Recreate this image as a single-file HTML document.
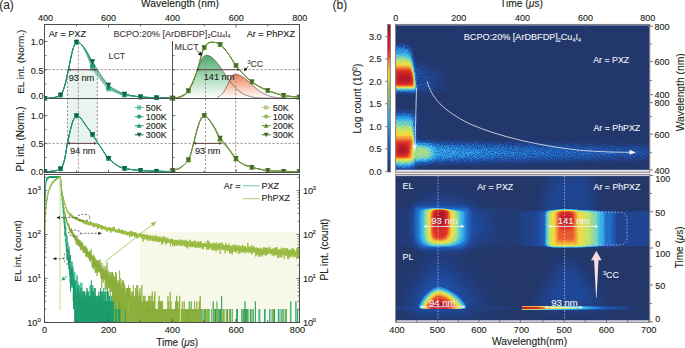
<!DOCTYPE html><html><head><meta charset="utf-8"><style>html,body{margin:0;padding:0;background:#fff;overflow:hidden;width:685px;height:348px;}svg{display:block;font-family:"Liberation Sans", sans-serif;}</style></head><body>
<svg width="685" height="348" viewBox="0 0 685 348">
<text x="-0.80" y="9.00" font-size="12.00" fill="#231f20" stroke="#231f20" stroke-width="0.05" text-anchor="start" >(a)</text>
<text x="332.60" y="9.00" font-size="12.00" fill="#231f20" stroke="#231f20" stroke-width="0.05" text-anchor="start" >(b)</text>
<text x="180.00" y="7.30" font-size="10.30" fill="#231f20" stroke="#231f20" stroke-width="0.12" text-anchor="middle" >Wavelength (nm)</text>
<text x="45.50" y="20.80" font-size="9.00" fill="#231f20" stroke="#231f20" stroke-width="0.12" text-anchor="middle" >400</text>
<text x="108.50" y="20.80" font-size="9.00" fill="#231f20" stroke="#231f20" stroke-width="0.12" text-anchor="middle" >600</text>
<text x="172.50" y="20.80" font-size="9.00" fill="#231f20" stroke="#231f20" stroke-width="0.12" text-anchor="middle" >400</text>
<text x="236.30" y="20.80" font-size="9.00" fill="#231f20" stroke="#231f20" stroke-width="0.12" text-anchor="middle" >600</text>
<text x="299.80" y="20.80" font-size="9.00" fill="#231f20" stroke="#231f20" stroke-width="0.12" text-anchor="middle" >800</text>
<rect x="67.5" y="69.7" width="29.8" height="28.3" fill="#e9f4ee"/>
<rect x="67.5" y="98" width="29.8" height="45.4" fill="#e9f4ee"/>
<defs><linearGradient id="gM" x1="0" y1="0" x2="0" y2="1"><stop offset="0" stop-color="#4aa86c"/><stop offset="0.55" stop-color="#b0dcbc"/><stop offset="1" stop-color="#ffffff"/></linearGradient><linearGradient id="gC" x1="0" y1="0" x2="0" y2="1"><stop offset="0" stop-color="#ec7c58"/><stop offset="0.5" stop-color="#f6c0aa"/><stop offset="1" stop-color="#ffffff"/></linearGradient></defs>
<path d="M178.85,97.59 L179.49,97.44 L180.12,97.27 L180.75,97.07 L181.39,96.83 L182.03,96.56 L182.66,96.24 L183.29,95.88 L183.93,95.47 L184.56,95.00 L185.20,94.47 L185.84,93.87 L186.47,93.20 L187.10,92.46 L187.74,91.65 L188.38,90.75 L189.01,89.77 L189.65,88.70 L190.28,87.55 L190.91,86.31 L191.55,84.99 L192.19,83.59 L192.82,82.12 L193.46,80.57 L194.09,78.97 L194.72,77.31 L195.36,75.61 L196.00,73.89 L196.63,72.15 L197.26,70.41 L197.90,68.68 L198.53,66.99 L199.17,65.35 L199.81,63.77 L200.44,62.28 L201.07,60.90 L201.71,59.63 L202.34,58.50 L202.98,57.51 L203.62,56.69 L204.25,56.03 L204.88,55.56 L205.52,55.28 L206.16,55.18 L206.79,55.21 L207.43,55.29 L208.06,55.44 L208.69,55.63 L209.33,55.89 L209.97,56.19 L210.60,56.55 L211.24,56.97 L211.87,57.43 L212.50,57.94 L213.14,58.50 L213.78,59.10 L214.41,59.74 L215.05,60.42 L215.68,61.14 L216.31,61.89 L216.95,62.68 L217.59,63.49 L218.22,64.34 L218.86,65.20 L219.49,66.09 L220.12,66.99 L220.76,67.91 L221.40,68.84 L222.03,69.78 L222.66,70.72 L223.30,71.67 L223.94,72.62 L224.57,73.57 L225.20,74.52 L225.84,75.46 L226.47,76.39 L227.11,77.31 L227.75,78.22 L228.38,79.12 L229.01,80.00 L229.65,80.86 L230.28,81.70 L230.92,82.53 L231.56,83.33 L232.19,84.11 L232.82,84.87 L233.46,85.60 L234.09,86.31 L234.73,87.00 L235.37,87.66 L236.00,88.29 L236.63,88.90 L237.27,89.48 L237.91,90.04 L238.54,90.58 L239.18,91.08 L239.81,91.57 L240.44,92.03 L241.08,92.46 L241.72,92.88 L242.35,93.27 L242.99,93.64 L243.62,93.98 L244.25,94.31 L244.89,94.62 L245.53,94.90 L246.16,95.17 L246.80,95.43 L247.43,95.66 L248.06,95.88 L248.70,96.08 L249.34,96.27 L249.97,96.45 L250.61,96.61 L251.24,96.76 L251.88,96.90 L252.51,97.03 L253.14,97.15 L253.78,97.25 L254.42,97.35 L255.05,97.44 L255.69,97.53 L256.32,97.60 L256.95,97.67 L257.59,97.74 L258.23,97.79 L258.86,97.85 L259.50,97.89 L260.13,97.94 L260.76,97.98 L261.40,98.01 L262.03,98.04 L262.67,98.07 L263.31,98.10 L263.94,98.12 L264.57,98.14 L265.21,98.16 L265.85,98.17 L266.48,98.19 L267.12,98.20 L267.75,98.21 L268.38,98.22 L269.02,98.23 L269.65,98.24 L270.29,98.25 L270.93,98.26 L271.56,98.26 L272.19,98.27 L272.83,98.27 L273.47,98.27 L274.10,98.28 Z" fill="url(#gM)"/>
<path d="M216.95,97.46 L217.59,97.24 L218.22,96.98 L218.86,96.66 L219.49,96.28 L220.12,95.84 L220.76,95.33 L221.40,94.73 L222.03,94.06 L222.66,93.30 L223.30,92.45 L223.94,91.51 L224.57,90.48 L225.20,89.38 L225.84,88.20 L226.47,86.96 L227.11,85.67 L227.75,84.36 L228.38,83.03 L229.01,81.72 L229.65,80.44 L230.28,79.21 L230.92,78.08 L231.56,77.05 L232.19,76.15 L232.82,75.41 L233.46,74.83 L234.09,74.44 L234.73,74.24 L235.37,74.22 L236.00,74.26 L236.63,74.34 L237.27,74.45 L237.91,74.61 L238.54,74.80 L239.18,75.02 L239.81,75.28 L240.44,75.57 L241.08,75.90 L241.72,76.25 L242.35,76.64 L242.99,77.05 L243.62,77.49 L244.25,77.95 L244.89,78.43 L245.53,78.93 L246.16,79.45 L246.80,79.99 L247.43,80.54 L248.06,81.10 L248.70,81.66 L249.34,82.24 L249.97,82.82 L250.61,83.40 L251.24,83.99 L251.88,84.57 L252.51,85.15 L253.14,85.73 L253.78,86.30 L254.42,86.86 L255.05,87.41 L255.69,87.96 L256.32,88.49 L256.95,89.01 L257.59,89.51 L258.23,90.01 L258.86,90.48 L259.50,90.94 L260.13,91.39 L260.76,91.82 L261.40,92.23 L262.03,92.62 L262.67,93.00 L263.31,93.36 L263.94,93.70 L264.57,94.03 L265.21,94.34 L265.85,94.63 L266.48,94.91 L267.12,95.17 L267.75,95.41 L268.38,95.65 L269.02,95.86 L269.65,96.06 L270.29,96.25 L270.93,96.43 L271.56,96.59 L272.19,96.74 L272.83,96.88 L273.47,97.01 L274.10,97.13 L274.74,97.24 L275.37,97.34 L276.00,97.44 L276.64,97.52 L277.27,97.60 L277.91,97.67 L278.55,97.74 L279.18,97.79 L279.81,97.85 L280.45,97.90 L281.09,97.94 L281.72,97.98 L282.36,98.02 L282.99,98.05 L283.62,98.08 L284.26,98.10 L284.89,98.13 L285.53,98.15 L286.17,98.17 L286.80,98.18 L287.44,98.20 L288.07,98.21 L288.70,98.22 L289.34,98.23 L289.98,98.24 L290.61,98.25 L291.25,98.25 L291.88,98.26 L292.51,98.27 L293.15,98.27 L293.78,98.27 L294.42,98.28 L295.06,98.28 L295.69,98.28 L296.32,98.29 L296.96,98.29 L297.60,98.29 L298.23,98.29 L298.87,98.29 L299.50,98.29 Z" fill="url(#gC)"/>
<path d="M178.85,97.59 L179.49,97.44 L180.12,97.27 L180.75,97.07 L181.39,96.83 L182.03,96.56 L182.66,96.24 L183.29,95.88 L183.93,95.47 L184.56,95.00 L185.20,94.47 L185.84,93.87 L186.47,93.20 L187.10,92.46 L187.74,91.65 L188.38,90.75 L189.01,89.77 L189.65,88.70 L190.28,87.55 L190.91,86.31 L191.55,84.99 L192.19,83.59 L192.82,82.12 L193.46,80.57 L194.09,78.97 L194.72,77.31 L195.36,75.61 L196.00,73.89 L196.63,72.15 L197.26,70.41 L197.90,68.68 L198.53,66.99 L199.17,65.35 L199.81,63.77 L200.44,62.28 L201.07,60.90 L201.71,59.63 L202.34,58.50 L202.98,57.51 L203.62,56.69 L204.25,56.03 L204.88,55.56 L205.52,55.28 L206.16,55.18 L206.79,55.21 L207.43,55.29 L208.06,55.44 L208.69,55.63 L209.33,55.89 L209.97,56.19 L210.60,56.55 L211.24,56.97 L211.87,57.43 L212.50,57.94 L213.14,58.50 L213.78,59.10 L214.41,59.74 L215.05,60.42 L215.68,61.14 L216.31,61.89 L216.95,62.68 L217.59,63.49 L218.22,64.34 L218.86,65.20 L219.49,66.09 L220.12,66.99 L220.76,67.91 L221.40,68.84 L222.03,69.78 L222.66,70.72 L223.30,71.67 L223.94,72.62 L224.57,73.57 L225.20,74.52 L225.84,75.46 L226.47,76.39 L227.11,77.31 L227.75,78.22 L228.38,79.12 L229.01,80.00 L229.65,80.86 L230.28,81.70 L230.92,82.53 L231.56,83.33 L232.19,84.11 L232.82,84.87 L233.46,85.60 L234.09,86.31 L234.73,87.00 L235.37,87.66 L236.00,88.29 L236.63,88.90 L237.27,89.48 L237.91,90.04 L238.54,90.58 L239.18,91.08 L239.81,91.57 L240.44,92.03 L241.08,92.46 L241.72,92.88 L242.35,93.27 L242.99,93.64 L243.62,93.98 L244.25,94.31 L244.89,94.62 L245.53,94.90 L246.16,95.17 L246.80,95.43 L247.43,95.66 L248.06,95.88 L248.70,96.08 L249.34,96.27 L249.97,96.45 L250.61,96.61 L251.24,96.76 L251.88,96.90 L252.51,97.03 L253.14,97.15 L253.78,97.25 L254.42,97.35 L255.05,97.44 L255.69,97.53 L256.32,97.60 L256.95,97.67 L257.59,97.74 L258.23,97.79 L258.86,97.85 L259.50,97.89 L260.13,97.94 L260.76,97.98 L261.40,98.01 L262.03,98.04 L262.67,98.07 L263.31,98.10 L263.94,98.12 L264.57,98.14 L265.21,98.16 L265.85,98.17 L266.48,98.19 L267.12,98.20 L267.75,98.21 L268.38,98.22 L269.02,98.23 L269.65,98.24 L270.29,98.25 L270.93,98.26 L271.56,98.26 L272.19,98.27 L272.83,98.27 L273.47,98.27 L274.10,98.28" fill="none" stroke="#4a3030" stroke-width="0.6"/>
<path d="M216.95,97.46 L217.59,97.24 L218.22,96.98 L218.86,96.66 L219.49,96.28 L220.12,95.84 L220.76,95.33 L221.40,94.73 L222.03,94.06 L222.66,93.30 L223.30,92.45 L223.94,91.51 L224.57,90.48 L225.20,89.38 L225.84,88.20 L226.47,86.96 L227.11,85.67 L227.75,84.36 L228.38,83.03 L229.01,81.72 L229.65,80.44 L230.28,79.21 L230.92,78.08 L231.56,77.05 L232.19,76.15 L232.82,75.41 L233.46,74.83 L234.09,74.44 L234.73,74.24 L235.37,74.22 L236.00,74.26 L236.63,74.34 L237.27,74.45 L237.91,74.61 L238.54,74.80 L239.18,75.02 L239.81,75.28 L240.44,75.57 L241.08,75.90 L241.72,76.25 L242.35,76.64 L242.99,77.05 L243.62,77.49 L244.25,77.95 L244.89,78.43 L245.53,78.93 L246.16,79.45 L246.80,79.99 L247.43,80.54 L248.06,81.10 L248.70,81.66 L249.34,82.24 L249.97,82.82 L250.61,83.40 L251.24,83.99 L251.88,84.57 L252.51,85.15 L253.14,85.73 L253.78,86.30 L254.42,86.86 L255.05,87.41 L255.69,87.96 L256.32,88.49 L256.95,89.01 L257.59,89.51 L258.23,90.01 L258.86,90.48 L259.50,90.94 L260.13,91.39 L260.76,91.82 L261.40,92.23 L262.03,92.62 L262.67,93.00 L263.31,93.36 L263.94,93.70 L264.57,94.03 L265.21,94.34 L265.85,94.63 L266.48,94.91 L267.12,95.17 L267.75,95.41 L268.38,95.65 L269.02,95.86 L269.65,96.06 L270.29,96.25 L270.93,96.43 L271.56,96.59 L272.19,96.74 L272.83,96.88 L273.47,97.01 L274.10,97.13 L274.74,97.24 L275.37,97.34 L276.00,97.44 L276.64,97.52 L277.27,97.60 L277.91,97.67 L278.55,97.74 L279.18,97.79 L279.81,97.85 L280.45,97.90 L281.09,97.94 L281.72,97.98 L282.36,98.02 L282.99,98.05 L283.62,98.08 L284.26,98.10 L284.89,98.13 L285.53,98.15 L286.17,98.17 L286.80,98.18 L287.44,98.20 L288.07,98.21 L288.70,98.22 L289.34,98.23 L289.98,98.24 L290.61,98.25 L291.25,98.25 L291.88,98.26 L292.51,98.27 L293.15,98.27 L293.78,98.27 L294.42,98.28 L295.06,98.28 L295.69,98.28 L296.32,98.29 L296.96,98.29 L297.60,98.29 L298.23,98.29 L298.87,98.29 L299.50,98.29" fill="none" stroke="#4a3030" stroke-width="0.6"/>
<line x1="44.5" y1="69.7" x2="299.5" y2="69.7" stroke="#a09494" stroke-width="1.0" stroke-dasharray="2.3,1.7" fill="none"/>
<line x1="44.5" y1="143.4" x2="299.5" y2="143.4" stroke="#a09494" stroke-width="1.0" stroke-dasharray="2.3,1.7" fill="none"/>
<line x1="67.5" y1="69.7" x2="67.5" y2="143.4" stroke="#a09494" stroke-width="1.0" stroke-dasharray="2.3,1.7" fill="none"/>
<line x1="97.3" y1="69.7" x2="97.3" y2="143.4" stroke="#a09494" stroke-width="1.0" stroke-dasharray="2.3,1.7" fill="none"/>
<line x1="78.3" y1="42.5" x2="78.3" y2="172" stroke="#a09494" stroke-width="1.0" stroke-dasharray="2.3,1.7" fill="none"/>
<line x1="205.5" y1="55" x2="205.5" y2="172" stroke="#a09494" stroke-width="1.0" stroke-dasharray="2.3,1.7" fill="none"/>
<line x1="235.7" y1="73" x2="235.7" y2="172" stroke="#a09494" stroke-width="1.0" stroke-dasharray="2.3,1.7" fill="none"/>
<g clip-path="url(#cpA1)">
<clipPath id="cpA1"><rect x="44.5" y="24.5" width="255" height="148"/></clipPath>
<path d="M44.50,98.30 L44.82,98.29 L45.14,98.28 L45.46,98.28 L45.78,98.28 L46.10,98.28 L46.42,98.28 L46.74,98.27 L47.06,98.27 L47.38,98.27 L47.70,98.26 L48.02,98.26 L48.34,98.25 L48.66,98.24 L48.98,98.23 L49.30,98.21 L49.62,98.19 L49.94,98.17 L50.26,98.15 L50.58,98.12 L50.90,98.09 L51.22,98.06 L51.54,98.02 L51.86,97.97 L52.18,97.91 L52.50,97.85 L52.82,97.79 L53.14,97.72 L53.46,97.66 L53.78,97.60 L54.10,97.54 L54.42,97.47 L54.74,97.41 L55.06,97.34 L55.38,97.27 L55.70,97.20 L56.02,97.12 L56.34,97.04 L56.66,96.95 L56.98,96.85 L57.30,96.75 L57.62,96.64 L57.94,96.52 L58.26,96.39 L58.58,96.24 L58.90,96.08 L59.22,95.90 L59.54,95.71 L59.86,95.48 L60.18,95.23 L60.50,94.94 L60.82,94.61 L61.14,94.24 L61.46,93.83 L61.78,93.37 L62.10,92.84 L62.42,92.24 L62.74,91.55 L63.06,90.79 L63.38,89.94 L63.70,89.01 L64.02,88.03 L64.34,87.01 L64.66,85.98 L64.98,84.89 L65.30,83.71 L65.62,82.44 L65.94,81.09 L66.26,79.68 L66.58,78.21 L66.90,76.70 L67.22,75.18 L67.54,73.65 L67.86,72.13 L68.18,70.64 L68.50,69.18 L68.82,67.72 L69.14,66.22 L69.46,64.69 L69.78,63.14 L70.10,61.58 L70.42,60.03 L70.74,58.49 L71.06,56.97 L71.38,55.48 L71.70,54.04 L72.02,52.66 L72.34,51.35 L72.66,50.14 L72.98,49.05 L73.30,48.06 L73.62,47.17 L73.94,46.37 L74.26,45.64 L74.58,44.99 L74.90,44.40 L75.22,43.86 L75.54,43.35 L75.86,42.86 L76.18,42.42 L76.50,42.12 L76.82,42.02 L77.14,42.09 L77.46,42.21 L77.78,42.30 L78.10,42.35 L78.42,42.39 L78.74,42.43 L79.06,42.51 L79.38,42.62 L79.70,42.78 L80.02,43.00 L80.34,43.27 L80.66,43.60 L80.98,43.98 L81.30,44.40 L81.62,44.85 L81.94,45.32 L82.26,45.81 L82.58,46.31 L82.90,46.84 L83.22,47.38 L83.54,47.94 L83.86,48.51 L84.18,49.10 L84.50,49.70 L84.82,50.32 L85.14,50.95 L85.46,51.60 L85.78,52.26 L86.10,52.94 L86.42,53.65 L86.74,54.40 L87.06,55.18 L87.38,56.00 L87.70,56.83 L88.02,57.68 L88.34,58.54 L88.66,59.40 L88.98,60.26 L89.30,61.12 L89.62,61.97 L89.94,62.81 L90.26,63.62 L90.58,64.42 L90.90,65.20 L91.22,65.94 L91.54,66.66 L91.86,67.35 L92.18,68.00 L92.50,68.62 L92.82,69.20 L93.14,69.76 L93.46,70.30 L93.78,70.83 L94.10,71.34 L94.42,71.83 L94.74,72.31 L95.06,72.77 L95.38,73.23 L95.70,73.67 L96.02,74.11 L96.34,74.54 L96.66,74.96 L96.98,75.38 L97.30,75.79 L97.62,76.20 L97.94,76.60 L98.26,77.00 L98.58,77.40 L98.90,77.80 L99.22,78.20 L99.54,78.60 L99.86,79.00 L100.18,79.41 L100.50,79.81 L100.82,80.22 L101.14,80.64 L101.46,81.05 L101.78,81.46 L102.10,81.88 L102.42,82.29 L102.74,82.70 L103.06,83.11 L103.38,83.52 L103.70,83.92 L104.02,84.32 L104.34,84.71 L104.66,85.10 L104.98,85.48 L105.30,85.85 L105.62,86.22 L105.94,86.58 L106.26,86.93 L106.58,87.27 L106.90,87.60 L107.22,87.91 L107.54,88.22 L107.86,88.51 L108.18,88.79 L108.50,89.06 L108.82,89.31 L109.14,89.54 L109.46,89.77 L109.78,89.98 L110.10,90.17 L110.42,90.36 L110.74,90.53 L111.06,90.69 L111.38,90.85 L111.70,91.00 L112.02,91.14 L112.34,91.27 L112.66,91.39 L112.98,91.52 L113.30,91.63 L113.62,91.75 L113.94,91.86 L114.26,91.97 L114.58,92.08 L114.90,92.18 L115.22,92.29 L115.54,92.41 L115.86,92.52 L116.18,92.64 L116.50,92.76 L116.82,92.88 L117.14,93.01 L117.46,93.13 L117.78,93.26 L118.10,93.39 L118.42,93.52 L118.74,93.65 L119.06,93.77 L119.38,93.89 L119.70,94.01 L120.02,94.12 L120.34,94.23 L120.66,94.33 L120.98,94.43 L121.30,94.52 L121.62,94.61 L121.94,94.69 L122.26,94.77 L122.58,94.84 L122.90,94.91 L123.22,94.98 L123.54,95.04 L123.86,95.10 L124.18,95.16 L124.50,95.22 L124.82,95.27 L125.14,95.33 L125.46,95.37 L125.78,95.42 L126.10,95.47 L126.42,95.52 L126.74,95.56 L127.06,95.60 L127.38,95.64 L127.70,95.68 L128.02,95.72 L128.34,95.76 L128.66,95.80 L128.98,95.84 L129.30,95.88 L129.62,95.91 L129.94,95.95 L130.26,95.98 L130.58,96.02 L130.90,96.05 L131.22,96.08 L131.54,96.12 L131.86,96.15 L132.18,96.18 L132.50,96.21 L132.82,96.24 L133.14,96.27 L133.46,96.30 L133.78,96.33 L134.10,96.36 L134.42,96.39 L134.74,96.42 L135.06,96.45 L135.38,96.48 L135.70,96.50 L136.02,96.53 L136.34,96.56 L136.66,96.59 L136.98,96.61 L137.30,96.64 L137.62,96.67 L137.94,96.69 L138.26,96.72 L138.58,96.75 L138.90,96.77 L139.22,96.80 L139.54,96.82 L139.86,96.85 L140.18,96.87 L140.50,96.90 L140.82,96.92 L141.14,96.95 L141.46,96.97 L141.78,97.00 L142.10,97.02 L142.42,97.04 L142.74,97.07 L143.06,97.09 L143.38,97.11 L143.70,97.13 L144.02,97.15 L144.34,97.17 L144.66,97.19 L144.98,97.21 L145.30,97.23 L145.62,97.25 L145.94,97.27 L146.26,97.29 L146.58,97.30 L146.90,97.32 L147.22,97.34 L147.54,97.35 L147.86,97.37 L148.18,97.39 L148.50,97.40 L148.82,97.42 L149.14,97.44 L149.46,97.45 L149.78,97.47 L150.10,97.48 L150.42,97.50 L150.74,97.51 L151.06,97.52 L151.38,97.54 L151.70,97.55 L152.02,97.56 L152.34,97.58 L152.66,97.59 L152.98,97.60 L153.30,97.62 L153.62,97.63 L153.94,97.64 L154.26,97.66 L154.58,97.67 L154.90,97.68 L155.22,97.69 L155.54,97.70 L155.86,97.72 L156.18,97.73 L156.50,97.74 L156.82,97.75 L157.14,97.76 L157.46,97.77 L157.78,97.78 L158.10,97.79 L158.42,97.80 L158.74,97.81 L159.06,97.82 L159.38,97.83 L159.70,97.84 L160.02,97.85 L160.34,97.85 L160.66,97.86 L160.98,97.87 L161.30,97.88 L161.62,97.88 L161.94,97.89 L162.26,97.90 L162.58,97.90 L162.90,97.91 L163.22,97.92 L163.54,97.92 L163.86,97.93 L164.18,97.94 L164.50,97.94 L164.82,97.95 L165.14,97.95 L165.46,97.96 L165.78,97.97 L166.10,97.97 L166.42,97.98 L166.74,97.98 L167.06,97.99 L167.38,97.99 L167.70,98.00 L168.02,98.00 L168.34,98.01 L168.66,98.01 L168.98,98.02 L169.30,98.02 L169.62,98.03 L169.94,98.03 L170.26,98.04 L170.58,98.04 L170.90,98.05 L171.22,98.05 L171.54,98.06 L171.86,98.06 L172.18,98.07 L172.50,98.08" fill="none" stroke="#62bea2" stroke-width="0.95"/>
<path d="M44.50,98.30 L44.82,98.29 L45.14,98.28 L45.46,98.28 L45.78,98.28 L46.10,98.28 L46.42,98.28 L46.74,98.27 L47.06,98.27 L47.38,98.27 L47.70,98.26 L48.02,98.26 L48.34,98.25 L48.66,98.24 L48.98,98.23 L49.30,98.21 L49.62,98.19 L49.94,98.17 L50.26,98.15 L50.58,98.12 L50.90,98.09 L51.22,98.06 L51.54,98.02 L51.86,97.97 L52.18,97.91 L52.50,97.85 L52.82,97.79 L53.14,97.72 L53.46,97.66 L53.78,97.60 L54.10,97.54 L54.42,97.47 L54.74,97.41 L55.06,97.34 L55.38,97.27 L55.70,97.20 L56.02,97.12 L56.34,97.04 L56.66,96.95 L56.98,96.85 L57.30,96.75 L57.62,96.64 L57.94,96.52 L58.26,96.39 L58.58,96.24 L58.90,96.08 L59.22,95.90 L59.54,95.71 L59.86,95.48 L60.18,95.23 L60.50,94.94 L60.82,94.61 L61.14,94.24 L61.46,93.83 L61.78,93.37 L62.10,92.84 L62.42,92.24 L62.74,91.55 L63.06,90.79 L63.38,89.94 L63.70,89.01 L64.02,88.03 L64.34,87.01 L64.66,85.98 L64.98,84.89 L65.30,83.71 L65.62,82.44 L65.94,81.09 L66.26,79.68 L66.58,78.21 L66.90,76.70 L67.22,75.18 L67.54,73.65 L67.86,72.13 L68.18,70.64 L68.50,69.18 L68.82,67.72 L69.14,66.22 L69.46,64.69 L69.78,63.14 L70.10,61.58 L70.42,60.03 L70.74,58.49 L71.06,56.97 L71.38,55.48 L71.70,54.04 L72.02,52.66 L72.34,51.35 L72.66,50.14 L72.98,49.05 L73.30,48.06 L73.62,47.17 L73.94,46.37 L74.26,45.64 L74.58,44.99 L74.90,44.40 L75.22,43.86 L75.54,43.35 L75.86,42.86 L76.18,42.42 L76.50,42.12 L76.82,42.02 L77.14,42.09 L77.46,42.21 L77.78,42.30 L78.10,42.37 L78.42,42.44 L78.74,42.54 L79.06,42.65 L79.38,42.80 L79.70,42.97 L80.02,43.18 L80.34,43.41 L80.66,43.68 L80.98,43.98 L81.30,44.30 L81.62,44.63 L81.94,44.97 L82.26,45.33 L82.58,45.69 L82.90,46.07 L83.22,46.46 L83.54,46.86 L83.86,47.26 L84.18,47.68 L84.50,48.11 L84.82,48.55 L85.14,49.00 L85.46,49.46 L85.78,49.94 L86.10,50.42 L86.42,50.92 L86.74,51.44 L87.06,51.97 L87.38,52.51 L87.70,53.07 L88.02,53.63 L88.34,54.20 L88.66,54.78 L88.98,55.36 L89.30,55.94 L89.62,56.52 L89.94,57.10 L90.26,57.68 L90.58,58.26 L90.90,58.84 L91.22,59.41 L91.54,59.97 L91.86,60.53 L92.18,61.08 L92.50,61.62 L92.82,62.16 L93.14,62.70 L93.46,63.24 L93.78,63.78 L94.10,64.32 L94.42,64.86 L94.74,65.40 L95.06,65.93 L95.38,66.47 L95.70,67.00 L96.02,67.54 L96.34,68.07 L96.66,68.59 L96.98,69.12 L97.30,69.64 L97.62,70.16 L97.94,70.67 L98.26,71.19 L98.58,71.69 L98.90,72.20 L99.22,72.69 L99.54,73.18 L99.86,73.67 L100.18,74.15 L100.50,74.63 L100.82,75.10 L101.14,75.57 L101.46,76.04 L101.78,76.51 L102.10,76.97 L102.42,77.44 L102.74,77.90 L103.06,78.36 L103.38,78.81 L103.70,79.26 L104.02,79.71 L104.34,80.15 L104.66,80.58 L104.98,81.01 L105.30,81.43 L105.62,81.84 L105.94,82.25 L106.26,82.65 L106.58,83.03 L106.90,83.41 L107.22,83.78 L107.54,84.14 L107.86,84.48 L108.18,84.82 L108.50,85.14 L108.82,85.45 L109.14,85.74 L109.46,86.03 L109.78,86.30 L110.10,86.56 L110.42,86.81 L110.74,87.04 L111.06,87.27 L111.38,87.50 L111.70,87.71 L112.02,87.92 L112.34,88.11 L112.66,88.31 L112.98,88.50 L113.30,88.68 L113.62,88.86 L113.94,89.04 L114.26,89.21 L114.58,89.38 L114.90,89.55 L115.22,89.72 L115.54,89.89 L115.86,90.07 L116.18,90.24 L116.50,90.41 L116.82,90.59 L117.14,90.77 L117.46,90.95 L117.78,91.13 L118.10,91.31 L118.42,91.49 L118.74,91.66 L119.06,91.84 L119.38,92.01 L119.70,92.17 L120.02,92.33 L120.34,92.48 L120.66,92.62 L120.98,92.76 L121.30,92.89 L121.62,93.01 L121.94,93.13 L122.26,93.25 L122.58,93.36 L122.90,93.46 L123.22,93.56 L123.54,93.66 L123.86,93.75 L124.18,93.84 L124.50,93.93 L124.82,94.02 L125.14,94.10 L125.46,94.18 L125.78,94.26 L126.10,94.34 L126.42,94.42 L126.74,94.49 L127.06,94.57 L127.38,94.64 L127.70,94.71 L128.02,94.78 L128.34,94.85 L128.66,94.92 L128.98,94.99 L129.30,95.05 L129.62,95.12 L129.94,95.18 L130.26,95.25 L130.58,95.31 L130.90,95.37 L131.22,95.44 L131.54,95.50 L131.86,95.56 L132.18,95.62 L132.50,95.68 L132.82,95.73 L133.14,95.79 L133.46,95.85 L133.78,95.90 L134.10,95.96 L134.42,96.01 L134.74,96.07 L135.06,96.12 L135.38,96.17 L135.70,96.22 L136.02,96.27 L136.34,96.32 L136.66,96.37 L136.98,96.42 L137.30,96.47 L137.62,96.52 L137.94,96.56 L138.26,96.61 L138.58,96.65 L138.90,96.70 L139.22,96.74 L139.54,96.78 L139.86,96.82 L140.18,96.86 L140.50,96.90 L140.82,96.94 L141.14,96.97 L141.46,97.01 L141.78,97.04 L142.10,97.07 L142.42,97.10 L142.74,97.13 L143.06,97.16 L143.38,97.19 L143.70,97.21 L144.02,97.24 L144.34,97.26 L144.66,97.28 L144.98,97.30 L145.30,97.32 L145.62,97.34 L145.94,97.36 L146.26,97.38 L146.58,97.40 L146.90,97.41 L147.22,97.43 L147.54,97.44 L147.86,97.46 L148.18,97.47 L148.50,97.48 L148.82,97.50 L149.14,97.51 L149.46,97.52 L149.78,97.53 L150.10,97.54 L150.42,97.55 L150.74,97.56 L151.06,97.57 L151.38,97.58 L151.70,97.59 L152.02,97.60 L152.34,97.61 L152.66,97.62 L152.98,97.63 L153.30,97.64 L153.62,97.65 L153.94,97.66 L154.26,97.67 L154.58,97.68 L154.90,97.69 L155.22,97.70 L155.54,97.71 L155.86,97.72 L156.18,97.73 L156.50,97.74 L156.82,97.75 L157.14,97.76 L157.46,97.77 L157.78,97.78 L158.10,97.79 L158.42,97.80 L158.74,97.81 L159.06,97.82 L159.38,97.83 L159.70,97.84 L160.02,97.85 L160.34,97.85 L160.66,97.86 L160.98,97.87 L161.30,97.88 L161.62,97.88 L161.94,97.89 L162.26,97.90 L162.58,97.90 L162.90,97.91 L163.22,97.92 L163.54,97.92 L163.86,97.93 L164.18,97.94 L164.50,97.94 L164.82,97.95 L165.14,97.95 L165.46,97.96 L165.78,97.97 L166.10,97.97 L166.42,97.98 L166.74,97.98 L167.06,97.99 L167.38,97.99 L167.70,98.00 L168.02,98.00 L168.34,98.01 L168.66,98.01 L168.98,98.02 L169.30,98.02 L169.62,98.03 L169.94,98.03 L170.26,98.04 L170.58,98.04 L170.90,98.05 L171.22,98.05 L171.54,98.06 L171.86,98.06 L172.18,98.07 L172.50,98.08" fill="none" stroke="#10604a" stroke-width="0.95"/>
<path d="M44.50,98.30 L44.82,98.29 L45.14,98.28 L45.46,98.28 L45.78,98.28 L46.10,98.28 L46.42,98.28 L46.74,98.27 L47.06,98.27 L47.38,98.27 L47.70,98.26 L48.02,98.26 L48.34,98.25 L48.66,98.24 L48.98,98.23 L49.30,98.21 L49.62,98.19 L49.94,98.17 L50.26,98.15 L50.58,98.12 L50.90,98.09 L51.22,98.06 L51.54,98.02 L51.86,97.97 L52.18,97.91 L52.50,97.85 L52.82,97.79 L53.14,97.72 L53.46,97.66 L53.78,97.60 L54.10,97.54 L54.42,97.47 L54.74,97.41 L55.06,97.34 L55.38,97.27 L55.70,97.20 L56.02,97.12 L56.34,97.04 L56.66,96.95 L56.98,96.85 L57.30,96.75 L57.62,96.64 L57.94,96.52 L58.26,96.39 L58.58,96.24 L58.90,96.08 L59.22,95.90 L59.54,95.71 L59.86,95.48 L60.18,95.23 L60.50,94.94 L60.82,94.61 L61.14,94.24 L61.46,93.83 L61.78,93.37 L62.10,92.84 L62.42,92.24 L62.74,91.55 L63.06,90.79 L63.38,89.94 L63.70,89.01 L64.02,88.03 L64.34,87.01 L64.66,85.98 L64.98,84.89 L65.30,83.71 L65.62,82.44 L65.94,81.09 L66.26,79.68 L66.58,78.21 L66.90,76.70 L67.22,75.18 L67.54,73.65 L67.86,72.13 L68.18,70.64 L68.50,69.18 L68.82,67.72 L69.14,66.22 L69.46,64.69 L69.78,63.14 L70.10,61.58 L70.42,60.03 L70.74,58.49 L71.06,56.97 L71.38,55.48 L71.70,54.04 L72.02,52.66 L72.34,51.35 L72.66,50.14 L72.98,49.05 L73.30,48.06 L73.62,47.17 L73.94,46.37 L74.26,45.64 L74.58,44.99 L74.90,44.40 L75.22,43.86 L75.54,43.35 L75.86,42.86 L76.18,42.42 L76.50,42.12 L76.82,42.02 L77.14,42.09 L77.46,42.21 L77.78,42.30 L78.10,42.36 L78.42,42.41 L78.74,42.47 L79.06,42.56 L79.38,42.68 L79.70,42.85 L80.02,43.06 L80.34,43.32 L80.66,43.63 L80.98,43.98 L81.30,44.37 L81.62,44.78 L81.94,45.20 L82.26,45.64 L82.58,46.10 L82.90,46.58 L83.22,47.07 L83.54,47.57 L83.86,48.09 L84.18,48.62 L84.50,49.17 L84.82,49.72 L85.14,50.30 L85.46,50.88 L85.78,51.49 L86.10,52.10 L86.42,52.74 L86.74,53.42 L87.06,54.12 L87.38,54.85 L87.70,55.59 L88.02,56.35 L88.34,57.12 L88.66,57.89 L88.98,58.67 L89.30,59.44 L89.62,60.21 L89.94,60.96 L90.26,61.71 L90.58,62.44 L90.90,63.15 L91.22,63.84 L91.54,64.51 L91.86,65.16 L92.18,65.78 L92.50,66.38 L92.82,66.95 L93.14,67.51 L93.46,68.05 L93.78,68.58 L94.10,69.10 L94.42,69.61 L94.74,70.11 L95.06,70.60 L95.38,71.09 L95.70,71.56 L96.02,72.03 L96.34,72.50 L96.66,72.95 L96.98,73.41 L97.30,73.86 L97.62,74.30 L97.94,74.75 L98.26,75.19 L98.58,75.62 L98.90,76.06 L99.22,76.49 L99.54,76.92 L99.86,77.36 L100.18,77.79 L100.50,78.22 L100.82,78.65 L101.14,79.08 L101.46,79.52 L101.78,79.95 L102.10,80.39 L102.42,80.82 L102.74,81.25 L103.06,81.68 L103.38,82.11 L103.70,82.53 L104.02,82.94 L104.34,83.36 L104.66,83.76 L104.98,84.16 L105.30,84.56 L105.62,84.94 L105.94,85.32 L106.26,85.68 L106.58,86.04 L106.90,86.39 L107.22,86.72 L107.54,87.05 L107.86,87.36 L108.18,87.65 L108.50,87.94 L108.82,88.21 L109.14,88.46 L109.46,88.70 L109.78,88.93 L110.10,89.14 L110.42,89.34 L110.74,89.54 L111.06,89.72 L111.38,89.89 L111.70,90.05 L112.02,90.21 L112.34,90.36 L112.66,90.50 L112.98,90.64 L113.30,90.78 L113.62,90.91 L113.94,91.03 L114.26,91.16 L114.58,91.28 L114.90,91.41 L115.22,91.53 L115.54,91.66 L115.86,91.79 L116.18,91.92 L116.50,92.05 L116.82,92.19 L117.14,92.33 L117.46,92.47 L117.78,92.61 L118.10,92.75 L118.42,92.89 L118.74,93.03 L119.06,93.16 L119.38,93.29 L119.70,93.42 L120.02,93.54 L120.34,93.66 L120.66,93.77 L120.98,93.88 L121.30,93.98 L121.62,94.07 L121.94,94.17 L122.26,94.25 L122.58,94.34 L122.90,94.42 L123.22,94.49 L123.54,94.57 L123.86,94.64 L124.18,94.71 L124.50,94.77 L124.82,94.83 L125.14,94.90 L125.46,94.96 L125.78,95.02 L126.10,95.07 L126.42,95.13 L126.74,95.18 L127.06,95.23 L127.38,95.29 L127.70,95.34 L128.02,95.39 L128.34,95.44 L128.66,95.49 L128.98,95.53 L129.30,95.58 L129.62,95.63 L129.94,95.67 L130.26,95.72 L130.58,95.76 L130.90,95.81 L131.22,95.85 L131.54,95.89 L131.86,95.94 L132.18,95.98 L132.50,96.02 L132.82,96.06 L133.14,96.10 L133.46,96.14 L133.78,96.18 L134.10,96.22 L134.42,96.25 L134.74,96.29 L135.06,96.33 L135.38,96.37 L135.70,96.40 L136.02,96.44 L136.34,96.48 L136.66,96.51 L136.98,96.55 L137.30,96.58 L137.62,96.61 L137.94,96.65 L138.26,96.68 L138.58,96.71 L138.90,96.75 L139.22,96.78 L139.54,96.81 L139.86,96.84 L140.18,96.87 L140.50,96.90 L140.82,96.93 L141.14,96.96 L141.46,96.99 L141.78,97.01 L142.10,97.04 L142.42,97.06 L142.74,97.09 L143.06,97.11 L143.38,97.14 L143.70,97.16 L144.02,97.18 L144.34,97.20 L144.66,97.22 L144.98,97.24 L145.30,97.26 L145.62,97.28 L145.94,97.30 L146.26,97.32 L146.58,97.34 L146.90,97.35 L147.22,97.37 L147.54,97.39 L147.86,97.40 L148.18,97.42 L148.50,97.43 L148.82,97.45 L149.14,97.46 L149.46,97.47 L149.78,97.49 L150.10,97.50 L150.42,97.52 L150.74,97.53 L151.06,97.54 L151.38,97.55 L151.70,97.57 L152.02,97.58 L152.34,97.59 L152.66,97.60 L152.98,97.61 L153.30,97.62 L153.62,97.64 L153.94,97.65 L154.26,97.66 L154.58,97.67 L154.90,97.68 L155.22,97.69 L155.54,97.71 L155.86,97.72 L156.18,97.73 L156.50,97.74 L156.82,97.75 L157.14,97.76 L157.46,97.77 L157.78,97.78 L158.10,97.79 L158.42,97.80 L158.74,97.81 L159.06,97.82 L159.38,97.83 L159.70,97.84 L160.02,97.85 L160.34,97.85 L160.66,97.86 L160.98,97.87 L161.30,97.88 L161.62,97.88 L161.94,97.89 L162.26,97.90 L162.58,97.90 L162.90,97.91 L163.22,97.92 L163.54,97.92 L163.86,97.93 L164.18,97.94 L164.50,97.94 L164.82,97.95 L165.14,97.95 L165.46,97.96 L165.78,97.97 L166.10,97.97 L166.42,97.98 L166.74,97.98 L167.06,97.99 L167.38,97.99 L167.70,98.00 L168.02,98.00 L168.34,98.01 L168.66,98.01 L168.98,98.02 L169.30,98.02 L169.62,98.03 L169.94,98.03 L170.26,98.04 L170.58,98.04 L170.90,98.05 L171.22,98.05 L171.54,98.06 L171.86,98.06 L172.18,98.07 L172.50,98.08" fill="none" stroke="#2aa276" stroke-width="0.95"/>
<path d="M44.50,98.30 L44.82,98.29 L45.14,98.28 L45.46,98.28 L45.78,98.28 L46.10,98.28 L46.42,98.28 L46.74,98.27 L47.06,98.27 L47.38,98.27 L47.70,98.26 L48.02,98.26 L48.34,98.25 L48.66,98.24 L48.98,98.23 L49.30,98.21 L49.62,98.19 L49.94,98.17 L50.26,98.15 L50.58,98.12 L50.90,98.09 L51.22,98.06 L51.54,98.02 L51.86,97.97 L52.18,97.91 L52.50,97.85 L52.82,97.79 L53.14,97.72 L53.46,97.66 L53.78,97.60 L54.10,97.54 L54.42,97.47 L54.74,97.41 L55.06,97.34 L55.38,97.27 L55.70,97.20 L56.02,97.12 L56.34,97.04 L56.66,96.95 L56.98,96.85 L57.30,96.75 L57.62,96.64 L57.94,96.52 L58.26,96.39 L58.58,96.24 L58.90,96.08 L59.22,95.90 L59.54,95.71 L59.86,95.48 L60.18,95.23 L60.50,94.94 L60.82,94.61 L61.14,94.24 L61.46,93.83 L61.78,93.37 L62.10,92.84 L62.42,92.24 L62.74,91.55 L63.06,90.79 L63.38,89.94 L63.70,89.01 L64.02,88.03 L64.34,87.01 L64.66,85.98 L64.98,84.89 L65.30,83.71 L65.62,82.44 L65.94,81.09 L66.26,79.68 L66.58,78.21 L66.90,76.70 L67.22,75.18 L67.54,73.65 L67.86,72.13 L68.18,70.64 L68.50,69.18 L68.82,67.72 L69.14,66.22 L69.46,64.69 L69.78,63.14 L70.10,61.58 L70.42,60.03 L70.74,58.49 L71.06,56.97 L71.38,55.48 L71.70,54.04 L72.02,52.66 L72.34,51.35 L72.66,50.14 L72.98,49.05 L73.30,48.06 L73.62,47.17 L73.94,46.37 L74.26,45.64 L74.58,44.99 L74.90,44.40 L75.22,43.86 L75.54,43.35 L75.86,42.86 L76.18,42.42 L76.50,42.12 L76.82,42.02 L77.14,42.09 L77.46,42.21 L77.78,42.30 L78.10,42.36 L78.42,42.43 L78.74,42.50 L79.06,42.60 L79.38,42.74 L79.70,42.91 L80.02,43.12 L80.34,43.37 L80.66,43.66 L80.98,43.98 L81.30,44.33 L81.62,44.70 L81.94,45.09 L82.26,45.48 L82.58,45.89 L82.90,46.32 L83.22,46.75 L83.54,47.20 L83.86,47.66 L84.18,48.14 L84.50,48.63 L84.82,49.13 L85.14,49.64 L85.46,50.17 L85.78,50.71 L86.10,51.26 L86.42,51.84 L86.74,52.44 L87.06,53.06 L87.38,53.71 L87.70,54.36 L88.02,55.03 L88.34,55.71 L88.66,56.40 L88.98,57.08 L89.30,57.77 L89.62,58.45 L89.94,59.13 L90.26,59.80 L90.58,60.46 L90.90,61.11 L91.22,61.75 L91.54,62.37 L91.86,62.98 L92.18,63.57 L92.50,64.14 L92.82,64.70 L93.14,65.24 L93.46,65.78 L93.78,66.32 L94.10,66.85 L94.42,67.37 L94.74,67.89 L95.06,68.40 L95.38,68.91 L95.70,69.41 L96.02,69.91 L96.34,70.40 L96.66,70.89 L96.98,71.37 L97.30,71.85 L97.62,72.33 L97.94,72.81 L98.26,73.28 L98.58,73.75 L98.90,74.21 L99.22,74.67 L99.54,75.13 L99.86,75.59 L100.18,76.04 L100.50,76.49 L100.82,76.94 L101.14,77.39 L101.46,77.83 L101.78,78.28 L102.10,78.73 L102.42,79.18 L102.74,79.62 L103.06,80.06 L103.38,80.50 L103.70,80.93 L104.02,81.36 L104.34,81.78 L104.66,82.20 L104.98,82.61 L105.30,83.01 L105.62,83.41 L105.94,83.80 L106.26,84.18 L106.58,84.55 L106.90,84.91 L107.22,85.26 L107.54,85.59 L107.86,85.92 L108.18,86.24 L108.50,86.54 L108.82,86.83 L109.14,87.10 L109.46,87.36 L109.78,87.61 L110.10,87.85 L110.42,88.07 L110.74,88.29 L111.06,88.49 L111.38,88.69 L111.70,88.88 L112.02,89.06 L112.34,89.24 L112.66,89.41 L112.98,89.57 L113.30,89.73 L113.62,89.89 L113.94,90.04 L114.26,90.19 L114.58,90.34 L114.90,90.49 L115.22,90.64 L115.54,90.79 L115.86,90.94 L116.18,91.09 L116.50,91.24 L116.82,91.40 L117.14,91.56 L117.46,91.72 L117.78,91.88 L118.10,92.05 L118.42,92.21 L118.74,92.36 L119.06,92.52 L119.38,92.67 L119.70,92.82 L120.02,92.96 L120.34,93.09 L120.66,93.22 L120.98,93.34 L121.30,93.46 L121.62,93.57 L121.94,93.68 L122.26,93.78 L122.58,93.87 L122.90,93.97 L123.22,94.06 L123.54,94.14 L123.86,94.22 L124.18,94.30 L124.50,94.38 L124.82,94.45 L125.14,94.53 L125.46,94.60 L125.78,94.67 L126.10,94.73 L126.42,94.80 L126.74,94.86 L127.06,94.92 L127.38,94.99 L127.70,95.05 L128.02,95.11 L128.34,95.17 L128.66,95.22 L128.98,95.28 L129.30,95.34 L129.62,95.39 L129.94,95.45 L130.26,95.50 L130.58,95.56 L130.90,95.61 L131.22,95.66 L131.54,95.71 L131.86,95.76 L132.18,95.81 L132.50,95.86 L132.82,95.91 L133.14,95.96 L133.46,96.00 L133.78,96.05 L134.10,96.10 L134.42,96.14 L134.74,96.19 L135.06,96.23 L135.38,96.28 L135.70,96.32 L136.02,96.36 L136.34,96.41 L136.66,96.45 L136.98,96.49 L137.30,96.53 L137.62,96.57 L137.94,96.61 L138.26,96.65 L138.58,96.69 L138.90,96.72 L139.22,96.76 L139.54,96.80 L139.86,96.83 L140.18,96.87 L140.50,96.90 L140.82,96.93 L141.14,96.96 L141.46,97.00 L141.78,97.02 L142.10,97.05 L142.42,97.08 L142.74,97.11 L143.06,97.13 L143.38,97.16 L143.70,97.18 L144.02,97.21 L144.34,97.23 L144.66,97.25 L144.98,97.27 L145.30,97.29 L145.62,97.31 L145.94,97.33 L146.26,97.35 L146.58,97.36 L146.90,97.38 L147.22,97.40 L147.54,97.41 L147.86,97.43 L148.18,97.44 L148.50,97.46 L148.82,97.47 L149.14,97.48 L149.46,97.50 L149.78,97.51 L150.10,97.52 L150.42,97.53 L150.74,97.54 L151.06,97.56 L151.38,97.57 L151.70,97.58 L152.02,97.59 L152.34,97.60 L152.66,97.61 L152.98,97.62 L153.30,97.63 L153.62,97.64 L153.94,97.65 L154.26,97.66 L154.58,97.67 L154.90,97.68 L155.22,97.69 L155.54,97.71 L155.86,97.72 L156.18,97.73 L156.50,97.74 L156.82,97.75 L157.14,97.76 L157.46,97.77 L157.78,97.78 L158.10,97.79 L158.42,97.80 L158.74,97.81 L159.06,97.82 L159.38,97.83 L159.70,97.84 L160.02,97.85 L160.34,97.85 L160.66,97.86 L160.98,97.87 L161.30,97.88 L161.62,97.88 L161.94,97.89 L162.26,97.90 L162.58,97.90 L162.90,97.91 L163.22,97.92 L163.54,97.92 L163.86,97.93 L164.18,97.94 L164.50,97.94 L164.82,97.95 L165.14,97.95 L165.46,97.96 L165.78,97.97 L166.10,97.97 L166.42,97.98 L166.74,97.98 L167.06,97.99 L167.38,97.99 L167.70,98.00 L168.02,98.00 L168.34,98.01 L168.66,98.01 L168.98,98.02 L169.30,98.02 L169.62,98.03 L169.94,98.03 L170.26,98.04 L170.58,98.04 L170.90,98.05 L171.22,98.05 L171.54,98.06 L171.86,98.06 L172.18,98.07 L172.50,98.08" fill="none" stroke="#209276" stroke-width="0.95"/>
<rect x="42.52" y="95.99" width="4.60" height="4.60" fill="#62bea2"/>
<rect x="58.20" y="92.64" width="4.60" height="4.60" fill="#62bea2"/>
<rect x="74.20" y="39.82" width="4.60" height="4.60" fill="#62bea2"/>
<rect x="90.20" y="66.32" width="4.60" height="4.60" fill="#62bea2"/>
<rect x="106.20" y="86.76" width="4.60" height="4.60" fill="#62bea2"/>
<rect x="122.20" y="92.92" width="4.60" height="4.60" fill="#62bea2"/>
<rect x="138.20" y="94.60" width="4.60" height="4.60" fill="#62bea2"/>
<rect x="154.20" y="95.44" width="4.60" height="4.60" fill="#62bea2"/>
<rect x="169.88" y="95.77" width="4.60" height="4.60" fill="#62bea2"/>
<circle cx="44.82" cy="98.29" r="2.42" fill="#2aa276"/>
<circle cx="60.50" cy="94.94" r="2.42" fill="#2aa276"/>
<circle cx="76.50" cy="42.12" r="2.42" fill="#2aa276"/>
<circle cx="92.50" cy="66.38" r="2.42" fill="#2aa276"/>
<circle cx="108.50" cy="87.94" r="2.42" fill="#2aa276"/>
<circle cx="124.50" cy="94.77" r="2.42" fill="#2aa276"/>
<circle cx="140.50" cy="96.90" r="2.42" fill="#2aa276"/>
<circle cx="156.50" cy="97.74" r="2.42" fill="#2aa276"/>
<circle cx="172.18" cy="98.07" r="2.42" fill="#2aa276"/>
<path d="M44.82,95.53 L47.58,100.59 L42.06,100.59 Z" fill="#209276"/>
<path d="M60.50,92.18 L63.26,97.24 L57.74,97.24 Z" fill="#209276"/>
<path d="M76.50,39.36 L79.26,44.42 L73.74,44.42 Z" fill="#209276"/>
<path d="M92.50,61.38 L95.26,66.44 L89.74,66.44 Z" fill="#209276"/>
<path d="M108.50,83.78 L111.26,88.84 L105.74,88.84 Z" fill="#209276"/>
<path d="M124.50,91.62 L127.26,96.68 L121.74,96.68 Z" fill="#209276"/>
<path d="M140.50,94.14 L143.26,99.20 L137.74,99.20 Z" fill="#209276"/>
<path d="M156.50,94.98 L159.26,100.04 L153.74,100.04 Z" fill="#209276"/>
<path d="M172.18,95.31 L174.94,100.37 L169.42,100.37 Z" fill="#209276"/>
<path d="M44.82,101.05 L47.58,95.99 L42.06,95.99 Z" fill="#10604a"/>
<path d="M60.50,97.70 L63.26,92.64 L57.74,92.64 Z" fill="#10604a"/>
<path d="M76.50,44.88 L79.26,39.82 L73.74,39.82 Z" fill="#10604a"/>
<path d="M92.50,64.38 L95.26,59.32 L89.74,59.32 Z" fill="#10604a"/>
<path d="M108.50,87.90 L111.26,82.84 L105.74,82.84 Z" fill="#10604a"/>
<path d="M124.50,96.69 L127.26,91.63 L121.74,91.63 Z" fill="#10604a"/>
<path d="M140.50,99.66 L143.26,94.60 L137.74,94.60 Z" fill="#10604a"/>
<path d="M156.50,100.50 L159.26,95.44 L153.74,95.44 Z" fill="#10604a"/>
<path d="M172.18,100.83 L174.94,95.77 L169.42,95.77 Z" fill="#10604a"/>
<path d="M172.50,98.30 L172.82,98.24 L173.13,98.20 L173.45,98.15 L173.77,98.12 L174.09,98.08 L174.41,98.04 L174.72,98.00 L175.04,97.96 L175.36,97.92 L175.68,97.87 L175.99,97.82 L176.31,97.77 L176.63,97.72 L176.94,97.66 L177.26,97.60 L177.58,97.53 L177.90,97.46 L178.22,97.39 L178.53,97.30 L178.85,97.21 L179.17,97.12 L179.49,97.01 L179.80,96.89 L180.12,96.76 L180.44,96.62 L180.75,96.47 L181.07,96.33 L181.39,96.18 L181.71,96.04 L182.03,95.90 L182.34,95.76 L182.66,95.61 L182.98,95.46 L183.29,95.30 L183.61,95.13 L183.93,94.96 L184.25,94.77 L184.56,94.57 L184.88,94.36 L185.20,94.14 L185.52,93.90 L185.84,93.63 L186.15,93.35 L186.47,93.06 L186.79,92.74 L187.10,92.39 L187.42,92.01 L187.74,91.62 L188.06,91.19 L188.38,90.74 L188.69,90.25 L189.01,89.74 L189.33,89.21 L189.65,88.66 L189.96,88.09 L190.28,87.49 L190.60,86.87 L190.91,86.23 L191.23,85.58 L191.55,84.91 L191.87,84.22 L192.19,83.51 L192.50,82.79 L192.82,82.06 L193.14,81.31 L193.46,80.54 L193.77,79.76 L194.09,78.97 L194.41,78.17 L194.72,77.35 L195.04,76.52 L195.36,75.68 L195.68,74.83 L196.00,73.97 L196.31,73.10 L196.63,72.20 L196.95,71.25 L197.26,70.26 L197.58,69.23 L197.90,68.17 L198.22,67.09 L198.53,65.97 L198.85,64.84 L199.17,63.69 L199.49,62.53 L199.81,61.36 L200.12,60.18 L200.44,59.01 L200.76,57.84 L201.07,56.69 L201.39,55.56 L201.71,54.45 L202.03,53.37 L202.34,52.33 L202.66,51.35 L202.98,50.43 L203.30,49.58 L203.62,48.81 L203.93,48.09 L204.25,47.43 L204.57,46.83 L204.88,46.29 L205.20,45.82 L205.52,45.41 L205.84,45.06 L206.16,44.76 L206.47,44.50 L206.79,44.27 L207.11,44.06 L207.43,43.86 L207.74,43.64 L208.06,43.42 L208.38,43.20 L208.69,43.00 L209.01,42.83 L209.33,42.69 L209.65,42.57 L209.97,42.47 L210.28,42.39 L210.60,42.33 L210.92,42.29 L211.24,42.26 L211.55,42.25 L211.87,42.25 L212.19,42.25 L212.50,42.26 L212.82,42.28 L213.14,42.30 L213.46,42.32 L213.78,42.34 L214.09,42.36 L214.41,42.38 L214.73,42.41 L215.05,42.44 L215.36,42.48 L215.68,42.52 L216.00,42.58 L216.31,42.64 L216.63,42.72 L216.95,42.80 L217.27,42.90 L217.59,43.02 L217.90,43.15 L218.22,43.29 L218.54,43.45 L218.86,43.63 L219.17,43.82 L219.49,44.03 L219.81,44.26 L220.12,44.51 L220.44,44.77 L220.76,45.05 L221.08,45.34 L221.40,45.64 L221.71,45.95 L222.03,46.27 L222.35,46.60 L222.66,46.94 L222.98,47.28 L223.30,47.64 L223.62,48.00 L223.94,48.36 L224.25,48.73 L224.57,49.11 L224.89,49.49 L225.20,49.87 L225.52,50.26 L225.84,50.66 L226.16,51.06 L226.47,51.46 L226.79,51.86 L227.11,52.27 L227.43,52.68 L227.75,53.09 L228.06,53.50 L228.38,53.92 L228.70,54.36 L229.01,54.81 L229.33,55.27 L229.65,55.74 L229.97,56.22 L230.28,56.71 L230.60,57.21 L230.92,57.72 L231.24,58.23 L231.56,58.74 L231.87,59.26 L232.19,59.77 L232.51,60.29 L232.82,60.80 L233.14,61.30 L233.46,61.80 L233.78,62.29 L234.09,62.77 L234.41,63.24 L234.73,63.70 L235.05,64.14 L235.37,64.57 L235.68,65.00 L236.00,65.43 L236.32,65.85 L236.63,66.27 L236.95,66.68 L237.27,67.09 L237.59,67.49 L237.91,67.89 L238.22,68.29 L238.54,68.68 L238.86,69.07 L239.18,69.46 L239.49,69.84 L239.81,70.22 L240.13,70.59 L240.44,70.96 L240.76,71.33 L241.08,71.69 L241.40,72.05 L241.72,72.40 L242.03,72.75 L242.35,73.10 L242.67,73.44 L242.99,73.78 L243.30,74.12 L243.62,74.46 L243.94,74.79 L244.25,75.12 L244.57,75.44 L244.89,75.76 L245.21,76.08 L245.53,76.39 L245.84,76.70 L246.16,77.01 L246.48,77.31 L246.80,77.61 L247.11,77.90 L247.43,78.19 L247.75,78.48 L248.06,78.76 L248.38,79.04 L248.70,79.32 L249.02,79.59 L249.34,79.86 L249.65,80.12 L249.97,80.38 L250.29,80.63 L250.61,80.89 L250.92,81.13 L251.24,81.38 L251.56,81.62 L251.88,81.85 L252.19,82.09 L252.51,82.32 L252.83,82.54 L253.14,82.76 L253.46,82.98 L253.78,83.20 L254.10,83.42 L254.42,83.63 L254.73,83.84 L255.05,84.04 L255.37,84.25 L255.69,84.45 L256.00,84.65 L256.32,84.84 L256.64,85.04 L256.95,85.23 L257.27,85.42 L257.59,85.61 L257.91,85.79 L258.23,85.98 L258.54,86.16 L258.86,86.35 L259.18,86.53 L259.50,86.71 L259.81,86.89 L260.13,87.07 L260.45,87.25 L260.76,87.42 L261.08,87.59 L261.40,87.76 L261.72,87.92 L262.03,88.08 L262.35,88.24 L262.67,88.39 L262.99,88.54 L263.31,88.69 L263.62,88.83 L263.94,88.97 L264.26,89.11 L264.57,89.24 L264.89,89.37 L265.21,89.50 L265.53,89.63 L265.85,89.76 L266.16,89.88 L266.48,90.00 L266.80,90.12 L267.12,90.24 L267.43,90.36 L267.75,90.48 L268.07,90.60 L268.38,90.72 L268.70,90.84 L269.02,90.96 L269.34,91.08 L269.65,91.19 L269.97,91.31 L270.29,91.43 L270.61,91.54 L270.93,91.66 L271.24,91.77 L271.56,91.88 L271.88,92.00 L272.19,92.11 L272.51,92.22 L272.83,92.33 L273.15,92.44 L273.47,92.55 L273.78,92.66 L274.10,92.77 L274.42,92.87 L274.74,92.98 L275.05,93.09 L275.37,93.19 L275.69,93.29 L276.00,93.39 L276.32,93.49 L276.64,93.59 L276.96,93.69 L277.27,93.79 L277.59,93.89 L277.91,93.98 L278.23,94.07 L278.55,94.17 L278.86,94.26 L279.18,94.35 L279.50,94.43 L279.81,94.52 L280.13,94.61 L280.45,94.69 L280.77,94.77 L281.09,94.85 L281.40,94.93 L281.72,95.00 L282.04,95.08 L282.36,95.15 L282.67,95.22 L282.99,95.28 L283.31,95.35 L283.62,95.41 L283.94,95.47 L284.26,95.53 L284.58,95.58 L284.89,95.63 L285.21,95.69 L285.53,95.74 L285.85,95.78 L286.17,95.83 L286.48,95.88 L286.80,95.92 L287.12,95.96 L287.44,96.01 L287.75,96.05 L288.07,96.09 L288.39,96.12 L288.70,96.16 L289.02,96.20 L289.34,96.24 L289.66,96.27 L289.98,96.31 L290.29,96.34 L290.61,96.37 L290.93,96.40 L291.25,96.44 L291.56,96.47 L291.88,96.50 L292.20,96.53 L292.51,96.56 L292.83,96.59 L293.15,96.62 L293.47,96.65 L293.78,96.67 L294.10,96.70 L294.42,96.73 L294.74,96.76 L295.06,96.78 L295.37,96.81 L295.69,96.84 L296.01,96.86 L296.32,96.89 L296.64,96.92 L296.96,96.94 L297.28,96.97 L297.60,97.00 L297.91,97.03 L298.23,97.05 L298.55,97.08 L298.87,97.11 L299.18,97.15 L299.50,97.18" fill="none" stroke="#b4cc88" stroke-width="0.95"/>
<path d="M172.50,98.30 L172.82,98.24 L173.13,98.20 L173.45,98.15 L173.77,98.12 L174.09,98.08 L174.41,98.04 L174.72,98.00 L175.04,97.96 L175.36,97.92 L175.68,97.87 L175.99,97.82 L176.31,97.77 L176.63,97.72 L176.94,97.66 L177.26,97.60 L177.58,97.53 L177.90,97.46 L178.22,97.39 L178.53,97.30 L178.85,97.21 L179.17,97.12 L179.49,97.01 L179.80,96.89 L180.12,96.76 L180.44,96.62 L180.75,96.47 L181.07,96.33 L181.39,96.18 L181.71,96.04 L182.03,95.90 L182.34,95.76 L182.66,95.61 L182.98,95.46 L183.29,95.30 L183.61,95.13 L183.93,94.96 L184.25,94.77 L184.56,94.57 L184.88,94.36 L185.20,94.14 L185.52,93.90 L185.84,93.63 L186.15,93.35 L186.47,93.06 L186.79,92.74 L187.10,92.39 L187.42,92.01 L187.74,91.62 L188.06,91.19 L188.38,90.74 L188.69,90.25 L189.01,89.74 L189.33,89.21 L189.65,88.66 L189.96,88.09 L190.28,87.49 L190.60,86.87 L190.91,86.23 L191.23,85.58 L191.55,84.91 L191.87,84.22 L192.19,83.51 L192.50,82.79 L192.82,82.06 L193.14,81.31 L193.46,80.54 L193.77,79.76 L194.09,78.97 L194.41,78.17 L194.72,77.35 L195.04,76.52 L195.36,75.68 L195.68,74.83 L196.00,73.97 L196.31,73.10 L196.63,72.20 L196.95,71.25 L197.26,70.26 L197.58,69.23 L197.90,68.17 L198.22,67.09 L198.53,65.97 L198.85,64.84 L199.17,63.69 L199.49,62.53 L199.81,61.36 L200.12,60.18 L200.44,59.01 L200.76,57.84 L201.07,56.69 L201.39,55.56 L201.71,54.45 L202.03,53.37 L202.34,52.33 L202.66,51.35 L202.98,50.43 L203.30,49.58 L203.62,48.81 L203.93,48.09 L204.25,47.43 L204.57,46.83 L204.88,46.29 L205.20,45.82 L205.52,45.41 L205.84,45.06 L206.16,44.76 L206.47,44.50 L206.79,44.27 L207.11,44.06 L207.43,43.86 L207.74,43.64 L208.06,43.42 L208.38,43.20 L208.69,43.00 L209.01,42.83 L209.33,42.69 L209.65,42.57 L209.97,42.47 L210.28,42.39 L210.60,42.33 L210.92,42.29 L211.24,42.26 L211.55,42.25 L211.87,42.25 L212.19,42.25 L212.50,42.26 L212.82,42.28 L213.14,42.30 L213.46,42.32 L213.78,42.34 L214.09,42.36 L214.41,42.38 L214.73,42.41 L215.05,42.44 L215.36,42.48 L215.68,42.52 L216.00,42.58 L216.31,42.64 L216.63,42.72 L216.95,42.80 L217.27,42.90 L217.59,43.02 L217.90,43.15 L218.22,43.29 L218.54,43.45 L218.86,43.63 L219.17,43.82 L219.49,44.03 L219.81,44.26 L220.12,44.51 L220.44,44.77 L220.76,45.05 L221.08,45.34 L221.40,45.64 L221.71,45.95 L222.03,46.27 L222.35,46.60 L222.66,46.94 L222.98,47.28 L223.30,47.64 L223.62,48.00 L223.94,48.36 L224.25,48.73 L224.57,49.11 L224.89,49.49 L225.20,49.87 L225.52,50.26 L225.84,50.66 L226.16,51.06 L226.47,51.46 L226.79,51.86 L227.11,52.27 L227.43,52.68 L227.75,53.09 L228.06,53.50 L228.38,53.92 L228.70,54.36 L229.01,54.81 L229.33,55.27 L229.65,55.74 L229.97,56.22 L230.28,56.71 L230.60,57.21 L230.92,57.72 L231.24,58.23 L231.56,58.74 L231.87,59.26 L232.19,59.77 L232.51,60.29 L232.82,60.80 L233.14,61.30 L233.46,61.80 L233.78,62.29 L234.09,62.77 L234.41,63.24 L234.73,63.70 L235.05,64.14 L235.37,64.57 L235.68,65.00 L236.00,65.43 L236.32,65.85 L236.63,66.27 L236.95,66.68 L237.27,67.09 L237.59,67.49 L237.91,67.89 L238.22,68.29 L238.54,68.68 L238.86,69.07 L239.18,69.46 L239.49,69.84 L239.81,70.22 L240.13,70.59 L240.44,70.96 L240.76,71.33 L241.08,71.69 L241.40,72.05 L241.72,72.40 L242.03,72.75 L242.35,73.10 L242.67,73.44 L242.99,73.78 L243.30,74.12 L243.62,74.46 L243.94,74.79 L244.25,75.12 L244.57,75.44 L244.89,75.76 L245.21,76.08 L245.53,76.39 L245.84,76.70 L246.16,77.01 L246.48,77.31 L246.80,77.61 L247.11,77.90 L247.43,78.19 L247.75,78.48 L248.06,78.76 L248.38,79.04 L248.70,79.32 L249.02,79.59 L249.34,79.86 L249.65,80.12 L249.97,80.38 L250.29,80.63 L250.61,80.89 L250.92,81.13 L251.24,81.38 L251.56,81.62 L251.88,81.85 L252.19,82.09 L252.51,82.32 L252.83,82.54 L253.14,82.76 L253.46,82.98 L253.78,83.20 L254.10,83.42 L254.42,83.63 L254.73,83.84 L255.05,84.04 L255.37,84.25 L255.69,84.45 L256.00,84.65 L256.32,84.84 L256.64,85.04 L256.95,85.23 L257.27,85.42 L257.59,85.61 L257.91,85.79 L258.23,85.98 L258.54,86.16 L258.86,86.35 L259.18,86.53 L259.50,86.71 L259.81,86.89 L260.13,87.07 L260.45,87.25 L260.76,87.42 L261.08,87.59 L261.40,87.76 L261.72,87.92 L262.03,88.08 L262.35,88.24 L262.67,88.39 L262.99,88.54 L263.31,88.69 L263.62,88.83 L263.94,88.97 L264.26,89.11 L264.57,89.24 L264.89,89.37 L265.21,89.50 L265.53,89.63 L265.85,89.76 L266.16,89.88 L266.48,90.00 L266.80,90.12 L267.12,90.24 L267.43,90.36 L267.75,90.48 L268.07,90.60 L268.38,90.72 L268.70,90.84 L269.02,90.96 L269.34,91.08 L269.65,91.19 L269.97,91.31 L270.29,91.43 L270.61,91.54 L270.93,91.66 L271.24,91.77 L271.56,91.88 L271.88,92.00 L272.19,92.11 L272.51,92.22 L272.83,92.33 L273.15,92.44 L273.47,92.55 L273.78,92.66 L274.10,92.77 L274.42,92.87 L274.74,92.98 L275.05,93.09 L275.37,93.19 L275.69,93.29 L276.00,93.39 L276.32,93.49 L276.64,93.59 L276.96,93.69 L277.27,93.79 L277.59,93.89 L277.91,93.98 L278.23,94.07 L278.55,94.17 L278.86,94.26 L279.18,94.35 L279.50,94.43 L279.81,94.52 L280.13,94.61 L280.45,94.69 L280.77,94.77 L281.09,94.85 L281.40,94.93 L281.72,95.00 L282.04,95.08 L282.36,95.15 L282.67,95.22 L282.99,95.28 L283.31,95.35 L283.62,95.41 L283.94,95.47 L284.26,95.53 L284.58,95.58 L284.89,95.63 L285.21,95.69 L285.53,95.74 L285.85,95.78 L286.17,95.83 L286.48,95.88 L286.80,95.92 L287.12,95.96 L287.44,96.01 L287.75,96.05 L288.07,96.09 L288.39,96.12 L288.70,96.16 L289.02,96.20 L289.34,96.24 L289.66,96.27 L289.98,96.31 L290.29,96.34 L290.61,96.37 L290.93,96.40 L291.25,96.44 L291.56,96.47 L291.88,96.50 L292.20,96.53 L292.51,96.56 L292.83,96.59 L293.15,96.62 L293.47,96.65 L293.78,96.67 L294.10,96.70 L294.42,96.73 L294.74,96.76 L295.06,96.78 L295.37,96.81 L295.69,96.84 L296.01,96.86 L296.32,96.89 L296.64,96.92 L296.96,96.94 L297.28,96.97 L297.60,97.00 L297.91,97.03 L298.23,97.05 L298.55,97.08 L298.87,97.11 L299.18,97.15 L299.50,97.18" fill="none" stroke="#46682a" stroke-width="0.95"/>
<path d="M172.50,98.30 L172.82,98.24 L173.13,98.20 L173.45,98.15 L173.77,98.12 L174.09,98.08 L174.41,98.04 L174.72,98.00 L175.04,97.96 L175.36,97.92 L175.68,97.87 L175.99,97.82 L176.31,97.77 L176.63,97.72 L176.94,97.66 L177.26,97.60 L177.58,97.53 L177.90,97.46 L178.22,97.39 L178.53,97.30 L178.85,97.21 L179.17,97.12 L179.49,97.01 L179.80,96.89 L180.12,96.76 L180.44,96.62 L180.75,96.47 L181.07,96.33 L181.39,96.18 L181.71,96.04 L182.03,95.90 L182.34,95.76 L182.66,95.61 L182.98,95.46 L183.29,95.30 L183.61,95.13 L183.93,94.96 L184.25,94.77 L184.56,94.57 L184.88,94.36 L185.20,94.14 L185.52,93.90 L185.84,93.63 L186.15,93.35 L186.47,93.06 L186.79,92.74 L187.10,92.39 L187.42,92.01 L187.74,91.62 L188.06,91.19 L188.38,90.74 L188.69,90.25 L189.01,89.74 L189.33,89.21 L189.65,88.66 L189.96,88.09 L190.28,87.49 L190.60,86.87 L190.91,86.23 L191.23,85.58 L191.55,84.91 L191.87,84.22 L192.19,83.51 L192.50,82.79 L192.82,82.06 L193.14,81.31 L193.46,80.54 L193.77,79.76 L194.09,78.97 L194.41,78.17 L194.72,77.35 L195.04,76.52 L195.36,75.68 L195.68,74.83 L196.00,73.97 L196.31,73.10 L196.63,72.20 L196.95,71.25 L197.26,70.26 L197.58,69.23 L197.90,68.17 L198.22,67.09 L198.53,65.97 L198.85,64.84 L199.17,63.69 L199.49,62.53 L199.81,61.36 L200.12,60.18 L200.44,59.01 L200.76,57.84 L201.07,56.69 L201.39,55.56 L201.71,54.45 L202.03,53.37 L202.34,52.33 L202.66,51.35 L202.98,50.43 L203.30,49.58 L203.62,48.81 L203.93,48.09 L204.25,47.43 L204.57,46.83 L204.88,46.29 L205.20,45.82 L205.52,45.41 L205.84,45.06 L206.16,44.76 L206.47,44.50 L206.79,44.27 L207.11,44.06 L207.43,43.86 L207.74,43.64 L208.06,43.42 L208.38,43.20 L208.69,43.00 L209.01,42.83 L209.33,42.69 L209.65,42.57 L209.97,42.47 L210.28,42.39 L210.60,42.33 L210.92,42.29 L211.24,42.26 L211.55,42.25 L211.87,42.25 L212.19,42.25 L212.50,42.26 L212.82,42.28 L213.14,42.30 L213.46,42.32 L213.78,42.34 L214.09,42.36 L214.41,42.38 L214.73,42.41 L215.05,42.44 L215.36,42.48 L215.68,42.52 L216.00,42.58 L216.31,42.64 L216.63,42.72 L216.95,42.80 L217.27,42.90 L217.59,43.02 L217.90,43.15 L218.22,43.29 L218.54,43.45 L218.86,43.63 L219.17,43.82 L219.49,44.03 L219.81,44.26 L220.12,44.51 L220.44,44.77 L220.76,45.05 L221.08,45.34 L221.40,45.64 L221.71,45.95 L222.03,46.27 L222.35,46.60 L222.66,46.94 L222.98,47.28 L223.30,47.64 L223.62,48.00 L223.94,48.36 L224.25,48.73 L224.57,49.11 L224.89,49.49 L225.20,49.87 L225.52,50.26 L225.84,50.66 L226.16,51.06 L226.47,51.46 L226.79,51.86 L227.11,52.27 L227.43,52.68 L227.75,53.09 L228.06,53.50 L228.38,53.92 L228.70,54.36 L229.01,54.81 L229.33,55.27 L229.65,55.74 L229.97,56.22 L230.28,56.71 L230.60,57.21 L230.92,57.72 L231.24,58.23 L231.56,58.74 L231.87,59.26 L232.19,59.77 L232.51,60.29 L232.82,60.80 L233.14,61.30 L233.46,61.80 L233.78,62.29 L234.09,62.77 L234.41,63.24 L234.73,63.70 L235.05,64.14 L235.37,64.57 L235.68,65.00 L236.00,65.43 L236.32,65.85 L236.63,66.27 L236.95,66.68 L237.27,67.09 L237.59,67.49 L237.91,67.89 L238.22,68.29 L238.54,68.68 L238.86,69.07 L239.18,69.46 L239.49,69.84 L239.81,70.22 L240.13,70.59 L240.44,70.96 L240.76,71.33 L241.08,71.69 L241.40,72.05 L241.72,72.40 L242.03,72.75 L242.35,73.10 L242.67,73.44 L242.99,73.78 L243.30,74.12 L243.62,74.46 L243.94,74.79 L244.25,75.12 L244.57,75.44 L244.89,75.76 L245.21,76.08 L245.53,76.39 L245.84,76.70 L246.16,77.01 L246.48,77.31 L246.80,77.61 L247.11,77.90 L247.43,78.19 L247.75,78.48 L248.06,78.76 L248.38,79.04 L248.70,79.32 L249.02,79.59 L249.34,79.86 L249.65,80.12 L249.97,80.38 L250.29,80.63 L250.61,80.89 L250.92,81.13 L251.24,81.38 L251.56,81.62 L251.88,81.85 L252.19,82.09 L252.51,82.32 L252.83,82.54 L253.14,82.76 L253.46,82.98 L253.78,83.20 L254.10,83.42 L254.42,83.63 L254.73,83.84 L255.05,84.04 L255.37,84.25 L255.69,84.45 L256.00,84.65 L256.32,84.84 L256.64,85.04 L256.95,85.23 L257.27,85.42 L257.59,85.61 L257.91,85.79 L258.23,85.98 L258.54,86.16 L258.86,86.35 L259.18,86.53 L259.50,86.71 L259.81,86.89 L260.13,87.07 L260.45,87.25 L260.76,87.42 L261.08,87.59 L261.40,87.76 L261.72,87.92 L262.03,88.08 L262.35,88.24 L262.67,88.39 L262.99,88.54 L263.31,88.69 L263.62,88.83 L263.94,88.97 L264.26,89.11 L264.57,89.24 L264.89,89.37 L265.21,89.50 L265.53,89.63 L265.85,89.76 L266.16,89.88 L266.48,90.00 L266.80,90.12 L267.12,90.24 L267.43,90.36 L267.75,90.48 L268.07,90.60 L268.38,90.72 L268.70,90.84 L269.02,90.96 L269.34,91.08 L269.65,91.19 L269.97,91.31 L270.29,91.43 L270.61,91.54 L270.93,91.66 L271.24,91.77 L271.56,91.88 L271.88,92.00 L272.19,92.11 L272.51,92.22 L272.83,92.33 L273.15,92.44 L273.47,92.55 L273.78,92.66 L274.10,92.77 L274.42,92.87 L274.74,92.98 L275.05,93.09 L275.37,93.19 L275.69,93.29 L276.00,93.39 L276.32,93.49 L276.64,93.59 L276.96,93.69 L277.27,93.79 L277.59,93.89 L277.91,93.98 L278.23,94.07 L278.55,94.17 L278.86,94.26 L279.18,94.35 L279.50,94.43 L279.81,94.52 L280.13,94.61 L280.45,94.69 L280.77,94.77 L281.09,94.85 L281.40,94.93 L281.72,95.00 L282.04,95.08 L282.36,95.15 L282.67,95.22 L282.99,95.28 L283.31,95.35 L283.62,95.41 L283.94,95.47 L284.26,95.53 L284.58,95.58 L284.89,95.63 L285.21,95.69 L285.53,95.74 L285.85,95.78 L286.17,95.83 L286.48,95.88 L286.80,95.92 L287.12,95.96 L287.44,96.01 L287.75,96.05 L288.07,96.09 L288.39,96.12 L288.70,96.16 L289.02,96.20 L289.34,96.24 L289.66,96.27 L289.98,96.31 L290.29,96.34 L290.61,96.37 L290.93,96.40 L291.25,96.44 L291.56,96.47 L291.88,96.50 L292.20,96.53 L292.51,96.56 L292.83,96.59 L293.15,96.62 L293.47,96.65 L293.78,96.67 L294.10,96.70 L294.42,96.73 L294.74,96.76 L295.06,96.78 L295.37,96.81 L295.69,96.84 L296.01,96.86 L296.32,96.89 L296.64,96.92 L296.96,96.94 L297.28,96.97 L297.60,97.00 L297.91,97.03 L298.23,97.05 L298.55,97.08 L298.87,97.11 L299.18,97.15 L299.50,97.18" fill="none" stroke="#92b856" stroke-width="0.95"/>
<path d="M172.50,98.30 L172.82,98.24 L173.13,98.20 L173.45,98.15 L173.77,98.12 L174.09,98.08 L174.41,98.04 L174.72,98.00 L175.04,97.96 L175.36,97.92 L175.68,97.87 L175.99,97.82 L176.31,97.77 L176.63,97.72 L176.94,97.66 L177.26,97.60 L177.58,97.53 L177.90,97.46 L178.22,97.39 L178.53,97.30 L178.85,97.21 L179.17,97.12 L179.49,97.01 L179.80,96.89 L180.12,96.76 L180.44,96.62 L180.75,96.47 L181.07,96.33 L181.39,96.18 L181.71,96.04 L182.03,95.90 L182.34,95.76 L182.66,95.61 L182.98,95.46 L183.29,95.30 L183.61,95.13 L183.93,94.96 L184.25,94.77 L184.56,94.57 L184.88,94.36 L185.20,94.14 L185.52,93.90 L185.84,93.63 L186.15,93.35 L186.47,93.06 L186.79,92.74 L187.10,92.39 L187.42,92.01 L187.74,91.62 L188.06,91.19 L188.38,90.74 L188.69,90.25 L189.01,89.74 L189.33,89.21 L189.65,88.66 L189.96,88.09 L190.28,87.49 L190.60,86.87 L190.91,86.23 L191.23,85.58 L191.55,84.91 L191.87,84.22 L192.19,83.51 L192.50,82.79 L192.82,82.06 L193.14,81.31 L193.46,80.54 L193.77,79.76 L194.09,78.97 L194.41,78.17 L194.72,77.35 L195.04,76.52 L195.36,75.68 L195.68,74.83 L196.00,73.97 L196.31,73.10 L196.63,72.20 L196.95,71.25 L197.26,70.26 L197.58,69.23 L197.90,68.17 L198.22,67.09 L198.53,65.97 L198.85,64.84 L199.17,63.69 L199.49,62.53 L199.81,61.36 L200.12,60.18 L200.44,59.01 L200.76,57.84 L201.07,56.69 L201.39,55.56 L201.71,54.45 L202.03,53.37 L202.34,52.33 L202.66,51.35 L202.98,50.43 L203.30,49.58 L203.62,48.81 L203.93,48.09 L204.25,47.43 L204.57,46.83 L204.88,46.29 L205.20,45.82 L205.52,45.41 L205.84,45.06 L206.16,44.76 L206.47,44.50 L206.79,44.27 L207.11,44.06 L207.43,43.86 L207.74,43.64 L208.06,43.42 L208.38,43.20 L208.69,43.00 L209.01,42.83 L209.33,42.69 L209.65,42.57 L209.97,42.47 L210.28,42.39 L210.60,42.33 L210.92,42.29 L211.24,42.26 L211.55,42.25 L211.87,42.25 L212.19,42.25 L212.50,42.26 L212.82,42.28 L213.14,42.30 L213.46,42.32 L213.78,42.34 L214.09,42.36 L214.41,42.38 L214.73,42.41 L215.05,42.44 L215.36,42.48 L215.68,42.52 L216.00,42.58 L216.31,42.64 L216.63,42.72 L216.95,42.80 L217.27,42.90 L217.59,43.02 L217.90,43.15 L218.22,43.29 L218.54,43.45 L218.86,43.63 L219.17,43.82 L219.49,44.03 L219.81,44.26 L220.12,44.51 L220.44,44.77 L220.76,45.05 L221.08,45.34 L221.40,45.64 L221.71,45.95 L222.03,46.27 L222.35,46.60 L222.66,46.94 L222.98,47.28 L223.30,47.64 L223.62,48.00 L223.94,48.36 L224.25,48.73 L224.57,49.11 L224.89,49.49 L225.20,49.87 L225.52,50.26 L225.84,50.66 L226.16,51.06 L226.47,51.46 L226.79,51.86 L227.11,52.27 L227.43,52.68 L227.75,53.09 L228.06,53.50 L228.38,53.92 L228.70,54.36 L229.01,54.81 L229.33,55.27 L229.65,55.74 L229.97,56.22 L230.28,56.71 L230.60,57.21 L230.92,57.72 L231.24,58.23 L231.56,58.74 L231.87,59.26 L232.19,59.77 L232.51,60.29 L232.82,60.80 L233.14,61.30 L233.46,61.80 L233.78,62.29 L234.09,62.77 L234.41,63.24 L234.73,63.70 L235.05,64.14 L235.37,64.57 L235.68,65.00 L236.00,65.43 L236.32,65.85 L236.63,66.27 L236.95,66.68 L237.27,67.09 L237.59,67.49 L237.91,67.89 L238.22,68.29 L238.54,68.68 L238.86,69.07 L239.18,69.46 L239.49,69.84 L239.81,70.22 L240.13,70.59 L240.44,70.96 L240.76,71.33 L241.08,71.69 L241.40,72.05 L241.72,72.40 L242.03,72.75 L242.35,73.10 L242.67,73.44 L242.99,73.78 L243.30,74.12 L243.62,74.46 L243.94,74.79 L244.25,75.12 L244.57,75.44 L244.89,75.76 L245.21,76.08 L245.53,76.39 L245.84,76.70 L246.16,77.01 L246.48,77.31 L246.80,77.61 L247.11,77.90 L247.43,78.19 L247.75,78.48 L248.06,78.76 L248.38,79.04 L248.70,79.32 L249.02,79.59 L249.34,79.86 L249.65,80.12 L249.97,80.38 L250.29,80.63 L250.61,80.89 L250.92,81.13 L251.24,81.38 L251.56,81.62 L251.88,81.85 L252.19,82.09 L252.51,82.32 L252.83,82.54 L253.14,82.76 L253.46,82.98 L253.78,83.20 L254.10,83.42 L254.42,83.63 L254.73,83.84 L255.05,84.04 L255.37,84.25 L255.69,84.45 L256.00,84.65 L256.32,84.84 L256.64,85.04 L256.95,85.23 L257.27,85.42 L257.59,85.61 L257.91,85.79 L258.23,85.98 L258.54,86.16 L258.86,86.35 L259.18,86.53 L259.50,86.71 L259.81,86.89 L260.13,87.07 L260.45,87.25 L260.76,87.42 L261.08,87.59 L261.40,87.76 L261.72,87.92 L262.03,88.08 L262.35,88.24 L262.67,88.39 L262.99,88.54 L263.31,88.69 L263.62,88.83 L263.94,88.97 L264.26,89.11 L264.57,89.24 L264.89,89.37 L265.21,89.50 L265.53,89.63 L265.85,89.76 L266.16,89.88 L266.48,90.00 L266.80,90.12 L267.12,90.24 L267.43,90.36 L267.75,90.48 L268.07,90.60 L268.38,90.72 L268.70,90.84 L269.02,90.96 L269.34,91.08 L269.65,91.19 L269.97,91.31 L270.29,91.43 L270.61,91.54 L270.93,91.66 L271.24,91.77 L271.56,91.88 L271.88,92.00 L272.19,92.11 L272.51,92.22 L272.83,92.33 L273.15,92.44 L273.47,92.55 L273.78,92.66 L274.10,92.77 L274.42,92.87 L274.74,92.98 L275.05,93.09 L275.37,93.19 L275.69,93.29 L276.00,93.39 L276.32,93.49 L276.64,93.59 L276.96,93.69 L277.27,93.79 L277.59,93.89 L277.91,93.98 L278.23,94.07 L278.55,94.17 L278.86,94.26 L279.18,94.35 L279.50,94.43 L279.81,94.52 L280.13,94.61 L280.45,94.69 L280.77,94.77 L281.09,94.85 L281.40,94.93 L281.72,95.00 L282.04,95.08 L282.36,95.15 L282.67,95.22 L282.99,95.28 L283.31,95.35 L283.62,95.41 L283.94,95.47 L284.26,95.53 L284.58,95.58 L284.89,95.63 L285.21,95.69 L285.53,95.74 L285.85,95.78 L286.17,95.83 L286.48,95.88 L286.80,95.92 L287.12,95.96 L287.44,96.01 L287.75,96.05 L288.07,96.09 L288.39,96.12 L288.70,96.16 L289.02,96.20 L289.34,96.24 L289.66,96.27 L289.98,96.31 L290.29,96.34 L290.61,96.37 L290.93,96.40 L291.25,96.44 L291.56,96.47 L291.88,96.50 L292.20,96.53 L292.51,96.56 L292.83,96.59 L293.15,96.62 L293.47,96.65 L293.78,96.67 L294.10,96.70 L294.42,96.73 L294.74,96.76 L295.06,96.78 L295.37,96.81 L295.69,96.84 L296.01,96.86 L296.32,96.89 L296.64,96.92 L296.96,96.94 L297.28,96.97 L297.60,97.00 L297.91,97.03 L298.23,97.05 L298.55,97.08 L298.87,97.11 L299.18,97.15 L299.50,97.18" fill="none" stroke="#5c8a32" stroke-width="0.95"/>
<rect x="170.52" y="95.94" width="4.60" height="4.60" fill="#b4cc88"/>
<rect x="186.07" y="88.44" width="4.60" height="4.60" fill="#b4cc88"/>
<rect x="201.95" y="45.13" width="4.60" height="4.60" fill="#b4cc88"/>
<rect x="217.82" y="42.21" width="4.60" height="4.60" fill="#b4cc88"/>
<rect x="233.70" y="63.13" width="4.60" height="4.60" fill="#b4cc88"/>
<rect x="249.57" y="79.55" width="4.60" height="4.60" fill="#b4cc88"/>
<rect x="265.45" y="88.18" width="4.60" height="4.60" fill="#b4cc88"/>
<rect x="281.32" y="93.11" width="4.60" height="4.60" fill="#b4cc88"/>
<rect x="296.88" y="94.85" width="4.60" height="4.60" fill="#b4cc88"/>
<circle cx="172.82" cy="98.24" r="2.42" fill="#92b856"/>
<circle cx="188.38" cy="90.74" r="2.42" fill="#92b856"/>
<circle cx="204.25" cy="47.43" r="2.42" fill="#92b856"/>
<circle cx="220.12" cy="44.51" r="2.42" fill="#92b856"/>
<circle cx="236.00" cy="65.43" r="2.42" fill="#92b856"/>
<circle cx="251.88" cy="81.85" r="2.42" fill="#92b856"/>
<circle cx="267.75" cy="90.48" r="2.42" fill="#92b856"/>
<circle cx="283.62" cy="95.41" r="2.42" fill="#92b856"/>
<circle cx="299.18" cy="97.15" r="2.42" fill="#92b856"/>
<path d="M172.82,95.48 L175.58,100.54 L170.06,100.54 Z" fill="#5c8a32"/>
<path d="M188.38,87.98 L191.13,93.04 L185.62,93.04 Z" fill="#5c8a32"/>
<path d="M204.25,44.67 L207.01,49.73 L201.49,49.73 Z" fill="#5c8a32"/>
<path d="M220.12,41.75 L222.88,46.81 L217.37,46.81 Z" fill="#5c8a32"/>
<path d="M236.00,62.67 L238.76,67.73 L233.24,67.73 Z" fill="#5c8a32"/>
<path d="M251.88,79.09 L254.63,84.15 L249.12,84.15 Z" fill="#5c8a32"/>
<path d="M267.75,87.72 L270.51,92.78 L264.99,92.78 Z" fill="#5c8a32"/>
<path d="M283.62,92.65 L286.38,97.71 L280.87,97.71 Z" fill="#5c8a32"/>
<path d="M299.18,94.39 L301.94,99.45 L296.42,99.45 Z" fill="#5c8a32"/>
<path d="M172.82,101.00 L175.58,95.94 L170.06,95.94 Z" fill="#46682a"/>
<path d="M188.38,93.50 L191.13,88.44 L185.62,88.44 Z" fill="#46682a"/>
<path d="M204.25,50.19 L207.01,45.13 L201.49,45.13 Z" fill="#46682a"/>
<path d="M220.12,47.27 L222.88,42.21 L217.37,42.21 Z" fill="#46682a"/>
<path d="M236.00,68.19 L238.76,63.13 L233.24,63.13 Z" fill="#46682a"/>
<path d="M251.88,84.61 L254.63,79.55 L249.12,79.55 Z" fill="#46682a"/>
<path d="M267.75,93.24 L270.51,88.18 L264.99,88.18 Z" fill="#46682a"/>
<path d="M283.62,98.17 L286.38,93.11 L280.87,93.11 Z" fill="#46682a"/>
<path d="M299.18,99.91 L301.94,94.85 L296.42,94.85 Z" fill="#46682a"/>
<path d="M44.50,171.60 L44.82,171.59 L45.14,171.58 L45.46,171.57 L45.78,171.57 L46.10,171.56 L46.42,171.56 L46.74,171.55 L47.06,171.55 L47.38,171.54 L47.70,171.53 L48.02,171.52 L48.34,171.51 L48.66,171.50 L48.98,171.49 L49.30,171.47 L49.62,171.45 L49.94,171.43 L50.26,171.41 L50.58,171.39 L50.90,171.36 L51.22,171.33 L51.54,171.29 L51.86,171.25 L52.18,171.20 L52.50,171.15 L52.82,171.10 L53.14,171.05 L53.46,171.00 L53.78,170.95 L54.10,170.91 L54.42,170.86 L54.74,170.82 L55.06,170.77 L55.38,170.72 L55.70,170.67 L56.02,170.62 L56.34,170.56 L56.66,170.49 L56.98,170.42 L57.30,170.35 L57.62,170.26 L57.94,170.17 L58.26,170.06 L58.58,169.94 L58.90,169.81 L59.22,169.66 L59.54,169.49 L59.86,169.29 L60.18,169.07 L60.50,168.80 L60.82,168.49 L61.14,168.13 L61.46,167.72 L61.78,167.26 L62.10,166.72 L62.42,166.09 L62.74,165.37 L63.06,164.55 L63.38,163.62 L63.70,162.60 L64.02,161.52 L64.34,160.40 L64.66,159.17 L64.98,157.69 L65.30,155.99 L65.62,154.07 L65.94,152.04 L66.26,150.02 L66.58,148.12 L66.90,146.40 L67.22,144.79 L67.54,143.18 L67.86,141.59 L68.18,140.02 L68.50,138.47 L68.82,136.96 L69.14,135.47 L69.46,134.03 L69.78,132.63 L70.10,131.28 L70.42,129.97 L70.74,128.66 L71.06,127.38 L71.38,126.14 L71.70,124.94 L72.02,123.81 L72.34,122.75 L72.66,121.77 L72.98,120.88 L73.30,120.08 L73.62,119.37 L73.94,118.73 L74.26,118.15 L74.58,117.64 L74.90,117.18 L75.22,116.78 L75.54,116.44 L75.86,116.15 L76.18,115.91 L76.50,115.73 L76.82,115.60 L77.14,115.53 L77.46,115.53 L77.78,115.59 L78.10,115.73 L78.42,115.94 L78.74,116.19 L79.06,116.49 L79.38,116.81 L79.70,117.15 L80.02,117.49 L80.34,117.84 L80.66,118.20 L80.98,118.59 L81.30,118.99 L81.62,119.40 L81.94,119.83 L82.26,120.26 L82.58,120.70 L82.90,121.15 L83.22,121.60 L83.54,122.06 L83.86,122.51 L84.18,122.97 L84.50,123.43 L84.82,123.88 L85.14,124.34 L85.46,124.79 L85.78,125.24 L86.10,125.68 L86.42,126.12 L86.74,126.55 L87.06,126.99 L87.38,127.42 L87.70,127.85 L88.02,128.29 L88.34,128.72 L88.66,129.15 L88.98,129.58 L89.30,130.02 L89.62,130.46 L89.94,130.90 L90.26,131.34 L90.58,131.79 L90.90,132.24 L91.22,132.69 L91.54,133.15 L91.86,133.61 L92.18,134.08 L92.50,134.56 L92.82,135.04 L93.14,135.53 L93.46,136.02 L93.78,136.52 L94.10,137.02 L94.42,137.52 L94.74,138.03 L95.06,138.54 L95.38,139.05 L95.70,139.56 L96.02,140.07 L96.34,140.58 L96.66,141.09 L96.98,141.60 L97.30,142.11 L97.62,142.61 L97.94,143.11 L98.26,143.60 L98.58,144.09 L98.90,144.57 L99.22,145.04 L99.54,145.51 L99.86,145.98 L100.18,146.44 L100.50,146.90 L100.82,147.36 L101.14,147.81 L101.46,148.27 L101.78,148.73 L102.10,149.20 L102.42,149.68 L102.74,150.17 L103.06,150.68 L103.38,151.20 L103.70,151.72 L104.02,152.24 L104.34,152.75 L104.66,153.26 L104.98,153.76 L105.30,154.25 L105.62,154.73 L105.94,155.19 L106.26,155.63 L106.58,156.06 L106.90,156.47 L107.22,156.87 L107.54,157.24 L107.86,157.60 L108.18,157.94 L108.50,158.27 L108.82,158.60 L109.14,158.91 L109.46,159.22 L109.78,159.53 L110.10,159.82 L110.42,160.12 L110.74,160.40 L111.06,160.68 L111.38,160.96 L111.70,161.24 L112.02,161.50 L112.34,161.77 L112.66,162.03 L112.98,162.29 L113.30,162.54 L113.62,162.79 L113.94,163.04 L114.26,163.28 L114.58,163.52 L114.90,163.76 L115.22,163.99 L115.54,164.22 L115.86,164.44 L116.18,164.66 L116.50,164.88 L116.82,165.09 L117.14,165.31 L117.46,165.52 L117.78,165.73 L118.10,165.94 L118.42,166.14 L118.74,166.34 L119.06,166.52 L119.38,166.70 L119.70,166.86 L120.02,167.02 L120.34,167.16 L120.66,167.29 L120.98,167.41 L121.30,167.52 L121.62,167.63 L121.94,167.73 L122.26,167.82 L122.58,167.91 L122.90,168.00 L123.22,168.08 L123.54,168.16 L123.86,168.24 L124.18,168.31 L124.50,168.39 L124.82,168.45 L125.14,168.52 L125.46,168.59 L125.78,168.65 L126.10,168.71 L126.42,168.77 L126.74,168.83 L127.06,168.88 L127.38,168.94 L127.70,168.99 L128.02,169.04 L128.34,169.09 L128.66,169.15 L128.98,169.19 L129.30,169.24 L129.62,169.29 L129.94,169.34 L130.26,169.38 L130.58,169.43 L130.90,169.47 L131.22,169.52 L131.54,169.56 L131.86,169.60 L132.18,169.64 L132.50,169.68 L132.82,169.72 L133.14,169.76 L133.46,169.80 L133.78,169.84 L134.10,169.88 L134.42,169.92 L134.74,169.95 L135.06,169.99 L135.38,170.03 L135.70,170.06 L136.02,170.10 L136.34,170.13 L136.66,170.17 L136.98,170.20 L137.30,170.23 L137.62,170.26 L137.94,170.30 L138.26,170.33 L138.58,170.36 L138.90,170.39 L139.22,170.42 L139.54,170.45 L139.86,170.48 L140.18,170.51 L140.50,170.54 L140.82,170.56 L141.14,170.59 L141.46,170.61 L141.78,170.64 L142.10,170.66 L142.42,170.68 L142.74,170.70 L143.06,170.72 L143.38,170.74 L143.70,170.76 L144.02,170.78 L144.34,170.79 L144.66,170.81 L144.98,170.83 L145.30,170.84 L145.62,170.86 L145.94,170.87 L146.26,170.89 L146.58,170.90 L146.90,170.91 L147.22,170.92 L147.54,170.94 L147.86,170.95 L148.18,170.96 L148.50,170.97 L148.82,170.98 L149.14,170.99 L149.46,171.00 L149.78,171.01 L150.10,171.02 L150.42,171.03 L150.74,171.04 L151.06,171.05 L151.38,171.06 L151.70,171.07 L152.02,171.08 L152.34,171.08 L152.66,171.09 L152.98,171.10 L153.30,171.11 L153.62,171.12 L153.94,171.13 L154.26,171.14 L154.58,171.15 L154.90,171.16 L155.22,171.17 L155.54,171.18 L155.86,171.19 L156.18,171.20 L156.50,171.21 L156.82,171.22 L157.14,171.23 L157.46,171.24 L157.78,171.25 L158.10,171.26 L158.42,171.27 L158.74,171.28 L159.06,171.29 L159.38,171.30 L159.70,171.31 L160.02,171.31 L160.34,171.32 L160.66,171.33 L160.98,171.34 L161.30,171.35 L161.62,171.36 L161.94,171.36 L162.26,171.37 L162.58,171.38 L162.90,171.39 L163.22,171.40 L163.54,171.40 L163.86,171.41 L164.18,171.42 L164.50,171.43 L164.82,171.43 L165.14,171.44 L165.46,171.45 L165.78,171.45 L166.10,171.46 L166.42,171.47 L166.74,171.48 L167.06,171.48 L167.38,171.49 L167.70,171.50 L168.02,171.50 L168.34,171.51 L168.66,171.52 L168.98,171.52 L169.30,171.53 L169.62,171.54 L169.94,171.54 L170.26,171.55 L170.58,171.56 L170.90,171.56 L171.22,171.57 L171.54,171.58 L171.86,171.59 L172.18,171.59 L172.50,171.60" fill="none" stroke="#62bea2" stroke-width="0.95"/>
<path d="M44.50,171.60 L44.82,171.59 L45.14,171.58 L45.46,171.57 L45.78,171.57 L46.10,171.56 L46.42,171.56 L46.74,171.55 L47.06,171.55 L47.38,171.54 L47.70,171.53 L48.02,171.52 L48.34,171.51 L48.66,171.50 L48.98,171.49 L49.30,171.47 L49.62,171.45 L49.94,171.43 L50.26,171.41 L50.58,171.39 L50.90,171.36 L51.22,171.33 L51.54,171.29 L51.86,171.25 L52.18,171.20 L52.50,171.15 L52.82,171.10 L53.14,171.05 L53.46,171.00 L53.78,170.95 L54.10,170.91 L54.42,170.86 L54.74,170.82 L55.06,170.77 L55.38,170.72 L55.70,170.67 L56.02,170.62 L56.34,170.56 L56.66,170.49 L56.98,170.42 L57.30,170.35 L57.62,170.26 L57.94,170.17 L58.26,170.06 L58.58,169.94 L58.90,169.81 L59.22,169.66 L59.54,169.49 L59.86,169.29 L60.18,169.07 L60.50,168.80 L60.82,168.49 L61.14,168.13 L61.46,167.72 L61.78,167.26 L62.10,166.72 L62.42,166.09 L62.74,165.37 L63.06,164.55 L63.38,163.62 L63.70,162.60 L64.02,161.52 L64.34,160.40 L64.66,159.17 L64.98,157.69 L65.30,155.99 L65.62,154.07 L65.94,152.04 L66.26,150.02 L66.58,148.12 L66.90,146.40 L67.22,144.79 L67.54,143.18 L67.86,141.59 L68.18,140.02 L68.50,138.47 L68.82,136.96 L69.14,135.47 L69.46,134.03 L69.78,132.63 L70.10,131.28 L70.42,129.97 L70.74,128.66 L71.06,127.38 L71.38,126.14 L71.70,124.94 L72.02,123.81 L72.34,122.75 L72.66,121.77 L72.98,120.88 L73.30,120.08 L73.62,119.37 L73.94,118.73 L74.26,118.15 L74.58,117.64 L74.90,117.18 L75.22,116.78 L75.54,116.44 L75.86,116.15 L76.18,115.91 L76.50,115.73 L76.82,115.60 L77.14,115.53 L77.46,115.53 L77.78,115.59 L78.10,115.73 L78.42,115.94 L78.74,116.19 L79.06,116.49 L79.38,116.81 L79.70,117.15 L80.02,117.49 L80.34,117.84 L80.66,118.20 L80.98,118.59 L81.30,118.99 L81.62,119.40 L81.94,119.83 L82.26,120.26 L82.58,120.70 L82.90,121.15 L83.22,121.60 L83.54,122.06 L83.86,122.51 L84.18,122.97 L84.50,123.43 L84.82,123.88 L85.14,124.34 L85.46,124.79 L85.78,125.24 L86.10,125.68 L86.42,126.12 L86.74,126.55 L87.06,126.99 L87.38,127.42 L87.70,127.85 L88.02,128.29 L88.34,128.72 L88.66,129.15 L88.98,129.58 L89.30,130.02 L89.62,130.46 L89.94,130.90 L90.26,131.34 L90.58,131.79 L90.90,132.24 L91.22,132.69 L91.54,133.15 L91.86,133.61 L92.18,134.08 L92.50,134.56 L92.82,135.04 L93.14,135.53 L93.46,136.02 L93.78,136.52 L94.10,137.02 L94.42,137.52 L94.74,138.03 L95.06,138.54 L95.38,139.05 L95.70,139.56 L96.02,140.07 L96.34,140.58 L96.66,141.09 L96.98,141.60 L97.30,142.11 L97.62,142.61 L97.94,143.11 L98.26,143.60 L98.58,144.09 L98.90,144.57 L99.22,145.04 L99.54,145.51 L99.86,145.98 L100.18,146.44 L100.50,146.90 L100.82,147.36 L101.14,147.81 L101.46,148.27 L101.78,148.73 L102.10,149.20 L102.42,149.68 L102.74,150.17 L103.06,150.68 L103.38,151.20 L103.70,151.72 L104.02,152.24 L104.34,152.75 L104.66,153.26 L104.98,153.76 L105.30,154.25 L105.62,154.73 L105.94,155.19 L106.26,155.63 L106.58,156.06 L106.90,156.47 L107.22,156.87 L107.54,157.24 L107.86,157.60 L108.18,157.94 L108.50,158.27 L108.82,158.60 L109.14,158.91 L109.46,159.22 L109.78,159.53 L110.10,159.82 L110.42,160.12 L110.74,160.40 L111.06,160.68 L111.38,160.96 L111.70,161.24 L112.02,161.50 L112.34,161.77 L112.66,162.03 L112.98,162.29 L113.30,162.54 L113.62,162.79 L113.94,163.04 L114.26,163.28 L114.58,163.52 L114.90,163.76 L115.22,163.99 L115.54,164.22 L115.86,164.44 L116.18,164.66 L116.50,164.88 L116.82,165.09 L117.14,165.31 L117.46,165.52 L117.78,165.73 L118.10,165.94 L118.42,166.14 L118.74,166.34 L119.06,166.52 L119.38,166.70 L119.70,166.86 L120.02,167.02 L120.34,167.16 L120.66,167.29 L120.98,167.41 L121.30,167.52 L121.62,167.63 L121.94,167.73 L122.26,167.82 L122.58,167.91 L122.90,168.00 L123.22,168.08 L123.54,168.16 L123.86,168.24 L124.18,168.31 L124.50,168.39 L124.82,168.45 L125.14,168.52 L125.46,168.59 L125.78,168.65 L126.10,168.71 L126.42,168.77 L126.74,168.83 L127.06,168.88 L127.38,168.94 L127.70,168.99 L128.02,169.04 L128.34,169.09 L128.66,169.15 L128.98,169.19 L129.30,169.24 L129.62,169.29 L129.94,169.34 L130.26,169.38 L130.58,169.43 L130.90,169.47 L131.22,169.52 L131.54,169.56 L131.86,169.60 L132.18,169.64 L132.50,169.68 L132.82,169.72 L133.14,169.76 L133.46,169.80 L133.78,169.84 L134.10,169.88 L134.42,169.92 L134.74,169.95 L135.06,169.99 L135.38,170.03 L135.70,170.06 L136.02,170.10 L136.34,170.13 L136.66,170.17 L136.98,170.20 L137.30,170.23 L137.62,170.26 L137.94,170.30 L138.26,170.33 L138.58,170.36 L138.90,170.39 L139.22,170.42 L139.54,170.45 L139.86,170.48 L140.18,170.51 L140.50,170.54 L140.82,170.56 L141.14,170.59 L141.46,170.61 L141.78,170.64 L142.10,170.66 L142.42,170.68 L142.74,170.70 L143.06,170.72 L143.38,170.74 L143.70,170.76 L144.02,170.78 L144.34,170.79 L144.66,170.81 L144.98,170.83 L145.30,170.84 L145.62,170.86 L145.94,170.87 L146.26,170.89 L146.58,170.90 L146.90,170.91 L147.22,170.92 L147.54,170.94 L147.86,170.95 L148.18,170.96 L148.50,170.97 L148.82,170.98 L149.14,170.99 L149.46,171.00 L149.78,171.01 L150.10,171.02 L150.42,171.03 L150.74,171.04 L151.06,171.05 L151.38,171.06 L151.70,171.07 L152.02,171.08 L152.34,171.08 L152.66,171.09 L152.98,171.10 L153.30,171.11 L153.62,171.12 L153.94,171.13 L154.26,171.14 L154.58,171.15 L154.90,171.16 L155.22,171.17 L155.54,171.18 L155.86,171.19 L156.18,171.20 L156.50,171.21 L156.82,171.22 L157.14,171.23 L157.46,171.24 L157.78,171.25 L158.10,171.26 L158.42,171.27 L158.74,171.28 L159.06,171.29 L159.38,171.30 L159.70,171.31 L160.02,171.31 L160.34,171.32 L160.66,171.33 L160.98,171.34 L161.30,171.35 L161.62,171.36 L161.94,171.36 L162.26,171.37 L162.58,171.38 L162.90,171.39 L163.22,171.40 L163.54,171.40 L163.86,171.41 L164.18,171.42 L164.50,171.43 L164.82,171.43 L165.14,171.44 L165.46,171.45 L165.78,171.45 L166.10,171.46 L166.42,171.47 L166.74,171.48 L167.06,171.48 L167.38,171.49 L167.70,171.50 L168.02,171.50 L168.34,171.51 L168.66,171.52 L168.98,171.52 L169.30,171.53 L169.62,171.54 L169.94,171.54 L170.26,171.55 L170.58,171.56 L170.90,171.56 L171.22,171.57 L171.54,171.58 L171.86,171.59 L172.18,171.59 L172.50,171.60" fill="none" stroke="#10604a" stroke-width="0.95"/>
<path d="M44.50,171.60 L44.82,171.59 L45.14,171.58 L45.46,171.57 L45.78,171.57 L46.10,171.56 L46.42,171.56 L46.74,171.55 L47.06,171.55 L47.38,171.54 L47.70,171.53 L48.02,171.52 L48.34,171.51 L48.66,171.50 L48.98,171.49 L49.30,171.47 L49.62,171.45 L49.94,171.43 L50.26,171.41 L50.58,171.39 L50.90,171.36 L51.22,171.33 L51.54,171.29 L51.86,171.25 L52.18,171.20 L52.50,171.15 L52.82,171.10 L53.14,171.05 L53.46,171.00 L53.78,170.95 L54.10,170.91 L54.42,170.86 L54.74,170.82 L55.06,170.77 L55.38,170.72 L55.70,170.67 L56.02,170.62 L56.34,170.56 L56.66,170.49 L56.98,170.42 L57.30,170.35 L57.62,170.26 L57.94,170.17 L58.26,170.06 L58.58,169.94 L58.90,169.81 L59.22,169.66 L59.54,169.49 L59.86,169.29 L60.18,169.07 L60.50,168.80 L60.82,168.49 L61.14,168.13 L61.46,167.72 L61.78,167.26 L62.10,166.72 L62.42,166.09 L62.74,165.37 L63.06,164.55 L63.38,163.62 L63.70,162.60 L64.02,161.52 L64.34,160.40 L64.66,159.17 L64.98,157.69 L65.30,155.99 L65.62,154.07 L65.94,152.04 L66.26,150.02 L66.58,148.12 L66.90,146.40 L67.22,144.79 L67.54,143.18 L67.86,141.59 L68.18,140.02 L68.50,138.47 L68.82,136.96 L69.14,135.47 L69.46,134.03 L69.78,132.63 L70.10,131.28 L70.42,129.97 L70.74,128.66 L71.06,127.38 L71.38,126.14 L71.70,124.94 L72.02,123.81 L72.34,122.75 L72.66,121.77 L72.98,120.88 L73.30,120.08 L73.62,119.37 L73.94,118.73 L74.26,118.15 L74.58,117.64 L74.90,117.18 L75.22,116.78 L75.54,116.44 L75.86,116.15 L76.18,115.91 L76.50,115.73 L76.82,115.60 L77.14,115.53 L77.46,115.53 L77.78,115.59 L78.10,115.73 L78.42,115.94 L78.74,116.19 L79.06,116.49 L79.38,116.81 L79.70,117.15 L80.02,117.49 L80.34,117.84 L80.66,118.20 L80.98,118.59 L81.30,118.99 L81.62,119.40 L81.94,119.83 L82.26,120.26 L82.58,120.70 L82.90,121.15 L83.22,121.60 L83.54,122.06 L83.86,122.51 L84.18,122.97 L84.50,123.43 L84.82,123.88 L85.14,124.34 L85.46,124.79 L85.78,125.24 L86.10,125.68 L86.42,126.12 L86.74,126.55 L87.06,126.99 L87.38,127.42 L87.70,127.85 L88.02,128.29 L88.34,128.72 L88.66,129.15 L88.98,129.58 L89.30,130.02 L89.62,130.46 L89.94,130.90 L90.26,131.34 L90.58,131.79 L90.90,132.24 L91.22,132.69 L91.54,133.15 L91.86,133.61 L92.18,134.08 L92.50,134.56 L92.82,135.04 L93.14,135.53 L93.46,136.02 L93.78,136.52 L94.10,137.02 L94.42,137.52 L94.74,138.03 L95.06,138.54 L95.38,139.05 L95.70,139.56 L96.02,140.07 L96.34,140.58 L96.66,141.09 L96.98,141.60 L97.30,142.11 L97.62,142.61 L97.94,143.11 L98.26,143.60 L98.58,144.09 L98.90,144.57 L99.22,145.04 L99.54,145.51 L99.86,145.98 L100.18,146.44 L100.50,146.90 L100.82,147.36 L101.14,147.81 L101.46,148.27 L101.78,148.73 L102.10,149.20 L102.42,149.68 L102.74,150.17 L103.06,150.68 L103.38,151.20 L103.70,151.72 L104.02,152.24 L104.34,152.75 L104.66,153.26 L104.98,153.76 L105.30,154.25 L105.62,154.73 L105.94,155.19 L106.26,155.63 L106.58,156.06 L106.90,156.47 L107.22,156.87 L107.54,157.24 L107.86,157.60 L108.18,157.94 L108.50,158.27 L108.82,158.60 L109.14,158.91 L109.46,159.22 L109.78,159.53 L110.10,159.82 L110.42,160.12 L110.74,160.40 L111.06,160.68 L111.38,160.96 L111.70,161.24 L112.02,161.50 L112.34,161.77 L112.66,162.03 L112.98,162.29 L113.30,162.54 L113.62,162.79 L113.94,163.04 L114.26,163.28 L114.58,163.52 L114.90,163.76 L115.22,163.99 L115.54,164.22 L115.86,164.44 L116.18,164.66 L116.50,164.88 L116.82,165.09 L117.14,165.31 L117.46,165.52 L117.78,165.73 L118.10,165.94 L118.42,166.14 L118.74,166.34 L119.06,166.52 L119.38,166.70 L119.70,166.86 L120.02,167.02 L120.34,167.16 L120.66,167.29 L120.98,167.41 L121.30,167.52 L121.62,167.63 L121.94,167.73 L122.26,167.82 L122.58,167.91 L122.90,168.00 L123.22,168.08 L123.54,168.16 L123.86,168.24 L124.18,168.31 L124.50,168.39 L124.82,168.45 L125.14,168.52 L125.46,168.59 L125.78,168.65 L126.10,168.71 L126.42,168.77 L126.74,168.83 L127.06,168.88 L127.38,168.94 L127.70,168.99 L128.02,169.04 L128.34,169.09 L128.66,169.15 L128.98,169.19 L129.30,169.24 L129.62,169.29 L129.94,169.34 L130.26,169.38 L130.58,169.43 L130.90,169.47 L131.22,169.52 L131.54,169.56 L131.86,169.60 L132.18,169.64 L132.50,169.68 L132.82,169.72 L133.14,169.76 L133.46,169.80 L133.78,169.84 L134.10,169.88 L134.42,169.92 L134.74,169.95 L135.06,169.99 L135.38,170.03 L135.70,170.06 L136.02,170.10 L136.34,170.13 L136.66,170.17 L136.98,170.20 L137.30,170.23 L137.62,170.26 L137.94,170.30 L138.26,170.33 L138.58,170.36 L138.90,170.39 L139.22,170.42 L139.54,170.45 L139.86,170.48 L140.18,170.51 L140.50,170.54 L140.82,170.56 L141.14,170.59 L141.46,170.61 L141.78,170.64 L142.10,170.66 L142.42,170.68 L142.74,170.70 L143.06,170.72 L143.38,170.74 L143.70,170.76 L144.02,170.78 L144.34,170.79 L144.66,170.81 L144.98,170.83 L145.30,170.84 L145.62,170.86 L145.94,170.87 L146.26,170.89 L146.58,170.90 L146.90,170.91 L147.22,170.92 L147.54,170.94 L147.86,170.95 L148.18,170.96 L148.50,170.97 L148.82,170.98 L149.14,170.99 L149.46,171.00 L149.78,171.01 L150.10,171.02 L150.42,171.03 L150.74,171.04 L151.06,171.05 L151.38,171.06 L151.70,171.07 L152.02,171.08 L152.34,171.08 L152.66,171.09 L152.98,171.10 L153.30,171.11 L153.62,171.12 L153.94,171.13 L154.26,171.14 L154.58,171.15 L154.90,171.16 L155.22,171.17 L155.54,171.18 L155.86,171.19 L156.18,171.20 L156.50,171.21 L156.82,171.22 L157.14,171.23 L157.46,171.24 L157.78,171.25 L158.10,171.26 L158.42,171.27 L158.74,171.28 L159.06,171.29 L159.38,171.30 L159.70,171.31 L160.02,171.31 L160.34,171.32 L160.66,171.33 L160.98,171.34 L161.30,171.35 L161.62,171.36 L161.94,171.36 L162.26,171.37 L162.58,171.38 L162.90,171.39 L163.22,171.40 L163.54,171.40 L163.86,171.41 L164.18,171.42 L164.50,171.43 L164.82,171.43 L165.14,171.44 L165.46,171.45 L165.78,171.45 L166.10,171.46 L166.42,171.47 L166.74,171.48 L167.06,171.48 L167.38,171.49 L167.70,171.50 L168.02,171.50 L168.34,171.51 L168.66,171.52 L168.98,171.52 L169.30,171.53 L169.62,171.54 L169.94,171.54 L170.26,171.55 L170.58,171.56 L170.90,171.56 L171.22,171.57 L171.54,171.58 L171.86,171.59 L172.18,171.59 L172.50,171.60" fill="none" stroke="#2aa276" stroke-width="0.95"/>
<path d="M44.50,171.60 L44.82,171.59 L45.14,171.58 L45.46,171.57 L45.78,171.57 L46.10,171.56 L46.42,171.56 L46.74,171.55 L47.06,171.55 L47.38,171.54 L47.70,171.53 L48.02,171.52 L48.34,171.51 L48.66,171.50 L48.98,171.49 L49.30,171.47 L49.62,171.45 L49.94,171.43 L50.26,171.41 L50.58,171.39 L50.90,171.36 L51.22,171.33 L51.54,171.29 L51.86,171.25 L52.18,171.20 L52.50,171.15 L52.82,171.10 L53.14,171.05 L53.46,171.00 L53.78,170.95 L54.10,170.91 L54.42,170.86 L54.74,170.82 L55.06,170.77 L55.38,170.72 L55.70,170.67 L56.02,170.62 L56.34,170.56 L56.66,170.49 L56.98,170.42 L57.30,170.35 L57.62,170.26 L57.94,170.17 L58.26,170.06 L58.58,169.94 L58.90,169.81 L59.22,169.66 L59.54,169.49 L59.86,169.29 L60.18,169.07 L60.50,168.80 L60.82,168.49 L61.14,168.13 L61.46,167.72 L61.78,167.26 L62.10,166.72 L62.42,166.09 L62.74,165.37 L63.06,164.55 L63.38,163.62 L63.70,162.60 L64.02,161.52 L64.34,160.40 L64.66,159.17 L64.98,157.69 L65.30,155.99 L65.62,154.07 L65.94,152.04 L66.26,150.02 L66.58,148.12 L66.90,146.40 L67.22,144.79 L67.54,143.18 L67.86,141.59 L68.18,140.02 L68.50,138.47 L68.82,136.96 L69.14,135.47 L69.46,134.03 L69.78,132.63 L70.10,131.28 L70.42,129.97 L70.74,128.66 L71.06,127.38 L71.38,126.14 L71.70,124.94 L72.02,123.81 L72.34,122.75 L72.66,121.77 L72.98,120.88 L73.30,120.08 L73.62,119.37 L73.94,118.73 L74.26,118.15 L74.58,117.64 L74.90,117.18 L75.22,116.78 L75.54,116.44 L75.86,116.15 L76.18,115.91 L76.50,115.73 L76.82,115.60 L77.14,115.53 L77.46,115.53 L77.78,115.59 L78.10,115.73 L78.42,115.94 L78.74,116.19 L79.06,116.49 L79.38,116.81 L79.70,117.15 L80.02,117.49 L80.34,117.84 L80.66,118.20 L80.98,118.59 L81.30,118.99 L81.62,119.40 L81.94,119.83 L82.26,120.26 L82.58,120.70 L82.90,121.15 L83.22,121.60 L83.54,122.06 L83.86,122.51 L84.18,122.97 L84.50,123.43 L84.82,123.88 L85.14,124.34 L85.46,124.79 L85.78,125.24 L86.10,125.68 L86.42,126.12 L86.74,126.55 L87.06,126.99 L87.38,127.42 L87.70,127.85 L88.02,128.29 L88.34,128.72 L88.66,129.15 L88.98,129.58 L89.30,130.02 L89.62,130.46 L89.94,130.90 L90.26,131.34 L90.58,131.79 L90.90,132.24 L91.22,132.69 L91.54,133.15 L91.86,133.61 L92.18,134.08 L92.50,134.56 L92.82,135.04 L93.14,135.53 L93.46,136.02 L93.78,136.52 L94.10,137.02 L94.42,137.52 L94.74,138.03 L95.06,138.54 L95.38,139.05 L95.70,139.56 L96.02,140.07 L96.34,140.58 L96.66,141.09 L96.98,141.60 L97.30,142.11 L97.62,142.61 L97.94,143.11 L98.26,143.60 L98.58,144.09 L98.90,144.57 L99.22,145.04 L99.54,145.51 L99.86,145.98 L100.18,146.44 L100.50,146.90 L100.82,147.36 L101.14,147.81 L101.46,148.27 L101.78,148.73 L102.10,149.20 L102.42,149.68 L102.74,150.17 L103.06,150.68 L103.38,151.20 L103.70,151.72 L104.02,152.24 L104.34,152.75 L104.66,153.26 L104.98,153.76 L105.30,154.25 L105.62,154.73 L105.94,155.19 L106.26,155.63 L106.58,156.06 L106.90,156.47 L107.22,156.87 L107.54,157.24 L107.86,157.60 L108.18,157.94 L108.50,158.27 L108.82,158.60 L109.14,158.91 L109.46,159.22 L109.78,159.53 L110.10,159.82 L110.42,160.12 L110.74,160.40 L111.06,160.68 L111.38,160.96 L111.70,161.24 L112.02,161.50 L112.34,161.77 L112.66,162.03 L112.98,162.29 L113.30,162.54 L113.62,162.79 L113.94,163.04 L114.26,163.28 L114.58,163.52 L114.90,163.76 L115.22,163.99 L115.54,164.22 L115.86,164.44 L116.18,164.66 L116.50,164.88 L116.82,165.09 L117.14,165.31 L117.46,165.52 L117.78,165.73 L118.10,165.94 L118.42,166.14 L118.74,166.34 L119.06,166.52 L119.38,166.70 L119.70,166.86 L120.02,167.02 L120.34,167.16 L120.66,167.29 L120.98,167.41 L121.30,167.52 L121.62,167.63 L121.94,167.73 L122.26,167.82 L122.58,167.91 L122.90,168.00 L123.22,168.08 L123.54,168.16 L123.86,168.24 L124.18,168.31 L124.50,168.39 L124.82,168.45 L125.14,168.52 L125.46,168.59 L125.78,168.65 L126.10,168.71 L126.42,168.77 L126.74,168.83 L127.06,168.88 L127.38,168.94 L127.70,168.99 L128.02,169.04 L128.34,169.09 L128.66,169.15 L128.98,169.19 L129.30,169.24 L129.62,169.29 L129.94,169.34 L130.26,169.38 L130.58,169.43 L130.90,169.47 L131.22,169.52 L131.54,169.56 L131.86,169.60 L132.18,169.64 L132.50,169.68 L132.82,169.72 L133.14,169.76 L133.46,169.80 L133.78,169.84 L134.10,169.88 L134.42,169.92 L134.74,169.95 L135.06,169.99 L135.38,170.03 L135.70,170.06 L136.02,170.10 L136.34,170.13 L136.66,170.17 L136.98,170.20 L137.30,170.23 L137.62,170.26 L137.94,170.30 L138.26,170.33 L138.58,170.36 L138.90,170.39 L139.22,170.42 L139.54,170.45 L139.86,170.48 L140.18,170.51 L140.50,170.54 L140.82,170.56 L141.14,170.59 L141.46,170.61 L141.78,170.64 L142.10,170.66 L142.42,170.68 L142.74,170.70 L143.06,170.72 L143.38,170.74 L143.70,170.76 L144.02,170.78 L144.34,170.79 L144.66,170.81 L144.98,170.83 L145.30,170.84 L145.62,170.86 L145.94,170.87 L146.26,170.89 L146.58,170.90 L146.90,170.91 L147.22,170.92 L147.54,170.94 L147.86,170.95 L148.18,170.96 L148.50,170.97 L148.82,170.98 L149.14,170.99 L149.46,171.00 L149.78,171.01 L150.10,171.02 L150.42,171.03 L150.74,171.04 L151.06,171.05 L151.38,171.06 L151.70,171.07 L152.02,171.08 L152.34,171.08 L152.66,171.09 L152.98,171.10 L153.30,171.11 L153.62,171.12 L153.94,171.13 L154.26,171.14 L154.58,171.15 L154.90,171.16 L155.22,171.17 L155.54,171.18 L155.86,171.19 L156.18,171.20 L156.50,171.21 L156.82,171.22 L157.14,171.23 L157.46,171.24 L157.78,171.25 L158.10,171.26 L158.42,171.27 L158.74,171.28 L159.06,171.29 L159.38,171.30 L159.70,171.31 L160.02,171.31 L160.34,171.32 L160.66,171.33 L160.98,171.34 L161.30,171.35 L161.62,171.36 L161.94,171.36 L162.26,171.37 L162.58,171.38 L162.90,171.39 L163.22,171.40 L163.54,171.40 L163.86,171.41 L164.18,171.42 L164.50,171.43 L164.82,171.43 L165.14,171.44 L165.46,171.45 L165.78,171.45 L166.10,171.46 L166.42,171.47 L166.74,171.48 L167.06,171.48 L167.38,171.49 L167.70,171.50 L168.02,171.50 L168.34,171.51 L168.66,171.52 L168.98,171.52 L169.30,171.53 L169.62,171.54 L169.94,171.54 L170.26,171.55 L170.58,171.56 L170.90,171.56 L171.22,171.57 L171.54,171.58 L171.86,171.59 L172.18,171.59 L172.50,171.60" fill="none" stroke="#209276" stroke-width="0.95"/>
<rect x="42.52" y="169.29" width="4.60" height="4.60" fill="#62bea2"/>
<rect x="58.20" y="166.50" width="4.60" height="4.60" fill="#62bea2"/>
<rect x="74.20" y="113.43" width="4.60" height="4.60" fill="#62bea2"/>
<rect x="90.20" y="132.26" width="4.60" height="4.60" fill="#62bea2"/>
<rect x="106.20" y="155.97" width="4.60" height="4.60" fill="#62bea2"/>
<rect x="122.20" y="166.09" width="4.60" height="4.60" fill="#62bea2"/>
<rect x="138.20" y="168.24" width="4.60" height="4.60" fill="#62bea2"/>
<rect x="154.20" y="168.91" width="4.60" height="4.60" fill="#62bea2"/>
<rect x="169.88" y="169.29" width="4.60" height="4.60" fill="#62bea2"/>
<circle cx="44.82" cy="171.59" r="2.42" fill="#2aa276"/>
<circle cx="60.50" cy="168.80" r="2.42" fill="#2aa276"/>
<circle cx="76.50" cy="115.73" r="2.42" fill="#2aa276"/>
<circle cx="92.50" cy="134.56" r="2.42" fill="#2aa276"/>
<circle cx="108.50" cy="158.27" r="2.42" fill="#2aa276"/>
<circle cx="124.50" cy="168.39" r="2.42" fill="#2aa276"/>
<circle cx="140.50" cy="170.54" r="2.42" fill="#2aa276"/>
<circle cx="156.50" cy="171.21" r="2.42" fill="#2aa276"/>
<circle cx="172.18" cy="171.59" r="2.42" fill="#2aa276"/>
<path d="M44.82,168.83 L47.58,173.89 L42.06,173.89 Z" fill="#209276"/>
<path d="M60.50,166.04 L63.26,171.10 L57.74,171.10 Z" fill="#209276"/>
<path d="M76.50,112.97 L79.26,118.03 L73.74,118.03 Z" fill="#209276"/>
<path d="M92.50,131.80 L95.26,136.86 L89.74,136.86 Z" fill="#209276"/>
<path d="M108.50,155.51 L111.26,160.57 L105.74,160.57 Z" fill="#209276"/>
<path d="M124.50,165.63 L127.26,170.69 L121.74,170.69 Z" fill="#209276"/>
<path d="M140.50,167.78 L143.26,172.84 L137.74,172.84 Z" fill="#209276"/>
<path d="M156.50,168.45 L159.26,173.51 L153.74,173.51 Z" fill="#209276"/>
<path d="M172.18,168.83 L174.94,173.89 L169.42,173.89 Z" fill="#209276"/>
<path d="M44.82,174.35 L47.58,169.29 L42.06,169.29 Z" fill="#10604a"/>
<path d="M60.50,171.56 L63.26,166.50 L57.74,166.50 Z" fill="#10604a"/>
<path d="M76.50,118.49 L79.26,113.43 L73.74,113.43 Z" fill="#10604a"/>
<path d="M92.50,137.32 L95.26,132.26 L89.74,132.26 Z" fill="#10604a"/>
<path d="M108.50,161.03 L111.26,155.97 L105.74,155.97 Z" fill="#10604a"/>
<path d="M124.50,171.15 L127.26,166.09 L121.74,166.09 Z" fill="#10604a"/>
<path d="M140.50,173.30 L143.26,168.24 L137.74,168.24 Z" fill="#10604a"/>
<path d="M156.50,173.97 L159.26,168.91 L153.74,168.91 Z" fill="#10604a"/>
<path d="M172.18,174.35 L174.94,169.29 L169.42,169.29 Z" fill="#10604a"/>
<path d="M172.50,170.48 L172.82,170.38 L173.13,170.29 L173.45,170.21 L173.77,170.13 L174.09,170.06 L174.41,169.98 L174.72,169.90 L175.04,169.82 L175.36,169.74 L175.68,169.65 L175.99,169.56 L176.31,169.47 L176.63,169.38 L176.94,169.28 L177.26,169.17 L177.58,169.06 L177.90,168.94 L178.22,168.82 L178.53,168.69 L178.85,168.55 L179.17,168.40 L179.49,168.24 L179.80,168.07 L180.12,167.88 L180.44,167.68 L180.75,167.46 L181.07,167.25 L181.39,167.02 L181.71,166.80 L182.03,166.57 L182.34,166.33 L182.66,166.08 L182.98,165.84 L183.29,165.58 L183.61,165.32 L183.93,165.05 L184.25,164.77 L184.56,164.48 L184.88,164.18 L185.20,163.87 L185.52,163.55 L185.84,163.22 L186.15,162.87 L186.47,162.51 L186.79,162.12 L187.10,161.72 L187.42,161.30 L187.74,160.85 L188.06,160.36 L188.38,159.84 L188.69,159.27 L189.01,158.63 L189.33,157.93 L189.65,157.17 L189.96,156.33 L190.28,155.42 L190.60,154.43 L190.91,153.37 L191.23,152.25 L191.55,151.08 L191.87,149.89 L192.19,148.70 L192.50,147.53 L192.82,146.40 L193.14,145.26 L193.46,144.07 L193.77,142.82 L194.09,141.53 L194.41,140.21 L194.72,138.87 L195.04,137.52 L195.36,136.19 L195.68,134.88 L196.00,133.62 L196.31,132.42 L196.63,131.28 L196.95,130.19 L197.26,129.12 L197.58,128.07 L197.90,127.05 L198.22,126.05 L198.53,125.08 L198.85,124.14 L199.17,123.24 L199.49,122.38 L199.81,121.56 L200.12,120.79 L200.44,120.08 L200.76,119.42 L201.07,118.81 L201.39,118.24 L201.71,117.72 L202.03,117.26 L202.34,116.85 L202.66,116.49 L202.98,116.19 L203.30,115.94 L203.62,115.74 L203.93,115.60 L204.25,115.50 L204.57,115.45 L204.88,115.46 L205.20,115.54 L205.52,115.69 L205.84,115.91 L206.16,116.17 L206.47,116.48 L206.79,116.82 L207.11,117.18 L207.43,117.56 L207.74,117.96 L208.06,118.37 L208.38,118.80 L208.69,119.25 L209.01,119.71 L209.33,120.17 L209.65,120.65 L209.97,121.14 L210.28,121.63 L210.60,122.13 L210.92,122.64 L211.24,123.15 L211.55,123.67 L211.87,124.20 L212.19,124.73 L212.50,125.26 L212.82,125.81 L213.14,126.36 L213.46,126.91 L213.78,127.47 L214.09,128.05 L214.41,128.64 L214.73,129.26 L215.05,129.89 L215.36,130.53 L215.68,131.18 L216.00,131.84 L216.31,132.51 L216.63,133.17 L216.95,133.85 L217.27,134.52 L217.59,135.19 L217.90,135.85 L218.22,136.51 L218.54,137.16 L218.86,137.79 L219.17,138.41 L219.49,139.01 L219.81,139.59 L220.12,140.13 L220.44,140.63 L220.76,141.09 L221.08,141.52 L221.40,141.91 L221.71,142.25 L222.03,142.56 L222.35,142.84 L222.66,143.11 L222.98,143.37 L223.30,143.65 L223.62,143.94 L223.94,144.26 L224.25,144.61 L224.57,144.97 L224.89,145.33 L225.20,145.69 L225.52,146.06 L225.84,146.42 L226.16,146.78 L226.47,147.15 L226.79,147.52 L227.11,147.89 L227.43,148.27 L227.75,148.64 L228.06,149.02 L228.38,149.41 L228.70,149.80 L229.01,150.19 L229.33,150.59 L229.65,150.99 L229.97,151.41 L230.28,151.85 L230.60,152.30 L230.92,152.76 L231.24,153.23 L231.56,153.71 L231.87,154.19 L232.19,154.67 L232.51,155.15 L232.82,155.62 L233.14,156.08 L233.46,156.53 L233.78,156.96 L234.09,157.37 L234.41,157.77 L234.73,158.15 L235.05,158.50 L235.37,158.83 L235.68,159.15 L236.00,159.45 L236.32,159.74 L236.63,160.02 L236.95,160.28 L237.27,160.54 L237.59,160.79 L237.91,161.03 L238.22,161.27 L238.54,161.49 L238.86,161.71 L239.18,161.92 L239.49,162.13 L239.81,162.33 L240.13,162.52 L240.44,162.71 L240.76,162.89 L241.08,163.07 L241.40,163.25 L241.72,163.42 L242.03,163.59 L242.35,163.76 L242.67,163.92 L242.99,164.09 L243.30,164.24 L243.62,164.40 L243.94,164.55 L244.25,164.70 L244.57,164.85 L244.89,164.99 L245.21,165.12 L245.53,165.25 L245.84,165.38 L246.16,165.51 L246.48,165.63 L246.80,165.74 L247.11,165.86 L247.43,165.97 L247.75,166.08 L248.06,166.18 L248.38,166.28 L248.70,166.38 L249.02,166.48 L249.34,166.58 L249.65,166.67 L249.97,166.76 L250.29,166.86 L250.61,166.95 L250.92,167.03 L251.24,167.12 L251.56,167.21 L251.88,167.29 L252.19,167.37 L252.51,167.46 L252.83,167.54 L253.14,167.62 L253.46,167.71 L253.78,167.79 L254.10,167.87 L254.42,167.95 L254.73,168.03 L255.05,168.10 L255.37,168.18 L255.69,168.26 L256.00,168.34 L256.32,168.41 L256.64,168.49 L256.95,168.56 L257.27,168.63 L257.59,168.71 L257.91,168.78 L258.23,168.85 L258.54,168.92 L258.86,168.99 L259.18,169.06 L259.50,169.13 L259.81,169.20 L260.13,169.26 L260.45,169.33 L260.76,169.39 L261.08,169.46 L261.40,169.52 L261.72,169.59 L262.03,169.65 L262.35,169.71 L262.67,169.77 L262.99,169.83 L263.31,169.88 L263.62,169.94 L263.94,170.00 L264.26,170.05 L264.57,170.10 L264.89,170.15 L265.21,170.20 L265.53,170.25 L265.85,170.30 L266.16,170.35 L266.48,170.39 L266.80,170.44 L267.12,170.48 L267.43,170.52 L267.75,170.56 L268.07,170.59 L268.38,170.63 L268.70,170.66 L269.02,170.70 L269.34,170.73 L269.65,170.76 L269.97,170.78 L270.29,170.81 L270.61,170.83 L270.93,170.86 L271.24,170.88 L271.56,170.90 L271.88,170.92 L272.19,170.94 L272.51,170.96 L272.83,170.98 L273.15,171.00 L273.47,171.01 L273.78,171.03 L274.10,171.04 L274.42,171.06 L274.74,171.07 L275.05,171.08 L275.37,171.09 L275.69,171.10 L276.00,171.11 L276.32,171.12 L276.64,171.13 L276.96,171.14 L277.27,171.15 L277.59,171.16 L277.91,171.17 L278.23,171.18 L278.55,171.18 L278.86,171.19 L279.18,171.20 L279.50,171.21 L279.81,171.22 L280.13,171.22 L280.45,171.23 L280.77,171.24 L281.09,171.25 L281.40,171.25 L281.72,171.26 L282.04,171.27 L282.36,171.28 L282.67,171.29 L282.99,171.30 L283.31,171.31 L283.62,171.32 L283.94,171.33 L284.26,171.34 L284.58,171.35 L284.89,171.36 L285.21,171.37 L285.53,171.38 L285.85,171.39 L286.17,171.39 L286.48,171.40 L286.80,171.41 L287.12,171.42 L287.44,171.42 L287.75,171.43 L288.07,171.44 L288.39,171.44 L288.70,171.45 L289.02,171.46 L289.34,171.46 L289.66,171.47 L289.98,171.47 L290.29,171.48 L290.61,171.48 L290.93,171.49 L291.25,171.49 L291.56,171.50 L291.88,171.50 L292.20,171.51 L292.51,171.51 L292.83,171.52 L293.15,171.52 L293.47,171.52 L293.78,171.53 L294.10,171.53 L294.42,171.54 L294.74,171.54 L295.06,171.54 L295.37,171.55 L295.69,171.55 L296.01,171.56 L296.32,171.56 L296.64,171.56 L296.96,171.57 L297.28,171.57 L297.60,171.57 L297.91,171.58 L298.23,171.58 L298.55,171.59 L298.87,171.59 L299.18,171.59 L299.50,171.60" fill="none" stroke="#b4cc88" stroke-width="0.95"/>
<path d="M172.50,170.48 L172.82,170.38 L173.13,170.29 L173.45,170.21 L173.77,170.13 L174.09,170.06 L174.41,169.98 L174.72,169.90 L175.04,169.82 L175.36,169.74 L175.68,169.65 L175.99,169.56 L176.31,169.47 L176.63,169.38 L176.94,169.28 L177.26,169.17 L177.58,169.06 L177.90,168.94 L178.22,168.82 L178.53,168.69 L178.85,168.55 L179.17,168.40 L179.49,168.24 L179.80,168.07 L180.12,167.88 L180.44,167.68 L180.75,167.46 L181.07,167.25 L181.39,167.02 L181.71,166.80 L182.03,166.57 L182.34,166.33 L182.66,166.08 L182.98,165.84 L183.29,165.58 L183.61,165.32 L183.93,165.05 L184.25,164.77 L184.56,164.48 L184.88,164.18 L185.20,163.87 L185.52,163.55 L185.84,163.22 L186.15,162.87 L186.47,162.51 L186.79,162.12 L187.10,161.72 L187.42,161.30 L187.74,160.85 L188.06,160.36 L188.38,159.84 L188.69,159.27 L189.01,158.63 L189.33,157.93 L189.65,157.17 L189.96,156.33 L190.28,155.42 L190.60,154.43 L190.91,153.37 L191.23,152.25 L191.55,151.08 L191.87,149.89 L192.19,148.70 L192.50,147.53 L192.82,146.40 L193.14,145.26 L193.46,144.07 L193.77,142.82 L194.09,141.53 L194.41,140.21 L194.72,138.87 L195.04,137.52 L195.36,136.19 L195.68,134.88 L196.00,133.62 L196.31,132.42 L196.63,131.28 L196.95,130.19 L197.26,129.12 L197.58,128.07 L197.90,127.05 L198.22,126.05 L198.53,125.08 L198.85,124.14 L199.17,123.24 L199.49,122.38 L199.81,121.56 L200.12,120.79 L200.44,120.08 L200.76,119.42 L201.07,118.81 L201.39,118.24 L201.71,117.72 L202.03,117.26 L202.34,116.85 L202.66,116.49 L202.98,116.19 L203.30,115.94 L203.62,115.74 L203.93,115.60 L204.25,115.51 L204.57,115.47 L204.88,115.51 L205.20,115.61 L205.52,115.78 L205.84,116.00 L206.16,116.27 L206.47,116.57 L206.79,116.89 L207.11,117.22 L207.43,117.56 L207.74,117.91 L208.06,118.27 L208.38,118.64 L208.69,119.02 L209.01,119.40 L209.33,119.80 L209.65,120.20 L209.97,120.62 L210.28,121.03 L210.60,121.46 L210.92,121.89 L211.24,122.33 L211.55,122.78 L211.87,123.23 L212.19,123.69 L212.50,124.16 L212.82,124.64 L213.14,125.12 L213.46,125.62 L213.78,126.13 L214.09,126.65 L214.41,127.20 L214.73,127.77 L215.05,128.36 L215.36,128.96 L215.68,129.57 L216.00,130.19 L216.31,130.82 L216.63,131.46 L216.95,132.10 L217.27,132.74 L217.59,133.37 L217.90,134.01 L218.22,134.64 L218.54,135.26 L218.86,135.87 L219.17,136.47 L219.49,137.04 L219.81,137.59 L220.12,138.11 L220.44,138.59 L220.76,139.04 L221.08,139.45 L221.40,139.82 L221.71,140.16 L222.03,140.46 L222.35,140.75 L222.66,141.02 L222.98,141.29 L223.30,141.58 L223.62,141.89 L223.94,142.22 L224.25,142.59 L224.57,142.98 L224.89,143.37 L225.20,143.77 L225.52,144.18 L225.84,144.59 L226.16,145.00 L226.47,145.41 L226.79,145.83 L227.11,146.25 L227.43,146.67 L227.75,147.10 L228.06,147.52 L228.38,147.94 L228.70,148.37 L229.01,148.80 L229.33,149.22 L229.65,149.65 L229.97,150.08 L230.28,150.52 L230.60,150.98 L230.92,151.43 L231.24,151.90 L231.56,152.37 L231.87,152.83 L232.19,153.30 L232.51,153.76 L232.82,154.22 L233.14,154.67 L233.46,155.11 L233.78,155.54 L234.09,155.95 L234.41,156.36 L234.73,156.75 L235.05,157.13 L235.37,157.49 L235.68,157.84 L236.00,158.19 L236.32,158.53 L236.63,158.87 L236.95,159.21 L237.27,159.54 L237.59,159.86 L237.91,160.18 L238.22,160.49 L238.54,160.79 L238.86,161.09 L239.18,161.37 L239.49,161.65 L239.81,161.92 L240.13,162.18 L240.44,162.44 L240.76,162.68 L241.08,162.91 L241.40,163.14 L241.72,163.35 L242.03,163.56 L242.35,163.76 L242.67,163.95 L242.99,164.13 L243.30,164.31 L243.62,164.48 L243.94,164.64 L244.25,164.80 L244.57,164.94 L244.89,165.08 L245.21,165.22 L245.53,165.35 L245.84,165.47 L246.16,165.59 L246.48,165.71 L246.80,165.82 L247.11,165.92 L247.43,166.03 L247.75,166.13 L248.06,166.22 L248.38,166.32 L248.70,166.41 L249.02,166.50 L249.34,166.59 L249.65,166.68 L249.97,166.77 L250.29,166.86 L250.61,166.95 L250.92,167.03 L251.24,167.12 L251.56,167.21 L251.88,167.29 L252.19,167.37 L252.51,167.46 L252.83,167.54 L253.14,167.62 L253.46,167.71 L253.78,167.79 L254.10,167.87 L254.42,167.95 L254.73,168.03 L255.05,168.10 L255.37,168.18 L255.69,168.26 L256.00,168.34 L256.32,168.41 L256.64,168.49 L256.95,168.56 L257.27,168.63 L257.59,168.71 L257.91,168.78 L258.23,168.85 L258.54,168.92 L258.86,168.99 L259.18,169.06 L259.50,169.13 L259.81,169.20 L260.13,169.26 L260.45,169.33 L260.76,169.39 L261.08,169.46 L261.40,169.52 L261.72,169.59 L262.03,169.65 L262.35,169.71 L262.67,169.77 L262.99,169.83 L263.31,169.88 L263.62,169.94 L263.94,170.00 L264.26,170.05 L264.57,170.10 L264.89,170.15 L265.21,170.20 L265.53,170.25 L265.85,170.30 L266.16,170.35 L266.48,170.39 L266.80,170.44 L267.12,170.48 L267.43,170.52 L267.75,170.56 L268.07,170.59 L268.38,170.63 L268.70,170.66 L269.02,170.70 L269.34,170.73 L269.65,170.76 L269.97,170.78 L270.29,170.81 L270.61,170.83 L270.93,170.86 L271.24,170.88 L271.56,170.90 L271.88,170.92 L272.19,170.94 L272.51,170.96 L272.83,170.98 L273.15,171.00 L273.47,171.01 L273.78,171.03 L274.10,171.04 L274.42,171.06 L274.74,171.07 L275.05,171.08 L275.37,171.09 L275.69,171.10 L276.00,171.11 L276.32,171.12 L276.64,171.13 L276.96,171.14 L277.27,171.15 L277.59,171.16 L277.91,171.17 L278.23,171.18 L278.55,171.18 L278.86,171.19 L279.18,171.20 L279.50,171.21 L279.81,171.22 L280.13,171.22 L280.45,171.23 L280.77,171.24 L281.09,171.25 L281.40,171.25 L281.72,171.26 L282.04,171.27 L282.36,171.28 L282.67,171.29 L282.99,171.30 L283.31,171.31 L283.62,171.32 L283.94,171.33 L284.26,171.34 L284.58,171.35 L284.89,171.36 L285.21,171.37 L285.53,171.38 L285.85,171.39 L286.17,171.39 L286.48,171.40 L286.80,171.41 L287.12,171.42 L287.44,171.42 L287.75,171.43 L288.07,171.44 L288.39,171.44 L288.70,171.45 L289.02,171.46 L289.34,171.46 L289.66,171.47 L289.98,171.47 L290.29,171.48 L290.61,171.48 L290.93,171.49 L291.25,171.49 L291.56,171.50 L291.88,171.50 L292.20,171.51 L292.51,171.51 L292.83,171.52 L293.15,171.52 L293.47,171.52 L293.78,171.53 L294.10,171.53 L294.42,171.54 L294.74,171.54 L295.06,171.54 L295.37,171.55 L295.69,171.55 L296.01,171.56 L296.32,171.56 L296.64,171.56 L296.96,171.57 L297.28,171.57 L297.60,171.57 L297.91,171.58 L298.23,171.58 L298.55,171.59 L298.87,171.59 L299.18,171.59 L299.50,171.60" fill="none" stroke="#46682a" stroke-width="0.95"/>
<path d="M172.50,170.48 L172.82,170.38 L173.13,170.29 L173.45,170.21 L173.77,170.13 L174.09,170.06 L174.41,169.98 L174.72,169.90 L175.04,169.82 L175.36,169.74 L175.68,169.65 L175.99,169.56 L176.31,169.47 L176.63,169.38 L176.94,169.28 L177.26,169.17 L177.58,169.06 L177.90,168.94 L178.22,168.82 L178.53,168.69 L178.85,168.55 L179.17,168.40 L179.49,168.24 L179.80,168.07 L180.12,167.88 L180.44,167.68 L180.75,167.46 L181.07,167.25 L181.39,167.02 L181.71,166.80 L182.03,166.57 L182.34,166.33 L182.66,166.08 L182.98,165.84 L183.29,165.58 L183.61,165.32 L183.93,165.05 L184.25,164.77 L184.56,164.48 L184.88,164.18 L185.20,163.87 L185.52,163.55 L185.84,163.22 L186.15,162.87 L186.47,162.51 L186.79,162.12 L187.10,161.72 L187.42,161.30 L187.74,160.85 L188.06,160.36 L188.38,159.84 L188.69,159.27 L189.01,158.63 L189.33,157.93 L189.65,157.17 L189.96,156.33 L190.28,155.42 L190.60,154.43 L190.91,153.37 L191.23,152.25 L191.55,151.08 L191.87,149.89 L192.19,148.70 L192.50,147.53 L192.82,146.40 L193.14,145.26 L193.46,144.07 L193.77,142.82 L194.09,141.53 L194.41,140.21 L194.72,138.87 L195.04,137.52 L195.36,136.19 L195.68,134.88 L196.00,133.62 L196.31,132.42 L196.63,131.28 L196.95,130.19 L197.26,129.12 L197.58,128.07 L197.90,127.05 L198.22,126.05 L198.53,125.08 L198.85,124.14 L199.17,123.24 L199.49,122.38 L199.81,121.56 L200.12,120.79 L200.44,120.08 L200.76,119.42 L201.07,118.81 L201.39,118.24 L201.71,117.72 L202.03,117.26 L202.34,116.85 L202.66,116.49 L202.98,116.19 L203.30,115.94 L203.62,115.74 L203.93,115.60 L204.25,115.51 L204.57,115.46 L204.88,115.48 L205.20,115.56 L205.52,115.72 L205.84,115.94 L206.16,116.21 L206.47,116.51 L206.79,116.85 L207.11,117.20 L207.43,117.56 L207.74,117.94 L208.06,118.34 L208.38,118.75 L208.69,119.17 L209.01,119.61 L209.33,120.05 L209.65,120.50 L209.97,120.96 L210.28,121.43 L210.60,121.91 L210.92,122.39 L211.24,122.88 L211.55,123.37 L211.87,123.87 L212.19,124.38 L212.50,124.90 L212.82,125.42 L213.14,125.95 L213.46,126.48 L213.78,127.02 L214.09,127.58 L214.41,128.16 L214.73,128.76 L215.05,129.38 L215.36,130.01 L215.68,130.64 L216.00,131.29 L216.31,131.94 L216.63,132.60 L216.95,133.26 L217.27,133.92 L217.59,134.58 L217.90,135.24 L218.22,135.89 L218.54,136.53 L218.86,137.15 L219.17,137.76 L219.49,138.36 L219.81,138.92 L220.12,139.46 L220.44,139.95 L220.76,140.41 L221.08,140.83 L221.40,141.21 L221.71,141.56 L222.03,141.86 L222.35,142.15 L222.66,142.41 L222.98,142.68 L223.30,142.96 L223.62,143.26 L223.94,143.58 L224.25,143.94 L224.57,144.31 L224.89,144.68 L225.20,145.05 L225.52,145.43 L225.84,145.81 L226.16,146.19 L226.47,146.57 L226.79,146.96 L227.11,147.35 L227.43,147.74 L227.75,148.13 L228.06,148.52 L228.38,148.92 L228.70,149.32 L229.01,149.73 L229.33,150.13 L229.65,150.54 L229.97,150.97 L230.28,151.40 L230.60,151.86 L230.92,152.32 L231.24,152.79 L231.56,153.26 L231.87,153.74 L232.19,154.22 L232.51,154.69 L232.82,155.15 L233.14,155.61 L233.46,156.05 L233.78,156.48 L234.09,156.90 L234.41,157.30 L234.73,157.68 L235.05,158.04 L235.37,158.38 L235.68,158.71 L236.00,159.03 L236.32,159.34 L236.63,159.63 L236.95,159.93 L237.27,160.21 L237.59,160.48 L237.91,160.75 L238.22,161.01 L238.54,161.26 L238.86,161.50 L239.18,161.74 L239.49,161.97 L239.81,162.19 L240.13,162.41 L240.44,162.62 L240.76,162.82 L241.08,163.02 L241.40,163.21 L241.72,163.40 L242.03,163.58 L242.35,163.76 L242.67,163.93 L242.99,164.10 L243.30,164.27 L243.62,164.43 L243.94,164.58 L244.25,164.73 L244.57,164.88 L244.89,165.02 L245.21,165.15 L245.53,165.29 L245.84,165.41 L246.16,165.54 L246.48,165.65 L246.80,165.77 L247.11,165.88 L247.43,165.99 L247.75,166.09 L248.06,166.20 L248.38,166.30 L248.70,166.39 L249.02,166.49 L249.34,166.58 L249.65,166.68 L249.97,166.77 L250.29,166.86 L250.61,166.95 L250.92,167.03 L251.24,167.12 L251.56,167.21 L251.88,167.29 L252.19,167.37 L252.51,167.46 L252.83,167.54 L253.14,167.62 L253.46,167.71 L253.78,167.79 L254.10,167.87 L254.42,167.95 L254.73,168.03 L255.05,168.10 L255.37,168.18 L255.69,168.26 L256.00,168.34 L256.32,168.41 L256.64,168.49 L256.95,168.56 L257.27,168.63 L257.59,168.71 L257.91,168.78 L258.23,168.85 L258.54,168.92 L258.86,168.99 L259.18,169.06 L259.50,169.13 L259.81,169.20 L260.13,169.26 L260.45,169.33 L260.76,169.39 L261.08,169.46 L261.40,169.52 L261.72,169.59 L262.03,169.65 L262.35,169.71 L262.67,169.77 L262.99,169.83 L263.31,169.88 L263.62,169.94 L263.94,170.00 L264.26,170.05 L264.57,170.10 L264.89,170.15 L265.21,170.20 L265.53,170.25 L265.85,170.30 L266.16,170.35 L266.48,170.39 L266.80,170.44 L267.12,170.48 L267.43,170.52 L267.75,170.56 L268.07,170.59 L268.38,170.63 L268.70,170.66 L269.02,170.70 L269.34,170.73 L269.65,170.76 L269.97,170.78 L270.29,170.81 L270.61,170.83 L270.93,170.86 L271.24,170.88 L271.56,170.90 L271.88,170.92 L272.19,170.94 L272.51,170.96 L272.83,170.98 L273.15,171.00 L273.47,171.01 L273.78,171.03 L274.10,171.04 L274.42,171.06 L274.74,171.07 L275.05,171.08 L275.37,171.09 L275.69,171.10 L276.00,171.11 L276.32,171.12 L276.64,171.13 L276.96,171.14 L277.27,171.15 L277.59,171.16 L277.91,171.17 L278.23,171.18 L278.55,171.18 L278.86,171.19 L279.18,171.20 L279.50,171.21 L279.81,171.22 L280.13,171.22 L280.45,171.23 L280.77,171.24 L281.09,171.25 L281.40,171.25 L281.72,171.26 L282.04,171.27 L282.36,171.28 L282.67,171.29 L282.99,171.30 L283.31,171.31 L283.62,171.32 L283.94,171.33 L284.26,171.34 L284.58,171.35 L284.89,171.36 L285.21,171.37 L285.53,171.38 L285.85,171.39 L286.17,171.39 L286.48,171.40 L286.80,171.41 L287.12,171.42 L287.44,171.42 L287.75,171.43 L288.07,171.44 L288.39,171.44 L288.70,171.45 L289.02,171.46 L289.34,171.46 L289.66,171.47 L289.98,171.47 L290.29,171.48 L290.61,171.48 L290.93,171.49 L291.25,171.49 L291.56,171.50 L291.88,171.50 L292.20,171.51 L292.51,171.51 L292.83,171.52 L293.15,171.52 L293.47,171.52 L293.78,171.53 L294.10,171.53 L294.42,171.54 L294.74,171.54 L295.06,171.54 L295.37,171.55 L295.69,171.55 L296.01,171.56 L296.32,171.56 L296.64,171.56 L296.96,171.57 L297.28,171.57 L297.60,171.57 L297.91,171.58 L298.23,171.58 L298.55,171.59 L298.87,171.59 L299.18,171.59 L299.50,171.60" fill="none" stroke="#92b856" stroke-width="0.95"/>
<path d="M172.50,170.48 L172.82,170.38 L173.13,170.29 L173.45,170.21 L173.77,170.13 L174.09,170.06 L174.41,169.98 L174.72,169.90 L175.04,169.82 L175.36,169.74 L175.68,169.65 L175.99,169.56 L176.31,169.47 L176.63,169.38 L176.94,169.28 L177.26,169.17 L177.58,169.06 L177.90,168.94 L178.22,168.82 L178.53,168.69 L178.85,168.55 L179.17,168.40 L179.49,168.24 L179.80,168.07 L180.12,167.88 L180.44,167.68 L180.75,167.46 L181.07,167.25 L181.39,167.02 L181.71,166.80 L182.03,166.57 L182.34,166.33 L182.66,166.08 L182.98,165.84 L183.29,165.58 L183.61,165.32 L183.93,165.05 L184.25,164.77 L184.56,164.48 L184.88,164.18 L185.20,163.87 L185.52,163.55 L185.84,163.22 L186.15,162.87 L186.47,162.51 L186.79,162.12 L187.10,161.72 L187.42,161.30 L187.74,160.85 L188.06,160.36 L188.38,159.84 L188.69,159.27 L189.01,158.63 L189.33,157.93 L189.65,157.17 L189.96,156.33 L190.28,155.42 L190.60,154.43 L190.91,153.37 L191.23,152.25 L191.55,151.08 L191.87,149.89 L192.19,148.70 L192.50,147.53 L192.82,146.40 L193.14,145.26 L193.46,144.07 L193.77,142.82 L194.09,141.53 L194.41,140.21 L194.72,138.87 L195.04,137.52 L195.36,136.19 L195.68,134.88 L196.00,133.62 L196.31,132.42 L196.63,131.28 L196.95,130.19 L197.26,129.12 L197.58,128.07 L197.90,127.05 L198.22,126.05 L198.53,125.08 L198.85,124.14 L199.17,123.24 L199.49,122.38 L199.81,121.56 L200.12,120.79 L200.44,120.08 L200.76,119.42 L201.07,118.81 L201.39,118.24 L201.71,117.72 L202.03,117.26 L202.34,116.85 L202.66,116.49 L202.98,116.19 L203.30,115.94 L203.62,115.74 L203.93,115.60 L204.25,115.51 L204.57,115.47 L204.88,115.49 L205.20,115.59 L205.52,115.75 L205.84,115.97 L206.16,116.24 L206.47,116.54 L206.79,116.87 L207.11,117.21 L207.43,117.56 L207.74,117.92 L208.06,118.30 L208.38,118.69 L208.69,119.09 L209.01,119.51 L209.33,119.93 L209.65,120.35 L209.97,120.79 L210.28,121.23 L210.60,121.68 L210.92,122.14 L211.24,122.60 L211.55,123.07 L211.87,123.55 L212.19,124.04 L212.50,124.53 L212.82,125.03 L213.14,125.53 L213.46,126.05 L213.78,126.58 L214.09,127.12 L214.41,127.68 L214.73,128.27 L215.05,128.87 L215.36,129.48 L215.68,130.11 L216.00,130.74 L216.31,131.38 L216.63,132.03 L216.95,132.68 L217.27,133.33 L217.59,133.98 L217.90,134.62 L218.22,135.26 L218.54,135.89 L218.86,136.51 L219.17,137.11 L219.49,137.70 L219.81,138.26 L220.12,138.78 L220.44,139.27 L220.76,139.72 L221.08,140.14 L221.40,140.52 L221.71,140.86 L222.03,141.16 L222.35,141.45 L222.66,141.71 L222.98,141.98 L223.30,142.27 L223.62,142.57 L223.94,142.90 L224.25,143.26 L224.57,143.64 L224.89,144.03 L225.20,144.41 L225.52,144.80 L225.84,145.20 L226.16,145.59 L226.47,145.99 L226.79,146.39 L227.11,146.80 L227.43,147.20 L227.75,147.61 L228.06,148.02 L228.38,148.43 L228.70,148.85 L229.01,149.26 L229.33,149.68 L229.65,150.10 L229.97,150.52 L230.28,150.96 L230.60,151.42 L230.92,151.88 L231.24,152.34 L231.56,152.81 L231.87,153.29 L232.19,153.76 L232.51,154.22 L232.82,154.68 L233.14,155.14 L233.46,155.58 L233.78,156.01 L234.09,156.43 L234.41,156.83 L234.73,157.22 L235.05,157.59 L235.37,157.94 L235.68,158.27 L236.00,158.61 L236.32,158.93 L236.63,159.25 L236.95,159.57 L237.27,159.87 L237.59,160.17 L237.91,160.46 L238.22,160.75 L238.54,161.03 L238.86,161.29 L239.18,161.56 L239.49,161.81 L239.81,162.06 L240.13,162.30 L240.44,162.53 L240.76,162.75 L241.08,162.97 L241.40,163.18 L241.72,163.38 L242.03,163.57 L242.35,163.76 L242.67,163.94 L242.99,164.12 L243.30,164.29 L243.62,164.45 L243.94,164.61 L244.25,164.76 L244.57,164.91 L244.89,165.05 L245.21,165.19 L245.53,165.32 L245.84,165.44 L246.16,165.56 L246.48,165.68 L246.80,165.79 L247.11,165.90 L247.43,166.01 L247.75,166.11 L248.06,166.21 L248.38,166.31 L248.70,166.40 L249.02,166.50 L249.34,166.59 L249.65,166.68 L249.97,166.77 L250.29,166.86 L250.61,166.95 L250.92,167.03 L251.24,167.12 L251.56,167.21 L251.88,167.29 L252.19,167.37 L252.51,167.46 L252.83,167.54 L253.14,167.62 L253.46,167.71 L253.78,167.79 L254.10,167.87 L254.42,167.95 L254.73,168.03 L255.05,168.10 L255.37,168.18 L255.69,168.26 L256.00,168.34 L256.32,168.41 L256.64,168.49 L256.95,168.56 L257.27,168.63 L257.59,168.71 L257.91,168.78 L258.23,168.85 L258.54,168.92 L258.86,168.99 L259.18,169.06 L259.50,169.13 L259.81,169.20 L260.13,169.26 L260.45,169.33 L260.76,169.39 L261.08,169.46 L261.40,169.52 L261.72,169.59 L262.03,169.65 L262.35,169.71 L262.67,169.77 L262.99,169.83 L263.31,169.88 L263.62,169.94 L263.94,170.00 L264.26,170.05 L264.57,170.10 L264.89,170.15 L265.21,170.20 L265.53,170.25 L265.85,170.30 L266.16,170.35 L266.48,170.39 L266.80,170.44 L267.12,170.48 L267.43,170.52 L267.75,170.56 L268.07,170.59 L268.38,170.63 L268.70,170.66 L269.02,170.70 L269.34,170.73 L269.65,170.76 L269.97,170.78 L270.29,170.81 L270.61,170.83 L270.93,170.86 L271.24,170.88 L271.56,170.90 L271.88,170.92 L272.19,170.94 L272.51,170.96 L272.83,170.98 L273.15,171.00 L273.47,171.01 L273.78,171.03 L274.10,171.04 L274.42,171.06 L274.74,171.07 L275.05,171.08 L275.37,171.09 L275.69,171.10 L276.00,171.11 L276.32,171.12 L276.64,171.13 L276.96,171.14 L277.27,171.15 L277.59,171.16 L277.91,171.17 L278.23,171.18 L278.55,171.18 L278.86,171.19 L279.18,171.20 L279.50,171.21 L279.81,171.22 L280.13,171.22 L280.45,171.23 L280.77,171.24 L281.09,171.25 L281.40,171.25 L281.72,171.26 L282.04,171.27 L282.36,171.28 L282.67,171.29 L282.99,171.30 L283.31,171.31 L283.62,171.32 L283.94,171.33 L284.26,171.34 L284.58,171.35 L284.89,171.36 L285.21,171.37 L285.53,171.38 L285.85,171.39 L286.17,171.39 L286.48,171.40 L286.80,171.41 L287.12,171.42 L287.44,171.42 L287.75,171.43 L288.07,171.44 L288.39,171.44 L288.70,171.45 L289.02,171.46 L289.34,171.46 L289.66,171.47 L289.98,171.47 L290.29,171.48 L290.61,171.48 L290.93,171.49 L291.25,171.49 L291.56,171.50 L291.88,171.50 L292.20,171.51 L292.51,171.51 L292.83,171.52 L293.15,171.52 L293.47,171.52 L293.78,171.53 L294.10,171.53 L294.42,171.54 L294.74,171.54 L295.06,171.54 L295.37,171.55 L295.69,171.55 L296.01,171.56 L296.32,171.56 L296.64,171.56 L296.96,171.57 L297.28,171.57 L297.60,171.57 L297.91,171.58 L298.23,171.58 L298.55,171.59 L298.87,171.59 L299.18,171.59 L299.50,171.60" fill="none" stroke="#5c8a32" stroke-width="0.95"/>
<rect x="170.52" y="168.08" width="4.60" height="4.60" fill="#b4cc88"/>
<rect x="186.07" y="157.54" width="4.60" height="4.60" fill="#b4cc88"/>
<rect x="201.95" y="113.20" width="4.60" height="4.60" fill="#b4cc88"/>
<rect x="217.82" y="137.83" width="4.60" height="4.60" fill="#b4cc88"/>
<rect x="233.70" y="157.15" width="4.60" height="4.60" fill="#b4cc88"/>
<rect x="249.57" y="164.99" width="4.60" height="4.60" fill="#b4cc88"/>
<rect x="265.45" y="168.26" width="4.60" height="4.60" fill="#b4cc88"/>
<rect x="281.32" y="169.02" width="4.60" height="4.60" fill="#b4cc88"/>
<rect x="296.88" y="169.29" width="4.60" height="4.60" fill="#b4cc88"/>
<circle cx="172.82" cy="170.38" r="2.42" fill="#92b856"/>
<circle cx="188.38" cy="159.84" r="2.42" fill="#92b856"/>
<circle cx="204.25" cy="115.51" r="2.42" fill="#92b856"/>
<circle cx="220.12" cy="139.46" r="2.42" fill="#92b856"/>
<circle cx="236.00" cy="159.03" r="2.42" fill="#92b856"/>
<circle cx="251.88" cy="167.29" r="2.42" fill="#92b856"/>
<circle cx="267.75" cy="170.56" r="2.42" fill="#92b856"/>
<circle cx="283.62" cy="171.32" r="2.42" fill="#92b856"/>
<circle cx="299.18" cy="171.59" r="2.42" fill="#92b856"/>
<path d="M172.82,167.62 L175.58,172.68 L170.06,172.68 Z" fill="#5c8a32"/>
<path d="M188.38,157.08 L191.13,162.14 L185.62,162.14 Z" fill="#5c8a32"/>
<path d="M204.25,112.75 L207.01,117.81 L201.49,117.81 Z" fill="#5c8a32"/>
<path d="M220.12,136.02 L222.88,141.08 L217.37,141.08 Z" fill="#5c8a32"/>
<path d="M236.00,155.85 L238.76,160.91 L233.24,160.91 Z" fill="#5c8a32"/>
<path d="M251.88,164.53 L254.63,169.59 L249.12,169.59 Z" fill="#5c8a32"/>
<path d="M267.75,167.80 L270.51,172.86 L264.99,172.86 Z" fill="#5c8a32"/>
<path d="M283.62,168.56 L286.38,173.62 L280.87,173.62 Z" fill="#5c8a32"/>
<path d="M299.18,168.83 L301.94,173.89 L296.42,173.89 Z" fill="#5c8a32"/>
<path d="M172.82,173.14 L175.58,168.08 L170.06,168.08 Z" fill="#46682a"/>
<path d="M188.38,162.60 L191.13,157.54 L185.62,157.54 Z" fill="#46682a"/>
<path d="M204.25,118.27 L207.01,113.21 L201.49,113.21 Z" fill="#46682a"/>
<path d="M220.12,140.87 L222.88,135.81 L217.37,135.81 Z" fill="#46682a"/>
<path d="M236.00,160.95 L238.76,155.89 L233.24,155.89 Z" fill="#46682a"/>
<path d="M251.88,170.05 L254.63,164.99 L249.12,164.99 Z" fill="#46682a"/>
<path d="M267.75,173.32 L270.51,168.26 L264.99,168.26 Z" fill="#46682a"/>
<path d="M283.62,174.08 L286.38,169.02 L280.87,169.02 Z" fill="#46682a"/>
<path d="M299.18,174.35 L301.94,169.29 L296.42,169.29 Z" fill="#46682a"/>
</g>
<line x1="70.00" y1="69.70" x2="94.80" y2="69.70" stroke="#5a3838" stroke-width="0.90"/>
<path d="M67.60,69.70 L70.60,68.30 L70.60,71.10 Z" fill="#5a3838"/>
<path d="M97.20,69.70 L94.20,68.30 L94.20,71.10 Z" fill="#5a3838"/>
<line x1="198.40" y1="69.70" x2="237.60" y2="69.70" stroke="#5a3838" stroke-width="0.90"/>
<path d="M196.00,69.70 L199.00,68.30 L199.00,71.10 Z" fill="#5a3838"/>
<path d="M240.00,69.70 L237.00,68.30 L237.00,71.10 Z" fill="#5a3838"/>
<line x1="69.40" y1="143.40" x2="94.60" y2="143.40" stroke="#5a3838" stroke-width="0.90"/>
<path d="M67.00,143.40 L70.00,142.00 L70.00,144.80 Z" fill="#5a3838"/>
<path d="M97.00,143.40 L94.00,142.00 L94.00,144.80 Z" fill="#5a3838"/>
<line x1="195.40" y1="143.40" x2="220.00" y2="143.40" stroke="#5a3838" stroke-width="0.90"/>
<path d="M193.00,143.40 L196.00,142.00 L196.00,144.80 Z" fill="#5a3838"/>
<path d="M222.40,143.40 L219.40,142.00 L219.40,144.80 Z" fill="#5a3838"/>
<text x="81.50" y="80.50" font-size="9.20" fill="#231f20" stroke="#231f20" stroke-width="0.12" text-anchor="middle" >93 nm</text>
<text x="219.00" y="80.30" font-size="9.20" fill="#231f20" stroke="#231f20" stroke-width="0.12" text-anchor="middle" >141 nm</text>
<text x="82.75" y="154.40" font-size="9.20" fill="#231f20" stroke="#231f20" stroke-width="0.12" text-anchor="middle" >94 nm</text>
<text x="207.70" y="154.40" font-size="9.20" fill="#231f20" stroke="#231f20" stroke-width="0.12" text-anchor="middle" >93 nm</text>
<text x="48.80" y="36.50" font-size="9.10" fill="#231f20" stroke="#231f20" stroke-width="0.12" text-anchor="start" >Ar = PXZ</text>
<text x="113.40" y="36.80" font-size="9.10" fill="#4a3c3c" stroke="#4a3c3c" stroke-width="0.12" text-anchor="start" >BCPO:20% [ArDBFDP]<tspan font-size="5.4" dy="1.3">2</tspan><tspan dy="-1.3">Cu</tspan><tspan font-size="5.4" dy="1.3">4</tspan><tspan dy="-1.3">I</tspan><tspan font-size="5.4" dy="1.3">4</tspan></text>
<text x="295.00" y="37.00" font-size="9.10" fill="#231f20" stroke="#231f20" stroke-width="0.12" text-anchor="end" >Ar = PhPXZ</text>
<text x="108.50" y="58.80" font-size="8.80" fill="#4a3a38" stroke="#4a3a38" stroke-width="0.12" text-anchor="start" >LCT</text>
<text x="174.60" y="50.40" font-size="8.80" fill="#4a3a38" stroke="#4a3a38" stroke-width="0.12" text-anchor="start" >MLCT</text>
<text x="247.40" y="67.20" font-size="8.80" fill="#4a3a38" stroke="#4a3a38" stroke-width="0.12" text-anchor="start" ><tspan font-size="5.5" dy="-3">3</tspan><tspan dy="3">CC</tspan></text>
<line x1="196.6" y1="50.2" x2="200" y2="53.4" stroke="#2a2020" stroke-width="0.8"/>
<path d="M202.2,55.8 L197.9,54.7 L200.9,51.6 Z" fill="#1a1414"/>
<line x1="248.2" y1="66.2" x2="246" y2="69" stroke="#2a2020" stroke-width="0.8"/>
<path d="M244.2,71.6 L244.4,67.6 L247.4,69.6 Z" fill="#1a1414"/>
<line x1="134.8" y1="107.50" x2="143.5" y2="107.50" stroke="#62bea2" stroke-width="1.0"/>
<rect x="137.10" y="105.50" width="4.00" height="4.00" fill="#62bea2"/>
<text x="145.80" y="110.70" font-size="9.00" fill="#231f20" stroke="#231f20" stroke-width="0.12" text-anchor="start" >50K</text>
<line x1="134.8" y1="116.60" x2="143.5" y2="116.60" stroke="#2aa276" stroke-width="1.0"/>
<circle cx="139.10" cy="116.60" r="2.10" fill="#2aa276"/>
<text x="145.80" y="119.80" font-size="9.00" fill="#231f20" stroke="#231f20" stroke-width="0.12" text-anchor="start" >100K</text>
<line x1="134.8" y1="125.70" x2="143.5" y2="125.70" stroke="#209276" stroke-width="1.0"/>
<path d="M139.10,123.30 L141.50,127.70 L136.70,127.70 Z" fill="#209276"/>
<text x="145.80" y="128.90" font-size="9.00" fill="#231f20" stroke="#231f20" stroke-width="0.12" text-anchor="start" >200K</text>
<line x1="134.8" y1="134.80" x2="143.5" y2="134.80" stroke="#10604a" stroke-width="1.0"/>
<path d="M139.10,137.20 L141.50,132.80 L136.70,132.80 Z" fill="#10604a"/>
<text x="145.80" y="138.00" font-size="9.00" fill="#231f20" stroke="#231f20" stroke-width="0.12" text-anchor="start" >300K</text>
<line x1="261.8" y1="107.50" x2="270.5" y2="107.50" stroke="#b4cc88" stroke-width="1.0"/>
<rect x="264.10" y="105.50" width="4.00" height="4.00" fill="#b4cc88"/>
<text x="272.70" y="110.70" font-size="9.00" fill="#231f20" stroke="#231f20" stroke-width="0.12" text-anchor="start" >50K</text>
<line x1="261.8" y1="116.60" x2="270.5" y2="116.60" stroke="#92b856" stroke-width="1.0"/>
<circle cx="266.10" cy="116.60" r="2.10" fill="#92b856"/>
<text x="272.70" y="119.80" font-size="9.00" fill="#231f20" stroke="#231f20" stroke-width="0.12" text-anchor="start" >100K</text>
<line x1="261.8" y1="125.70" x2="270.5" y2="125.70" stroke="#5c8a32" stroke-width="1.0"/>
<path d="M266.10,123.30 L268.50,127.70 L263.70,127.70 Z" fill="#5c8a32"/>
<text x="272.70" y="128.90" font-size="9.00" fill="#231f20" stroke="#231f20" stroke-width="0.12" text-anchor="start" >200K</text>
<line x1="261.8" y1="134.80" x2="270.5" y2="134.80" stroke="#46682a" stroke-width="1.0"/>
<path d="M266.10,137.20 L268.50,132.80 L263.70,132.80 Z" fill="#46682a"/>
<text x="272.70" y="138.00" font-size="9.00" fill="#231f20" stroke="#231f20" stroke-width="0.12" text-anchor="start" >300K</text>
<rect x="44.5" y="24.5" width="255" height="148" fill="none" stroke="#4d4d4d" stroke-width="1"/>
<line x1="44.5" y1="98.5" x2="299.5" y2="98.5" stroke="#4d4d4d" stroke-width="1"/>
<line x1="172.5" y1="41" x2="172.5" y2="172.5" stroke="#4d4d4d" stroke-width="1"/>
<path d="M44.50,24.50 L44.50,27.50 M44.50,172.50 L44.50,169.50 M172.50,172.50 L172.50,169.50 M76.50,24.50 L76.50,26.50 M76.50,172.50 L76.50,170.50 M204.25,24.50 L204.25,26.50 M204.25,172.50 L204.25,170.50 M108.50,24.50 L108.50,27.50 M108.50,172.50 L108.50,169.50 M236.00,24.50 L236.00,27.50 M236.00,172.50 L236.00,169.50 M140.50,24.50 L140.50,26.50 M140.50,172.50 L140.50,170.50 M267.75,24.50 L267.75,26.50 M267.75,172.50 L267.75,170.50 M172.50,172.50 L172.50,169.50 M299.50,24.50 L299.50,27.50 M299.50,172.50 L299.50,169.50 M44.50,41.50 L47.50,41.50 M44.50,55.60 L46.50,55.60 M172.50,55.60 L174.50,55.60 M44.50,69.80 L47.50,69.80 M172.50,69.80 L175.50,69.80 M44.50,83.90 L46.50,83.90 M172.50,83.90 L174.50,83.90 M44.50,115.60 L47.50,115.60 M172.50,115.60 L175.50,115.60 M44.50,129.60 L46.50,129.60 M172.50,129.60 L174.50,129.60 M44.50,143.60 L47.50,143.60 M172.50,143.60 L175.50,143.60 M44.50,157.50 L46.50,157.50 M172.50,157.50 L174.50,157.50 M44.50,171.50 L47.50,171.50 M172.50,171.50 L175.50,171.50" stroke="#4d4d4d" stroke-width="0.8" fill="none"/>
<text x="43.50" y="45.10" font-size="9.20" fill="#231f20" stroke="#231f20" stroke-width="0.12" text-anchor="end" >1.0</text>
<text x="43.50" y="73.90" font-size="9.20" fill="#231f20" stroke="#231f20" stroke-width="0.12" text-anchor="end" >0.5</text>
<text x="43.50" y="99.20" font-size="9.20" fill="#231f20" stroke="#231f20" stroke-width="0.12" text-anchor="end" >0.0</text>
<text x="43.50" y="119.00" font-size="9.20" fill="#231f20" stroke="#231f20" stroke-width="0.12" text-anchor="end" >1.0</text>
<text x="43.50" y="147.00" font-size="9.20" fill="#231f20" stroke="#231f20" stroke-width="0.12" text-anchor="end" >0.5</text>
<text x="43.50" y="174.90" font-size="9.20" fill="#231f20" stroke="#231f20" stroke-width="0.12" text-anchor="end" >0.0</text>
<text x="0.00" y="0.00" font-size="9.95" fill="#231f20" stroke="#231f20" stroke-width="0.12" text-anchor="middle" transform="translate(23.8,61.7) rotate(-90)">EL int. (Norm.)</text>
<text x="0.00" y="0.00" font-size="10.05" fill="#231f20" stroke="#231f20" stroke-width="0.12" text-anchor="middle" transform="translate(23.8,139.0) rotate(-90)">PL int. (Norm.)</text>
<clipPath id="cpD"><rect x="44.5" y="174.5" width="255" height="147.5"/></clipPath>
<rect x="140.2" y="231.5" width="159.3" height="90.5" fill="#f8f8e9"/>
<g clip-path="url(#cpD)" fill="none" stroke-linejoin="bevel">
<path d="M44.5,228.2 44.6,225.5 44.7,217.5 44.7,211.7 44.8,206.4 44.9,201.9 45.0,199.3 45.1,196.9 45.1,195.0 45.2,193.4 45.3,190.7 45.4,190.6 45.5,189.2 45.5,189.0 45.6,187.8 45.7,186.2 45.8,185.5 45.9,185.0 45.9,183.8 46.0,183.2 46.1,182.9 46.2,182.7 46.3,182.5 46.3,182.9 46.4,181.5 46.5,180.8 46.6,181.3 46.7,180.8 46.7,180.8 46.8,180.9 46.9,180.0 47.0,180.7 47.0,179.8 47.1,179.6 47.2,179.1 47.3,179.1 47.4,177.9 47.4,178.7 47.5,180.0 47.6,177.9 47.7,179.3 47.8,178.8 47.8,178.6 47.9,178.3 48.0,178.8 48.1,178.2 48.2,178.0 48.2,177.3 48.3,178.9 48.4,177.8 48.5,178.7 48.6,177.8 48.6,177.1 48.7,177.3 48.8,178.4 48.9,177.5 49.0,177.6 49.0,177.1 49.1,177.1 49.2,176.2 49.3,176.9 49.4,177.1 49.4,177.3 49.5,178.0 49.6,176.7 49.7,177.7 49.8,177.3 49.8,176.4 49.9,177.1 50.0,177.0 50.1,177.3 50.2,177.1 50.2,176.6 50.3,177.7 50.4,177.1 50.5,176.9 50.6,177.5 50.6,177.4 50.7,176.2 50.8,177.1 50.9,177.1 51.0,176.8 51.0,177.7 51.1,177.9 51.2,176.0 51.3,176.7 51.4,176.4 51.4,176.8 51.5,177.8 51.6,177.3 51.7,176.5 51.8,177.1 51.8,177.5 51.9,177.5 52.0,176.9 52.1,176.8 52.1,177.3 52.2,177.5 52.3,177.1 52.4,176.9 52.5,177.4 52.5,177.5 52.6,177.7 52.7,177.0 52.8,177.0 52.9,176.8 52.9,177.2 53.0,176.9 53.1,177.3 53.2,177.5 53.3,176.6 53.3,177.3 53.4,177.3 53.5,177.9 53.6,177.2 53.7,176.7 53.7,177.3 53.8,176.7 53.9,176.8 54.0,176.6 54.1,177.2 54.1,178.0 54.2,177.3 54.3,177.4 54.4,177.3 54.5,177.6 54.5,177.1 54.6,177.2 54.7,177.8 54.8,176.7 54.9,177.0 54.9,177.5 55.0,176.6 55.1,177.1 55.2,176.7 55.3,176.3 55.3,177.0 55.4,176.9 55.5,177.1 55.6,176.9 55.7,177.0 55.7,176.6 55.8,176.6 55.9,177.2 56.0,177.9 56.1,176.5 56.1,176.8 56.2,176.8 56.3,176.6 56.4,176.4 56.5,177.7 56.5,177.6 56.6,177.1 56.7,177.9 56.8,176.8 56.9,176.9 56.9,177.2 57.0,176.8 57.1,177.4 57.2,176.7 57.2,177.3 57.3,177.0 57.4,176.4 57.5,176.6 57.6,176.8 57.6,176.7 57.7,176.3 57.8,177.5 57.9,177.4 58.0,176.5 58.0,176.7 58.1,177.3 58.2,176.9 58.3,176.9 58.4,176.5 58.4,176.3 58.5,177.0 58.6,176.7 58.7,176.8 58.8,176.9 58.8,177.9 58.9,176.7 59.0,178.0 59.1,176.4 59.2,176.8 59.2,177.3 59.3,177.4 59.4,177.5 59.5,176.8 59.6,177.4 59.6,177.1 59.7,176.9 59.8,177.5 59.9,176.5 60.0,176.7 60.0,178.0 60.1,177.1 60.2,177.0 60.3,177.4 60.4,177.1 60.4,176.7 60.5,177.5 60.6,179.3 60.7,179.7 60.8,180.6 60.8,181.7 60.9,182.4 61.0,183.4 61.1,186.0 61.2,184.8 61.2,187.1 61.3,187.6 61.4,188.5 61.5,188.3 61.6,188.7 61.6,189.4 61.7,191.2 61.8,191.3 61.9,193.5 62.0,193.5 62.0,194.9 62.1,194.2 62.2,194.1 62.3,197.2 62.3,197.5 62.4,198.4 62.5,197.8 62.6,199.6 62.7,198.6 62.7,200.5 62.8,200.8 62.9,200.8 63.0,202.5 63.1,202.6 63.1,203.2 63.2,203.9 63.3,204.8 63.4,205.2 63.5,208.3 63.5,209.9 63.6,207.8 63.7,207.3 63.8,210.6 63.9,212.9 63.9,211.0 64.0,212.7 64.1,211.7 64.2,214.9 64.3,216.4 64.3,217.1 64.4,215.4 64.5,216.2 64.6,217.8 64.7,218.2 64.7,219.0 64.8,220.0 64.9,217.8 65.0,223.3 65.1,221.7 65.1,223.9 65.2,223.4 65.3,224.4 65.4,224.0 65.5,223.0 65.5,225.4 65.6,230.1 65.7,229.8 65.8,228.2 65.9,227.2 65.9,230.1 66.0,230.6 66.1,232.0 66.2,235.5 66.3,234.3 66.3,235.3 66.4,233.9 66.5,236.5 66.6,239.0 66.7,241.9 66.7,234.9 66.8,236.7 66.9,238.8 67.0,236.5 67.1,239.5 67.1,236.3 67.2,241.3 67.3,243.0 67.4,241.3 67.5,242.7 67.5,244.6 67.6,243.3 67.7,246.6 67.8,242.7 67.8,243.3 67.9,242.4 68.0,245.6 68.1,248.5 68.2,251.0 68.2,258.1 68.3,252.9 68.4,253.5 68.5,251.5 68.6,246.2 68.6,251.5 68.7,252.0 68.8,252.9 68.9,255.6 69.0,248.1 69.0,262.5 69.1,246.6 69.2,251.0 69.3,252.0 69.4,254.0 69.4,253.5 69.5,252.9 69.6,258.1 69.7,260.2 69.8,255.1 69.8,257.5 69.9,259.5 70.0,268.3 70.1,258.1 70.2,261.7 70.2,255.1 70.3,260.9 70.4,256.2 70.5,256.8 70.6,259.5 70.6,263.4 70.7,263.4 70.8,267.2 70.9,260.9 71.0,264.3 71.0,266.2 71.1,268.3 71.2,270.7 71.3,263.4 71.4,273.4 71.4,261.7 71.5,266.2 71.6,273.4 71.7,265.2 71.8,267.2 71.8,263.4 71.9,270.7 72.0,270.7 72.1,267.2 72.2,272.0 72.2,262.5 72.3,261.7 72.4,274.9 72.5,276.6 72.5,280.4 72.6,278.4 72.7,276.6 72.8,274.9 72.9,269.4 72.9,285.2 73.0,266.2 73.1,273.4 73.2,273.4 73.3,285.2 73.3,288.1 73.4,278.4 73.5,276.6 73.6,270.7 73.7,274.9 73.7,276.6 73.8,282.7 73.9,280.4 74.0,278.4 74.1,295.9 74.1,280.4 74.2,278.4 74.3,288.1 74.4,280.4 74.5,273.4 74.5,273.4 74.6,288.1 74.7,280.4 74.8,272.0 74.9,285.2 74.9,288.1 75.0,291.6 75.1,291.6 75.2,285.2 75.3,282.7 75.3,295.9 75.4,291.6 75.5,282.7 75.6,291.6 75.7,285.2 75.7,291.6 75.8,282.7 75.9,282.7 76.0,285.2 76.1,282.7 76.1,288.1 76.2,280.4 76.3,295.9 76.4,280.4 76.5,288.1 76.5,291.6 76.6,301.4 76.7,285.2 76.8,288.1 76.9,288.1 76.9,309.1 77.0,274.9 77.1,288.1 77.2,282.7 77.3,276.6 77.3,309.1 77.4,288.1 77.5,301.4 77.6,301.4 77.7,282.7 77.7,309.1 77.8,291.6 77.9,291.6 78.0,288.1 78.0,282.7 78.1,309.1 78.2,322.3 78.3,309.1 78.4,291.6 78.4,301.4 78.5,288.1 78.6,295.9 78.7,301.4 78.8,291.6 78.8,301.4 78.9,301.4 79.0,288.1 79.1,291.6 79.2,301.4 79.2,295.9 79.3,301.4 79.4,301.4 79.5,285.2 79.6,301.4 79.6,309.1 79.7,295.9 79.8,309.1 79.9,295.9 80.0,291.6 80.0,301.4 80.1,285.2 80.2,295.9 80.3,322.3 80.4,295.9 80.4,295.9 80.5,309.1 80.6,295.9 80.7,301.4 80.8,282.7 80.8,322.3 80.9,309.1 81.0,291.6 81.1,309.1 81.2,291.6 81.2,288.1 81.3,295.9 81.4,288.1 81.5,309.1 81.6,309.1 81.6,309.1 81.7,295.9 81.8,301.4 81.9,309.1 82.0,301.4 82.0,282.7 82.1,309.1 82.2,309.1 82.3,309.1 82.4,291.6 82.4,295.9 82.5,301.4 82.6,295.9 82.7,301.4 82.8,295.9 82.8,322.3 82.9,322.3 83.0,309.1 83.1,309.1 83.1,309.1 83.2,309.1 83.3,301.4 83.4,301.4 83.5,322.3 83.5,301.4 83.6,295.9 83.7,301.4 83.8,322.3 83.9,301.4 83.9,295.9 84.0,322.3 84.1,309.1 84.2,330.0 84.3,295.9 84.3,309.1 84.4,309.1 84.5,301.4 84.6,322.3 84.7,301.4 84.7,309.1 84.8,309.1 84.9,309.1 85.0,301.4 85.1,295.9 85.1,322.3 85.2,330.0 85.3,322.3 85.4,330.0 85.5,301.4 85.5,301.4 85.6,322.3 85.7,295.9 85.8,322.3 85.9,322.3 85.9,295.9 86.0,322.3 86.1,330.0 86.2,322.3 86.3,309.1 86.3,301.4 86.4,309.1 86.5,330.0 86.6,288.1 86.7,309.1 86.7,295.9 86.8,309.1 86.9,295.9 87.0,309.1 87.1,322.3 87.1,330.0 87.2,322.3 87.3,288.1 87.4,330.0 87.5,322.3 87.5,322.3 87.6,301.4 87.7,309.1 87.8,295.9 87.8,301.4 87.9,322.3 88.0,322.3 88.1,322.3 88.2,301.4 88.2,322.3 88.3,322.3 88.4,301.4 88.5,301.4 88.6,301.4 88.6,322.3 88.7,322.3 88.8,322.3 88.9,322.3 89.0,322.3 89.0,330.0 89.1,301.4 89.2,330.0 89.3,309.1 89.4,295.9 89.4,322.3 89.5,322.3 89.6,301.4 89.7,309.1 89.8,322.3 89.8,301.4 89.9,322.3 90.0,322.3 90.1,309.1 90.2,330.0 90.2,309.1 90.3,309.1 90.4,295.9 90.5,309.1 90.6,309.1 90.6,309.1 90.7,322.3 90.8,309.1 90.9,322.3 91.0,322.3 91.0,309.1 91.1,291.6 91.2,322.3 91.3,322.3 91.4,322.3 91.4,322.3 91.5,322.3 91.6,330.0 91.7,295.9 91.8,309.1 91.8,288.1 91.9,322.3 92.0,291.6 92.1,322.3 92.2,301.4 92.2,330.0 92.3,330.0 92.4,309.1 92.5,322.3 92.6,309.1 92.6,330.0 92.7,309.1 92.8,322.3 92.9,322.3 92.9,322.3 93.0,309.1 93.1,309.1 93.2,322.3 93.3,309.1 93.3,322.3 93.4,309.1 93.5,322.3 93.6,330.0 93.7,322.3 93.7,309.1 93.8,295.9 93.9,330.0 94.0,322.3 94.1,322.3 94.1,301.4 94.2,301.4 94.3,322.3 94.4,295.9 94.5,309.1 94.5,330.0 94.6,301.4 94.7,301.4 94.8,322.3 94.9,330.0 94.9,301.4 95.0,309.1 95.1,322.3 95.2,330.0 95.3,309.1 95.3,309.1 95.4,322.3 95.5,330.0 95.6,309.1 95.7,330.0 95.7,330.0 95.8,301.4 95.9,309.1 96.0,322.3 96.1,309.1 96.1,322.3 96.2,295.9 96.3,309.1 96.4,309.1 96.5,301.4 96.5,322.3 96.6,322.3 96.7,309.1 96.8,322.3 96.9,301.4 96.9,330.0 97.0,301.4 97.1,322.3 97.2,330.0 97.3,309.1 97.3,330.0 97.4,330.0 97.5,330.0 97.6,330.0 97.7,309.1 97.7,330.0 97.8,322.3 97.9,322.3 98.0,309.1 98.0,330.0 98.1,309.1 98.2,322.3 98.3,309.1 98.4,309.1 98.4,322.3 98.5,309.1 98.6,330.0 98.7,322.3 98.8,330.0 98.8,330.0 98.9,322.3 99.0,330.0 99.1,301.4 99.2,322.3 99.2,322.3 99.3,309.1 99.4,330.0 99.5,322.3 99.6,322.3 99.6,330.0 99.7,322.3 99.8,330.0 99.9,330.0 100.0,330.0 100.0,301.4 100.1,309.1 100.2,309.1 100.3,330.0 100.4,322.3 100.4,330.0 100.5,309.1 100.6,330.0 100.7,330.0 100.8,309.1 100.8,322.3 100.9,309.1 101.0,322.3 101.1,301.4 101.2,322.3 101.2,322.3 101.3,330.0 101.4,322.3 101.5,330.0 101.6,330.0 101.6,322.3 101.7,322.3 101.8,330.0 101.9,330.0 102.0,301.4 102.0,330.0 102.1,301.4 102.2,309.1 102.3,309.1 102.4,330.0 102.4,322.3 102.5,309.1 102.6,330.0 102.7,330.0 102.8,322.3 102.8,330.0 102.9,309.1 103.0,322.3 103.1,330.0 103.2,322.3 103.2,330.0 103.3,301.4 103.4,309.1 103.5,330.0 103.5,322.3 103.6,322.3 103.7,330.0 103.8,322.3 103.9,322.3 103.9,330.0 104.0,322.3 104.1,309.1 104.2,330.0 104.3,301.4 104.3,330.0 104.4,330.0 104.5,330.0 104.6,330.0 104.7,330.0 104.7,322.3 104.8,330.0 104.9,295.9 105.0,322.3 105.1,322.3 105.1,330.0 105.2,322.3 105.3,322.3 105.4,330.0 105.5,330.0 105.5,330.0 105.6,322.3 105.7,330.0 105.8,330.0 105.9,330.0 105.9,322.3 106.0,322.3 106.1,322.3 106.2,330.0 106.3,309.1 106.3,322.3 106.4,330.0 106.5,330.0 106.6,330.0 106.7,322.3 106.7,322.3 106.8,322.3 106.9,322.3 107.0,330.0 107.1,330.0 107.1,322.3 107.2,330.0 107.3,330.0 107.4,330.0 107.5,330.0 107.5,330.0 107.6,330.0 107.7,330.0 107.8,330.0 107.9,330.0 107.9,322.3 108.0,330.0 108.1,330.0 108.2,330.0 108.2,330.0 108.3,330.0 108.4,322.3 108.5,330.0 108.6,309.1 108.6,330.0 108.7,309.1 108.8,330.0 108.9,330.0 109.0,330.0 109.0,322.3 109.1,330.0 109.2,330.0 109.3,330.0 109.4,330.0 109.4,309.1 109.5,322.3 109.6,330.0 109.7,330.0 109.8,330.0 109.8,330.0 109.9,330.0 110.0,309.1 110.1,330.0 110.2,322.3 110.2,309.1 110.3,330.0 110.4,330.0 110.5,330.0 110.6,330.0 110.6,322.3 110.7,330.0 110.8,330.0 110.9,330.0 111.0,330.0 111.0,330.0 111.1,309.1 111.2,330.0 111.3,322.3 111.4,330.0 111.4,330.0 111.5,322.3 111.6,330.0 111.7,309.1 111.8,330.0 111.8,330.0 111.9,330.0 112.0,330.0 112.1,330.0 112.2,330.0 112.2,330.0 112.3,322.3 112.4,322.3 112.5,330.0 112.6,322.3 112.6,309.1 112.7,322.3 112.8,330.0 112.9,330.0 113.0,309.1 113.0,322.3 113.1,330.0 113.2,330.0 113.3,330.0 113.3,330.0 113.4,330.0 113.5,330.0 113.6,330.0 113.7,330.0 113.7,330.0 113.8,322.3 113.9,330.0 114.0,330.0 114.1,330.0 114.1,330.0 114.2,330.0 114.3,330.0 114.4,322.3 114.5,322.3 114.5,330.0 114.6,330.0 114.7,330.0 114.8,330.0 114.9,330.0 114.9,330.0 115.0,330.0 115.1,330.0 115.2,330.0 115.3,330.0 115.3,330.0 115.4,330.0 115.5,322.3 115.6,322.3 115.7,330.0 115.7,330.0 115.8,330.0 115.9,330.0 116.0,330.0 116.1,330.0 116.1,322.3 116.2,330.0 116.3,309.1 116.4,322.3 116.5,330.0 116.5,330.0 116.6,330.0 116.7,309.1 116.8,322.3 116.9,330.0 116.9,330.0 117.0,330.0 117.1,330.0 117.2,330.0 117.3,330.0 117.3,330.0 117.4,330.0 117.5,322.3 117.6,330.0 117.7,322.3 117.7,322.3 117.8,330.0 117.9,330.0 118.0,330.0 118.1,330.0 118.1,330.0 118.2,330.0 118.3,330.0 118.4,322.3 118.4,330.0 118.5,322.3 118.6,330.0 118.7,322.3 118.8,330.0 118.8,330.0 118.9,330.0 119.0,330.0 119.1,330.0 119.2,330.0 119.2,330.0 119.3,330.0 119.4,330.0 119.5,330.0 119.6,330.0 119.6,330.0 119.7,330.0 119.8,330.0 119.9,322.3 120.0,330.0 120.0,330.0 120.1,330.0 120.2,330.0 120.3,330.0 120.4,322.3 120.4,322.3 120.5,330.0 120.6,330.0 120.7,322.3 120.8,330.0 120.8,330.0 120.9,330.0 121.0,330.0 121.1,330.0 121.2,330.0 121.2,330.0 121.3,330.0 121.4,330.0 121.5,330.0 121.6,330.0 121.6,322.3 121.7,330.0 121.8,330.0 121.9,330.0 122.0,322.3 122.0,330.0 122.1,330.0 122.2,330.0 122.3,330.0 122.4,322.3 122.4,330.0 122.5,330.0 122.6,330.0 122.7,330.0 122.8,330.0 122.8,330.0 122.9,330.0 123.0,322.3 123.1,330.0 123.2,330.0 123.2,309.1 123.3,330.0 123.4,330.0 123.5,330.0 123.5,322.3 123.6,330.0 123.7,330.0 123.8,330.0 123.9,322.3 123.9,330.0 124.0,330.0 124.1,330.0 124.2,322.3 124.3,330.0 124.3,330.0 124.4,330.0 124.5,322.3 124.6,330.0 124.7,330.0 124.7,330.0 124.8,330.0 124.9,330.0 125.0,330.0 125.1,330.0 125.1,330.0 125.2,322.3 125.3,330.0 125.4,330.0 125.5,309.1 125.5,330.0 125.6,330.0 125.7,330.0 125.8,330.0 125.9,330.0 125.9,330.0 126.0,330.0 126.1,330.0 126.2,330.0 126.3,330.0 126.3,309.1 126.4,309.1 126.5,330.0 126.6,330.0 126.7,330.0 126.7,330.0 126.8,330.0 126.9,330.0 127.0,322.3 127.1,330.0 127.1,330.0 127.2,330.0 127.3,330.0 127.4,322.3 127.5,330.0 127.5,330.0 127.6,330.0 127.7,330.0 127.8,322.3 127.9,330.0 127.9,322.3 128.0,330.0 128.1,330.0 128.2,330.0 128.3,322.3 128.3,330.0 128.4,330.0 128.5,330.0 128.6,330.0 128.6,330.0 128.7,330.0 128.8,330.0 128.9,330.0 129.0,330.0 129.0,330.0 129.1,330.0 129.2,330.0 129.3,330.0 129.4,330.0 129.4,330.0 129.5,322.3 129.6,330.0 129.7,330.0 129.8,330.0 129.8,330.0 129.9,330.0 130.0,330.0 130.1,330.0 130.2,330.0 130.2,330.0 130.3,330.0 130.4,330.0 130.5,330.0 130.6,322.3 130.6,330.0 130.7,322.3 130.8,330.0 130.9,330.0 131.0,330.0 131.0,330.0 131.1,330.0 131.2,330.0 131.3,330.0 131.4,322.3 131.4,330.0 131.5,322.3 131.6,330.0 131.7,330.0 131.8,330.0 131.8,330.0 131.9,330.0 132.0,322.3 132.1,330.0 132.2,330.0 132.2,330.0 132.3,322.3 132.4,330.0 132.5,330.0 132.6,330.0 132.6,330.0 132.7,330.0 132.8,330.0 132.9,330.0 133.0,330.0 133.0,330.0 133.1,330.0 133.2,330.0 133.3,330.0 133.4,330.0 133.4,330.0 133.5,330.0 133.6,330.0 133.7,322.3 133.8,330.0 133.8,330.0 133.9,322.3 134.0,322.3 134.1,322.3 134.1,330.0 134.2,330.0 134.3,309.1 134.4,322.3 134.5,330.0 134.5,330.0 134.6,330.0 134.7,330.0 134.8,322.3 134.9,322.3 134.9,330.0 135.0,322.3 135.1,330.0 135.2,322.3 135.3,330.0 135.3,322.3 135.4,330.0 135.5,330.0 135.6,330.0 135.7,330.0 135.7,330.0 135.8,330.0 135.9,330.0 136.0,330.0 136.1,330.0 136.1,330.0 136.2,330.0 136.3,330.0 136.4,330.0 136.5,330.0 136.5,330.0 136.6,330.0 136.7,330.0 136.8,330.0 136.9,330.0 136.9,330.0 137.0,330.0 137.1,330.0 137.2,330.0 137.3,330.0 137.3,309.1 137.4,330.0 137.5,309.1 137.6,330.0 137.7,330.0 137.7,330.0 137.8,330.0 137.9,330.0 138.0,330.0 138.1,330.0 138.1,330.0 138.2,330.0 138.3,330.0 138.4,330.0 138.5,330.0 138.5,330.0 138.6,330.0 138.7,330.0 138.8,330.0 138.8,330.0 138.9,330.0 139.0,330.0 139.1,330.0 139.2,330.0 139.2,330.0 139.3,330.0 139.4,322.3 139.5,322.3 139.6,330.0 139.6,322.3 139.7,330.0 139.8,330.0 139.9,330.0 140.0,322.3 140.0,330.0 140.1,330.0 140.2,330.0 140.3,330.0 140.4,330.0 140.4,330.0 140.5,330.0 140.6,330.0 140.7,330.0 140.8,322.3 140.8,322.3 140.9,330.0 141.0,330.0 141.1,330.0 141.2,330.0 141.2,322.3 141.3,330.0 141.4,330.0 141.5,330.0 141.6,330.0 141.6,322.3 141.7,330.0 141.8,330.0 141.9,322.3 142.0,322.3 142.0,330.0 142.1,330.0 142.2,322.3 142.3,309.1 142.4,330.0 142.4,330.0 142.5,330.0 142.6,330.0 142.7,330.0 142.8,330.0 142.8,322.3 142.9,330.0 143.0,330.0 143.1,322.3 143.2,330.0 143.2,330.0 143.3,330.0 143.4,330.0 143.5,330.0 143.6,330.0 143.6,322.3 143.7,330.0 143.8,330.0 143.9,330.0 143.9,330.0 144.0,322.3 144.1,330.0 144.2,330.0 144.3,330.0 144.3,322.3 144.4,330.0 144.5,330.0 144.6,330.0 144.7,330.0 144.7,322.3 144.8,330.0 144.9,330.0 145.0,330.0 145.1,330.0 145.1,330.0 145.2,330.0 145.3,330.0 145.4,330.0 145.5,322.3 145.5,330.0 145.6,330.0 145.7,322.3 145.8,330.0 145.9,330.0 145.9,330.0 146.0,330.0 146.1,330.0 146.2,330.0 146.3,330.0 146.3,330.0 146.4,330.0 146.5,322.3 146.6,330.0 146.7,330.0 146.7,330.0 146.8,330.0 146.9,330.0 147.0,330.0 147.1,330.0 147.1,330.0 147.2,330.0 147.3,322.3 147.4,330.0 147.5,330.0 147.5,330.0 147.6,322.3 147.7,330.0 147.8,330.0 147.9,330.0 147.9,322.3 148.0,330.0 148.1,322.3 148.2,330.0 148.3,330.0 148.3,330.0 148.4,330.0 148.5,330.0 148.6,330.0 148.7,330.0 148.7,330.0 148.8,330.0 148.9,330.0 149.0,322.3 149.1,330.0 149.1,330.0 149.2,330.0 149.3,322.3 149.4,330.0 149.4,330.0 149.5,322.3 149.6,322.3 149.7,330.0 149.8,322.3 149.8,330.0 149.9,330.0 150.0,330.0 150.1,330.0 150.2,330.0 150.2,330.0 150.3,330.0 150.4,330.0 150.5,330.0 150.6,330.0 150.6,322.3 150.7,330.0 150.8,309.1 150.9,330.0 151.0,330.0 151.0,330.0 151.1,330.0 151.2,330.0 151.3,330.0 151.4,330.0 151.4,330.0 151.5,330.0 151.6,330.0 151.7,330.0 151.8,330.0 151.8,330.0 151.9,330.0 152.0,330.0 152.1,330.0 152.2,322.3 152.2,330.0 152.3,330.0 152.4,330.0 152.5,330.0 152.6,330.0 152.6,330.0 152.7,330.0 152.8,309.1 152.9,322.3 153.0,330.0 153.0,330.0 153.1,309.1 153.2,330.0 153.3,330.0 153.4,330.0 153.4,330.0 153.5,322.3 153.6,330.0 153.7,330.0 153.8,322.3 153.8,322.3 153.9,330.0 154.0,322.3 154.1,330.0 154.1,322.3 154.2,330.0 154.3,322.3 154.4,330.0 154.5,330.0 154.5,330.0 154.6,330.0 154.7,330.0 154.8,330.0 154.9,330.0 154.9,330.0 155.0,322.3 155.1,330.0 155.2,330.0 155.3,330.0 155.3,322.3 155.4,322.3 155.5,322.3 155.6,330.0 155.7,330.0 155.7,330.0 155.8,330.0 155.9,330.0 156.0,322.3 156.1,330.0 156.1,330.0 156.2,330.0 156.3,322.3 156.4,330.0 156.5,330.0 156.5,330.0 156.6,330.0 156.7,330.0 156.8,330.0 156.9,330.0 156.9,322.3 157.0,330.0 157.1,330.0 157.2,330.0 157.3,330.0 157.3,330.0 157.4,322.3 157.5,330.0 157.6,330.0 157.7,330.0 157.7,330.0 157.8,322.3 157.9,330.0 158.0,330.0 158.1,330.0 158.1,330.0 158.2,330.0 158.3,322.3 158.4,330.0 158.5,330.0 158.5,322.3 158.6,330.0 158.7,322.3 158.8,330.0 158.9,330.0 158.9,330.0 159.0,322.3 159.1,330.0 159.2,330.0 159.2,330.0 159.3,330.0 159.4,330.0 159.5,330.0 159.6,330.0 159.6,330.0 159.7,330.0 159.8,330.0 159.9,330.0 160.0,330.0 160.0,309.1 160.1,330.0 160.2,330.0 160.3,330.0 160.4,322.3 160.4,330.0 160.5,322.3 160.6,330.0 160.7,322.3 160.8,330.0 160.8,309.1 160.9,322.3 161.0,330.0 161.1,330.0 161.2,330.0 161.2,330.0 161.3,322.3 161.4,330.0 161.5,330.0 161.6,330.0 161.6,330.0 161.7,330.0 161.8,330.0 161.9,330.0 162.0,322.3 162.0,330.0 162.1,322.3 162.2,330.0 162.3,330.0 162.4,330.0 162.4,322.3 162.5,309.1 162.6,322.3 162.7,330.0 162.8,330.0 162.8,330.0 162.9,322.3 163.0,322.3 163.1,330.0 163.2,322.3 163.2,330.0 163.3,322.3 163.4,330.0 163.5,330.0 163.6,330.0 163.6,322.3 163.7,330.0 163.8,309.1 163.9,330.0 164.0,322.3 164.0,330.0 164.1,330.0 164.2,330.0 164.3,330.0 164.3,330.0 164.4,322.3 164.5,330.0 164.6,322.3 164.7,330.0 164.7,322.3 164.8,330.0 164.9,309.1 165.0,330.0 165.1,330.0 165.1,330.0 165.2,330.0 165.3,322.3 165.4,322.3 165.5,322.3 165.5,330.0 165.6,330.0 165.7,330.0 165.8,330.0 165.9,322.3 165.9,330.0 166.0,322.3 166.1,330.0 166.2,322.3 166.3,330.0 166.3,330.0 166.4,330.0 166.5,322.3 166.6,330.0 166.7,322.3 166.7,330.0 166.8,322.3 166.9,330.0 167.0,330.0 167.1,330.0 167.1,330.0 167.2,330.0 167.3,330.0 167.4,330.0 167.5,330.0 167.5,330.0 167.6,330.0 167.7,330.0 167.8,330.0 167.9,330.0 167.9,330.0 168.0,330.0 168.1,330.0 168.2,330.0 168.3,330.0 168.3,330.0 168.4,330.0 168.5,330.0 168.6,330.0 168.7,330.0 168.7,330.0 168.8,330.0 168.9,330.0 169.0,322.3 169.1,330.0 169.1,330.0 169.2,330.0 169.3,330.0 169.4,322.3 169.4,330.0 169.5,330.0 169.6,330.0 169.7,330.0 169.8,330.0 169.8,330.0 169.9,330.0 170.0,330.0 170.1,330.0 170.2,330.0 170.2,322.3 170.3,330.0 170.4,322.3 170.5,330.0 170.6,330.0 170.6,330.0 170.7,330.0 170.8,330.0 170.9,330.0 171.0,322.3 171.0,330.0 171.1,330.0 171.2,330.0 171.3,322.3 171.4,330.0 171.4,330.0 171.5,330.0 171.6,330.0 171.7,322.3 171.8,330.0 171.8,309.1 171.9,330.0 172.0,330.0 172.1,322.3 172.2,330.0 172.2,330.0 172.3,330.0 172.4,322.3 172.5,330.0 172.6,322.3 172.6,330.0 172.7,309.1 172.8,330.0 172.9,330.0 173.0,330.0 173.0,330.0 173.1,330.0 173.2,322.3 173.3,330.0 173.4,322.3 173.4,330.0 173.5,322.3 173.6,330.0 173.7,330.0 173.8,330.0 173.8,330.0 173.9,322.3 174.0,330.0 174.1,330.0 174.2,330.0 174.2,330.0 174.3,330.0 174.4,330.0 174.5,330.0 174.5,330.0 174.6,330.0 174.7,330.0 174.8,330.0 174.9,330.0 174.9,330.0 175.0,330.0 175.1,330.0 175.2,322.3 175.3,330.0 175.3,322.3 175.4,330.0 175.5,330.0 175.6,330.0 175.7,330.0 175.7,330.0 175.8,330.0 175.9,330.0 176.0,330.0 176.1,322.3 176.1,330.0 176.2,330.0 176.3,322.3 176.4,330.0 176.5,330.0 176.5,330.0 176.6,330.0 176.7,330.0 176.8,330.0 176.9,330.0 176.9,322.3 177.0,330.0 177.1,322.3 177.2,330.0 177.3,330.0 177.3,322.3 177.4,330.0 177.5,330.0 177.6,322.3 177.7,330.0 177.7,330.0 177.8,330.0 177.9,330.0 178.0,330.0 178.1,330.0 178.1,309.1 178.2,330.0 178.3,322.3 178.4,330.0 178.5,330.0 178.5,330.0 178.6,330.0 178.7,330.0 178.8,322.3 178.9,330.0 178.9,330.0 179.0,330.0 179.1,330.0 179.2,330.0 179.3,330.0 179.3,330.0 179.4,330.0 179.5,330.0 179.6,330.0 179.6,330.0 179.7,330.0 179.8,330.0 179.9,330.0 180.0,330.0 180.0,330.0 180.1,330.0 180.2,330.0 180.3,330.0 180.4,330.0 180.4,330.0 180.5,330.0 180.6,330.0 180.7,330.0 180.8,330.0 180.8,330.0 180.9,330.0 181.0,322.3 181.1,330.0 181.2,330.0 181.2,330.0 181.3,330.0 181.4,330.0 181.5,322.3 181.6,330.0 181.6,330.0 181.7,330.0 181.8,330.0 181.9,330.0 182.0,330.0 182.0,322.3 182.1,322.3 182.2,330.0 182.3,330.0 182.4,330.0 182.4,330.0 182.5,330.0 182.6,330.0 182.7,330.0 182.8,330.0 182.8,330.0 182.9,330.0 183.0,330.0 183.1,330.0 183.2,330.0 183.2,330.0 183.3,330.0 183.4,330.0 183.5,330.0 183.6,330.0 183.6,330.0 183.7,330.0 183.8,330.0 183.9,330.0 184.0,330.0 184.0,330.0 184.1,330.0 184.2,330.0 184.3,330.0 184.4,330.0 184.4,330.0 184.5,330.0 184.6,330.0 184.7,322.3 184.8,330.0 184.8,322.3 184.9,330.0 185.0,330.0 185.1,330.0 185.1,330.0 185.2,309.1 185.3,330.0 185.4,330.0 185.5,322.3 185.5,330.0 185.6,330.0 185.7,330.0 185.8,330.0 185.9,330.0 185.9,330.0 186.0,330.0 186.1,330.0 186.2,330.0 186.3,322.3 186.3,322.3 186.4,322.3 186.5,330.0 186.6,322.3 186.7,330.0 186.7,330.0 186.8,330.0 186.9,330.0 187.0,330.0 187.1,330.0 187.1,330.0 187.2,322.3 187.3,330.0 187.4,330.0 187.5,330.0 187.5,330.0 187.6,330.0 187.7,330.0 187.8,330.0 187.9,330.0 187.9,330.0 188.0,330.0 188.1,330.0 188.2,322.3 188.3,330.0 188.3,322.3 188.4,330.0 188.5,309.1 188.6,322.3 188.7,330.0 188.7,330.0 188.8,330.0 188.9,330.0 189.0,330.0 189.1,330.0 189.1,330.0 189.2,330.0 189.3,330.0 189.4,330.0 189.5,330.0 189.5,330.0 189.6,330.0 189.7,330.0 189.8,330.0 189.8,330.0 189.9,330.0 190.0,330.0 190.1,322.3 190.2,330.0 190.2,322.3 190.3,330.0 190.4,330.0 190.5,330.0 190.6,330.0 190.6,330.0 190.7,330.0 190.8,330.0 190.9,330.0 191.0,330.0 191.0,330.0 191.1,330.0 191.2,330.0 191.3,330.0 191.4,330.0 191.4,301.4 191.5,330.0 191.6,330.0 191.7,330.0 191.8,322.3 191.8,330.0 191.9,330.0 192.0,330.0 192.1,330.0 192.2,330.0 192.2,330.0 192.3,330.0 192.4,330.0 192.5,330.0 192.6,330.0 192.6,330.0 192.7,322.3 192.8,330.0 192.9,330.0 193.0,330.0 193.0,330.0 193.1,330.0 193.2,322.3 193.3,322.3 193.4,322.3 193.4,330.0 193.5,322.3 193.6,330.0 193.7,322.3 193.8,330.0 193.8,330.0 193.9,330.0 194.0,330.0 194.1,330.0 194.2,330.0 194.2,330.0 194.3,330.0 194.4,330.0 194.5,330.0 194.6,330.0 194.6,330.0 194.7,330.0 194.8,330.0 194.9,330.0 194.9,330.0 195.0,330.0 195.1,330.0 195.2,330.0 195.3,330.0 195.3,330.0 195.4,330.0 195.5,330.0 195.6,330.0 195.7,330.0 195.7,330.0 195.8,330.0 195.9,330.0 196.0,330.0 196.1,322.3 196.1,330.0 196.2,330.0 196.3,330.0 196.4,322.3 196.5,330.0 196.5,322.3 196.6,330.0 196.7,330.0 196.8,330.0 196.9,330.0 196.9,330.0 197.0,322.3 197.1,330.0 197.2,322.3 197.3,330.0 197.3,330.0 197.4,330.0 197.5,330.0 197.6,330.0 197.7,330.0 197.7,330.0 197.8,330.0 197.9,330.0 198.0,330.0 198.1,309.1 198.1,330.0 198.2,330.0 198.3,330.0 198.4,330.0 198.5,330.0 198.5,330.0 198.6,330.0 198.7,322.3 198.8,330.0 198.9,330.0 198.9,330.0 199.0,330.0 199.1,330.0 199.2,330.0 199.3,330.0 199.3,330.0 199.4,330.0 199.5,330.0 199.6,330.0 199.7,322.3 199.7,330.0 199.8,322.3 199.9,330.0 200.0,330.0 200.0,330.0 200.1,330.0 200.2,330.0 200.3,322.3 200.4,330.0 200.4,330.0 200.5,330.0 200.6,330.0 200.7,330.0 200.8,330.0 200.8,330.0 200.9,330.0 201.0,330.0 201.1,330.0 201.2,330.0 201.2,330.0 201.3,330.0 201.4,330.0 201.5,330.0 201.6,330.0 201.6,330.0 201.7,330.0 201.8,330.0 201.9,330.0 202.0,330.0 202.0,330.0 202.1,330.0 202.2,330.0 202.3,330.0 202.4,330.0 202.4,330.0 202.5,322.3 202.6,330.0 202.7,322.3 202.8,330.0 202.8,330.0 202.9,330.0 203.0,330.0 203.1,330.0 203.2,309.1 203.2,309.1 203.3,330.0 203.4,330.0 203.5,330.0 203.6,330.0 203.6,330.0 203.7,322.3 203.8,330.0 203.9,330.0 204.0,330.0 204.0,330.0 204.1,330.0 204.2,330.0 204.3,322.3 204.4,322.3 204.4,330.0 204.5,330.0 204.6,330.0 204.7,322.3 204.8,330.0 204.8,330.0 204.9,322.3 205.0,322.3 205.1,330.0 205.1,330.0 205.2,330.0 205.3,330.0 205.4,330.0 205.5,322.3 205.5,330.0 205.6,330.0 205.7,330.0 205.8,330.0 205.9,330.0 205.9,330.0 206.0,330.0 206.1,330.0 206.2,330.0 206.3,330.0 206.3,330.0 206.4,322.3 206.5,330.0 206.6,330.0 206.7,330.0 206.7,330.0 206.8,330.0 206.9,330.0 207.0,330.0 207.1,330.0 207.1,330.0 207.2,330.0 207.3,330.0 207.4,330.0 207.5,330.0 207.5,330.0 207.6,330.0 207.7,330.0 207.8,330.0 207.9,330.0 207.9,330.0 208.0,330.0 208.1,330.0 208.2,330.0 208.3,322.3 208.3,330.0 208.4,330.0 208.5,330.0 208.6,330.0 208.7,330.0 208.7,330.0 208.8,330.0 208.9,330.0 209.0,330.0 209.1,322.3 209.1,322.3 209.2,330.0 209.3,330.0 209.4,322.3 209.5,330.0 209.5,322.3 209.6,330.0 209.7,322.3 209.8,330.0 209.9,322.3 209.9,330.0 210.0,330.0 210.1,330.0 210.2,330.0 210.2,330.0 210.3,322.3 210.4,330.0 210.5,330.0 210.6,322.3 210.6,330.0 210.7,330.0 210.8,330.0 210.9,322.3 211.0,330.0 211.0,330.0 211.1,330.0 211.2,330.0 211.3,322.3 211.4,330.0 211.4,330.0 211.5,330.0 211.6,330.0 211.7,330.0 211.8,330.0 211.8,322.3 211.9,330.0 212.0,330.0 212.1,322.3 212.2,330.0 212.2,330.0 212.3,330.0 212.4,330.0 212.5,330.0 212.6,330.0 212.6,330.0 212.7,330.0 212.8,330.0 212.9,330.0 213.0,330.0 213.0,322.3 213.1,330.0 213.2,322.3 213.3,330.0 213.4,330.0 213.4,330.0 213.5,330.0 213.6,330.0 213.7,330.0 213.8,330.0 213.8,330.0 213.9,330.0 214.0,330.0 214.1,330.0 214.2,330.0 214.2,330.0 214.3,322.3 214.4,330.0 214.5,330.0 214.6,330.0 214.6,330.0 214.7,322.3 214.8,309.1 214.9,330.0 215.0,330.0 215.0,330.0 215.1,330.0 215.2,330.0 215.3,330.0 215.3,330.0 215.4,330.0 215.5,330.0 215.6,322.3 215.7,330.0 215.7,330.0 215.8,330.0 215.9,330.0 216.0,330.0 216.1,330.0 216.1,330.0 216.2,322.3 216.3,330.0 216.4,330.0 216.5,330.0 216.5,330.0 216.6,330.0 216.7,330.0 216.8,330.0 216.9,330.0 216.9,330.0 217.0,322.3 217.1,330.0 217.2,330.0 217.3,330.0 217.3,330.0 217.4,322.3 217.5,330.0 217.6,330.0 217.7,330.0 217.7,330.0 217.8,322.3 217.9,322.3 218.0,330.0 218.1,330.0 218.1,330.0 218.2,330.0 218.3,330.0 218.4,330.0 218.5,330.0 218.5,322.3 218.6,330.0 218.7,330.0 218.8,330.0 218.9,322.3 218.9,330.0 219.0,330.0 219.1,309.1 219.2,330.0 219.3,330.0 219.3,330.0 219.4,330.0 219.5,330.0 219.6,330.0 219.7,330.0 219.7,322.3 219.8,330.0 219.9,330.0 220.0,322.3 220.1,330.0 220.1,330.0 220.2,330.0 220.3,330.0 220.4,330.0 220.4,330.0 220.5,330.0 220.6,330.0 220.7,330.0 220.8,330.0 220.8,330.0 220.9,322.3 221.0,322.3 221.1,330.0 221.2,330.0 221.2,330.0 221.3,330.0 221.4,330.0 221.5,330.0 221.6,322.3 221.6,330.0 221.7,330.0 221.8,330.0 221.9,330.0 222.0,330.0 222.0,330.0 222.1,330.0 222.2,330.0 222.3,330.0 222.4,330.0 222.4,330.0 222.5,322.3 222.6,330.0 222.7,330.0 222.8,330.0 222.8,330.0 222.9,322.3 223.0,322.3 223.1,330.0 223.2,330.0 223.2,330.0 223.3,330.0 223.4,330.0 223.5,322.3 223.6,330.0 223.6,330.0 223.7,322.3 223.8,330.0 223.9,330.0 224.0,330.0 224.0,330.0 224.1,330.0 224.2,322.3 224.3,330.0 224.4,330.0 224.4,330.0 224.5,330.0 224.6,330.0 224.7,322.3 224.8,322.3 224.8,330.0 224.9,330.0 225.0,330.0 225.1,330.0 225.2,330.0 225.2,330.0 225.3,330.0 225.4,330.0 225.5,330.0 225.5,330.0 225.6,330.0 225.7,330.0 225.8,330.0 225.9,330.0 225.9,330.0 226.0,330.0 226.1,330.0 226.2,330.0 226.3,330.0 226.3,330.0 226.4,330.0 226.5,330.0 226.6,330.0 226.7,322.3 226.7,330.0 226.8,322.3 226.9,330.0 227.0,330.0 227.1,330.0 227.1,330.0 227.2,330.0 227.3,330.0 227.4,330.0 227.5,330.0 227.5,330.0 227.6,330.0 227.7,322.3 227.8,330.0 227.9,330.0 227.9,322.3 228.0,330.0 228.1,330.0 228.2,330.0 228.3,330.0 228.3,330.0 228.4,330.0 228.5,330.0 228.6,330.0 228.7,330.0 228.7,330.0 228.8,330.0 228.9,330.0 229.0,330.0 229.1,330.0 229.1,330.0 229.2,322.3 229.3,330.0 229.4,330.0 229.5,330.0 229.5,330.0 229.6,330.0 229.7,322.3 229.8,330.0 229.9,330.0 229.9,330.0 230.0,330.0 230.1,330.0 230.2,330.0 230.3,330.0 230.3,330.0 230.4,330.0 230.5,330.0 230.6,330.0 230.6,330.0 230.7,330.0 230.8,330.0 230.9,330.0 231.0,330.0 231.0,330.0 231.1,322.3 231.2,330.0 231.3,330.0 231.4,330.0 231.4,330.0 231.5,330.0 231.6,330.0 231.7,322.3 231.8,330.0 231.8,330.0 231.9,330.0 232.0,330.0 232.1,330.0 232.2,330.0 232.2,330.0 232.3,330.0 232.4,330.0 232.5,330.0 232.6,330.0 232.6,330.0 232.7,330.0 232.8,330.0 232.9,322.3 233.0,322.3 233.0,330.0 233.1,330.0 233.2,330.0 233.3,330.0 233.4,330.0 233.4,330.0 233.5,330.0 233.6,330.0 233.7,322.3 233.8,330.0 233.8,330.0 233.9,330.0 234.0,322.3 234.1,322.3 234.2,330.0 234.2,322.3 234.3,330.0 234.4,322.3 234.5,322.3 234.6,330.0 234.6,330.0 234.7,330.0 234.8,330.0 234.9,330.0 235.0,322.3 235.0,322.3 235.1,330.0 235.2,330.0 235.3,330.0 235.4,330.0 235.4,330.0 235.5,330.0 235.6,330.0 235.7,330.0 235.8,322.3 235.8,322.3 235.9,330.0 236.0,330.0 236.1,330.0 236.1,330.0 236.2,330.0 236.3,330.0 236.4,322.3 236.5,322.3 236.5,330.0 236.6,309.1 236.7,330.0 236.8,330.0 236.9,309.1 236.9,322.3 237.0,330.0 237.1,330.0 237.2,330.0 237.3,330.0 237.3,330.0 237.4,330.0 237.5,330.0 237.6,330.0 237.7,330.0 237.7,330.0 237.8,330.0 237.9,330.0 238.0,330.0 238.1,322.3 238.1,330.0 238.2,330.0 238.3,330.0 238.4,322.3 238.5,330.0 238.5,330.0 238.6,330.0 238.7,330.0 238.8,330.0 238.9,330.0 238.9,330.0 239.0,330.0 239.1,330.0 239.2,330.0 239.3,330.0 239.3,330.0 239.4,330.0 239.5,330.0 239.6,330.0 239.7,330.0 239.7,322.3 239.8,322.3 239.9,330.0 240.0,330.0 240.1,330.0 240.1,330.0 240.2,330.0 240.3,322.3 240.4,330.0 240.5,330.0 240.5,330.0 240.6,330.0 240.7,330.0 240.8,330.0 240.8,322.3 240.9,330.0 241.0,330.0 241.1,330.0 241.2,330.0 241.2,330.0 241.3,330.0 241.4,322.3 241.5,330.0 241.6,330.0 241.6,330.0 241.7,330.0 241.8,330.0 241.9,322.3 242.0,330.0 242.0,322.3 242.1,330.0 242.2,322.3 242.3,330.0 242.4,330.0 242.4,330.0 242.5,330.0 242.6,330.0 242.7,330.0 242.8,330.0 242.8,322.3 242.9,330.0 243.0,330.0 243.1,330.0 243.2,330.0 243.2,322.3 243.3,330.0 243.4,330.0 243.5,330.0 243.6,330.0 243.6,330.0 243.7,330.0 243.8,330.0 243.9,330.0 244.0,330.0 244.0,330.0 244.1,322.3 244.2,322.3 244.3,330.0 244.4,330.0 244.4,330.0 244.5,330.0 244.6,330.0 244.7,330.0 244.8,330.0 244.8,330.0 244.9,330.0 245.0,330.0 245.1,330.0 245.2,330.0 245.2,330.0 245.3,330.0 245.4,330.0 245.5,322.3 245.6,330.0 245.6,330.0 245.7,322.3 245.8,330.0 245.9,330.0 245.9,330.0 246.0,330.0 246.1,330.0 246.2,330.0 246.3,330.0 246.3,330.0 246.4,330.0 246.5,330.0 246.6,330.0 246.7,330.0 246.7,330.0 246.8,330.0 246.9,330.0 247.0,330.0 247.1,330.0 247.1,330.0 247.2,309.1 247.3,330.0 247.4,330.0 247.5,322.3 247.5,330.0 247.6,330.0 247.7,330.0 247.8,330.0 247.9,330.0 247.9,322.3 248.0,330.0 248.1,322.3 248.2,330.0 248.3,330.0 248.3,330.0 248.4,330.0 248.5,330.0 248.6,330.0 248.7,330.0 248.7,322.3 248.8,330.0 248.9,330.0 249.0,330.0 249.1,330.0 249.1,330.0 249.2,330.0 249.3,330.0 249.4,330.0 249.5,330.0 249.5,322.3 249.6,330.0 249.7,330.0 249.8,330.0 249.9,330.0 249.9,330.0 250.0,330.0 250.1,330.0 250.2,330.0 250.3,330.0 250.3,330.0 250.4,330.0 250.5,322.3 250.6,330.0 250.7,330.0 250.7,330.0 250.8,330.0 250.9,322.3 251.0,330.0 251.0,330.0 251.1,330.0 251.2,330.0 251.3,330.0 251.4,330.0 251.4,330.0 251.5,322.3 251.6,322.3 251.7,330.0 251.8,330.0 251.8,330.0 251.9,330.0 252.0,330.0 252.1,330.0 252.2,330.0 252.2,330.0 252.3,330.0 252.4,330.0 252.5,330.0 252.6,330.0 252.6,330.0 252.7,330.0 252.8,330.0 252.9,330.0 253.0,330.0 253.0,330.0 253.1,330.0 253.2,330.0 253.3,330.0 253.4,322.3 253.4,322.3 253.5,330.0 253.6,330.0 253.7,330.0 253.8,322.3 253.8,322.3 253.9,322.3 254.0,322.3 254.1,322.3 254.2,330.0 254.2,330.0 254.3,322.3 254.4,330.0 254.5,322.3 254.6,330.0 254.6,322.3 254.7,330.0 254.8,330.0 254.9,330.0 255.0,330.0 255.0,330.0 255.1,330.0 255.2,330.0 255.3,330.0 255.4,330.0 255.4,330.0 255.5,330.0 255.6,322.3 255.7,330.0 255.8,330.0 255.8,322.3 255.9,322.3 256.0,330.0 256.1,330.0 256.1,322.3 256.2,322.3 256.3,330.0 256.4,322.3 256.5,330.0 256.5,322.3 256.6,330.0 256.7,330.0 256.8,330.0 256.9,322.3 256.9,330.0 257.0,330.0 257.1,330.0 257.2,330.0 257.3,330.0 257.3,330.0 257.4,330.0 257.5,330.0 257.6,330.0 257.7,330.0 257.7,330.0 257.8,330.0 257.9,330.0 258.0,330.0 258.1,330.0 258.1,330.0 258.2,330.0 258.3,322.3 258.4,330.0 258.5,330.0 258.5,330.0 258.6,322.3 258.7,330.0 258.8,330.0 258.9,330.0 258.9,309.1 259.0,330.0 259.1,330.0 259.2,330.0 259.3,330.0 259.3,330.0 259.4,330.0 259.5,330.0 259.6,330.0 259.7,330.0 259.7,330.0 259.8,309.1 259.9,330.0 260.0,330.0 260.1,330.0 260.1,330.0 260.2,330.0 260.3,330.0 260.4,330.0 260.5,330.0 260.5,322.3 260.6,330.0 260.7,322.3 260.8,330.0 260.9,330.0 260.9,330.0 261.0,330.0 261.1,330.0 261.2,330.0 261.2,322.3 261.3,330.0 261.4,322.3 261.5,330.0 261.6,322.3 261.6,330.0 261.7,330.0 261.8,330.0 261.9,322.3 262.0,322.3 262.0,330.0 262.1,330.0 262.2,330.0 262.3,330.0 262.4,330.0 262.4,330.0 262.5,330.0 262.6,330.0 262.7,330.0 262.8,330.0 262.8,330.0 262.9,330.0 263.0,330.0 263.1,330.0 263.2,322.3 263.2,330.0 263.3,330.0 263.4,330.0 263.5,330.0 263.6,330.0 263.6,330.0 263.7,330.0 263.8,330.0 263.9,330.0 264.0,330.0 264.0,330.0 264.1,330.0 264.2,330.0 264.3,330.0 264.4,330.0 264.4,322.3 264.5,330.0 264.6,309.1 264.7,330.0 264.8,330.0 264.8,330.0 264.9,330.0 265.0,330.0 265.1,330.0 265.2,330.0 265.2,322.3 265.3,330.0 265.4,330.0 265.5,330.0 265.6,330.0 265.6,330.0 265.7,330.0 265.8,330.0 265.9,322.3 266.0,330.0 266.0,330.0 266.1,330.0 266.2,330.0 266.3,330.0 266.4,322.3 266.4,330.0 266.5,330.0 266.6,330.0 266.7,330.0 266.7,330.0 266.8,330.0 266.9,330.0 267.0,330.0 267.1,330.0 267.1,330.0 267.2,330.0 267.3,330.0 267.4,330.0 267.5,330.0 267.5,330.0 267.6,330.0 267.7,330.0 267.8,330.0 267.9,330.0 267.9,330.0 268.0,330.0 268.1,330.0 268.2,330.0 268.3,330.0 268.3,330.0 268.4,330.0 268.5,330.0 268.6,330.0 268.7,330.0 268.7,330.0 268.8,322.3 268.9,330.0 269.0,330.0 269.1,330.0 269.1,330.0 269.2,330.0 269.3,330.0 269.4,330.0 269.5,330.0 269.5,330.0 269.6,330.0 269.7,322.3 269.8,330.0 269.9,322.3 269.9,322.3 270.0,330.0 270.1,330.0 270.2,330.0 270.3,330.0 270.3,330.0 270.4,330.0 270.5,330.0 270.6,322.3 270.7,330.0 270.7,330.0 270.8,330.0 270.9,330.0 271.0,330.0 271.1,322.3 271.1,330.0 271.2,330.0 271.3,330.0 271.4,322.3 271.4,330.0 271.5,330.0 271.6,322.3 271.7,322.3 271.8,330.0 271.8,330.0 271.9,330.0 272.0,330.0 272.1,309.1 272.2,322.3 272.2,330.0 272.3,330.0 272.4,330.0 272.5,330.0 272.6,330.0 272.6,330.0 272.7,330.0 272.8,330.0 272.9,330.0 273.0,330.0 273.0,330.0 273.1,330.0 273.2,330.0 273.3,330.0 273.4,330.0 273.4,330.0 273.5,330.0 273.6,330.0 273.7,330.0 273.8,330.0 273.8,330.0 273.9,330.0 274.0,322.3 274.1,330.0 274.2,330.0 274.2,330.0 274.3,330.0 274.4,330.0 274.5,330.0 274.6,330.0 274.6,322.3 274.7,322.3 274.8,330.0 274.9,330.0 275.0,330.0 275.0,330.0 275.1,330.0 275.2,330.0 275.3,330.0 275.4,322.3 275.4,330.0 275.5,330.0 275.6,322.3 275.7,330.0 275.8,330.0 275.8,322.3 275.9,330.0 276.0,330.0 276.1,330.0 276.2,330.0 276.2,330.0 276.3,330.0 276.4,330.0 276.5,330.0 276.5,322.3 276.6,330.0 276.7,330.0 276.8,330.0 276.9,330.0 276.9,322.3 277.0,322.3 277.1,322.3 277.2,330.0 277.3,330.0 277.3,322.3 277.4,330.0 277.5,330.0 277.6,330.0 277.7,330.0 277.7,330.0 277.8,330.0 277.9,330.0 278.0,330.0 278.1,330.0 278.1,330.0 278.2,330.0 278.3,330.0 278.4,330.0 278.5,330.0 278.5,330.0 278.6,330.0 278.7,330.0 278.8,330.0 278.9,330.0 278.9,330.0 279.0,322.3 279.1,330.0 279.2,330.0 279.3,330.0 279.3,330.0 279.4,330.0 279.5,330.0 279.6,322.3 279.7,330.0 279.7,330.0 279.8,330.0 279.9,330.0 280.0,309.1 280.1,330.0 280.1,330.0 280.2,330.0 280.3,330.0 280.4,330.0 280.5,322.3 280.5,330.0 280.6,330.0 280.7,330.0 280.8,330.0 280.9,330.0 280.9,330.0 281.0,330.0 281.1,330.0 281.2,322.3 281.3,322.3 281.3,330.0 281.4,330.0 281.5,330.0 281.6,330.0 281.6,330.0 281.7,322.3 281.8,322.3 281.9,330.0 282.0,330.0 282.0,322.3 282.1,330.0 282.2,330.0 282.3,330.0 282.4,330.0 282.4,330.0 282.5,330.0 282.6,330.0 282.7,322.3 282.8,330.0 282.8,330.0 282.9,330.0 283.0,322.3 283.1,330.0 283.2,330.0 283.2,322.3 283.3,330.0 283.4,322.3 283.5,330.0 283.6,330.0 283.6,330.0 283.7,330.0 283.8,322.3 283.9,330.0 284.0,330.0 284.0,330.0 284.1,330.0 284.2,330.0 284.3,330.0 284.4,330.0 284.4,330.0 284.5,322.3 284.6,322.3 284.7,330.0 284.8,330.0 284.8,322.3 284.9,322.3 285.0,330.0 285.1,330.0 285.2,309.1 285.2,330.0 285.3,322.3 285.4,322.3 285.5,330.0 285.6,330.0 285.6,330.0 285.7,330.0 285.8,330.0 285.9,330.0 286.0,330.0 286.0,330.0 286.1,330.0 286.2,330.0 286.3,330.0 286.4,330.0 286.4,330.0 286.5,330.0 286.6,330.0 286.7,330.0 286.8,330.0 286.8,322.3 286.9,330.0 287.0,330.0 287.1,330.0 287.1,330.0 287.2,330.0 287.3,330.0 287.4,330.0 287.5,330.0 287.5,330.0 287.6,330.0 287.7,330.0 287.8,330.0 287.9,330.0 287.9,330.0 288.0,322.3 288.1,330.0 288.2,330.0 288.3,330.0 288.3,322.3 288.4,330.0 288.5,330.0 288.6,330.0 288.7,330.0 288.7,330.0 288.8,330.0 288.9,330.0 289.0,330.0 289.1,330.0 289.1,330.0 289.2,330.0 289.3,330.0 289.4,330.0 289.5,330.0 289.5,330.0 289.6,330.0 289.7,322.3 289.8,330.0 289.9,330.0 289.9,330.0 290.0,322.3 290.1,330.0 290.2,330.0 290.3,330.0 290.3,330.0 290.4,330.0 290.5,330.0 290.6,330.0 290.7,330.0 290.7,330.0 290.8,330.0 290.9,330.0 291.0,330.0 291.1,330.0 291.1,330.0 291.2,322.3 291.3,330.0 291.4,322.3 291.5,330.0 291.5,330.0 291.6,330.0 291.7,330.0 291.8,330.0 291.9,330.0 291.9,330.0 292.0,330.0 292.1,322.3 292.2,330.0 292.2,322.3 292.3,330.0 292.4,330.0 292.5,330.0 292.6,330.0 292.6,330.0 292.7,330.0 292.8,330.0 292.9,330.0 293.0,330.0 293.0,330.0 293.1,330.0 293.2,322.3 293.3,330.0 293.4,330.0 293.4,330.0 293.5,330.0 293.6,330.0 293.7,330.0 293.8,330.0 293.8,330.0 293.9,330.0 294.0,330.0 294.1,330.0 294.2,330.0 294.2,330.0 294.3,330.0 294.4,330.0 294.5,330.0 294.6,330.0 294.6,330.0 294.7,330.0 294.8,322.3 294.9,330.0 295.0,330.0 295.0,330.0 295.1,330.0 295.2,330.0 295.3,330.0 295.4,330.0 295.4,322.3 295.5,330.0 295.6,322.3 295.7,330.0 295.8,330.0 295.8,330.0 295.9,330.0 296.0,330.0 296.1,322.3 296.2,330.0 296.2,330.0 296.3,330.0 296.4,330.0 296.5,330.0 296.6,330.0 296.6,322.3 296.7,330.0 296.8,330.0 296.9,330.0 296.9,330.0 297.0,330.0 297.1,322.3 297.2,330.0 297.3,330.0 297.3,330.0 297.4,330.0 297.5,330.0 297.6,330.0 297.7,330.0 297.7,330.0 297.8,330.0 297.9,330.0 298.0,322.3 298.1,330.0 298.1,330.0 298.2,330.0 298.3,330.0 298.4,330.0 298.5,330.0 298.5,330.0 298.6,330.0 298.7,330.0 298.8,330.0 298.9,330.0 298.9,330.0 299.0,330.0 299.1,330.0 299.2,330.0 299.3,322.3 299.3,330.0 299.4,330.0 299.5,330.0" stroke="#3cbc98" stroke-width="0.75" opacity="1.00"/>
<path d="M44.5,221.8 44.6,222.7 44.7,211.6 44.7,205.6 44.8,200.4 44.9,197.9 45.0,195.2 45.1,193.4 45.1,191.3 45.2,188.7 45.3,187.9 45.4,186.7 45.5,185.7 45.5,184.7 45.6,183.9 45.7,183.5 45.8,182.6 45.9,182.2 45.9,181.3 46.0,181.4 46.1,181.6 46.2,180.4 46.3,180.8 46.3,180.5 46.4,179.2 46.5,178.9 46.6,179.6 46.7,178.9 46.7,178.5 46.8,179.2 46.9,179.2 47.0,177.9 47.0,178.3 47.1,178.0 47.2,177.7 47.3,177.8 47.4,177.6 47.4,177.4 47.5,177.4 47.6,177.9 47.7,177.4 47.8,177.8 47.8,177.9 47.9,178.2 48.0,177.6 48.1,177.3 48.2,176.9 48.2,177.0 48.3,177.3 48.4,177.6 48.5,177.6 48.6,177.0 48.6,177.4 48.7,177.0 48.8,177.1 48.9,176.9 49.0,177.2 49.0,177.8 49.1,177.4 49.2,177.4 49.3,176.7 49.4,177.0 49.4,176.9 49.5,177.8 49.6,177.5 49.7,177.1 49.8,177.3 49.8,177.0 49.9,177.3 50.0,177.6 50.1,177.5 50.2,177.4 50.2,177.2 50.3,176.9 50.4,177.0 50.5,177.2 50.6,176.7 50.6,176.8 50.7,177.2 50.8,176.7 50.9,177.4 51.0,176.5 51.0,176.6 51.1,177.2 51.2,177.2 51.3,177.6 51.4,176.9 51.4,176.6 51.5,176.5 51.6,176.9 51.7,176.6 51.8,177.8 51.8,177.0 51.9,177.0 52.0,178.3 52.1,176.8 52.1,177.5 52.2,177.5 52.3,177.3 52.4,178.0 52.5,177.4 52.5,177.1 52.6,176.8 52.7,176.2 52.8,177.6 52.9,177.7 52.9,177.3 53.0,177.3 53.1,176.7 53.2,176.9 53.3,177.1 53.3,177.5 53.4,177.4 53.5,177.0 53.6,177.2 53.7,176.5 53.7,177.7 53.8,176.7 53.9,177.5 54.0,177.2 54.1,177.1 54.1,176.2 54.2,177.6 54.3,177.0 54.4,176.8 54.5,176.6 54.5,176.8 54.6,177.5 54.7,176.8 54.8,177.2 54.9,177.8 54.9,177.3 55.0,176.9 55.1,177.1 55.2,176.5 55.3,177.1 55.3,176.8 55.4,177.1 55.5,176.8 55.6,177.8 55.7,177.4 55.7,177.2 55.8,176.8 55.9,177.8 56.0,177.3 56.1,176.6 56.1,177.3 56.2,176.7 56.3,176.6 56.4,177.4 56.5,177.4 56.5,177.0 56.6,177.0 56.7,177.4 56.8,177.3 56.9,177.0 56.9,177.4 57.0,177.1 57.1,177.0 57.2,176.5 57.2,176.5 57.3,176.3 57.4,177.5 57.5,177.1 57.6,177.1 57.6,177.4 57.7,176.9 57.8,176.8 57.9,177.2 58.0,177.4 58.0,177.1 58.1,177.3 58.2,177.0 58.3,177.1 58.4,177.1 58.4,176.6 58.5,177.3 58.6,176.8 58.7,176.7 58.8,177.2 58.8,177.1 58.9,176.9 59.0,177.7 59.1,176.5 59.2,176.8 59.2,177.1 59.3,177.2 59.4,177.3 59.5,177.0 59.6,177.3 59.6,177.0 59.7,176.8 59.8,176.5 59.9,177.6 60.0,177.5 60.0,176.9 60.1,176.7 60.2,177.1 60.3,176.5 60.4,177.5 60.4,177.5 60.5,178.4 60.6,179.2 60.7,180.1 60.8,181.9 60.8,182.4 60.9,183.3 61.0,184.7 61.1,185.3 61.2,186.4 61.2,188.5 61.3,188.6 61.4,191.0 61.5,192.0 61.6,193.0 61.6,193.9 61.7,195.3 61.8,194.8 61.9,196.1 62.0,197.9 62.0,199.6 62.1,201.2 62.2,201.5 62.3,202.2 62.3,203.2 62.4,204.2 62.5,203.4 62.6,205.6 62.7,207.6 62.7,207.4 62.8,208.3 62.9,208.5 63.0,210.5 63.1,209.7 63.1,210.8 63.2,212.3 63.3,212.0 63.4,212.8 63.5,215.6 63.5,218.6 63.6,218.6 63.7,219.4 63.8,219.0 63.9,217.4 63.9,217.9 64.0,220.6 64.1,222.7 64.2,220.2 64.3,223.6 64.3,225.0 64.4,223.8 64.5,228.1 64.6,228.1 64.7,224.6 64.7,229.5 64.8,229.6 64.9,226.6 65.0,236.3 65.1,230.1 65.1,234.3 65.2,234.5 65.3,231.7 65.4,234.1 65.5,234.7 65.5,237.2 65.6,239.0 65.7,242.4 65.8,239.0 65.9,238.8 65.9,239.7 66.0,239.2 66.1,245.9 66.2,245.2 66.3,243.0 66.3,250.2 66.4,247.0 66.5,245.9 66.6,244.2 66.7,249.3 66.7,243.3 66.8,250.2 66.9,247.3 67.0,248.5 67.1,255.1 67.1,260.2 67.2,249.3 67.3,251.0 67.4,260.2 67.5,257.5 67.5,254.0 67.6,249.3 67.7,254.5 67.8,253.5 67.8,257.5 67.9,259.5 68.0,255.1 68.1,255.6 68.2,257.5 68.2,261.7 68.3,265.2 68.4,257.5 68.5,257.5 68.6,264.3 68.6,260.2 68.7,262.5 68.8,262.5 68.9,269.4 69.0,262.5 69.0,255.6 69.1,262.5 69.2,262.5 69.3,258.8 69.4,264.3 69.4,268.3 69.5,274.9 69.6,264.3 69.7,264.3 69.8,269.4 69.8,268.3 69.9,265.2 70.0,278.4 70.1,282.7 70.2,276.6 70.2,266.2 70.3,268.3 70.4,273.4 70.5,278.4 70.6,291.6 70.6,276.6 70.7,276.6 70.8,272.0 70.9,273.4 71.0,288.1 71.0,276.6 71.1,276.6 71.2,269.4 71.3,285.2 71.4,269.4 71.4,276.6 71.5,285.2 71.6,270.7 71.7,274.9 71.8,282.7 71.8,278.4 71.9,269.4 72.0,285.2 72.1,282.7 72.2,267.2 72.2,278.4 72.3,282.7 72.4,285.2 72.5,282.7 72.5,270.7 72.6,285.2 72.7,282.7 72.8,282.7 72.9,276.6 72.9,273.4 73.0,288.1 73.1,278.4 73.2,280.4 73.3,288.1 73.3,301.4 73.4,291.6 73.5,309.1 73.6,280.4 73.7,288.1 73.7,285.2 73.8,301.4 73.9,288.1 74.0,301.4 74.1,295.9 74.1,285.2 74.2,282.7 74.3,309.1 74.4,301.4 74.5,288.1 74.5,295.9 74.6,322.3 74.7,322.3 74.8,295.9 74.9,301.4 74.9,301.4 75.0,285.2 75.1,280.4 75.2,309.1 75.3,282.7 75.3,291.6 75.4,295.9 75.5,330.0 75.6,288.1 75.7,291.6 75.7,322.3 75.8,301.4 75.9,301.4 76.0,330.0 76.1,301.4 76.1,322.3 76.2,301.4 76.3,301.4 76.4,322.3 76.5,309.1 76.5,309.1 76.6,291.6 76.7,295.9 76.8,309.1 76.9,322.3 76.9,301.4 77.0,301.4 77.1,309.1 77.2,322.3 77.3,330.0 77.3,330.0 77.4,301.4 77.5,301.4 77.6,322.3 77.7,295.9 77.7,330.0 77.8,288.1 77.9,309.1 78.0,295.9 78.0,309.1 78.1,295.9 78.2,285.2 78.3,309.1 78.4,295.9 78.4,330.0 78.5,322.3 78.6,309.1 78.7,322.3 78.8,309.1 78.8,291.6 78.9,309.1 79.0,322.3 79.1,301.4 79.2,309.1 79.2,309.1 79.3,309.1 79.4,309.1 79.5,309.1 79.6,295.9 79.6,322.3 79.7,322.3 79.8,291.6 79.9,291.6 80.0,322.3 80.0,309.1 80.1,330.0 80.2,330.0 80.3,301.4 80.4,309.1 80.4,322.3 80.5,309.1 80.6,322.3 80.7,330.0 80.8,330.0 80.8,301.4 80.9,288.1 81.0,322.3 81.1,301.4 81.2,301.4 81.2,309.1 81.3,330.0 81.4,295.9 81.5,322.3 81.6,330.0 81.6,301.4 81.7,295.9 81.8,322.3 81.9,301.4 82.0,309.1 82.0,330.0 82.1,309.1 82.2,309.1 82.3,322.3 82.4,309.1 82.4,309.1 82.5,309.1 82.6,301.4 82.7,330.0 82.8,309.1 82.8,309.1 82.9,295.9 83.0,291.6 83.1,295.9 83.1,322.3 83.2,322.3 83.3,291.6 83.4,301.4 83.5,322.3 83.5,309.1 83.6,322.3 83.7,301.4 83.8,322.3 83.9,309.1 83.9,309.1 84.0,291.6 84.1,295.9 84.2,301.4 84.3,309.1 84.3,291.6 84.4,295.9 84.5,322.3 84.6,309.1 84.7,295.9 84.7,330.0 84.8,291.6 84.9,301.4 85.0,301.4 85.1,309.1 85.1,322.3 85.2,330.0 85.3,301.4 85.4,309.1 85.5,322.3 85.5,295.9 85.6,295.9 85.7,330.0 85.8,301.4 85.9,295.9 85.9,330.0 86.0,309.1 86.1,301.4 86.2,301.4 86.3,322.3 86.3,301.4 86.4,322.3 86.5,301.4 86.6,309.1 86.7,309.1 86.7,322.3 86.8,322.3 86.9,330.0 87.0,330.0 87.1,330.0 87.1,291.6 87.2,295.9 87.3,322.3 87.4,309.1 87.5,330.0 87.5,295.9 87.6,309.1 87.7,295.9 87.8,301.4 87.8,322.3 87.9,309.1 88.0,291.6 88.1,291.6 88.2,301.4 88.2,309.1 88.3,291.6 88.4,301.4 88.5,322.3 88.6,309.1 88.6,330.0 88.7,309.1 88.8,309.1 88.9,309.1 89.0,301.4 89.0,322.3 89.1,301.4 89.2,309.1 89.3,330.0 89.4,301.4 89.4,309.1 89.5,295.9 89.6,322.3 89.7,322.3 89.8,322.3 89.8,309.1 89.9,322.3 90.0,309.1 90.1,309.1 90.2,285.2 90.2,295.9 90.3,322.3 90.4,309.1 90.5,309.1 90.6,322.3 90.6,309.1 90.7,301.4 90.8,322.3 90.9,330.0 91.0,322.3 91.0,301.4 91.1,295.9 91.2,309.1 91.3,322.3 91.4,330.0 91.4,280.4 91.5,295.9 91.6,330.0 91.7,301.4 91.8,322.3 91.8,301.4 91.9,322.3 92.0,309.1 92.1,330.0 92.2,295.9 92.2,309.1 92.3,330.0 92.4,330.0 92.5,301.4 92.6,309.1 92.6,291.6 92.7,309.1 92.8,322.3 92.9,285.2 92.9,330.0 93.0,322.3 93.1,291.6 93.2,309.1 93.3,301.4 93.3,330.0 93.4,330.0 93.5,291.6 93.6,330.0 93.7,309.1 93.7,322.3 93.8,309.1 93.9,295.9 94.0,295.9 94.1,330.0 94.1,309.1 94.2,309.1 94.3,288.1 94.4,330.0 94.5,309.1 94.5,322.3 94.6,322.3 94.7,322.3 94.8,301.4 94.9,309.1 94.9,309.1 95.0,309.1 95.1,322.3 95.2,322.3 95.3,309.1 95.3,288.1 95.4,309.1 95.5,295.9 95.6,301.4 95.7,301.4 95.7,309.1 95.8,322.3 95.9,322.3 96.0,301.4 96.1,309.1 96.1,301.4 96.2,295.9 96.3,301.4 96.4,309.1 96.5,322.3 96.5,330.0 96.6,309.1 96.7,309.1 96.8,301.4 96.9,330.0 96.9,322.3 97.0,309.1 97.1,295.9 97.2,309.1 97.3,301.4 97.3,301.4 97.4,322.3 97.5,309.1 97.6,309.1 97.7,322.3 97.7,295.9 97.8,301.4 97.9,330.0 98.0,322.3 98.0,322.3 98.1,309.1 98.2,301.4 98.3,309.1 98.4,301.4 98.4,322.3 98.5,322.3 98.6,322.3 98.7,309.1 98.8,330.0 98.8,291.6 98.9,295.9 99.0,330.0 99.1,295.9 99.2,322.3 99.2,322.3 99.3,295.9 99.4,309.1 99.5,295.9 99.6,309.1 99.6,322.3 99.7,330.0 99.8,309.1 99.9,301.4 100.0,322.3 100.0,309.1 100.1,309.1 100.2,322.3 100.3,322.3 100.4,330.0 100.4,291.6 100.5,322.3 100.6,295.9 100.7,288.1 100.8,309.1 100.8,301.4 100.9,295.9 101.0,291.6 101.1,295.9 101.2,309.1 101.2,330.0 101.3,309.1 101.4,301.4 101.5,322.3 101.6,309.1 101.6,295.9 101.7,322.3 101.8,322.3 101.9,309.1 102.0,291.6 102.0,322.3 102.1,301.4 102.2,322.3 102.3,309.1 102.4,309.1 102.4,322.3 102.5,330.0 102.6,291.6 102.7,309.1 102.8,309.1 102.8,301.4 102.9,309.1 103.0,309.1 103.1,309.1 103.2,295.9 103.2,295.9 103.3,322.3 103.4,309.1 103.5,309.1 103.5,330.0 103.6,322.3 103.7,288.1 103.8,330.0 103.9,301.4 103.9,330.0 104.0,301.4 104.1,309.1 104.2,309.1 104.3,309.1 104.3,322.3 104.4,309.1 104.5,301.4 104.6,330.0 104.7,330.0 104.7,301.4 104.8,309.1 104.9,291.6 105.0,322.3 105.1,322.3 105.1,330.0 105.2,322.3 105.3,301.4 105.4,301.4 105.5,291.6 105.5,330.0 105.6,322.3 105.7,322.3 105.8,291.6 105.9,322.3 105.9,309.1 106.0,330.0 106.1,330.0 106.2,309.1 106.3,330.0 106.3,330.0 106.4,309.1 106.5,301.4 106.6,301.4 106.7,309.1 106.7,330.0 106.8,322.3 106.9,301.4 107.0,309.1 107.1,330.0 107.1,301.4 107.2,322.3 107.3,285.2 107.4,322.3 107.5,301.4 107.5,322.3 107.6,291.6 107.7,309.1 107.8,295.9 107.9,291.6 107.9,301.4 108.0,301.4 108.1,291.6 108.2,301.4 108.2,322.3 108.3,301.4 108.4,309.1 108.5,322.3 108.6,330.0 108.6,309.1 108.7,309.1 108.8,330.0 108.9,322.3 109.0,309.1 109.0,309.1 109.1,295.9 109.2,309.1 109.3,322.3 109.4,301.4 109.4,322.3 109.5,309.1 109.6,309.1 109.7,322.3 109.8,295.9 109.8,322.3 109.9,322.3 110.0,330.0 110.1,322.3 110.2,322.3 110.2,330.0 110.3,322.3 110.4,322.3 110.5,301.4 110.6,309.1 110.6,322.3 110.7,301.4 110.8,330.0 110.9,322.3 111.0,301.4 111.0,330.0 111.1,322.3 111.2,295.9 111.3,301.4 111.4,322.3 111.4,309.1 111.5,330.0 111.6,322.3 111.7,322.3 111.8,309.1 111.8,330.0 111.9,330.0 112.0,309.1 112.1,330.0 112.2,322.3 112.2,301.4 112.3,330.0 112.4,322.3 112.5,301.4 112.6,301.4 112.6,309.1 112.7,301.4 112.8,301.4 112.9,295.9 113.0,322.3 113.0,291.6 113.1,309.1 113.2,330.0 113.3,330.0 113.3,330.0 113.4,309.1 113.5,309.1 113.6,330.0 113.7,309.1 113.7,322.3 113.8,301.4 113.9,291.6 114.0,301.4 114.1,309.1 114.1,322.3 114.2,322.3 114.3,322.3 114.4,301.4 114.5,309.1 114.5,309.1 114.6,301.4 114.7,301.4 114.8,295.9 114.9,330.0 114.9,309.1 115.0,295.9 115.1,322.3 115.2,322.3 115.3,322.3 115.3,309.1 115.4,322.3 115.5,301.4 115.6,301.4 115.7,322.3 115.7,322.3 115.8,301.4 115.9,309.1 116.0,309.1 116.1,322.3 116.1,322.3 116.2,322.3 116.3,322.3 116.4,322.3 116.5,291.6 116.5,309.1 116.6,295.9 116.7,309.1 116.8,291.6 116.9,330.0 116.9,295.9 117.0,322.3 117.1,285.2 117.2,301.4 117.3,309.1 117.3,322.3 117.4,301.4 117.5,301.4 117.6,330.0 117.7,322.3 117.7,322.3 117.8,330.0 117.9,330.0 118.0,301.4 118.1,309.1 118.1,322.3 118.2,309.1 118.3,295.9 118.4,322.3 118.4,301.4 118.5,309.1 118.6,295.9 118.7,309.1 118.8,295.9 118.8,330.0 118.9,322.3 119.0,295.9 119.1,309.1 119.2,322.3 119.2,322.3 119.3,309.1 119.4,309.1 119.5,301.4 119.6,322.3 119.6,301.4 119.7,309.1 119.8,309.1 119.9,301.4 120.0,322.3 120.0,309.1 120.1,301.4 120.2,322.3 120.3,295.9 120.4,330.0 120.4,322.3 120.5,322.3 120.6,309.1 120.7,322.3 120.8,301.4 120.8,309.1 120.9,309.1 121.0,322.3 121.1,309.1 121.2,309.1 121.2,291.6 121.3,295.9 121.4,322.3 121.5,309.1 121.6,322.3 121.6,330.0 121.7,301.4 121.8,322.3 121.9,301.4 122.0,322.3 122.0,330.0 122.1,309.1 122.2,330.0 122.3,330.0 122.4,330.0 122.4,322.3 122.5,309.1 122.6,330.0 122.7,330.0 122.8,309.1 122.8,309.1 122.9,322.3 123.0,330.0 123.1,322.3 123.2,330.0 123.2,322.3 123.3,330.0 123.4,330.0 123.5,309.1 123.5,309.1 123.6,322.3 123.7,322.3 123.8,330.0 123.9,330.0 123.9,330.0 124.0,330.0 124.1,330.0 124.2,322.3 124.3,330.0 124.3,330.0 124.4,322.3 124.5,309.1 124.6,330.0 124.7,322.3 124.7,330.0 124.8,330.0 124.9,330.0 125.0,309.1 125.1,322.3 125.1,309.1 125.2,330.0 125.3,322.3 125.4,330.0 125.5,330.0 125.5,330.0 125.6,330.0 125.7,330.0 125.8,309.1 125.9,330.0 125.9,322.3 126.0,322.3 126.1,322.3 126.2,330.0 126.3,330.0 126.3,330.0 126.4,330.0 126.5,309.1 126.6,330.0 126.7,330.0 126.7,330.0 126.8,330.0 126.9,330.0 127.0,330.0 127.1,322.3 127.1,322.3 127.2,330.0 127.3,330.0 127.4,322.3 127.5,330.0 127.5,330.0 127.6,330.0 127.7,330.0 127.8,330.0 127.9,330.0 127.9,330.0 128.0,309.1 128.1,330.0 128.2,322.3 128.3,330.0 128.3,330.0 128.4,322.3 128.5,322.3 128.6,330.0 128.6,330.0 128.7,322.3 128.8,330.0 128.9,330.0 129.0,330.0 129.0,330.0 129.1,330.0 129.2,322.3 129.3,330.0 129.4,330.0 129.4,322.3 129.5,330.0 129.6,330.0 129.7,330.0 129.8,330.0 129.8,330.0 129.9,330.0 130.0,330.0 130.1,330.0 130.2,322.3 130.2,322.3 130.3,330.0 130.4,330.0 130.5,322.3 130.6,322.3 130.6,330.0 130.7,330.0 130.8,330.0 130.9,330.0 131.0,330.0 131.0,330.0 131.1,322.3 131.2,330.0 131.3,330.0 131.4,330.0 131.4,330.0 131.5,330.0 131.6,330.0 131.7,330.0 131.8,330.0 131.8,330.0 131.9,330.0 132.0,330.0 132.1,330.0 132.2,309.1 132.2,330.0 132.3,330.0 132.4,330.0 132.5,309.1 132.6,330.0 132.6,330.0 132.7,330.0 132.8,330.0 132.9,322.3 133.0,330.0 133.0,322.3 133.1,330.0 133.2,330.0 133.3,330.0 133.4,322.3 133.4,330.0 133.5,322.3 133.6,330.0 133.7,330.0 133.8,330.0 133.8,322.3 133.9,330.0 134.0,330.0 134.1,330.0 134.1,330.0 134.2,330.0 134.3,330.0 134.4,330.0 134.5,330.0 134.5,322.3 134.6,301.4 134.7,330.0 134.8,330.0 134.9,330.0 134.9,309.1 135.0,330.0 135.1,322.3 135.2,330.0 135.3,330.0 135.3,330.0 135.4,330.0 135.5,330.0 135.6,330.0 135.7,330.0 135.7,330.0 135.8,330.0 135.9,330.0 136.0,330.0 136.1,330.0 136.1,322.3 136.2,322.3 136.3,330.0 136.4,330.0 136.5,309.1 136.5,330.0 136.6,330.0 136.7,322.3 136.8,309.1 136.9,330.0 136.9,322.3 137.0,330.0 137.1,330.0 137.2,322.3 137.3,330.0 137.3,330.0 137.4,330.0 137.5,330.0 137.6,330.0 137.7,330.0 137.7,322.3 137.8,322.3 137.9,322.3 138.0,330.0 138.1,322.3 138.1,330.0 138.2,330.0 138.3,330.0 138.4,330.0 138.5,330.0 138.5,322.3 138.6,322.3 138.7,330.0 138.8,330.0 138.8,330.0 138.9,330.0 139.0,330.0 139.1,322.3 139.2,330.0 139.2,330.0 139.3,330.0 139.4,330.0 139.5,330.0 139.6,330.0 139.6,330.0 139.7,330.0 139.8,330.0 139.9,330.0 140.0,322.3 140.0,330.0 140.1,330.0 140.2,330.0 140.3,330.0 140.4,330.0 140.4,330.0 140.5,322.3 140.6,330.0 140.7,322.3 140.8,330.0 140.8,330.0 140.9,322.3 141.0,330.0 141.1,322.3 141.2,330.0 141.2,330.0 141.3,330.0 141.4,330.0 141.5,330.0 141.6,322.3 141.6,309.1 141.7,330.0 141.8,330.0 141.9,330.0 142.0,330.0 142.0,322.3 142.1,330.0 142.2,330.0 142.3,330.0 142.4,330.0 142.4,330.0 142.5,330.0 142.6,330.0 142.7,330.0 142.8,322.3 142.8,330.0 142.9,309.1 143.0,330.0 143.1,330.0 143.2,330.0 143.2,330.0 143.3,330.0 143.4,330.0 143.5,330.0 143.6,322.3 143.6,330.0 143.7,330.0 143.8,322.3 143.9,330.0 143.9,330.0 144.0,330.0 144.1,330.0 144.2,330.0 144.3,322.3 144.3,330.0 144.4,322.3 144.5,330.0 144.6,330.0 144.7,322.3 144.7,330.0 144.8,322.3 144.9,330.0 145.0,330.0 145.1,330.0 145.1,330.0 145.2,322.3 145.3,330.0 145.4,330.0 145.5,330.0 145.5,330.0 145.6,322.3 145.7,322.3 145.8,322.3 145.9,330.0 145.9,330.0 146.0,330.0 146.1,330.0 146.2,330.0 146.3,330.0 146.3,322.3 146.4,322.3 146.5,330.0 146.6,330.0 146.7,322.3 146.7,330.0 146.8,330.0 146.9,330.0 147.0,330.0 147.1,330.0 147.1,330.0 147.2,330.0 147.3,330.0 147.4,330.0 147.5,322.3 147.5,330.0 147.6,322.3 147.7,330.0 147.8,330.0 147.9,309.1 147.9,330.0 148.0,322.3 148.1,322.3 148.2,322.3 148.3,330.0 148.3,330.0 148.4,301.4 148.5,330.0 148.6,330.0 148.7,330.0 148.7,330.0 148.8,330.0 148.9,330.0 149.0,330.0 149.1,330.0 149.1,330.0 149.2,330.0 149.3,322.3 149.4,322.3 149.4,322.3 149.5,322.3 149.6,322.3 149.7,330.0 149.8,330.0 149.8,322.3 149.9,330.0 150.0,322.3 150.1,330.0 150.2,322.3 150.2,330.0 150.3,330.0 150.4,322.3 150.5,330.0 150.6,330.0 150.6,330.0 150.7,330.0 150.8,309.1 150.9,322.3 151.0,330.0 151.0,330.0 151.1,330.0 151.2,330.0 151.3,330.0 151.4,330.0 151.4,322.3 151.5,330.0 151.6,330.0 151.7,330.0 151.8,330.0 151.8,322.3 151.9,330.0 152.0,330.0 152.1,322.3 152.2,330.0 152.2,330.0 152.3,330.0 152.4,330.0 152.5,330.0 152.6,330.0 152.6,330.0 152.7,330.0 152.8,330.0 152.9,322.3 153.0,322.3 153.0,309.1 153.1,330.0 153.2,322.3 153.3,322.3 153.4,322.3 153.4,330.0 153.5,330.0 153.6,330.0 153.7,330.0 153.8,330.0 153.8,330.0 153.9,330.0 154.0,330.0 154.1,330.0 154.1,330.0 154.2,322.3 154.3,330.0 154.4,330.0 154.5,322.3 154.5,330.0 154.6,330.0 154.7,330.0 154.8,322.3 154.9,330.0 154.9,330.0 155.0,330.0 155.1,330.0 155.2,322.3 155.3,330.0 155.3,330.0 155.4,330.0 155.5,330.0 155.6,322.3 155.7,330.0 155.7,330.0 155.8,330.0 155.9,330.0 156.0,330.0 156.1,330.0 156.1,330.0 156.2,330.0 156.3,330.0 156.4,322.3 156.5,322.3 156.5,330.0 156.6,322.3 156.7,322.3 156.8,330.0 156.9,330.0 156.9,330.0 157.0,330.0 157.1,330.0 157.2,330.0 157.3,330.0 157.3,330.0 157.4,322.3 157.5,322.3 157.6,330.0 157.7,330.0 157.7,330.0 157.8,322.3 157.9,330.0 158.0,330.0 158.1,330.0 158.1,330.0 158.2,330.0 158.3,322.3 158.4,330.0 158.5,330.0 158.5,322.3 158.6,330.0 158.7,330.0 158.8,330.0 158.9,330.0 158.9,330.0 159.0,322.3 159.1,322.3 159.2,330.0 159.2,330.0 159.3,330.0 159.4,330.0 159.5,330.0 159.6,330.0 159.6,330.0 159.7,322.3 159.8,322.3 159.9,330.0 160.0,322.3 160.0,330.0 160.1,330.0 160.2,322.3 160.3,330.0 160.4,330.0 160.4,330.0 160.5,330.0 160.6,322.3 160.7,330.0 160.8,330.0 160.8,330.0 160.9,322.3 161.0,330.0 161.1,322.3 161.2,322.3 161.2,330.0 161.3,330.0 161.4,330.0 161.5,330.0 161.6,322.3 161.6,330.0 161.7,330.0 161.8,330.0 161.9,322.3 162.0,322.3 162.0,322.3 162.1,330.0 162.2,330.0 162.3,322.3 162.4,330.0 162.4,322.3 162.5,322.3 162.6,330.0 162.7,330.0 162.8,330.0 162.8,322.3 162.9,330.0 163.0,330.0 163.1,330.0 163.2,330.0 163.2,330.0 163.3,330.0 163.4,330.0 163.5,330.0 163.6,322.3 163.6,330.0 163.7,330.0 163.8,330.0 163.9,330.0 164.0,330.0 164.0,330.0 164.1,330.0 164.2,330.0 164.3,330.0 164.3,330.0 164.4,330.0 164.5,330.0 164.6,322.3 164.7,330.0 164.7,330.0 164.8,322.3 164.9,330.0 165.0,330.0 165.1,330.0 165.1,330.0 165.2,330.0 165.3,330.0 165.4,322.3 165.5,330.0 165.5,330.0 165.6,330.0 165.7,322.3 165.8,330.0 165.9,322.3 165.9,322.3 166.0,330.0 166.1,330.0 166.2,330.0 166.3,330.0 166.3,330.0 166.4,330.0 166.5,322.3 166.6,330.0 166.7,330.0 166.7,322.3 166.8,330.0 166.9,322.3 167.0,330.0 167.1,322.3 167.1,330.0 167.2,322.3 167.3,330.0 167.4,330.0 167.5,330.0 167.5,330.0 167.6,322.3 167.7,330.0 167.8,322.3 167.9,330.0 167.9,330.0 168.0,330.0 168.1,330.0 168.2,330.0 168.3,322.3 168.3,330.0 168.4,322.3 168.5,309.1 168.6,330.0 168.7,330.0 168.7,322.3 168.8,330.0 168.9,322.3 169.0,322.3 169.1,322.3 169.1,330.0 169.2,330.0 169.3,330.0 169.4,330.0 169.4,330.0 169.5,322.3 169.6,322.3 169.7,330.0 169.8,330.0 169.8,330.0 169.9,330.0 170.0,330.0 170.1,330.0 170.2,322.3 170.2,330.0 170.3,330.0 170.4,330.0 170.5,330.0 170.6,330.0 170.6,322.3 170.7,322.3 170.8,330.0 170.9,330.0 171.0,322.3 171.0,322.3 171.1,330.0 171.2,322.3 171.3,330.0 171.4,330.0 171.4,330.0 171.5,330.0 171.6,322.3 171.7,330.0 171.8,330.0 171.8,330.0 171.9,330.0 172.0,330.0 172.1,322.3 172.2,330.0 172.2,322.3 172.3,322.3 172.4,330.0 172.5,322.3 172.6,322.3 172.6,330.0 172.7,330.0 172.8,330.0 172.9,330.0 173.0,322.3 173.0,330.0 173.1,330.0 173.2,330.0 173.3,330.0 173.4,330.0 173.4,330.0 173.5,322.3 173.6,330.0 173.7,330.0 173.8,322.3 173.8,330.0 173.9,330.0 174.0,330.0 174.1,330.0 174.2,322.3 174.2,330.0 174.3,330.0 174.4,330.0 174.5,330.0 174.5,330.0 174.6,330.0 174.7,330.0 174.8,330.0 174.9,330.0 174.9,322.3 175.0,309.1 175.1,322.3 175.2,330.0 175.3,330.0 175.3,330.0 175.4,330.0 175.5,330.0 175.6,330.0 175.7,322.3 175.7,322.3 175.8,330.0 175.9,330.0 176.0,330.0 176.1,322.3 176.1,330.0 176.2,330.0 176.3,330.0 176.4,330.0 176.5,330.0 176.5,330.0 176.6,330.0 176.7,330.0 176.8,330.0 176.9,330.0 176.9,330.0 177.0,330.0 177.1,322.3 177.2,330.0 177.3,330.0 177.3,330.0 177.4,322.3 177.5,330.0 177.6,330.0 177.7,330.0 177.7,330.0 177.8,322.3 177.9,322.3 178.0,322.3 178.1,330.0 178.1,330.0 178.2,330.0 178.3,330.0 178.4,330.0 178.5,322.3 178.5,330.0 178.6,322.3 178.7,330.0 178.8,330.0 178.9,330.0 178.9,330.0 179.0,330.0 179.1,330.0 179.2,322.3 179.3,330.0 179.3,330.0 179.4,330.0 179.5,330.0 179.6,330.0 179.6,322.3 179.7,322.3 179.8,330.0 179.9,322.3 180.0,330.0 180.0,322.3 180.1,330.0 180.2,330.0 180.3,330.0 180.4,330.0 180.4,330.0 180.5,330.0 180.6,330.0 180.7,330.0 180.8,330.0 180.8,330.0 180.9,322.3 181.0,330.0 181.1,330.0 181.2,330.0 181.2,322.3 181.3,322.3 181.4,330.0 181.5,330.0 181.6,322.3 181.6,309.1 181.7,330.0 181.8,330.0 181.9,330.0 182.0,322.3 182.0,330.0 182.1,322.3 182.2,322.3 182.3,330.0 182.4,330.0 182.4,330.0 182.5,309.1 182.6,322.3 182.7,330.0 182.8,330.0 182.8,330.0 182.9,330.0 183.0,330.0 183.1,330.0 183.2,330.0 183.2,330.0 183.3,330.0 183.4,330.0 183.5,330.0 183.6,330.0 183.6,330.0 183.7,330.0 183.8,330.0 183.9,322.3 184.0,309.1 184.0,322.3 184.1,330.0 184.2,330.0 184.3,330.0 184.4,330.0 184.4,330.0 184.5,330.0 184.6,322.3 184.7,322.3 184.8,330.0 184.8,330.0 184.9,330.0 185.0,330.0 185.1,322.3 185.1,330.0 185.2,330.0 185.3,322.3 185.4,330.0 185.5,330.0 185.5,309.1 185.6,330.0 185.7,330.0 185.8,322.3 185.9,322.3 185.9,330.0 186.0,322.3 186.1,322.3 186.2,330.0 186.3,330.0 186.3,322.3 186.4,322.3 186.5,330.0 186.6,322.3 186.7,330.0 186.7,330.0 186.8,330.0 186.9,330.0 187.0,330.0 187.1,330.0 187.1,322.3 187.2,330.0 187.3,330.0 187.4,330.0 187.5,322.3 187.5,322.3 187.6,330.0 187.7,322.3 187.8,330.0 187.9,322.3 187.9,322.3 188.0,330.0 188.1,330.0 188.2,330.0 188.3,330.0 188.3,322.3 188.4,330.0 188.5,330.0 188.6,330.0 188.7,330.0 188.7,330.0 188.8,309.1 188.9,330.0 189.0,330.0 189.1,330.0 189.1,322.3 189.2,330.0 189.3,322.3 189.4,330.0 189.5,330.0 189.5,330.0 189.6,330.0 189.7,330.0 189.8,330.0 189.8,330.0 189.9,330.0 190.0,330.0 190.1,330.0 190.2,330.0 190.2,330.0 190.3,330.0 190.4,330.0 190.5,330.0 190.6,330.0 190.6,330.0 190.7,330.0 190.8,330.0 190.9,330.0 191.0,330.0 191.0,330.0 191.1,322.3 191.2,322.3 191.3,330.0 191.4,330.0 191.4,330.0 191.5,330.0 191.6,330.0 191.7,330.0 191.8,330.0 191.8,322.3 191.9,330.0 192.0,322.3 192.1,330.0 192.2,330.0 192.2,330.0 192.3,322.3 192.4,330.0 192.5,330.0 192.6,330.0 192.6,309.1 192.7,322.3 192.8,330.0 192.9,322.3 193.0,330.0 193.0,330.0 193.1,330.0 193.2,309.1 193.3,330.0 193.4,330.0 193.4,322.3 193.5,322.3 193.6,330.0 193.7,330.0 193.8,330.0 193.8,330.0 193.9,330.0 194.0,330.0 194.1,330.0 194.2,322.3 194.2,322.3 194.3,322.3 194.4,330.0 194.5,330.0 194.6,309.1 194.6,330.0 194.7,330.0 194.8,330.0 194.9,322.3 194.9,330.0 195.0,330.0 195.1,322.3 195.2,309.1 195.3,309.1 195.3,322.3 195.4,330.0 195.5,309.1 195.6,330.0 195.7,322.3 195.7,330.0 195.8,330.0 195.9,322.3 196.0,330.0 196.1,330.0 196.1,330.0 196.2,322.3 196.3,330.0 196.4,330.0 196.5,330.0 196.5,322.3 196.6,330.0 196.7,330.0 196.8,322.3 196.9,322.3 196.9,322.3 197.0,330.0 197.1,309.1 197.2,322.3 197.3,330.0 197.3,330.0 197.4,330.0 197.5,330.0 197.6,330.0 197.7,330.0 197.7,330.0 197.8,330.0 197.9,322.3 198.0,330.0 198.1,330.0 198.1,330.0 198.2,330.0 198.3,330.0 198.4,330.0 198.5,330.0 198.5,330.0 198.6,322.3 198.7,330.0 198.8,322.3 198.9,322.3 198.9,330.0 199.0,330.0 199.1,330.0 199.2,330.0 199.3,330.0 199.3,330.0 199.4,330.0 199.5,330.0 199.6,322.3 199.7,330.0 199.7,322.3 199.8,330.0 199.9,330.0 200.0,309.1 200.0,322.3 200.1,330.0 200.2,330.0 200.3,330.0 200.4,322.3 200.4,330.0 200.5,322.3 200.6,330.0 200.7,330.0 200.8,330.0 200.8,330.0 200.9,322.3 201.0,330.0 201.1,330.0 201.2,309.1 201.2,330.0 201.3,330.0 201.4,322.3 201.5,330.0 201.6,330.0 201.6,322.3 201.7,330.0 201.8,322.3 201.9,322.3 202.0,330.0 202.0,330.0 202.1,330.0 202.2,330.0 202.3,330.0 202.4,330.0 202.4,322.3 202.5,322.3 202.6,330.0 202.7,330.0 202.8,330.0 202.8,330.0 202.9,330.0 203.0,330.0 203.1,330.0 203.2,322.3 203.2,330.0 203.3,322.3 203.4,330.0 203.5,322.3 203.6,330.0 203.6,330.0 203.7,330.0 203.8,322.3 203.9,330.0 204.0,322.3 204.0,330.0 204.1,322.3 204.2,330.0 204.3,330.0 204.4,330.0 204.4,330.0 204.5,330.0 204.6,322.3 204.7,309.1 204.8,330.0 204.8,322.3 204.9,330.0 205.0,330.0 205.1,330.0 205.1,330.0 205.2,330.0 205.3,330.0 205.4,330.0 205.5,322.3 205.5,309.1 205.6,330.0 205.7,322.3 205.8,330.0 205.9,322.3 205.9,322.3 206.0,330.0 206.1,322.3 206.2,330.0 206.3,330.0 206.3,330.0 206.4,330.0 206.5,330.0 206.6,330.0 206.7,330.0 206.7,330.0 206.8,330.0 206.9,330.0 207.0,330.0 207.1,330.0 207.1,330.0 207.2,330.0 207.3,330.0 207.4,322.3 207.5,330.0 207.5,330.0 207.6,330.0 207.7,330.0 207.8,330.0 207.9,330.0 207.9,330.0 208.0,330.0 208.1,330.0 208.2,330.0 208.3,330.0 208.3,322.3 208.4,330.0 208.5,330.0 208.6,330.0 208.7,330.0 208.7,322.3 208.8,322.3 208.9,309.1 209.0,309.1 209.1,330.0 209.1,322.3 209.2,330.0 209.3,330.0 209.4,330.0 209.5,330.0 209.5,330.0 209.6,322.3 209.7,330.0 209.8,330.0 209.9,330.0 209.9,330.0 210.0,330.0 210.1,330.0 210.2,330.0 210.2,330.0 210.3,330.0 210.4,322.3 210.5,330.0 210.6,322.3 210.6,330.0 210.7,330.0 210.8,330.0 210.9,330.0 211.0,330.0 211.0,330.0 211.1,330.0 211.2,330.0 211.3,330.0 211.4,330.0 211.4,330.0 211.5,330.0 211.6,330.0 211.7,322.3 211.8,330.0 211.8,330.0 211.9,330.0 212.0,322.3 212.1,330.0 212.2,330.0 212.2,330.0 212.3,330.0 212.4,322.3 212.5,330.0 212.6,330.0 212.6,330.0 212.7,322.3 212.8,330.0 212.9,322.3 213.0,330.0 213.0,330.0 213.1,330.0 213.2,301.4 213.3,330.0 213.4,330.0 213.4,330.0 213.5,330.0 213.6,330.0 213.7,330.0 213.8,322.3 213.8,330.0 213.9,330.0 214.0,322.3 214.1,330.0 214.2,330.0 214.2,330.0 214.3,330.0 214.4,322.3 214.5,322.3 214.6,330.0 214.6,322.3 214.7,330.0 214.8,330.0 214.9,330.0 215.0,330.0 215.0,330.0 215.1,330.0 215.2,322.3 215.3,330.0 215.3,330.0 215.4,322.3 215.5,330.0 215.6,309.1 215.7,330.0 215.7,330.0 215.8,330.0 215.9,330.0 216.0,330.0 216.1,309.1 216.1,330.0 216.2,322.3 216.3,330.0 216.4,330.0 216.5,330.0 216.5,330.0 216.6,330.0 216.7,330.0 216.8,322.3 216.9,330.0 216.9,322.3 217.0,330.0 217.1,322.3 217.2,322.3 217.3,330.0 217.3,322.3 217.4,330.0 217.5,330.0 217.6,322.3 217.7,330.0 217.7,330.0 217.8,322.3 217.9,322.3 218.0,309.1 218.1,330.0 218.1,322.3 218.2,330.0 218.3,330.0 218.4,330.0 218.5,330.0 218.5,330.0 218.6,330.0 218.7,322.3 218.8,330.0 218.9,330.0 218.9,330.0 219.0,330.0 219.1,330.0 219.2,322.3 219.3,330.0 219.3,322.3 219.4,330.0 219.5,330.0 219.6,322.3 219.7,330.0 219.7,330.0 219.8,330.0 219.9,322.3 220.0,330.0 220.1,309.1 220.1,322.3 220.2,330.0 220.3,330.0 220.4,309.1 220.4,330.0 220.5,330.0 220.6,330.0 220.7,330.0 220.8,330.0 220.8,330.0 220.9,330.0 221.0,330.0 221.1,330.0 221.2,330.0 221.2,322.3 221.3,330.0 221.4,330.0 221.5,330.0 221.6,330.0 221.6,295.9 221.7,330.0 221.8,330.0 221.9,330.0 222.0,322.3 222.0,330.0 222.1,330.0 222.2,330.0 222.3,330.0 222.4,330.0 222.4,330.0 222.5,330.0 222.6,330.0 222.7,330.0 222.8,330.0 222.8,330.0 222.9,330.0 223.0,330.0 223.1,330.0 223.2,322.3 223.2,330.0 223.3,330.0 223.4,322.3 223.5,330.0 223.6,330.0 223.6,330.0 223.7,330.0 223.8,330.0 223.9,322.3 224.0,330.0 224.0,330.0 224.1,330.0 224.2,330.0 224.3,330.0 224.4,330.0 224.4,330.0 224.5,330.0 224.6,330.0 224.7,330.0 224.8,322.3 224.8,322.3 224.9,330.0 225.0,322.3 225.1,330.0 225.2,330.0 225.2,322.3 225.3,330.0 225.4,322.3 225.5,330.0 225.5,330.0 225.6,330.0 225.7,322.3 225.8,322.3 225.9,330.0 225.9,330.0 226.0,322.3 226.1,330.0 226.2,330.0 226.3,330.0 226.3,330.0 226.4,330.0 226.5,330.0 226.6,322.3 226.7,330.0 226.7,330.0 226.8,322.3 226.9,322.3 227.0,330.0 227.1,330.0 227.1,330.0 227.2,330.0 227.3,330.0 227.4,330.0 227.5,330.0 227.5,330.0 227.6,309.1 227.7,330.0 227.8,330.0 227.9,330.0 227.9,330.0 228.0,330.0 228.1,330.0 228.2,330.0 228.3,330.0 228.3,330.0 228.4,330.0 228.5,330.0 228.6,330.0 228.7,330.0 228.7,330.0 228.8,322.3 228.9,322.3 229.0,330.0 229.1,330.0 229.1,330.0 229.2,330.0 229.3,330.0 229.4,330.0 229.5,330.0 229.5,330.0 229.6,322.3 229.7,330.0 229.8,330.0 229.9,322.3 229.9,330.0 230.0,330.0 230.1,322.3 230.2,330.0 230.3,322.3 230.3,322.3 230.4,322.3 230.5,322.3 230.6,330.0 230.6,322.3 230.7,309.1 230.8,309.1 230.9,330.0 231.0,330.0 231.0,330.0 231.1,330.0 231.2,330.0 231.3,330.0 231.4,330.0 231.4,330.0 231.5,330.0 231.6,330.0 231.7,330.0 231.8,330.0 231.8,330.0 231.9,330.0 232.0,322.3 232.1,330.0 232.2,322.3 232.2,330.0 232.3,330.0 232.4,330.0 232.5,330.0 232.6,322.3 232.6,330.0 232.7,330.0 232.8,330.0 232.9,322.3 233.0,330.0 233.0,330.0 233.1,330.0 233.2,330.0 233.3,330.0 233.4,330.0 233.4,330.0 233.5,330.0 233.6,330.0 233.7,330.0 233.8,330.0 233.8,330.0 233.9,330.0 234.0,330.0 234.1,330.0 234.2,330.0 234.2,322.3 234.3,330.0 234.4,322.3 234.5,330.0 234.6,330.0 234.6,330.0 234.7,330.0 234.8,330.0 234.9,322.3 235.0,322.3 235.0,322.3 235.1,322.3 235.2,322.3 235.3,330.0 235.4,322.3 235.4,330.0 235.5,330.0 235.6,322.3 235.7,330.0 235.8,330.0 235.8,330.0 235.9,330.0 236.0,330.0 236.1,330.0 236.1,330.0 236.2,330.0 236.3,330.0 236.4,330.0 236.5,330.0 236.5,330.0 236.6,330.0 236.7,330.0 236.8,330.0 236.9,330.0 236.9,330.0 237.0,330.0 237.1,330.0 237.2,330.0 237.3,309.1 237.3,322.3 237.4,330.0 237.5,330.0 237.6,330.0 237.7,330.0 237.7,330.0 237.8,322.3 237.9,330.0 238.0,330.0 238.1,330.0 238.1,330.0 238.2,330.0 238.3,330.0 238.4,330.0 238.5,330.0 238.5,330.0 238.6,330.0 238.7,330.0 238.8,322.3 238.9,330.0 238.9,330.0 239.0,330.0 239.1,330.0 239.2,330.0 239.3,330.0 239.3,322.3 239.4,322.3 239.5,330.0 239.6,330.0 239.7,330.0 239.7,322.3 239.8,330.0 239.9,330.0 240.0,330.0 240.1,330.0 240.1,330.0 240.2,330.0 240.3,330.0 240.4,330.0 240.5,330.0 240.5,322.3 240.6,330.0 240.7,322.3 240.8,322.3 240.8,330.0 240.9,330.0 241.0,330.0 241.1,330.0 241.2,330.0 241.2,330.0 241.3,330.0 241.4,330.0 241.5,330.0 241.6,330.0 241.6,330.0 241.7,330.0 241.8,322.3 241.9,309.1 242.0,330.0 242.0,330.0 242.1,322.3 242.2,330.0 242.3,330.0 242.4,330.0 242.4,330.0 242.5,330.0 242.6,330.0 242.7,330.0 242.8,330.0 242.8,330.0 242.9,322.3 243.0,330.0 243.1,330.0 243.2,322.3 243.2,322.3 243.3,330.0 243.4,330.0 243.5,330.0 243.6,330.0 243.6,322.3 243.7,309.1 243.8,330.0 243.9,322.3 244.0,330.0 244.0,322.3 244.1,330.0 244.2,330.0 244.3,330.0 244.4,330.0 244.4,330.0 244.5,330.0 244.6,330.0 244.7,330.0 244.8,330.0 244.8,330.0 244.9,322.3 245.0,301.4 245.1,330.0 245.2,309.1 245.2,322.3 245.3,330.0 245.4,330.0 245.5,330.0 245.6,330.0 245.6,330.0 245.7,330.0 245.8,330.0 245.9,309.1 245.9,330.0 246.0,330.0 246.1,330.0 246.2,330.0 246.3,330.0 246.3,330.0 246.4,330.0 246.5,330.0 246.6,330.0 246.7,330.0 246.7,330.0 246.8,330.0 246.9,330.0 247.0,330.0 247.1,330.0 247.1,309.1 247.2,330.0 247.3,309.1 247.4,330.0 247.5,330.0 247.5,330.0 247.6,330.0 247.7,330.0 247.8,330.0 247.9,330.0 247.9,322.3 248.0,322.3 248.1,322.3 248.2,330.0 248.3,330.0 248.3,322.3 248.4,330.0 248.5,330.0 248.6,330.0 248.7,330.0 248.7,330.0 248.8,330.0 248.9,330.0 249.0,322.3 249.1,330.0 249.1,330.0 249.2,330.0 249.3,322.3 249.4,322.3 249.5,330.0 249.5,322.3 249.6,330.0 249.7,330.0 249.8,330.0 249.9,330.0 249.9,322.3 250.0,330.0 250.1,330.0 250.2,330.0 250.3,309.1 250.3,309.1 250.4,322.3 250.5,322.3 250.6,330.0 250.7,330.0 250.7,322.3 250.8,322.3 250.9,330.0 251.0,322.3 251.0,330.0 251.1,330.0 251.2,330.0 251.3,330.0 251.4,330.0 251.4,330.0 251.5,330.0 251.6,322.3 251.7,330.0 251.8,330.0 251.8,330.0 251.9,330.0 252.0,330.0 252.1,330.0 252.2,330.0 252.2,330.0 252.3,330.0 252.4,330.0 252.5,330.0 252.6,330.0 252.6,330.0 252.7,330.0 252.8,330.0 252.9,330.0 253.0,322.3 253.0,330.0 253.1,322.3 253.2,309.1 253.3,330.0 253.4,330.0 253.4,330.0 253.5,322.3 253.6,330.0 253.7,330.0 253.8,322.3 253.8,330.0 253.9,330.0 254.0,330.0 254.1,330.0 254.2,322.3 254.2,330.0 254.3,330.0 254.4,330.0 254.5,330.0 254.6,330.0 254.6,330.0 254.7,330.0 254.8,330.0 254.9,330.0 255.0,330.0 255.0,330.0 255.1,330.0 255.2,330.0 255.3,330.0 255.4,322.3 255.4,301.4 255.5,330.0 255.6,330.0 255.7,330.0 255.8,330.0 255.8,322.3 255.9,330.0 256.0,330.0 256.1,330.0 256.1,322.3 256.2,330.0 256.3,322.3 256.4,322.3 256.5,330.0 256.5,330.0 256.6,330.0 256.7,330.0 256.8,330.0 256.9,322.3 256.9,330.0 257.0,330.0 257.1,330.0 257.2,322.3 257.3,330.0 257.3,330.0 257.4,330.0 257.5,322.3 257.6,330.0 257.7,330.0 257.7,330.0 257.8,322.3 257.9,322.3 258.0,330.0 258.1,330.0 258.1,330.0 258.2,330.0 258.3,322.3 258.4,330.0 258.5,330.0 258.5,330.0 258.6,330.0 258.7,330.0 258.8,330.0 258.9,330.0 258.9,330.0 259.0,322.3 259.1,330.0 259.2,330.0 259.3,330.0 259.3,322.3 259.4,322.3 259.5,330.0 259.6,330.0 259.7,330.0 259.7,330.0 259.8,330.0 259.9,322.3 260.0,330.0 260.1,330.0 260.1,322.3 260.2,330.0 260.3,330.0 260.4,322.3 260.5,322.3 260.5,330.0 260.6,322.3 260.7,330.0 260.8,330.0 260.9,330.0 260.9,330.0 261.0,322.3 261.1,330.0 261.2,330.0 261.2,330.0 261.3,330.0 261.4,322.3 261.5,330.0 261.6,322.3 261.6,322.3 261.7,330.0 261.8,330.0 261.9,322.3 262.0,330.0 262.0,322.3 262.1,322.3 262.2,322.3 262.3,330.0 262.4,330.0 262.4,330.0 262.5,330.0 262.6,322.3 262.7,330.0 262.8,330.0 262.8,330.0 262.9,330.0 263.0,330.0 263.1,330.0 263.2,322.3 263.2,330.0 263.3,330.0 263.4,330.0 263.5,330.0 263.6,330.0 263.6,330.0 263.7,330.0 263.8,330.0 263.9,330.0 264.0,330.0 264.0,322.3 264.1,330.0 264.2,330.0 264.3,330.0 264.4,330.0 264.4,330.0 264.5,322.3 264.6,330.0 264.7,330.0 264.8,330.0 264.8,330.0 264.9,309.1 265.0,330.0 265.1,322.3 265.2,330.0 265.2,330.0 265.3,330.0 265.4,330.0 265.5,330.0 265.6,322.3 265.6,330.0 265.7,322.3 265.8,322.3 265.9,322.3 266.0,322.3 266.0,330.0 266.1,330.0 266.2,330.0 266.3,330.0 266.4,330.0 266.4,330.0 266.5,330.0 266.6,330.0 266.7,330.0 266.7,330.0 266.8,330.0 266.9,330.0 267.0,330.0 267.1,330.0 267.1,330.0 267.2,322.3 267.3,330.0 267.4,330.0 267.5,322.3 267.5,330.0 267.6,330.0 267.7,322.3 267.8,330.0 267.9,330.0 267.9,330.0 268.0,330.0 268.1,330.0 268.2,330.0 268.3,330.0 268.3,330.0 268.4,330.0 268.5,330.0 268.6,330.0 268.7,330.0 268.7,330.0 268.8,330.0 268.9,330.0 269.0,322.3 269.1,330.0 269.1,322.3 269.2,330.0 269.3,330.0 269.4,330.0 269.5,322.3 269.5,330.0 269.6,330.0 269.7,322.3 269.8,309.1 269.9,322.3 269.9,330.0 270.0,322.3 270.1,330.0 270.2,330.0 270.3,330.0 270.3,330.0 270.4,330.0 270.5,322.3 270.6,330.0 270.7,322.3 270.7,322.3 270.8,330.0 270.9,322.3 271.0,330.0 271.1,330.0 271.1,330.0 271.2,322.3 271.3,322.3 271.4,330.0 271.4,330.0 271.5,330.0 271.6,330.0 271.7,330.0 271.8,330.0 271.8,330.0 271.9,330.0 272.0,322.3 272.1,330.0 272.2,330.0 272.2,330.0 272.3,330.0 272.4,330.0 272.5,330.0 272.6,330.0 272.6,322.3 272.7,322.3 272.8,322.3 272.9,322.3 273.0,322.3 273.0,330.0 273.1,330.0 273.2,322.3 273.3,322.3 273.4,322.3 273.4,330.0 273.5,330.0 273.6,330.0 273.7,322.3 273.8,330.0 273.8,309.1 273.9,322.3 274.0,330.0 274.1,322.3 274.2,330.0 274.2,330.0 274.3,330.0 274.4,330.0 274.5,309.1 274.6,330.0 274.6,330.0 274.7,330.0 274.8,322.3 274.9,330.0 275.0,330.0 275.0,330.0 275.1,322.3 275.2,330.0 275.3,330.0 275.4,322.3 275.4,330.0 275.5,330.0 275.6,322.3 275.7,330.0 275.8,322.3 275.8,330.0 275.9,322.3 276.0,330.0 276.1,330.0 276.2,330.0 276.2,330.0 276.3,322.3 276.4,330.0 276.5,330.0 276.5,330.0 276.6,322.3 276.7,330.0 276.8,330.0 276.9,330.0 276.9,330.0 277.0,330.0 277.1,330.0 277.2,330.0 277.3,330.0 277.3,330.0 277.4,330.0 277.5,330.0 277.6,330.0 277.7,330.0 277.7,330.0 277.8,330.0 277.9,330.0 278.0,322.3 278.1,330.0 278.1,330.0 278.2,330.0 278.3,322.3 278.4,309.1 278.5,322.3 278.5,322.3 278.6,330.0 278.7,330.0 278.8,330.0 278.9,322.3 278.9,322.3 279.0,330.0 279.1,330.0 279.2,330.0 279.3,330.0 279.3,330.0 279.4,330.0 279.5,322.3 279.6,330.0 279.7,330.0 279.7,322.3 279.8,330.0 279.9,330.0 280.0,330.0 280.1,330.0 280.1,330.0 280.2,330.0 280.3,330.0 280.4,330.0 280.5,330.0 280.5,322.3 280.6,330.0 280.7,330.0 280.8,322.3 280.9,330.0 280.9,330.0 281.0,330.0 281.1,322.3 281.2,330.0 281.3,322.3 281.3,330.0 281.4,330.0 281.5,330.0 281.6,330.0 281.6,330.0 281.7,330.0 281.8,322.3 281.9,330.0 282.0,309.1 282.0,330.0 282.1,330.0 282.2,322.3 282.3,330.0 282.4,330.0 282.4,330.0 282.5,330.0 282.6,330.0 282.7,330.0 282.8,330.0 282.8,330.0 282.9,330.0 283.0,330.0 283.1,330.0 283.2,330.0 283.2,330.0 283.3,330.0 283.4,330.0 283.5,330.0 283.6,330.0 283.6,330.0 283.7,330.0 283.8,330.0 283.9,330.0 284.0,330.0 284.0,330.0 284.1,330.0 284.2,330.0 284.3,330.0 284.4,330.0 284.4,330.0 284.5,330.0 284.6,322.3 284.7,322.3 284.8,330.0 284.8,322.3 284.9,330.0 285.0,330.0 285.1,330.0 285.2,330.0 285.2,322.3 285.3,322.3 285.4,330.0 285.5,330.0 285.6,322.3 285.6,330.0 285.7,322.3 285.8,330.0 285.9,330.0 286.0,330.0 286.0,330.0 286.1,309.1 286.2,322.3 286.3,330.0 286.4,330.0 286.4,330.0 286.5,322.3 286.6,322.3 286.7,330.0 286.8,330.0 286.8,322.3 286.9,322.3 287.0,330.0 287.1,330.0 287.1,330.0 287.2,330.0 287.3,330.0 287.4,322.3 287.5,330.0 287.5,322.3 287.6,322.3 287.7,322.3 287.8,330.0 287.9,330.0 287.9,322.3 288.0,330.0 288.1,330.0 288.2,330.0 288.3,330.0 288.3,322.3 288.4,330.0 288.5,330.0 288.6,330.0 288.7,330.0 288.7,330.0 288.8,330.0 288.9,330.0 289.0,330.0 289.1,330.0 289.1,322.3 289.2,330.0 289.3,330.0 289.4,330.0 289.5,330.0 289.5,330.0 289.6,330.0 289.7,322.3 289.8,330.0 289.9,330.0 289.9,322.3 290.0,330.0 290.1,330.0 290.2,330.0 290.3,330.0 290.3,330.0 290.4,330.0 290.5,330.0 290.6,330.0 290.7,330.0 290.7,330.0 290.8,301.4 290.9,330.0 291.0,330.0 291.1,330.0 291.1,330.0 291.2,330.0 291.3,330.0 291.4,330.0 291.5,330.0 291.5,330.0 291.6,330.0 291.7,322.3 291.8,330.0 291.9,330.0 291.9,322.3 292.0,322.3 292.1,330.0 292.2,322.3 292.2,330.0 292.3,330.0 292.4,330.0 292.5,330.0 292.6,330.0 292.6,330.0 292.7,330.0 292.8,330.0 292.9,330.0 293.0,322.3 293.0,330.0 293.1,330.0 293.2,330.0 293.3,330.0 293.4,330.0 293.4,330.0 293.5,330.0 293.6,330.0 293.7,330.0 293.8,322.3 293.8,330.0 293.9,322.3 294.0,330.0 294.1,330.0 294.2,330.0 294.2,330.0 294.3,330.0 294.4,330.0 294.5,330.0 294.6,322.3 294.6,330.0 294.7,330.0 294.8,322.3 294.9,322.3 295.0,330.0 295.0,330.0 295.1,322.3 295.2,330.0 295.3,330.0 295.4,330.0 295.4,330.0 295.5,322.3 295.6,322.3 295.7,322.3 295.8,330.0 295.8,330.0 295.9,301.4 296.0,330.0 296.1,330.0 296.2,330.0 296.2,330.0 296.3,330.0 296.4,330.0 296.5,330.0 296.6,322.3 296.6,330.0 296.7,322.3 296.8,330.0 296.9,330.0 296.9,330.0 297.0,322.3 297.1,322.3 297.2,322.3 297.3,330.0 297.3,330.0 297.4,322.3 297.5,330.0 297.6,309.1 297.7,330.0 297.7,330.0 297.8,330.0 297.9,330.0 298.0,330.0 298.1,330.0 298.1,330.0 298.2,330.0 298.3,322.3 298.4,330.0 298.5,330.0 298.5,330.0 298.6,322.3 298.7,322.3 298.8,330.0 298.9,330.0 298.9,322.3 299.0,330.0 299.1,330.0 299.2,330.0 299.3,322.3 299.3,330.0 299.4,330.0 299.5,330.0" stroke="#1e9e6c" stroke-width="0.75" opacity="1.00"/>
<path d="M44.5,264.5 44.6,256.0 44.7,252.8 44.7,241.5 44.8,235.0 44.9,232.3 45.0,228.6 45.1,226.3 45.1,222.6 45.2,221.6 45.3,217.8 45.4,217.4 45.5,216.1 45.5,214.0 45.6,213.7 45.7,212.3 45.8,210.2 45.9,208.8 45.9,208.2 46.0,207.8 46.1,205.9 46.2,205.2 46.3,205.2 46.3,204.0 46.4,202.9 46.5,202.9 46.6,202.1 46.7,202.3 46.7,200.7 46.8,199.6 46.9,199.3 47.0,199.3 47.0,198.4 47.1,199.6 47.2,198.8 47.3,197.9 47.4,197.7 47.4,196.6 47.5,196.6 47.6,195.5 47.7,195.1 47.8,194.9 47.8,194.4 47.9,194.2 48.0,193.9 48.1,193.6 48.2,192.9 48.2,193.3 48.3,192.7 48.4,191.6 48.5,192.2 48.6,191.7 48.6,191.4 48.7,191.1 48.8,190.6 48.9,190.2 49.0,190.4 49.0,190.4 49.1,190.1 49.2,189.5 49.3,189.5 49.4,188.9 49.4,189.4 49.5,188.8 49.6,188.7 49.7,187.5 49.8,188.6 49.8,188.1 49.9,187.6 50.0,188.0 50.1,187.1 50.2,187.1 50.2,187.8 50.3,187.2 50.4,185.8 50.5,186.5 50.6,186.6 50.6,186.2 50.7,185.7 50.8,185.9 50.9,185.6 51.0,185.4 51.0,185.4 51.1,185.1 51.2,184.7 51.3,184.8 51.4,184.2 51.4,184.5 51.5,184.3 51.6,184.1 51.7,183.8 51.8,183.6 51.8,183.8 51.9,183.9 52.0,184.3 52.1,184.0 52.1,182.9 52.2,183.5 52.3,183.0 52.4,183.1 52.5,182.7 52.5,182.5 52.6,182.8 52.7,182.9 52.8,182.9 52.9,182.8 52.9,181.8 53.0,182.7 53.1,181.6 53.2,182.1 53.3,181.7 53.3,181.7 53.4,181.9 53.5,181.6 53.6,181.6 53.7,181.5 53.7,181.7 53.8,181.5 53.9,181.1 54.0,180.8 54.1,180.6 54.1,180.6 54.2,180.4 54.3,180.7 54.4,181.1 54.5,180.1 54.5,180.7 54.6,180.9 54.7,179.6 54.8,180.5 54.9,179.9 54.9,180.9 55.0,179.7 55.1,179.9 55.2,179.9 55.3,179.9 55.3,179.4 55.4,180.6 55.5,179.9 55.6,179.7 55.7,180.1 55.7,179.7 55.8,179.3 55.9,179.1 56.0,179.5 56.1,179.4 56.1,179.5 56.2,180.0 56.3,179.3 56.4,178.9 56.5,178.5 56.5,179.2 56.6,179.4 56.7,178.8 56.8,179.0 56.9,179.3 56.9,178.5 57.0,178.7 57.1,178.4 57.2,178.6 57.2,178.7 57.3,178.8 57.4,177.9 57.5,178.0 57.6,177.9 57.6,178.6 57.7,178.4 57.8,178.7 57.9,177.5 58.0,178.2 58.0,177.7 58.1,177.9 58.2,178.0 58.3,177.9 58.4,178.5 58.4,177.6 58.5,177.6 58.6,177.9 58.7,177.9 58.8,177.4 58.8,177.9 58.9,177.7 59.0,177.9 59.1,177.6 59.2,177.7 59.2,177.3 59.3,177.7 59.4,178.0 59.5,178.0 59.6,177.1 59.6,177.3 59.7,177.6 59.8,177.6 59.9,177.4 60.0,177.4 60.0,177.0 60.1,177.1 60.2,177.0 60.3,177.0 60.4,176.4 60.4,177.1 60.5,178.1 60.6,178.7 60.7,180.4 60.8,180.7 60.8,181.4 60.9,183.0 61.0,184.5 61.1,184.6 61.2,185.5 61.2,186.8 61.3,187.6 61.4,187.7 61.5,189.0 61.6,189.4 61.6,190.1 61.7,190.9 61.8,191.0 61.9,191.8 62.0,193.0 62.0,194.0 62.1,193.8 62.2,194.6 62.3,195.1 62.3,195.0 62.4,196.8 62.5,198.0 62.6,198.3 62.7,198.6 62.7,199.3 62.8,200.3 62.9,200.8 63.0,200.3 63.1,201.3 63.1,202.8 63.2,202.1 63.3,202.1 63.4,205.1 63.5,204.9 63.5,204.5 63.6,205.6 63.7,206.1 63.8,206.6 63.9,207.2 63.9,209.2 64.0,207.8 64.1,209.4 64.2,209.6 64.3,210.1 64.3,211.4 64.4,211.5 64.5,211.6 64.6,211.2 64.7,213.7 64.7,211.7 64.8,212.4 64.9,213.6 65.0,215.6 65.1,213.9 65.1,214.6 65.2,216.0 65.3,216.8 65.4,215.8 65.5,216.4 65.5,216.6 65.6,217.5 65.7,217.1 65.8,217.0 65.9,218.8 65.9,217.3 66.0,219.1 66.1,217.7 66.2,220.5 66.3,220.9 66.3,220.1 66.4,218.5 66.5,220.7 66.6,221.0 66.7,220.4 66.7,222.5 66.8,220.0 66.9,222.8 67.0,222.6 67.1,223.0 67.1,222.1 67.2,222.5 67.3,222.9 67.4,223.7 67.5,222.9 67.5,223.7 67.6,223.0 67.7,225.5 67.8,222.8 67.8,224.0 67.9,223.6 68.0,225.4 68.1,226.0 68.2,225.7 68.2,225.1 68.3,225.6 68.4,227.1 68.5,226.8 68.6,225.2 68.6,223.9 68.7,225.8 68.8,224.2 68.9,225.2 69.0,228.2 69.0,229.1 69.1,227.8 69.2,227.5 69.3,227.0 69.4,226.4 69.4,228.9 69.5,226.6 69.6,230.0 69.7,229.8 69.8,228.9 69.8,230.7 69.9,228.9 70.0,229.1 70.1,230.9 70.2,229.9 70.2,232.9 70.3,228.8 70.4,228.6 70.5,230.4 70.6,231.6 70.6,230.6 70.7,230.4 70.8,230.9 70.9,231.9 71.0,231.9 71.0,232.4 71.1,230.8 71.2,230.6 71.3,228.2 71.4,230.6 71.4,230.5 71.5,232.7 71.6,234.4 71.7,233.2 71.8,233.4 71.8,233.2 71.9,232.8 72.0,232.8 72.1,234.4 72.2,232.1 72.2,234.0 72.3,230.6 72.4,231.5 72.5,231.2 72.5,232.4 72.6,235.4 72.7,234.4 72.8,232.2 72.9,234.7 72.9,236.2 73.0,232.6 73.1,233.5 73.2,233.7 73.3,234.5 73.3,233.5 73.4,234.2 73.5,235.2 73.6,236.2 73.7,234.6 73.7,234.1 73.8,235.1 73.9,237.3 74.0,236.1 74.1,237.5 74.1,238.0 74.2,237.2 74.3,237.1 74.4,236.0 74.5,236.7 74.5,237.4 74.6,234.4 74.7,236.5 74.8,237.3 74.9,239.4 74.9,237.9 75.0,235.5 75.1,237.9 75.2,237.5 75.3,240.3 75.3,237.7 75.4,235.7 75.5,238.6 75.6,239.4 75.7,239.1 75.7,238.8 75.8,237.9 75.9,238.7 76.0,243.5 76.1,241.3 76.1,237.2 76.2,240.6 76.3,240.6 76.4,238.4 76.5,241.1 76.5,239.5 76.6,236.8 76.7,237.2 76.8,244.9 76.9,238.4 76.9,239.9 77.0,241.8 77.1,240.6 77.2,240.4 77.3,238.5 77.3,240.1 77.4,241.0 77.5,239.4 77.6,240.4 77.7,239.1 77.7,240.6 77.8,242.6 77.9,246.0 78.0,242.1 78.0,243.2 78.1,243.3 78.2,238.8 78.3,241.5 78.4,243.8 78.4,240.0 78.5,243.3 78.6,239.7 78.7,240.9 78.8,245.9 78.8,242.9 78.9,241.9 79.0,239.7 79.1,243.1 79.2,243.8 79.2,240.0 79.3,241.8 79.4,243.3 79.5,246.5 79.6,243.2 79.6,246.8 79.7,245.6 79.8,247.1 79.9,240.9 80.0,243.2 80.0,245.9 80.1,244.8 80.2,245.0 80.3,243.7 80.4,250.3 80.4,242.6 80.5,244.7 80.6,240.7 80.7,241.5 80.8,246.9 80.8,244.9 80.9,246.5 81.0,242.3 81.1,244.4 81.2,245.5 81.2,248.2 81.3,246.2 81.4,247.3 81.5,245.6 81.6,249.7 81.6,246.9 81.7,243.7 81.8,245.7 81.9,246.2 82.0,242.9 82.0,248.1 82.1,242.4 82.2,244.6 82.3,245.9 82.4,244.4 82.4,246.2 82.5,246.9 82.6,249.4 82.7,243.5 82.8,244.0 82.8,248.8 82.9,248.0 83.0,247.9 83.1,252.8 83.1,248.0 83.2,249.6 83.3,246.3 83.4,249.0 83.5,246.7 83.5,250.3 83.6,252.1 83.7,249.3 83.8,248.0 83.9,249.9 83.9,249.9 84.0,250.4 84.1,249.1 84.2,250.2 84.3,252.7 84.3,249.5 84.4,250.4 84.5,249.4 84.6,246.8 84.7,250.5 84.7,245.5 84.8,250.9 84.9,251.8 85.0,251.4 85.1,253.3 85.1,249.2 85.2,249.2 85.3,249.5 85.4,250.8 85.5,248.0 85.5,252.8 85.6,246.1 85.7,249.6 85.8,248.8 85.9,256.8 85.9,253.2 86.0,249.0 86.1,249.5 86.2,252.5 86.3,249.3 86.3,251.8 86.4,254.9 86.5,252.0 86.6,248.5 86.7,252.4 86.7,250.5 86.8,247.5 86.9,256.1 87.0,251.6 87.1,252.3 87.1,254.3 87.2,257.3 87.3,251.3 87.4,249.7 87.5,250.6 87.5,254.6 87.6,257.1 87.7,252.4 87.8,251.3 87.8,253.0 87.9,253.6 88.0,254.6 88.1,254.6 88.2,256.0 88.2,253.7 88.3,251.7 88.4,257.2 88.5,256.0 88.6,255.1 88.6,256.8 88.7,256.7 88.8,254.8 88.9,252.7 89.0,258.5 89.0,253.6 89.1,254.7 89.2,251.8 89.3,255.0 89.4,256.5 89.4,260.1 89.5,252.4 89.6,253.1 89.7,251.2 89.8,259.5 89.8,260.4 89.9,260.2 90.0,255.9 90.1,251.8 90.2,258.4 90.2,260.8 90.3,254.4 90.4,258.6 90.5,262.2 90.6,256.5 90.6,258.0 90.7,254.1 90.8,254.2 90.9,255.7 91.0,254.4 91.0,254.4 91.1,249.0 91.2,256.4 91.3,259.1 91.4,255.5 91.4,258.0 91.5,255.0 91.6,257.4 91.7,255.4 91.8,259.6 91.8,258.9 91.9,256.6 92.0,257.4 92.1,267.4 92.2,262.2 92.2,256.4 92.3,258.1 92.4,257.7 92.5,259.9 92.6,265.8 92.6,258.2 92.7,257.6 92.8,263.8 92.9,260.4 92.9,259.6 93.0,267.5 93.1,264.4 93.2,264.3 93.3,254.7 93.3,254.4 93.4,257.4 93.5,256.2 93.6,269.0 93.7,263.6 93.7,269.7 93.8,261.3 93.9,260.2 94.0,261.1 94.1,267.1 94.1,267.0 94.2,265.0 94.3,256.0 94.4,266.1 94.5,261.3 94.5,262.5 94.6,264.0 94.7,259.8 94.8,259.0 94.9,257.9 94.9,265.4 95.0,264.4 95.1,258.4 95.2,260.2 95.3,272.9 95.3,263.2 95.4,260.4 95.5,263.2 95.6,271.9 95.7,260.6 95.7,265.5 95.8,264.3 95.9,261.2 96.0,262.3 96.1,263.3 96.1,268.9 96.2,263.1 96.3,259.8 96.4,272.6 96.5,262.3 96.5,264.4 96.6,264.8 96.7,269.7 96.8,261.4 96.9,260.7 96.9,265.2 97.0,264.0 97.1,276.0 97.2,271.3 97.3,263.4 97.3,263.1 97.4,263.1 97.5,260.6 97.6,262.1 97.7,264.5 97.7,265.9 97.8,267.3 97.9,270.0 98.0,271.8 98.0,265.5 98.1,266.5 98.2,262.7 98.3,269.0 98.4,271.6 98.4,260.5 98.5,265.4 98.6,263.7 98.7,270.7 98.8,266.1 98.8,269.5 98.9,267.9 99.0,260.8 99.1,272.7 99.2,270.4 99.2,270.2 99.3,267.5 99.4,269.6 99.5,268.4 99.6,268.4 99.6,265.2 99.7,271.3 99.8,263.6 99.9,270.1 100.0,265.9 100.0,259.3 100.1,271.2 100.2,271.9 100.3,271.9 100.4,271.0 100.4,271.1 100.5,268.8 100.6,272.0 100.7,266.1 100.8,273.1 100.8,274.5 100.9,267.0 101.0,278.2 101.1,266.9 101.2,266.0 101.2,270.1 101.3,268.1 101.4,275.1 101.5,267.2 101.6,283.6 101.6,269.6 101.7,288.2 101.8,279.9 101.9,262.7 102.0,277.8 102.0,269.6 102.1,273.4 102.2,272.5 102.3,270.0 102.4,272.0 102.4,272.7 102.5,276.3 102.6,279.2 102.7,269.1 102.8,273.2 102.8,276.1 102.9,275.7 103.0,274.3 103.1,268.8 103.2,269.9 103.2,279.2 103.3,279.0 103.4,273.0 103.5,271.6 103.5,282.6 103.6,280.9 103.7,275.7 103.8,268.3 103.9,276.7 103.9,275.4 104.0,265.4 104.1,272.6 104.2,271.7 104.3,278.8 104.3,271.2 104.4,278.4 104.5,275.4 104.6,271.9 104.7,272.3 104.7,278.3 104.8,274.0 104.9,279.9 105.0,272.2 105.1,272.1 105.1,284.4 105.2,289.6 105.3,281.7 105.4,275.9 105.5,270.8 105.5,279.5 105.6,275.6 105.7,274.6 105.8,274.6 105.9,270.8 105.9,268.4 106.0,289.4 106.1,283.5 106.2,266.0 106.3,280.8 106.3,274.0 106.4,286.1 106.5,274.0 106.6,273.3 106.7,283.4 106.7,283.0 106.8,281.4 106.9,279.1 107.0,283.3 107.1,262.1 107.1,278.4 107.2,277.2 107.3,278.7 107.4,288.6 107.5,279.0 107.5,273.7 107.6,280.4 107.7,272.3 107.8,282.7 107.9,280.5 107.9,276.6 108.0,282.8 108.1,276.6 108.2,270.7 108.2,274.9 108.3,282.7 108.4,280.4 108.5,282.7 108.6,288.3 108.6,278.7 108.7,274.9 108.8,274.9 108.9,278.4 109.0,278.4 109.0,288.1 109.1,272.0 109.2,288.1 109.3,282.7 109.4,282.7 109.4,280.4 109.5,282.7 109.6,285.2 109.7,288.1 109.8,276.6 109.8,280.4 109.9,282.7 110.0,276.6 110.1,291.6 110.2,282.7 110.2,288.1 110.3,291.6 110.4,295.9 110.5,280.4 110.6,288.1 110.6,288.1 110.7,272.0 110.8,278.4 110.9,278.4 111.0,288.1 111.0,276.6 111.1,291.6 111.2,278.4 111.3,291.6 111.4,276.6 111.4,280.4 111.5,280.4 111.6,288.1 111.7,274.9 111.8,282.7 111.8,285.2 111.9,285.2 112.0,272.0 112.1,282.7 112.2,291.6 112.2,276.6 112.3,272.0 112.4,273.4 112.5,274.9 112.6,280.4 112.6,301.4 112.7,288.1 112.8,282.7 112.9,288.1 113.0,273.4 113.0,282.7 113.1,288.1 113.2,282.7 113.3,274.9 113.3,285.2 113.4,301.4 113.5,278.4 113.6,288.1 113.7,278.4 113.7,295.9 113.8,282.7 113.9,288.1 114.0,291.6 114.1,291.6 114.1,291.6 114.2,276.6 114.3,288.1 114.4,280.4 114.5,322.3 114.5,295.9 114.6,291.6 114.7,285.2 114.8,280.4 114.9,276.6 114.9,282.7 115.0,285.2 115.1,295.9 115.2,280.4 115.3,309.1 115.3,282.7 115.4,291.6 115.5,276.6 115.6,295.9 115.7,301.4 115.7,272.0 115.8,291.6 115.9,288.1 116.0,282.7 116.1,285.2 116.1,285.2 116.2,285.2 116.3,273.4 116.4,288.1 116.5,280.4 116.5,291.6 116.6,291.6 116.7,309.1 116.8,295.9 116.9,291.6 116.9,280.4 117.0,295.9 117.1,309.1 117.2,288.1 117.3,295.9 117.3,322.3 117.4,285.2 117.5,291.6 117.6,288.1 117.7,285.2 117.7,288.1 117.8,301.4 117.9,282.7 118.0,282.7 118.1,295.9 118.1,282.7 118.2,280.4 118.3,288.1 118.4,291.6 118.4,309.1 118.5,285.2 118.6,295.9 118.7,295.9 118.8,301.4 118.8,285.2 118.9,295.9 119.0,282.7 119.1,288.1 119.2,295.9 119.2,285.2 119.3,282.7 119.4,291.6 119.5,288.1 119.6,270.7 119.6,295.9 119.7,288.1 119.8,301.4 119.9,285.2 120.0,301.4 120.0,309.1 120.1,309.1 120.2,301.4 120.3,291.6 120.4,288.1 120.4,295.9 120.5,285.2 120.6,288.1 120.7,301.4 120.8,285.2 120.8,278.4 120.9,285.2 121.0,301.4 121.1,330.0 121.2,301.4 121.2,309.1 121.3,291.6 121.4,291.6 121.5,301.4 121.6,295.9 121.6,291.6 121.7,322.3 121.8,301.4 121.9,288.1 122.0,301.4 122.0,282.7 122.1,295.9 122.2,309.1 122.3,295.9 122.4,280.4 122.4,285.2 122.5,291.6 122.6,330.0 122.7,288.1 122.8,301.4 122.8,301.4 122.9,309.1 123.0,295.9 123.1,288.1 123.2,288.1 123.2,322.3 123.3,322.3 123.4,288.1 123.5,291.6 123.5,280.4 123.6,309.1 123.7,295.9 123.8,322.3 123.9,301.4 123.9,282.7 124.0,291.6 124.1,309.1 124.2,295.9 124.3,295.9 124.3,295.9 124.4,330.0 124.5,295.9 124.6,288.1 124.7,291.6 124.7,285.2 124.8,301.4 124.9,295.9 125.0,309.1 125.1,291.6 125.1,291.6 125.2,309.1 125.3,301.4 125.4,301.4 125.5,309.1 125.5,295.9 125.6,301.4 125.7,309.1 125.8,309.1 125.9,309.1 125.9,301.4 126.0,291.6 126.1,295.9 126.2,301.4 126.3,322.3 126.3,288.1 126.4,295.9 126.5,309.1 126.6,309.1 126.7,309.1 126.7,322.3 126.8,330.0 126.9,309.1 127.0,288.1 127.1,288.1 127.1,322.3 127.2,291.6 127.3,288.1 127.4,291.6 127.5,291.6 127.5,322.3 127.6,288.1 127.7,295.9 127.8,322.3 127.9,288.1 127.9,291.6 128.0,301.4 128.1,295.9 128.2,288.1 128.3,291.6 128.3,301.4 128.4,288.1 128.5,301.4 128.6,301.4 128.6,285.2 128.7,291.6 128.8,291.6 128.9,291.6 129.0,322.3 129.0,322.3 129.1,295.9 129.2,330.0 129.3,309.1 129.4,288.1 129.4,301.4 129.5,309.1 129.6,330.0 129.7,322.3 129.8,301.4 129.8,322.3 129.9,301.4 130.0,309.1 130.1,288.1 130.2,309.1 130.2,309.1 130.3,301.4 130.4,301.4 130.5,309.1 130.6,295.9 130.6,309.1 130.7,322.3 130.8,330.0 130.9,322.3 131.0,301.4 131.0,291.6 131.1,295.9 131.2,330.0 131.3,301.4 131.4,309.1 131.4,295.9 131.5,301.4 131.6,309.1 131.7,309.1 131.8,295.9 131.8,295.9 131.9,322.3 132.0,322.3 132.1,295.9 132.2,295.9 132.2,309.1 132.3,322.3 132.4,309.1 132.5,322.3 132.6,330.0 132.6,291.6 132.7,309.1 132.8,309.1 132.9,309.1 133.0,295.9 133.0,295.9 133.1,309.1 133.2,309.1 133.3,291.6 133.4,291.6 133.4,285.2 133.5,309.1 133.6,301.4 133.7,301.4 133.8,322.3 133.8,322.3 133.9,322.3 134.0,309.1 134.1,301.4 134.1,309.1 134.2,322.3 134.3,295.9 134.4,295.9 134.5,309.1 134.5,322.3 134.6,309.1 134.7,301.4 134.8,330.0 134.9,309.1 134.9,322.3 135.0,309.1 135.1,309.1 135.2,322.3 135.3,301.4 135.3,322.3 135.4,295.9 135.5,309.1 135.6,288.1 135.7,322.3 135.7,322.3 135.8,309.1 135.9,322.3 136.0,322.3 136.1,330.0 136.1,301.4 136.2,291.6 136.3,295.9 136.4,295.9 136.5,309.1 136.5,295.9 136.6,322.3 136.7,285.2 136.8,301.4 136.9,309.1 136.9,301.4 137.0,322.3 137.1,291.6 137.2,309.1 137.3,301.4 137.3,301.4 137.4,295.9 137.5,291.6 137.6,309.1 137.7,301.4 137.7,285.2 137.8,330.0 137.9,301.4 138.0,309.1 138.1,309.1 138.1,309.1 138.2,309.1 138.3,322.3 138.4,330.0 138.5,309.1 138.5,301.4 138.6,330.0 138.7,295.9 138.8,309.1 138.8,309.1 138.9,301.4 139.0,301.4 139.1,330.0 139.2,291.6 139.2,322.3 139.3,301.4 139.4,330.0 139.5,309.1 139.6,295.9 139.6,309.1 139.7,301.4 139.8,309.1 139.9,330.0 140.0,330.0 140.0,288.1 140.1,330.0 140.2,322.3 140.3,295.9 140.4,309.1 140.4,322.3 140.5,309.1 140.6,309.1 140.7,322.3 140.8,309.1 140.8,301.4 140.9,322.3 141.0,309.1 141.1,330.0 141.2,322.3 141.2,309.1 141.3,322.3 141.4,309.1 141.5,322.3 141.6,330.0 141.6,322.3 141.7,309.1 141.8,285.2 141.9,322.3 142.0,330.0 142.0,322.3 142.1,301.4 142.2,309.1 142.3,309.1 142.4,309.1 142.4,309.1 142.5,322.3 142.6,309.1 142.7,330.0 142.8,322.3 142.8,330.0 142.9,301.4 143.0,309.1 143.1,322.3 143.2,301.4 143.2,301.4 143.3,309.1 143.4,330.0 143.5,295.9 143.6,330.0 143.6,301.4 143.7,330.0 143.8,322.3 143.9,295.9 143.9,330.0 144.0,301.4 144.1,322.3 144.2,330.0 144.3,322.3 144.3,322.3 144.4,330.0 144.5,309.1 144.6,309.1 144.7,322.3 144.7,301.4 144.8,322.3 144.9,322.3 145.0,295.9 145.1,330.0 145.1,330.0 145.2,322.3 145.3,330.0 145.4,322.3 145.5,330.0 145.5,309.1 145.6,322.3 145.7,322.3 145.8,301.4 145.9,322.3 145.9,322.3 146.0,322.3 146.1,301.4 146.2,330.0 146.3,322.3 146.3,309.1 146.4,322.3 146.5,322.3 146.6,330.0 146.7,309.1 146.7,322.3 146.8,301.4 146.9,322.3 147.0,322.3 147.1,309.1 147.1,330.0 147.2,322.3 147.3,322.3 147.4,309.1 147.5,301.4 147.5,309.1 147.6,309.1 147.7,322.3 147.8,322.3 147.9,322.3 147.9,322.3 148.0,301.4 148.1,309.1 148.2,330.0 148.3,301.4 148.3,322.3 148.4,309.1 148.5,322.3 148.6,301.4 148.7,301.4 148.7,295.9 148.8,322.3 148.9,330.0 149.0,322.3 149.1,330.0 149.1,330.0 149.2,330.0 149.3,309.1 149.4,322.3 149.4,301.4 149.5,330.0 149.6,330.0 149.7,322.3 149.8,295.9 149.8,322.3 149.9,309.1 150.0,330.0 150.1,301.4 150.2,322.3 150.2,309.1 150.3,301.4 150.4,322.3 150.5,309.1 150.6,309.1 150.6,330.0 150.7,322.3 150.8,322.3 150.9,330.0 151.0,322.3 151.0,322.3 151.1,295.9 151.2,330.0 151.3,322.3 151.4,330.0 151.4,322.3 151.5,322.3 151.6,330.0 151.7,309.1 151.8,322.3 151.8,301.4 151.9,322.3 152.0,330.0 152.1,309.1 152.2,309.1 152.2,330.0 152.3,291.6 152.4,322.3 152.5,309.1 152.6,301.4 152.6,301.4 152.7,309.1 152.8,309.1 152.9,309.1 153.0,330.0 153.0,301.4 153.1,330.0 153.2,322.3 153.3,330.0 153.4,322.3 153.4,322.3 153.5,330.0 153.6,330.0 153.7,330.0 153.8,322.3 153.8,301.4 153.9,309.1 154.0,301.4 154.1,322.3 154.1,330.0 154.2,322.3 154.3,330.0 154.4,295.9 154.5,309.1 154.5,322.3 154.6,330.0 154.7,322.3 154.8,309.1 154.9,291.6 154.9,322.3 155.0,330.0 155.1,322.3 155.2,322.3 155.3,309.1 155.3,322.3 155.4,309.1 155.5,309.1 155.6,330.0 155.7,330.0 155.7,330.0 155.8,330.0 155.9,309.1 156.0,330.0 156.1,322.3 156.1,330.0 156.2,309.1 156.3,330.0 156.4,322.3 156.5,330.0 156.5,322.3 156.6,309.1 156.7,330.0 156.8,309.1 156.9,322.3 156.9,322.3 157.0,330.0 157.1,330.0 157.2,330.0 157.3,309.1 157.3,309.1 157.4,330.0 157.5,330.0 157.6,322.3 157.7,330.0 157.7,330.0 157.8,309.1 157.9,330.0 158.0,330.0 158.1,322.3 158.1,330.0 158.2,309.1 158.3,322.3 158.4,301.4 158.5,322.3 158.5,330.0 158.6,309.1 158.7,322.3 158.8,322.3 158.9,322.3 158.9,330.0 159.0,330.0 159.1,322.3 159.2,295.9 159.2,322.3 159.3,322.3 159.4,309.1 159.5,322.3 159.6,330.0 159.6,301.4 159.7,330.0 159.8,330.0 159.9,322.3 160.0,330.0 160.0,322.3 160.1,309.1 160.2,309.1 160.3,330.0 160.4,330.0 160.4,322.3 160.5,322.3 160.6,301.4 160.7,322.3 160.8,322.3 160.8,330.0 160.9,301.4 161.0,330.0 161.1,330.0 161.2,309.1 161.2,330.0 161.3,330.0 161.4,330.0 161.5,309.1 161.6,322.3 161.6,330.0 161.7,301.4 161.8,330.0 161.9,322.3 162.0,309.1 162.0,322.3 162.1,330.0 162.2,322.3 162.3,301.4 162.4,330.0 162.4,301.4 162.5,309.1 162.6,330.0 162.7,322.3 162.8,322.3 162.8,330.0 162.9,322.3 163.0,330.0 163.1,322.3 163.2,330.0 163.2,330.0 163.3,330.0 163.4,309.1 163.5,309.1 163.6,322.3 163.6,330.0 163.7,330.0 163.8,309.1 163.9,330.0 164.0,330.0 164.0,330.0 164.1,330.0 164.2,322.3 164.3,322.3 164.3,330.0 164.4,322.3 164.5,322.3 164.6,330.0 164.7,330.0 164.7,322.3 164.8,322.3 164.9,330.0 165.0,322.3 165.1,309.1 165.1,330.0 165.2,322.3 165.3,322.3 165.4,309.1 165.5,309.1 165.5,330.0 165.6,330.0 165.7,309.1 165.8,322.3 165.9,309.1 165.9,330.0 166.0,330.0 166.1,330.0 166.2,322.3 166.3,322.3 166.3,330.0 166.4,322.3 166.5,330.0 166.6,309.1 166.7,322.3 166.7,322.3 166.8,322.3 166.9,330.0 167.0,322.3 167.1,330.0 167.1,309.1 167.2,309.1 167.3,309.1 167.4,330.0 167.5,322.3 167.5,309.1 167.6,330.0 167.7,322.3 167.8,322.3 167.9,295.9 167.9,330.0 168.0,309.1 168.1,322.3 168.2,330.0 168.3,322.3 168.3,330.0 168.4,309.1 168.5,322.3 168.6,301.4 168.7,309.1 168.7,330.0 168.8,330.0 168.9,322.3 169.0,322.3 169.1,322.3 169.1,309.1 169.2,330.0 169.3,330.0 169.4,330.0 169.4,322.3 169.5,322.3 169.6,322.3 169.7,330.0 169.8,322.3 169.8,309.1 169.9,322.3 170.0,322.3 170.1,330.0 170.2,330.0 170.2,291.6 170.3,330.0 170.4,330.0 170.5,322.3 170.6,309.1 170.6,322.3 170.7,309.1 170.8,322.3 170.9,309.1 171.0,330.0 171.0,301.4 171.1,330.0 171.2,330.0 171.3,322.3 171.4,322.3 171.4,330.0 171.5,330.0 171.6,330.0 171.7,330.0 171.8,330.0 171.8,322.3 171.9,322.3 172.0,330.0 172.1,309.1 172.2,309.1 172.2,322.3 172.3,330.0 172.4,330.0 172.5,322.3 172.6,322.3 172.6,322.3 172.7,309.1 172.8,322.3 172.9,330.0 173.0,330.0 173.0,330.0 173.1,322.3 173.2,322.3 173.3,330.0 173.4,309.1 173.4,330.0 173.5,309.1 173.6,309.1 173.7,309.1 173.8,330.0 173.8,322.3 173.9,330.0 174.0,330.0 174.1,330.0 174.2,309.1 174.2,309.1 174.3,322.3 174.4,322.3 174.5,330.0 174.5,322.3 174.6,322.3 174.7,322.3 174.8,330.0 174.9,309.1 174.9,330.0 175.0,330.0 175.1,322.3 175.2,330.0 175.3,322.3 175.3,309.1 175.4,330.0 175.5,330.0 175.6,330.0 175.7,301.4 175.7,322.3 175.8,322.3 175.9,330.0 176.0,330.0 176.1,301.4 176.1,330.0 176.2,301.4 176.3,330.0 176.4,330.0 176.5,330.0 176.5,295.9 176.6,309.1 176.7,295.9 176.8,330.0 176.9,330.0 176.9,322.3 177.0,301.4 177.1,309.1 177.2,322.3 177.3,309.1 177.3,322.3 177.4,322.3 177.5,322.3 177.6,301.4 177.7,322.3 177.7,330.0 177.8,322.3 177.9,322.3 178.0,330.0 178.1,322.3 178.1,330.0 178.2,330.0 178.3,330.0 178.4,322.3 178.5,322.3 178.5,322.3 178.6,330.0 178.7,330.0 178.8,309.1 178.9,322.3 178.9,322.3 179.0,301.4 179.1,322.3 179.2,330.0 179.3,330.0 179.3,322.3 179.4,322.3 179.5,330.0 179.6,322.3 179.6,322.3 179.7,295.9 179.8,309.1 179.9,322.3 180.0,330.0 180.0,330.0 180.1,322.3 180.2,322.3 180.3,330.0 180.4,330.0 180.4,322.3 180.5,330.0 180.6,330.0 180.7,330.0 180.8,330.0 180.8,330.0 180.9,330.0 181.0,330.0 181.1,330.0 181.2,330.0 181.2,322.3 181.3,322.3 181.4,322.3 181.5,330.0 181.6,309.1 181.6,330.0 181.7,330.0 181.8,330.0 181.9,322.3 182.0,309.1 182.0,322.3 182.1,322.3 182.2,330.0 182.3,330.0 182.4,301.4 182.4,322.3 182.5,322.3 182.6,309.1 182.7,330.0 182.8,309.1 182.8,330.0 182.9,322.3 183.0,322.3 183.1,309.1 183.2,330.0 183.2,309.1 183.3,322.3 183.4,322.3 183.5,330.0 183.6,330.0 183.6,330.0 183.7,322.3 183.8,309.1 183.9,322.3 184.0,322.3 184.0,330.0 184.1,330.0 184.2,301.4 184.3,330.0 184.4,322.3 184.4,330.0 184.5,309.1 184.6,330.0 184.7,309.1 184.8,322.3 184.8,330.0 184.9,309.1 185.0,309.1 185.1,309.1 185.1,330.0 185.2,322.3 185.3,322.3 185.4,330.0 185.5,330.0 185.5,330.0 185.6,330.0 185.7,330.0 185.8,322.3 185.9,322.3 185.9,322.3 186.0,309.1 186.1,322.3 186.2,322.3 186.3,330.0 186.3,330.0 186.4,330.0 186.5,309.1 186.6,330.0 186.7,322.3 186.7,322.3 186.8,322.3 186.9,330.0 187.0,309.1 187.1,330.0 187.1,309.1 187.2,309.1 187.3,330.0 187.4,309.1 187.5,322.3 187.5,322.3 187.6,330.0 187.7,322.3 187.8,330.0 187.9,322.3 187.9,330.0 188.0,309.1 188.1,330.0 188.2,330.0 188.3,322.3 188.3,322.3 188.4,322.3 188.5,322.3 188.6,330.0 188.7,322.3 188.7,330.0 188.8,322.3 188.9,322.3 189.0,322.3 189.1,322.3 189.1,322.3 189.2,322.3 189.3,301.4 189.4,330.0 189.5,301.4 189.5,322.3 189.6,330.0 189.7,301.4 189.8,309.1 189.8,330.0 189.9,330.0 190.0,309.1 190.1,330.0 190.2,322.3 190.2,322.3 190.3,330.0 190.4,330.0 190.5,309.1 190.6,330.0 190.6,322.3 190.7,330.0 190.8,309.1 190.9,330.0 191.0,309.1 191.0,330.0 191.1,322.3 191.2,309.1 191.3,330.0 191.4,322.3 191.4,330.0 191.5,322.3 191.6,330.0 191.7,322.3 191.8,322.3 191.8,322.3 191.9,330.0 192.0,322.3 192.1,330.0 192.2,330.0 192.2,330.0 192.3,309.1 192.4,309.1 192.5,322.3 192.6,330.0 192.6,322.3 192.7,309.1 192.8,330.0 192.9,330.0 193.0,322.3 193.0,330.0 193.1,322.3 193.2,322.3 193.3,330.0 193.4,309.1 193.4,322.3 193.5,330.0 193.6,330.0 193.7,330.0 193.8,322.3 193.8,330.0 193.9,330.0 194.0,330.0 194.1,322.3 194.2,322.3 194.2,330.0 194.3,330.0 194.4,330.0 194.5,322.3 194.6,301.4 194.6,330.0 194.7,330.0 194.8,309.1 194.9,330.0 194.9,309.1 195.0,322.3 195.1,330.0 195.2,330.0 195.3,330.0 195.3,330.0 195.4,309.1 195.5,330.0 195.6,330.0 195.7,330.0 195.7,309.1 195.8,330.0 195.9,330.0 196.0,322.3 196.1,322.3 196.1,330.0 196.2,330.0 196.3,330.0 196.4,330.0 196.5,322.3 196.5,322.3 196.6,322.3 196.7,309.1 196.8,301.4 196.9,330.0 196.9,330.0 197.0,322.3 197.1,309.1 197.2,330.0 197.3,330.0 197.3,330.0 197.4,330.0 197.5,322.3 197.6,322.3 197.7,309.1 197.7,330.0 197.8,330.0 197.9,330.0 198.0,330.0 198.1,322.3 198.1,330.0 198.2,322.3 198.3,322.3 198.4,330.0 198.5,330.0 198.5,322.3 198.6,330.0 198.7,322.3 198.8,322.3 198.9,330.0 198.9,309.1 199.0,330.0 199.1,322.3 199.2,330.0 199.3,301.4 199.3,330.0 199.4,330.0 199.5,322.3 199.6,330.0 199.7,330.0 199.7,301.4 199.8,330.0 199.9,322.3 200.0,330.0 200.0,330.0 200.1,330.0 200.2,295.9 200.3,330.0 200.4,330.0 200.4,330.0 200.5,322.3 200.6,309.1 200.7,330.0 200.8,330.0 200.8,322.3 200.9,330.0 201.0,330.0 201.1,330.0 201.2,322.3 201.2,330.0 201.3,330.0 201.4,330.0 201.5,322.3 201.6,322.3 201.6,330.0 201.7,330.0 201.8,330.0 201.9,322.3 202.0,322.3 202.0,309.1 202.1,322.3 202.2,322.3 202.3,322.3 202.4,330.0 202.4,322.3 202.5,330.0 202.6,330.0 202.7,330.0 202.8,330.0 202.8,322.3 202.9,322.3 203.0,322.3 203.1,330.0 203.2,330.0 203.2,322.3 203.3,322.3 203.4,330.0 203.5,330.0 203.6,330.0 203.6,322.3 203.7,330.0 203.8,330.0 203.9,330.0 204.0,330.0 204.0,330.0 204.1,322.3 204.2,330.0 204.3,330.0 204.4,322.3 204.4,322.3 204.5,330.0 204.6,322.3 204.7,322.3 204.8,322.3 204.8,330.0 204.9,309.1 205.0,330.0 205.1,330.0 205.1,330.0 205.2,330.0 205.3,330.0 205.4,322.3 205.5,330.0 205.5,330.0 205.6,330.0 205.7,330.0 205.8,330.0 205.9,330.0 205.9,330.0 206.0,322.3 206.1,330.0 206.2,330.0 206.3,330.0 206.3,330.0 206.4,330.0 206.5,330.0 206.6,330.0 206.7,330.0 206.7,330.0 206.8,322.3 206.9,330.0 207.0,309.1 207.1,330.0 207.1,322.3 207.2,309.1 207.3,330.0 207.4,330.0 207.5,330.0 207.5,322.3 207.6,322.3 207.7,322.3 207.8,322.3 207.9,322.3 207.9,330.0 208.0,330.0 208.1,330.0 208.2,330.0 208.3,309.1 208.3,330.0 208.4,330.0 208.5,330.0 208.6,330.0 208.7,330.0 208.7,322.3 208.8,330.0 208.9,322.3 209.0,330.0 209.1,330.0 209.1,322.3 209.2,330.0 209.3,330.0 209.4,330.0 209.5,322.3 209.5,322.3 209.6,322.3 209.7,330.0 209.8,330.0 209.9,330.0 209.9,330.0 210.0,330.0 210.1,322.3 210.2,330.0 210.2,330.0 210.3,322.3 210.4,322.3 210.5,330.0 210.6,330.0 210.6,330.0 210.7,330.0 210.8,330.0 210.9,330.0 211.0,322.3 211.0,322.3 211.1,322.3 211.2,330.0 211.3,330.0 211.4,322.3 211.4,309.1 211.5,330.0 211.6,330.0 211.7,322.3 211.8,330.0 211.8,330.0 211.9,330.0 212.0,322.3 212.1,330.0 212.2,330.0 212.2,330.0 212.3,322.3 212.4,330.0 212.5,322.3 212.6,330.0 212.6,330.0 212.7,330.0 212.8,330.0 212.9,322.3 213.0,330.0 213.0,330.0 213.1,330.0 213.2,330.0 213.3,330.0 213.4,322.3 213.4,330.0 213.5,330.0 213.6,330.0 213.7,330.0 213.8,322.3 213.8,330.0 213.9,322.3 214.0,322.3 214.1,330.0 214.2,330.0 214.2,330.0 214.3,330.0 214.4,309.1 214.5,330.0 214.6,322.3 214.6,330.0 214.7,330.0 214.8,330.0 214.9,330.0 215.0,330.0 215.0,330.0 215.1,322.3 215.2,330.0 215.3,330.0 215.3,330.0 215.4,330.0 215.5,322.3 215.6,330.0 215.7,322.3 215.7,330.0 215.8,322.3 215.9,330.0 216.0,330.0 216.1,322.3 216.1,322.3 216.2,330.0 216.3,330.0 216.4,330.0 216.5,330.0 216.5,309.1 216.6,330.0 216.7,330.0 216.8,330.0 216.9,301.4 216.9,330.0 217.0,309.1 217.1,330.0 217.2,330.0 217.3,322.3 217.3,330.0 217.4,330.0 217.5,330.0 217.6,330.0 217.7,330.0 217.7,330.0 217.8,330.0 217.9,322.3 218.0,322.3 218.1,330.0 218.1,330.0 218.2,330.0 218.3,330.0 218.4,330.0 218.5,330.0 218.5,330.0 218.6,330.0 218.7,330.0 218.8,330.0 218.9,330.0 218.9,330.0 219.0,330.0 219.1,330.0 219.2,330.0 219.3,330.0 219.3,330.0 219.4,330.0 219.5,330.0 219.6,330.0 219.7,330.0 219.7,330.0 219.8,330.0 219.9,330.0 220.0,330.0 220.1,330.0 220.1,330.0 220.2,330.0 220.3,330.0 220.4,330.0 220.4,330.0 220.5,330.0 220.6,330.0 220.7,330.0 220.8,330.0 220.8,322.3 220.9,330.0 221.0,330.0 221.1,330.0 221.2,322.3 221.2,330.0 221.3,330.0 221.4,330.0 221.5,330.0 221.6,322.3 221.6,330.0 221.7,322.3 221.8,322.3 221.9,330.0 222.0,330.0 222.0,309.1 222.1,330.0 222.2,330.0 222.3,330.0 222.4,330.0 222.4,330.0 222.5,330.0 222.6,330.0 222.7,330.0 222.8,330.0 222.8,330.0 222.9,330.0 223.0,322.3 223.1,330.0 223.2,330.0 223.2,330.0 223.3,330.0 223.4,309.1 223.5,330.0 223.6,322.3 223.6,330.0 223.7,330.0 223.8,330.0 223.9,322.3 224.0,330.0 224.0,330.0 224.1,309.1 224.2,330.0 224.3,330.0 224.4,330.0 224.4,330.0 224.5,330.0 224.6,330.0 224.7,330.0 224.8,330.0 224.8,330.0 224.9,330.0 225.0,330.0 225.1,330.0 225.2,330.0 225.2,322.3 225.3,322.3 225.4,322.3 225.5,330.0 225.5,330.0 225.6,322.3 225.7,330.0 225.8,330.0 225.9,330.0 225.9,330.0 226.0,330.0 226.1,330.0 226.2,330.0 226.3,330.0 226.3,309.1 226.4,330.0 226.5,330.0 226.6,330.0 226.7,330.0 226.7,330.0 226.8,330.0 226.9,322.3 227.0,330.0 227.1,330.0 227.1,330.0 227.2,330.0 227.3,330.0 227.4,330.0 227.5,330.0 227.5,330.0 227.6,322.3 227.7,330.0 227.8,322.3 227.9,330.0 227.9,330.0 228.0,322.3 228.1,330.0 228.2,330.0 228.3,330.0 228.3,322.3 228.4,330.0 228.5,330.0 228.6,322.3 228.7,330.0 228.7,322.3 228.8,330.0 228.9,330.0 229.0,322.3 229.1,330.0 229.1,330.0 229.2,330.0 229.3,330.0 229.4,330.0 229.5,309.1 229.5,330.0 229.6,330.0 229.7,309.1 229.8,322.3 229.9,330.0 229.9,330.0 230.0,330.0 230.1,322.3 230.2,330.0 230.3,330.0 230.3,330.0 230.4,330.0 230.5,330.0 230.6,330.0 230.6,330.0 230.7,330.0 230.8,322.3 230.9,322.3 231.0,330.0 231.0,330.0 231.1,330.0 231.2,330.0 231.3,330.0 231.4,330.0 231.4,330.0 231.5,330.0 231.6,330.0 231.7,322.3 231.8,330.0 231.8,330.0 231.9,330.0 232.0,330.0 232.1,330.0 232.2,330.0 232.2,330.0 232.3,330.0 232.4,330.0 232.5,309.1 232.6,322.3 232.6,330.0 232.7,322.3 232.8,330.0 232.9,330.0 233.0,330.0 233.0,330.0 233.1,330.0 233.2,330.0 233.3,330.0 233.4,330.0 233.4,330.0 233.5,330.0 233.6,330.0 233.7,330.0 233.8,330.0 233.8,330.0 233.9,330.0 234.0,330.0 234.1,330.0 234.2,330.0 234.2,330.0 234.3,330.0 234.4,330.0 234.5,330.0 234.6,330.0 234.6,330.0 234.7,322.3 234.8,330.0 234.9,330.0 235.0,330.0 235.0,322.3 235.1,330.0 235.2,330.0 235.3,330.0 235.4,330.0 235.4,330.0 235.5,330.0 235.6,330.0 235.7,330.0 235.8,330.0 235.8,330.0 235.9,330.0 236.0,330.0 236.1,322.3 236.1,330.0 236.2,330.0 236.3,330.0 236.4,330.0 236.5,322.3 236.5,330.0 236.6,330.0 236.7,330.0 236.8,322.3 236.9,330.0 236.9,330.0 237.0,330.0 237.1,322.3 237.2,330.0 237.3,330.0 237.3,330.0 237.4,322.3 237.5,330.0 237.6,330.0 237.7,330.0 237.7,322.3 237.8,330.0 237.9,330.0 238.0,330.0 238.1,330.0 238.1,330.0 238.2,330.0 238.3,330.0 238.4,322.3 238.5,322.3 238.5,330.0 238.6,330.0 238.7,330.0 238.8,330.0 238.9,322.3 238.9,330.0 239.0,322.3 239.1,322.3 239.2,330.0 239.3,330.0 239.3,322.3 239.4,330.0 239.5,322.3 239.6,330.0 239.7,330.0 239.7,330.0 239.8,330.0 239.9,322.3 240.0,330.0 240.1,330.0 240.1,322.3 240.2,330.0 240.3,330.0 240.4,330.0 240.5,330.0 240.5,330.0 240.6,330.0 240.7,330.0 240.8,330.0 240.8,330.0 240.9,330.0 241.0,330.0 241.1,330.0 241.2,330.0 241.2,322.3 241.3,330.0 241.4,330.0 241.5,330.0 241.6,322.3 241.6,322.3 241.7,330.0 241.8,330.0 241.9,330.0 242.0,330.0 242.0,330.0 242.1,330.0 242.2,330.0 242.3,330.0 242.4,330.0 242.4,330.0 242.5,330.0 242.6,330.0 242.7,309.1 242.8,330.0 242.8,330.0 242.9,330.0 243.0,330.0 243.1,330.0 243.2,330.0 243.2,330.0 243.3,330.0 243.4,322.3 243.5,322.3 243.6,330.0 243.6,330.0 243.7,330.0 243.8,322.3 243.9,330.0 244.0,322.3 244.0,330.0 244.1,330.0 244.2,330.0 244.3,330.0 244.4,330.0 244.4,330.0 244.5,330.0 244.6,330.0 244.7,330.0 244.8,330.0 244.8,330.0 244.9,322.3 245.0,322.3 245.1,330.0 245.2,322.3 245.2,330.0 245.3,330.0 245.4,330.0 245.5,330.0 245.6,322.3 245.6,330.0 245.7,330.0 245.8,322.3 245.9,330.0 245.9,330.0 246.0,330.0 246.1,330.0 246.2,330.0 246.3,330.0 246.3,330.0 246.4,322.3 246.5,330.0 246.6,330.0 246.7,330.0 246.7,330.0 246.8,330.0 246.9,322.3 247.0,330.0 247.1,330.0 247.1,330.0 247.2,330.0 247.3,330.0 247.4,322.3 247.5,330.0 247.5,322.3 247.6,330.0 247.7,330.0 247.8,330.0 247.9,330.0 247.9,322.3 248.0,330.0 248.1,309.1 248.2,322.3 248.3,330.0 248.3,330.0 248.4,330.0 248.5,322.3 248.6,330.0 248.7,330.0 248.7,330.0 248.8,330.0 248.9,322.3 249.0,330.0 249.1,330.0 249.1,330.0 249.2,330.0 249.3,330.0 249.4,322.3 249.5,330.0 249.5,330.0 249.6,330.0 249.7,330.0 249.8,330.0 249.9,330.0 249.9,330.0 250.0,330.0 250.1,330.0 250.2,330.0 250.3,330.0 250.3,322.3 250.4,330.0 250.5,330.0 250.6,330.0 250.7,330.0 250.7,330.0 250.8,330.0 250.9,330.0 251.0,330.0 251.0,330.0 251.1,330.0 251.2,330.0 251.3,330.0 251.4,330.0 251.4,330.0 251.5,322.3 251.6,330.0 251.7,330.0 251.8,330.0 251.8,330.0 251.9,309.1 252.0,330.0 252.1,330.0 252.2,330.0 252.2,330.0 252.3,330.0 252.4,330.0 252.5,330.0 252.6,330.0 252.6,330.0 252.7,330.0 252.8,330.0 252.9,330.0 253.0,330.0 253.0,330.0 253.1,330.0 253.2,330.0 253.3,330.0 253.4,330.0 253.4,330.0 253.5,322.3 253.6,330.0 253.7,330.0 253.8,330.0 253.8,330.0 253.9,322.3 254.0,330.0 254.1,330.0 254.2,330.0 254.2,330.0 254.3,330.0 254.4,330.0 254.5,322.3 254.6,330.0 254.6,330.0 254.7,322.3 254.8,330.0 254.9,330.0 255.0,330.0 255.0,322.3 255.1,330.0 255.2,330.0 255.3,330.0 255.4,330.0 255.4,330.0 255.5,330.0 255.6,330.0 255.7,330.0 255.8,330.0 255.8,322.3 255.9,330.0 256.0,330.0 256.1,322.3 256.1,330.0 256.2,330.0 256.3,330.0 256.4,330.0 256.5,330.0 256.5,330.0 256.6,330.0 256.7,330.0 256.8,330.0 256.9,330.0 256.9,330.0 257.0,330.0 257.1,330.0 257.2,330.0 257.3,330.0 257.3,330.0 257.4,330.0 257.5,330.0 257.6,322.3 257.7,330.0 257.7,330.0 257.8,330.0 257.9,322.3 258.0,330.0 258.1,330.0 258.1,330.0 258.2,330.0 258.3,330.0 258.4,322.3 258.5,330.0 258.5,322.3 258.6,330.0 258.7,330.0 258.8,330.0 258.9,330.0 258.9,330.0 259.0,330.0 259.1,330.0 259.2,322.3 259.3,330.0 259.3,330.0 259.4,330.0 259.5,330.0 259.6,330.0 259.7,330.0 259.7,330.0 259.8,330.0 259.9,330.0 260.0,330.0 260.1,330.0 260.1,330.0 260.2,330.0 260.3,330.0 260.4,330.0 260.5,322.3 260.5,330.0 260.6,330.0 260.7,322.3 260.8,330.0 260.9,330.0 260.9,330.0 261.0,330.0 261.1,330.0 261.2,322.3 261.2,330.0 261.3,330.0 261.4,322.3 261.5,330.0 261.6,330.0 261.6,330.0 261.7,330.0 261.8,322.3 261.9,330.0 262.0,330.0 262.0,330.0 262.1,330.0 262.2,330.0 262.3,330.0 262.4,330.0 262.4,330.0 262.5,330.0 262.6,330.0 262.7,330.0 262.8,330.0 262.8,330.0 262.9,322.3 263.0,330.0 263.1,330.0 263.2,330.0 263.2,330.0 263.3,330.0 263.4,330.0 263.5,330.0 263.6,330.0 263.6,330.0 263.7,330.0 263.8,330.0 263.9,322.3 264.0,330.0 264.0,330.0 264.1,322.3 264.2,330.0 264.3,330.0 264.4,322.3 264.4,330.0 264.5,330.0 264.6,330.0 264.7,330.0 264.8,322.3 264.8,330.0 264.9,330.0 265.0,322.3 265.1,322.3 265.2,330.0 265.2,330.0 265.3,330.0 265.4,330.0 265.5,330.0 265.6,330.0 265.6,330.0 265.7,322.3 265.8,330.0 265.9,330.0 266.0,322.3 266.0,330.0 266.1,330.0 266.2,322.3 266.3,330.0 266.4,322.3 266.4,330.0 266.5,330.0 266.6,330.0 266.7,330.0 266.7,330.0 266.8,330.0 266.9,330.0 267.0,330.0 267.1,330.0 267.1,330.0 267.2,330.0 267.3,330.0 267.4,330.0 267.5,330.0 267.5,330.0 267.6,330.0 267.7,330.0 267.8,330.0 267.9,322.3 267.9,330.0 268.0,322.3 268.1,330.0 268.2,330.0 268.3,322.3 268.3,330.0 268.4,330.0 268.5,330.0 268.6,330.0 268.7,330.0 268.7,322.3 268.8,330.0 268.9,330.0 269.0,330.0 269.1,330.0 269.1,330.0 269.2,322.3 269.3,330.0 269.4,330.0 269.5,330.0 269.5,330.0 269.6,330.0 269.7,330.0 269.8,322.3 269.9,330.0 269.9,330.0 270.0,330.0 270.1,330.0 270.2,330.0 270.3,330.0 270.3,330.0 270.4,330.0 270.5,330.0 270.6,330.0 270.7,322.3 270.7,330.0 270.8,330.0 270.9,330.0 271.0,330.0 271.1,322.3 271.1,330.0 271.2,330.0 271.3,330.0 271.4,330.0 271.4,330.0 271.5,322.3 271.6,330.0 271.7,330.0 271.8,330.0 271.8,330.0 271.9,330.0 272.0,330.0 272.1,330.0 272.2,330.0 272.2,322.3 272.3,330.0 272.4,330.0 272.5,330.0 272.6,330.0 272.6,330.0 272.7,330.0 272.8,330.0 272.9,330.0 273.0,309.1 273.0,330.0 273.1,330.0 273.2,330.0 273.3,330.0 273.4,330.0 273.4,330.0 273.5,322.3 273.6,330.0 273.7,330.0 273.8,322.3 273.8,330.0 273.9,330.0 274.0,330.0 274.1,330.0 274.2,330.0 274.2,330.0 274.3,330.0 274.4,330.0 274.5,330.0 274.6,322.3 274.6,330.0 274.7,330.0 274.8,322.3 274.9,330.0 275.0,330.0 275.0,322.3 275.1,330.0 275.2,330.0 275.3,330.0 275.4,322.3 275.4,330.0 275.5,330.0 275.6,330.0 275.7,330.0 275.8,322.3 275.8,330.0 275.9,330.0 276.0,330.0 276.1,330.0 276.2,330.0 276.2,330.0 276.3,330.0 276.4,330.0 276.5,330.0 276.5,330.0 276.6,330.0 276.7,330.0 276.8,330.0 276.9,330.0 276.9,330.0 277.0,330.0 277.1,330.0 277.2,330.0 277.3,330.0 277.3,330.0 277.4,330.0 277.5,330.0 277.6,330.0 277.7,330.0 277.7,322.3 277.8,330.0 277.9,330.0 278.0,330.0 278.1,330.0 278.1,330.0 278.2,330.0 278.3,330.0 278.4,322.3 278.5,330.0 278.5,330.0 278.6,330.0 278.7,322.3 278.8,330.0 278.9,330.0 278.9,330.0 279.0,330.0 279.1,330.0 279.2,330.0 279.3,330.0 279.3,330.0 279.4,330.0 279.5,330.0 279.6,330.0 279.7,330.0 279.7,330.0 279.8,330.0 279.9,330.0 280.0,330.0 280.1,322.3 280.1,330.0 280.2,330.0 280.3,330.0 280.4,330.0 280.5,330.0 280.5,322.3 280.6,330.0 280.7,330.0 280.8,330.0 280.9,330.0 280.9,330.0 281.0,330.0 281.1,330.0 281.2,322.3 281.3,330.0 281.3,322.3 281.4,322.3 281.5,330.0 281.6,330.0 281.6,330.0 281.7,330.0 281.8,330.0 281.9,330.0 282.0,330.0 282.0,330.0 282.1,330.0 282.2,330.0 282.3,330.0 282.4,330.0 282.4,330.0 282.5,322.3 282.6,330.0 282.7,330.0 282.8,330.0 282.8,330.0 282.9,330.0 283.0,330.0 283.1,330.0 283.2,330.0 283.2,330.0 283.3,330.0 283.4,309.1 283.5,330.0 283.6,322.3 283.6,330.0 283.7,330.0 283.8,330.0 283.9,330.0 284.0,330.0 284.0,330.0 284.1,330.0 284.2,330.0 284.3,330.0 284.4,330.0 284.4,330.0 284.5,330.0 284.6,330.0 284.7,330.0 284.8,330.0 284.8,330.0 284.9,330.0 285.0,330.0 285.1,330.0 285.2,322.3 285.2,330.0 285.3,330.0 285.4,330.0 285.5,330.0 285.6,309.1 285.6,330.0 285.7,330.0 285.8,330.0 285.9,330.0 286.0,330.0 286.0,330.0 286.1,330.0 286.2,330.0 286.3,330.0 286.4,330.0 286.4,330.0 286.5,330.0 286.6,330.0 286.7,322.3 286.8,330.0 286.8,330.0 286.9,330.0 287.0,330.0 287.1,330.0 287.1,330.0 287.2,330.0 287.3,330.0 287.4,330.0 287.5,322.3 287.5,330.0 287.6,330.0 287.7,330.0 287.8,330.0 287.9,330.0 287.9,330.0 288.0,330.0 288.1,322.3 288.2,330.0 288.3,330.0 288.3,330.0 288.4,330.0 288.5,330.0 288.6,330.0 288.7,330.0 288.7,330.0 288.8,330.0 288.9,330.0 289.0,330.0 289.1,330.0 289.1,330.0 289.2,330.0 289.3,330.0 289.4,330.0 289.5,330.0 289.5,330.0 289.6,330.0 289.7,330.0 289.8,322.3 289.9,330.0 289.9,330.0 290.0,330.0 290.1,330.0 290.2,330.0 290.3,330.0 290.3,330.0 290.4,330.0 290.5,330.0 290.6,330.0 290.7,330.0 290.7,330.0 290.8,330.0 290.9,322.3 291.0,330.0 291.1,330.0 291.1,322.3 291.2,322.3 291.3,330.0 291.4,330.0 291.5,322.3 291.5,322.3 291.6,330.0 291.7,322.3 291.8,330.0 291.9,330.0 291.9,330.0 292.0,322.3 292.1,330.0 292.2,330.0 292.2,330.0 292.3,330.0 292.4,322.3 292.5,330.0 292.6,330.0 292.6,322.3 292.7,330.0 292.8,330.0 292.9,330.0 293.0,330.0 293.0,330.0 293.1,330.0 293.2,330.0 293.3,330.0 293.4,322.3 293.4,330.0 293.5,330.0 293.6,330.0 293.7,330.0 293.8,322.3 293.8,330.0 293.9,330.0 294.0,322.3 294.1,330.0 294.2,330.0 294.2,330.0 294.3,330.0 294.4,330.0 294.5,322.3 294.6,330.0 294.6,330.0 294.7,330.0 294.8,330.0 294.9,330.0 295.0,330.0 295.0,330.0 295.1,330.0 295.2,330.0 295.3,330.0 295.4,330.0 295.4,330.0 295.5,322.3 295.6,322.3 295.7,322.3 295.8,330.0 295.8,330.0 295.9,330.0 296.0,330.0 296.1,330.0 296.2,330.0 296.2,330.0 296.3,322.3 296.4,330.0 296.5,322.3 296.6,330.0 296.6,330.0 296.7,330.0 296.8,330.0 296.9,330.0 296.9,330.0 297.0,330.0 297.1,330.0 297.2,330.0 297.3,330.0 297.3,330.0 297.4,330.0 297.5,330.0 297.6,330.0 297.7,330.0 297.7,330.0 297.8,330.0 297.9,330.0 298.0,322.3 298.1,330.0 298.1,330.0 298.2,330.0 298.3,330.0 298.4,330.0 298.5,330.0 298.5,330.0 298.6,330.0 298.7,330.0 298.8,330.0 298.9,330.0 298.9,330.0 299.0,330.0 299.1,330.0 299.2,330.0 299.3,322.3 299.3,330.0 299.4,330.0 299.5,330.0" stroke="#8db03c" stroke-width="0.80" opacity="1.00"/>
<path d="M44.5,253.5 44.6,250.6 44.7,248.3 44.7,239.9 44.8,234.4 44.9,230.1 45.0,228.7 45.1,226.7 45.1,222.6 45.2,220.6 45.3,219.1 45.4,217.4 45.5,216.1 45.5,214.3 45.6,211.7 45.7,212.3 45.8,210.7 45.9,209.6 45.9,208.2 46.0,208.3 46.1,207.0 46.2,205.1 46.3,204.7 46.3,203.5 46.4,203.1 46.5,203.2 46.6,202.3 46.7,200.9 46.7,201.4 46.8,201.3 46.9,199.3 47.0,199.8 47.0,198.5 47.1,198.8 47.2,198.8 47.3,197.4 47.4,197.8 47.4,196.8 47.5,196.4 47.6,195.7 47.7,196.3 47.8,195.8 47.8,194.6 47.9,194.1 48.0,193.9 48.1,192.8 48.2,193.9 48.2,192.7 48.3,192.3 48.4,192.4 48.5,192.4 48.6,192.0 48.6,190.8 48.7,190.7 48.8,190.9 48.9,190.8 49.0,189.9 49.0,189.8 49.1,189.8 49.2,189.6 49.3,188.8 49.4,188.8 49.4,188.8 49.5,189.5 49.6,189.1 49.7,188.6 49.8,187.9 49.8,188.0 49.9,187.8 50.0,187.2 50.1,187.0 50.2,186.5 50.2,187.1 50.3,186.4 50.4,186.1 50.5,186.6 50.6,186.5 50.6,185.8 50.7,185.8 50.8,186.3 50.9,185.0 51.0,184.5 51.0,184.9 51.1,185.2 51.2,184.7 51.3,184.7 51.4,184.2 51.4,184.5 51.5,184.4 51.6,184.0 51.7,183.8 51.8,183.5 51.8,183.4 51.9,184.3 52.0,183.9 52.1,183.8 52.1,183.8 52.2,183.5 52.3,182.9 52.4,182.6 52.5,182.3 52.5,183.0 52.6,183.0 52.7,182.9 52.8,182.8 52.9,182.6 52.9,182.6 53.0,182.4 53.1,182.5 53.2,182.4 53.3,181.8 53.3,181.9 53.4,181.8 53.5,181.4 53.6,182.0 53.7,181.6 53.7,181.2 53.8,181.4 53.9,181.6 54.0,180.7 54.1,180.8 54.1,180.9 54.2,181.0 54.3,180.6 54.4,180.4 54.5,180.9 54.5,180.7 54.6,180.0 54.7,180.2 54.8,180.1 54.9,180.2 54.9,179.5 55.0,180.4 55.1,180.1 55.2,180.0 55.3,180.0 55.3,179.9 55.4,179.9 55.5,179.2 55.6,179.5 55.7,179.6 55.7,179.7 55.8,179.7 55.9,179.2 56.0,179.5 56.1,179.7 56.1,179.0 56.2,179.7 56.3,178.7 56.4,178.6 56.5,178.4 56.5,179.2 56.6,179.0 56.7,178.9 56.8,179.3 56.9,179.1 56.9,179.1 57.0,179.1 57.1,178.7 57.2,178.4 57.2,178.4 57.3,178.3 57.4,178.3 57.5,178.4 57.6,178.9 57.6,178.2 57.7,177.7 57.8,178.4 57.9,178.5 58.0,178.3 58.0,178.0 58.1,177.6 58.2,178.0 58.3,177.9 58.4,177.9 58.4,178.1 58.5,177.5 58.6,177.5 58.7,177.7 58.8,177.9 58.8,177.4 58.9,177.5 59.0,177.7 59.1,177.7 59.2,177.0 59.2,177.4 59.3,177.3 59.4,177.7 59.5,177.5 59.6,177.1 59.6,177.6 59.7,177.2 59.8,177.3 59.9,177.4 60.0,176.7 60.0,177.0 60.1,177.3 60.2,177.1 60.3,177.3 60.4,176.7 60.4,177.2 60.5,178.2 60.6,179.0 60.7,179.7 60.8,181.0 60.8,182.0 60.9,183.7 61.0,183.8 61.1,185.2 61.2,186.3 61.2,186.1 61.3,187.0 61.4,187.6 61.5,188.4 61.6,188.7 61.6,189.4 61.7,190.3 61.8,191.6 61.9,191.4 62.0,191.5 62.0,193.0 62.1,193.5 62.2,193.9 62.3,192.8 62.3,193.5 62.4,194.9 62.5,194.7 62.6,195.3 62.7,196.1 62.7,195.7 62.8,197.0 62.9,196.4 63.0,197.5 63.1,196.2 63.1,197.5 63.2,197.3 63.3,198.9 63.4,197.5 63.5,198.4 63.5,199.7 63.6,200.0 63.7,199.2 63.8,199.5 63.9,199.4 63.9,199.8 64.0,200.6 64.1,200.8 64.2,200.8 64.3,201.7 64.3,202.2 64.4,201.6 64.5,202.3 64.6,202.5 64.7,202.3 64.7,203.8 64.8,203.8 64.9,204.4 65.0,204.6 65.1,203.7 65.1,204.4 65.2,204.5 65.3,205.4 65.4,203.9 65.5,205.4 65.5,205.5 65.6,205.7 65.7,206.2 65.8,206.4 65.9,208.1 65.9,207.8 66.0,207.3 66.1,207.3 66.2,208.8 66.3,209.4 66.3,208.3 66.4,208.6 66.5,209.1 66.6,209.8 66.7,209.3 66.7,209.2 66.8,210.0 66.9,210.6 67.0,210.0 67.1,211.5 67.1,210.1 67.2,210.7 67.3,210.1 67.4,210.4 67.5,210.7 67.5,210.9 67.6,210.9 67.7,211.2 67.8,211.2 67.8,211.3 67.9,211.8 68.0,212.8 68.1,211.5 68.2,212.1 68.2,212.4 68.3,212.5 68.4,213.8 68.5,212.8 68.6,211.9 68.6,213.0 68.7,213.5 68.8,213.3 68.9,213.2 69.0,213.1 69.0,213.2 69.1,214.3 69.2,213.7 69.3,213.3 69.4,213.0 69.4,213.1 69.5,214.8 69.6,214.6 69.7,214.5 69.8,214.4 69.8,214.6 69.9,216.7 70.0,214.7 70.1,214.9 70.2,214.8 70.2,215.6 70.3,214.7 70.4,214.4 70.5,214.9 70.6,214.3 70.6,213.2 70.7,215.0 70.8,213.3 70.9,215.1 71.0,216.5 71.0,214.4 71.1,216.4 71.2,215.5 71.3,216.5 71.4,215.2 71.4,215.0 71.5,216.0 71.6,215.9 71.7,215.7 71.8,215.5 71.8,215.2 71.9,215.9 72.0,216.8 72.1,215.1 72.2,216.1 72.2,217.2 72.3,215.6 72.4,216.6 72.5,216.7 72.5,217.2 72.6,216.2 72.7,217.7 72.8,216.1 72.9,217.0 72.9,216.9 73.0,217.0 73.1,215.8 73.2,217.1 73.3,216.3 73.3,217.1 73.4,216.2 73.5,217.0 73.6,218.4 73.7,217.7 73.7,217.3 73.8,217.4 73.9,217.5 74.0,217.0 74.1,216.0 74.1,218.3 74.2,218.7 74.3,218.1 74.4,217.6 74.5,217.4 74.5,218.1 74.6,217.4 74.7,218.4 74.8,216.9 74.9,217.8 74.9,217.5 75.0,217.7 75.1,220.0 75.2,219.6 75.3,217.1 75.3,218.6 75.4,217.7 75.5,218.6 75.6,218.2 75.7,218.9 75.7,218.7 75.8,218.2 75.9,217.2 76.0,217.8 76.1,219.4 76.1,218.6 76.2,219.6 76.3,219.5 76.4,219.8 76.5,218.4 76.5,218.7 76.6,218.8 76.7,220.0 76.8,219.7 76.9,219.0 76.9,218.6 77.0,218.0 77.1,218.3 77.2,220.1 77.3,218.6 77.3,219.4 77.4,220.2 77.5,219.3 77.6,218.5 77.7,218.3 77.7,219.7 77.8,218.3 77.9,218.6 78.0,218.8 78.0,219.3 78.1,218.8 78.2,219.5 78.3,220.9 78.4,219.1 78.4,220.5 78.5,218.6 78.6,221.0 78.7,220.4 78.8,218.8 78.8,219.0 78.9,220.5 79.0,219.9 79.1,218.7 79.2,220.8 79.2,219.7 79.3,220.2 79.4,219.1 79.5,220.1 79.6,219.9 79.6,220.5 79.7,220.5 79.8,221.4 79.9,221.3 80.0,219.7 80.0,221.4 80.1,219.2 80.2,221.5 80.3,220.1 80.4,221.8 80.4,221.8 80.5,221.0 80.6,219.0 80.7,220.9 80.8,220.3 80.8,220.7 80.9,220.1 81.0,220.4 81.1,220.7 81.2,220.4 81.2,220.1 81.3,220.3 81.4,221.2 81.5,220.8 81.6,220.2 81.6,222.1 81.7,220.2 81.8,220.2 81.9,219.1 82.0,220.9 82.0,221.2 82.1,221.8 82.2,219.7 82.3,222.1 82.4,220.2 82.4,221.4 82.5,221.0 82.6,221.4 82.7,220.6 82.8,220.5 82.8,221.2 82.9,220.9 83.0,221.6 83.1,223.0 83.1,222.1 83.2,222.1 83.3,223.2 83.4,221.1 83.5,221.8 83.5,221.1 83.6,221.7 83.7,222.7 83.8,222.7 83.9,222.6 83.9,223.8 84.0,221.5 84.1,221.6 84.2,222.1 84.3,222.6 84.3,220.5 84.4,221.4 84.5,223.1 84.6,221.6 84.7,222.9 84.7,223.2 84.8,222.3 84.9,222.0 85.0,222.0 85.1,221.9 85.1,222.1 85.2,222.3 85.3,223.8 85.4,221.3 85.5,222.6 85.5,222.6 85.6,223.8 85.7,224.1 85.8,222.6 85.9,221.6 85.9,222.5 86.0,221.5 86.1,222.9 86.2,223.3 86.3,225.0 86.3,222.5 86.4,222.6 86.5,222.8 86.6,223.6 86.7,223.7 86.7,221.1 86.8,221.8 86.9,222.2 87.0,223.1 87.1,222.1 87.1,220.2 87.2,222.1 87.3,224.2 87.4,223.2 87.5,223.4 87.5,223.7 87.6,221.2 87.7,223.2 87.8,223.1 87.8,223.5 87.9,222.3 88.0,223.6 88.1,222.1 88.2,224.7 88.2,224.0 88.3,222.3 88.4,222.7 88.5,222.9 88.6,222.4 88.6,223.9 88.7,225.0 88.8,222.4 88.9,224.7 89.0,224.3 89.0,222.9 89.1,224.6 89.2,225.5 89.3,224.9 89.4,224.1 89.4,225.0 89.5,223.2 89.6,224.6 89.7,224.0 89.8,223.7 89.8,223.0 89.9,223.9 90.0,222.5 90.1,221.2 90.2,224.2 90.2,222.1 90.3,224.1 90.4,222.0 90.5,224.1 90.6,224.2 90.6,221.6 90.7,223.2 90.8,222.8 90.9,224.2 91.0,223.7 91.0,224.2 91.1,223.3 91.2,224.0 91.3,225.2 91.4,224.2 91.4,224.4 91.5,224.2 91.6,222.8 91.7,225.6 91.8,224.8 91.8,225.0 91.9,222.9 92.0,224.2 92.1,223.2 92.2,222.6 92.2,225.7 92.3,224.2 92.4,224.4 92.5,223.5 92.6,224.2 92.6,222.6 92.7,224.2 92.8,224.0 92.9,224.1 92.9,224.8 93.0,223.8 93.1,225.0 93.2,224.5 93.3,224.2 93.3,224.4 93.4,223.7 93.5,224.1 93.6,227.5 93.7,226.1 93.7,225.3 93.8,224.7 93.9,223.5 94.0,223.2 94.1,224.9 94.1,226.7 94.2,223.7 94.3,224.7 94.4,224.3 94.5,225.0 94.5,225.4 94.6,224.1 94.7,224.8 94.8,224.1 94.9,225.0 94.9,224.1 95.0,225.9 95.1,225.6 95.2,225.4 95.3,225.8 95.3,226.5 95.4,225.3 95.5,224.6 95.6,225.8 95.7,225.5 95.7,225.0 95.8,224.3 95.9,223.2 96.0,226.3 96.1,224.4 96.1,225.0 96.2,225.5 96.3,224.7 96.4,223.9 96.5,223.2 96.5,226.4 96.6,223.2 96.7,224.3 96.8,224.0 96.9,224.9 96.9,224.2 97.0,225.0 97.1,225.2 97.2,225.9 97.3,224.9 97.3,227.3 97.4,229.3 97.5,225.8 97.6,227.7 97.7,225.0 97.7,226.3 97.8,227.0 97.9,227.4 98.0,225.8 98.0,226.9 98.1,226.4 98.2,225.6 98.3,227.0 98.4,226.8 98.4,225.4 98.5,226.5 98.6,224.2 98.7,227.9 98.8,223.9 98.8,226.0 98.9,225.3 99.0,225.4 99.1,226.0 99.2,226.9 99.2,225.5 99.3,227.4 99.4,226.4 99.5,224.2 99.6,226.1 99.6,226.4 99.7,226.4 99.8,228.2 99.9,225.8 100.0,227.0 100.0,225.6 100.1,226.0 100.2,226.0 100.3,226.1 100.4,226.7 100.4,227.0 100.5,226.0 100.6,225.4 100.7,225.4 100.8,228.7 100.8,227.0 100.9,226.9 101.0,226.8 101.1,226.3 101.2,225.3 101.2,225.7 101.3,226.7 101.4,226.8 101.5,226.0 101.6,225.6 101.6,227.3 101.7,226.1 101.8,227.7 101.9,225.5 102.0,226.7 102.0,226.9 102.1,230.2 102.2,225.7 102.3,227.1 102.4,227.8 102.4,228.6 102.5,227.2 102.6,228.0 102.7,228.4 102.8,226.0 102.8,228.2 102.9,228.1 103.0,227.4 103.1,227.9 103.2,226.9 103.2,227.0 103.3,228.7 103.4,228.1 103.5,227.6 103.5,226.1 103.6,227.5 103.7,226.5 103.8,227.9 103.9,228.4 103.9,227.1 104.0,226.9 104.1,227.4 104.2,227.3 104.3,228.7 104.3,229.5 104.4,227.9 104.5,228.4 104.6,227.7 104.7,227.9 104.7,229.5 104.8,229.9 104.9,228.2 105.0,228.3 105.1,226.6 105.1,229.0 105.2,229.5 105.3,227.5 105.4,227.3 105.5,227.7 105.5,228.5 105.6,227.4 105.7,226.9 105.8,227.7 105.9,226.6 105.9,228.1 106.0,227.0 106.1,228.1 106.2,230.1 106.3,229.8 106.3,229.1 106.4,228.8 106.5,229.4 106.6,228.6 106.7,230.4 106.7,228.4 106.8,229.9 106.9,229.4 107.0,229.1 107.1,228.7 107.1,231.8 107.2,229.5 107.3,229.0 107.4,229.1 107.5,229.4 107.5,229.2 107.6,228.0 107.7,228.4 107.8,228.7 107.9,227.6 107.9,228.9 108.0,227.7 108.1,229.1 108.2,228.7 108.2,230.1 108.3,228.8 108.4,228.6 108.5,227.7 108.6,228.9 108.6,227.5 108.7,230.2 108.8,230.3 108.9,229.2 109.0,229.0 109.0,230.4 109.1,228.7 109.2,228.9 109.3,230.1 109.4,229.7 109.4,229.8 109.5,228.1 109.6,229.9 109.7,229.3 109.8,228.3 109.8,228.8 109.9,227.4 110.0,229.3 110.1,227.3 110.2,231.1 110.2,228.8 110.3,229.5 110.4,229.1 110.5,228.0 110.6,228.3 110.6,230.2 110.7,233.0 110.8,230.2 110.9,229.3 111.0,229.7 111.0,229.3 111.1,229.7 111.2,228.8 111.3,230.6 111.4,228.6 111.4,228.5 111.5,229.4 111.6,229.7 111.7,228.0 111.8,231.7 111.8,228.8 111.9,230.2 112.0,228.1 112.1,228.8 112.2,230.2 112.2,230.0 112.3,230.8 112.4,228.9 112.5,230.4 112.6,229.4 112.6,229.7 112.7,230.5 112.8,227.4 112.9,229.1 113.0,230.6 113.0,229.4 113.1,229.4 113.2,230.1 113.3,230.9 113.3,231.2 113.4,230.3 113.5,229.4 113.6,228.4 113.7,228.3 113.7,231.2 113.8,229.9 113.9,226.8 114.0,229.0 114.1,230.1 114.1,229.7 114.2,229.7 114.3,230.3 114.4,227.6 114.5,231.1 114.5,230.8 114.6,230.0 114.7,228.8 114.8,230.8 114.9,230.1 114.9,229.8 115.0,231.0 115.1,230.5 115.2,230.1 115.3,231.4 115.3,229.7 115.4,230.3 115.5,232.4 115.6,231.5 115.7,232.3 115.7,231.8 115.8,231.1 115.9,231.8 116.0,230.8 116.1,230.2 116.1,230.2 116.2,230.4 116.3,230.8 116.4,229.5 116.5,230.6 116.5,229.3 116.6,231.4 116.7,231.4 116.8,231.1 116.9,230.2 116.9,229.9 117.0,230.8 117.1,230.7 117.2,230.6 117.3,231.3 117.3,231.4 117.4,231.5 117.5,231.9 117.6,231.5 117.7,232.5 117.7,230.9 117.8,232.2 117.9,231.3 118.0,231.8 118.1,232.5 118.1,231.8 118.2,231.3 118.3,231.5 118.4,231.6 118.4,229.7 118.5,229.4 118.6,229.0 118.7,231.0 118.8,232.5 118.8,232.1 118.9,228.5 119.0,232.4 119.1,232.9 119.2,230.5 119.2,232.8 119.3,233.0 119.4,230.8 119.5,232.2 119.6,232.3 119.6,230.6 119.7,229.4 119.8,231.2 119.9,231.9 120.0,232.5 120.0,230.6 120.1,232.8 120.2,231.4 120.3,232.8 120.4,231.0 120.4,232.4 120.5,230.6 120.6,230.4 120.7,231.2 120.8,230.1 120.8,231.8 120.9,231.6 121.0,232.6 121.1,232.2 121.2,233.6 121.2,231.2 121.3,231.4 121.4,231.8 121.5,233.1 121.6,230.5 121.6,233.9 121.7,230.8 121.8,232.3 121.9,231.2 122.0,232.7 122.0,232.3 122.1,233.5 122.2,230.2 122.3,232.0 122.4,229.6 122.4,232.2 122.5,231.7 122.6,233.0 122.7,232.7 122.8,230.8 122.8,234.3 122.9,231.4 123.0,232.8 123.1,231.5 123.2,231.1 123.2,234.0 123.3,230.5 123.4,230.7 123.5,233.7 123.5,234.1 123.6,232.8 123.7,232.6 123.8,232.9 123.9,230.8 123.9,233.3 124.0,234.0 124.1,232.4 124.2,233.6 124.3,232.5 124.3,233.3 124.4,231.8 124.5,231.7 124.6,232.5 124.7,232.6 124.7,232.2 124.8,234.3 124.9,232.3 125.0,233.3 125.1,232.6 125.1,230.8 125.2,232.9 125.3,232.9 125.4,233.7 125.5,234.7 125.5,233.0 125.6,231.5 125.7,233.3 125.8,231.1 125.9,231.9 125.9,231.1 126.0,232.8 126.1,232.3 126.2,232.0 126.3,234.1 126.3,233.3 126.4,233.6 126.5,232.5 126.6,235.0 126.7,233.3 126.7,234.6 126.8,232.5 126.9,235.0 127.0,233.3 127.1,233.7 127.1,234.8 127.2,235.4 127.3,234.7 127.4,233.6 127.5,234.2 127.5,232.2 127.6,232.8 127.7,233.4 127.8,233.6 127.9,233.9 127.9,234.4 128.0,232.8 128.1,233.5 128.2,233.0 128.3,231.8 128.3,233.0 128.4,234.0 128.5,233.3 128.6,232.7 128.6,232.7 128.7,232.7 128.8,232.7 128.9,235.0 129.0,233.1 129.0,234.6 129.1,232.3 129.2,232.5 129.3,234.6 129.4,232.5 129.4,233.0 129.5,237.6 129.6,232.9 129.7,234.1 129.8,234.2 129.8,236.1 129.9,232.5 130.0,233.5 130.1,234.3 130.2,236.3 130.2,231.4 130.3,231.2 130.4,233.5 130.5,232.8 130.6,233.9 130.6,232.4 130.7,233.3 130.8,233.2 130.9,232.1 131.0,231.6 131.0,233.5 131.1,230.9 131.2,234.3 131.3,235.2 131.4,232.7 131.4,236.4 131.5,233.7 131.6,231.6 131.7,234.5 131.8,234.2 131.8,235.3 131.9,230.9 132.0,234.3 132.1,233.9 132.2,234.5 132.2,233.9 132.3,235.0 132.4,234.9 132.5,233.2 132.6,233.7 132.6,234.3 132.7,235.6 132.8,232.2 132.9,236.0 133.0,233.3 133.0,233.3 133.1,233.3 133.2,235.1 133.3,234.9 133.4,234.5 133.4,234.7 133.5,232.8 133.6,233.0 133.7,234.6 133.8,235.8 133.8,232.1 133.9,234.0 134.0,235.4 134.1,234.4 134.1,234.6 134.2,235.2 134.3,234.2 134.4,236.8 134.5,232.6 134.5,234.9 134.6,235.3 134.7,234.7 134.8,235.0 134.9,233.4 134.9,234.9 135.0,235.9 135.1,237.1 135.2,235.3 135.3,233.6 135.3,235.6 135.4,234.7 135.5,232.8 135.6,235.5 135.7,235.7 135.7,232.1 135.8,234.1 135.9,235.5 136.0,236.3 136.1,234.8 136.1,234.5 136.2,234.9 136.3,235.4 136.4,233.4 136.5,236.6 136.5,234.8 136.6,237.6 136.7,233.4 136.8,235.8 136.9,235.2 136.9,234.3 137.0,237.3 137.1,234.9 137.2,238.7 137.3,234.5 137.3,235.7 137.4,234.4 137.5,235.8 137.6,233.9 137.7,236.3 137.7,236.9 137.8,233.9 137.9,234.9 138.0,235.1 138.1,235.2 138.1,235.7 138.2,236.3 138.3,234.6 138.4,235.3 138.5,235.2 138.5,237.4 138.6,236.1 138.7,236.3 138.8,236.4 138.8,235.7 138.9,236.5 139.0,235.7 139.1,234.7 139.2,235.5 139.2,236.3 139.3,236.0 139.4,235.1 139.5,234.1 139.6,236.7 139.6,235.9 139.7,233.4 139.8,235.7 139.9,236.9 140.0,236.2 140.0,235.7 140.1,235.3 140.2,236.0 140.3,237.0 140.4,234.9 140.4,233.1 140.5,236.9 140.6,236.4 140.7,235.7 140.8,236.7 140.8,235.1 140.9,236.6 141.0,237.3 141.1,237.1 141.2,236.3 141.2,235.6 141.3,235.2 141.4,233.8 141.5,236.9 141.6,237.7 141.6,236.6 141.7,235.9 141.8,238.0 141.9,236.8 142.0,237.5 142.0,235.8 142.1,238.3 142.2,237.9 142.3,238.6 142.4,236.8 142.4,235.3 142.5,238.5 142.6,234.8 142.7,234.9 142.8,238.7 142.8,236.2 142.9,234.5 143.0,233.9 143.1,235.6 143.2,241.5 143.2,236.3 143.3,236.0 143.4,237.8 143.5,235.2 143.6,237.7 143.6,238.1 143.7,234.0 143.8,236.9 143.9,236.6 143.9,239.4 144.0,236.5 144.1,238.3 144.2,238.1 144.3,236.9 144.3,236.7 144.4,234.4 144.5,235.6 144.6,235.9 144.7,235.2 144.7,236.7 144.8,236.1 144.9,239.4 145.0,235.9 145.1,237.1 145.1,237.5 145.2,234.9 145.3,235.1 145.4,236.6 145.5,235.8 145.5,238.4 145.6,238.5 145.7,235.1 145.8,238.2 145.9,236.8 145.9,237.3 146.0,237.8 146.1,238.4 146.2,238.5 146.3,236.1 146.3,238.2 146.4,239.5 146.5,238.7 146.6,237.5 146.7,238.0 146.7,234.6 146.8,236.4 146.9,237.4 147.0,238.0 147.1,234.3 147.1,236.9 147.2,239.0 147.3,237.0 147.4,236.8 147.5,237.7 147.5,236.9 147.6,237.1 147.7,240.7 147.8,236.5 147.9,235.6 147.9,239.2 148.0,236.6 148.1,237.1 148.2,239.2 148.3,236.7 148.3,237.0 148.4,236.5 148.5,237.3 148.6,237.4 148.7,235.9 148.7,235.9 148.8,237.1 148.9,237.4 149.0,237.1 149.1,239.2 149.1,235.9 149.2,237.9 149.3,240.9 149.4,235.8 149.4,238.2 149.5,240.4 149.6,237.8 149.7,238.3 149.8,237.2 149.8,238.4 149.9,237.0 150.0,237.4 150.1,238.4 150.2,239.0 150.2,237.0 150.3,237.9 150.4,239.0 150.5,237.5 150.6,236.0 150.6,235.1 150.7,238.2 150.8,237.3 150.9,237.4 151.0,238.1 151.0,238.5 151.1,238.1 151.2,240.6 151.3,236.9 151.4,236.4 151.4,237.9 151.5,238.1 151.6,238.9 151.7,236.4 151.8,236.4 151.8,239.5 151.9,238.8 152.0,236.2 152.1,239.4 152.2,239.7 152.2,239.0 152.3,240.2 152.4,239.5 152.5,238.2 152.6,236.9 152.6,240.2 152.7,237.4 152.8,235.5 152.9,237.1 153.0,237.8 153.0,240.9 153.1,238.3 153.2,239.2 153.3,241.3 153.4,238.2 153.4,239.0 153.5,238.6 153.6,237.8 153.7,240.3 153.8,238.7 153.8,240.1 153.9,240.4 154.0,237.1 154.1,240.0 154.1,239.7 154.2,238.8 154.3,235.9 154.4,238.5 154.5,237.4 154.5,237.0 154.6,238.9 154.7,237.0 154.8,238.5 154.9,239.4 154.9,238.9 155.0,239.7 155.1,236.6 155.2,239.5 155.3,241.1 155.3,238.8 155.4,240.5 155.5,238.8 155.6,240.5 155.7,238.9 155.7,241.2 155.8,237.7 155.9,237.9 156.0,241.6 156.1,237.4 156.1,238.3 156.2,235.6 156.3,237.3 156.4,239.1 156.5,241.0 156.5,238.3 156.6,237.0 156.7,240.6 156.8,235.7 156.9,237.8 156.9,238.6 157.0,239.5 157.1,238.5 157.2,238.7 157.3,240.7 157.3,238.0 157.4,237.5 157.5,241.2 157.6,237.0 157.7,239.0 157.7,238.0 157.8,236.8 157.9,240.7 158.0,239.9 158.1,238.7 158.1,239.1 158.2,239.4 158.3,239.9 158.4,241.4 158.5,241.6 158.5,240.9 158.6,239.0 158.7,240.4 158.8,239.6 158.9,239.3 158.9,242.2 159.0,242.1 159.1,240.6 159.2,238.5 159.2,241.2 159.3,237.7 159.4,239.9 159.5,239.3 159.6,241.2 159.6,238.8 159.7,240.7 159.8,236.4 159.9,239.8 160.0,239.2 160.0,240.4 160.1,238.5 160.2,239.8 160.3,238.2 160.4,239.7 160.4,241.4 160.5,239.0 160.6,240.0 160.7,238.7 160.8,238.4 160.8,238.5 160.9,240.1 161.0,238.2 161.1,239.0 161.2,236.8 161.2,240.4 161.3,241.0 161.4,237.8 161.5,239.8 161.6,240.7 161.6,244.7 161.7,239.9 161.8,239.7 161.9,239.9 162.0,239.9 162.0,242.3 162.1,237.6 162.2,237.5 162.3,238.7 162.4,239.8 162.4,239.1 162.5,241.8 162.6,239.2 162.7,238.1 162.8,241.0 162.8,243.5 162.9,241.0 163.0,243.3 163.1,240.3 163.2,238.3 163.2,240.8 163.3,239.5 163.4,239.8 163.5,239.2 163.6,241.7 163.6,238.7 163.7,236.4 163.8,238.2 163.9,240.5 164.0,240.3 164.0,239.2 164.1,239.0 164.2,240.4 164.3,236.8 164.3,240.6 164.4,238.2 164.5,241.2 164.6,240.4 164.7,238.7 164.7,240.1 164.8,240.1 164.9,238.9 165.0,239.8 165.1,238.2 165.1,240.9 165.2,242.2 165.3,237.5 165.4,239.3 165.5,241.1 165.5,238.6 165.6,242.8 165.7,239.9 165.8,240.1 165.9,244.5 165.9,240.3 166.0,239.3 166.1,238.3 166.2,241.0 166.3,241.5 166.3,243.9 166.4,240.3 166.5,242.1 166.6,242.0 166.7,242.9 166.7,241.2 166.8,238.7 166.9,240.4 167.0,243.0 167.1,240.2 167.1,237.8 167.2,241.3 167.3,238.8 167.4,243.1 167.5,240.0 167.5,241.4 167.6,240.0 167.7,239.7 167.8,241.6 167.9,240.7 167.9,239.9 168.0,240.8 168.1,240.8 168.2,241.1 168.3,239.9 168.3,241.1 168.4,240.9 168.5,241.1 168.6,240.4 168.7,238.5 168.7,240.4 168.8,239.8 168.9,239.4 169.0,241.3 169.1,242.9 169.1,240.8 169.2,241.7 169.3,239.8 169.4,240.2 169.4,240.8 169.5,242.5 169.6,241.1 169.7,243.1 169.8,241.7 169.8,240.9 169.9,242.2 170.0,239.8 170.1,240.4 170.2,239.9 170.2,240.4 170.3,243.1 170.4,246.4 170.5,244.8 170.6,241.5 170.6,242.0 170.7,242.1 170.8,240.7 170.9,240.5 171.0,240.3 171.0,240.7 171.1,240.6 171.2,238.8 171.3,242.1 171.4,240.4 171.4,240.8 171.5,240.1 171.6,240.2 171.7,240.8 171.8,241.4 171.8,242.3 171.9,239.2 172.0,243.8 172.1,241.9 172.2,240.8 172.2,244.0 172.3,242.1 172.4,239.0 172.5,243.3 172.6,245.8 172.6,240.5 172.7,242.2 172.8,246.2 172.9,240.3 173.0,242.0 173.0,239.3 173.1,242.0 173.2,243.1 173.3,243.8 173.4,243.6 173.4,240.9 173.5,241.5 173.6,241.5 173.7,241.7 173.8,244.3 173.8,242.6 173.9,242.6 174.0,244.0 174.1,243.5 174.2,246.2 174.2,240.9 174.3,242.6 174.4,243.3 174.5,243.6 174.5,244.0 174.6,242.6 174.7,240.0 174.8,244.3 174.9,241.2 174.9,243.0 175.0,244.2 175.1,242.5 175.2,241.9 175.3,241.2 175.3,242.2 175.4,244.7 175.5,239.9 175.6,242.5 175.7,243.4 175.7,241.5 175.8,241.0 175.9,245.8 176.0,244.7 176.1,242.8 176.1,241.4 176.2,241.9 176.3,240.9 176.4,242.2 176.5,241.9 176.5,240.4 176.6,243.7 176.7,242.6 176.8,242.7 176.9,242.3 176.9,243.5 177.0,242.0 177.1,245.9 177.2,242.5 177.3,239.7 177.3,240.9 177.4,244.5 177.5,241.5 177.6,242.5 177.7,241.7 177.7,241.0 177.8,241.5 177.9,243.9 178.0,242.0 178.1,244.5 178.1,242.9 178.2,243.3 178.3,241.5 178.4,240.2 178.5,241.8 178.5,241.8 178.6,242.2 178.7,243.9 178.8,240.2 178.9,242.0 178.9,242.1 179.0,244.3 179.1,242.2 179.2,244.2 179.3,241.7 179.3,241.4 179.4,244.0 179.5,244.6 179.6,244.9 179.6,243.4 179.7,245.9 179.8,242.2 179.9,241.8 180.0,246.0 180.0,241.9 180.1,244.3 180.2,239.3 180.3,241.7 180.4,243.8 180.4,244.3 180.5,241.3 180.6,242.7 180.7,244.0 180.8,242.8 180.8,245.7 180.9,243.1 181.0,241.5 181.1,244.3 181.2,243.7 181.2,243.8 181.3,240.1 181.4,243.0 181.5,243.7 181.6,242.1 181.6,243.4 181.7,240.2 181.8,239.8 181.9,243.7 182.0,244.2 182.0,243.4 182.1,245.3 182.2,245.0 182.3,243.6 182.4,241.5 182.4,244.7 182.5,245.0 182.6,242.5 182.7,242.9 182.8,245.6 182.8,244.4 182.9,241.2 183.0,243.3 183.1,241.6 183.2,243.2 183.2,240.5 183.3,243.0 183.4,242.9 183.5,241.6 183.6,241.0 183.6,242.8 183.7,240.8 183.8,241.9 183.9,243.2 184.0,241.3 184.0,240.4 184.1,241.8 184.2,241.4 184.3,246.2 184.4,240.0 184.4,244.9 184.5,240.5 184.6,242.2 184.7,241.5 184.8,241.8 184.8,243.9 184.9,242.4 185.0,241.9 185.1,240.6 185.1,242.4 185.2,244.1 185.3,244.1 185.4,245.7 185.5,246.7 185.5,245.4 185.6,244.1 185.7,245.8 185.8,243.7 185.9,246.5 185.9,241.2 186.0,243.1 186.1,243.7 186.2,242.8 186.3,243.5 186.3,245.7 186.4,239.7 186.5,247.2 186.6,242.3 186.7,244.4 186.7,241.1 186.8,241.4 186.9,245.2 187.0,242.6 187.1,242.5 187.1,243.8 187.2,243.2 187.3,245.5 187.4,247.0 187.5,244.5 187.5,241.3 187.6,248.6 187.7,241.9 187.8,243.8 187.9,246.1 187.9,244.2 188.0,243.3 188.1,244.8 188.2,245.9 188.3,244.0 188.3,244.5 188.4,241.5 188.5,243.6 188.6,243.3 188.7,243.4 188.7,243.0 188.8,244.2 188.9,243.3 189.0,244.6 189.1,242.7 189.1,243.0 189.2,245.6 189.3,245.7 189.4,247.1 189.5,242.8 189.5,243.7 189.6,242.0 189.7,245.7 189.8,243.6 189.8,245.5 189.9,242.8 190.0,239.7 190.1,246.5 190.2,240.8 190.2,242.8 190.3,245.4 190.4,242.3 190.5,244.7 190.6,246.0 190.6,245.0 190.7,242.1 190.8,243.8 190.9,246.8 191.0,245.0 191.0,243.2 191.1,241.7 191.2,244.9 191.3,245.3 191.4,244.6 191.4,243.4 191.5,242.9 191.6,246.7 191.7,246.5 191.8,242.4 191.8,242.2 191.9,243.9 192.0,242.6 192.1,244.4 192.2,245.3 192.2,247.3 192.3,244.2 192.4,242.6 192.5,246.0 192.6,245.5 192.6,243.6 192.7,244.8 192.8,246.1 192.9,244.2 193.0,244.2 193.0,245.4 193.1,241.1 193.2,244.0 193.3,245.4 193.4,245.3 193.4,242.3 193.5,246.1 193.6,245.6 193.7,245.6 193.8,241.4 193.8,245.9 193.9,246.2 194.0,244.9 194.1,241.9 194.2,243.9 194.2,246.4 194.3,245.7 194.4,247.4 194.5,244.5 194.6,243.3 194.6,244.1 194.7,244.9 194.8,245.4 194.9,240.6 194.9,246.2 195.0,244.6 195.1,245.4 195.2,244.4 195.3,245.1 195.3,245.1 195.4,241.7 195.5,240.8 195.6,241.3 195.7,242.5 195.7,243.7 195.8,247.6 195.9,243.4 196.0,243.7 196.1,244.7 196.1,244.7 196.2,247.4 196.3,247.2 196.4,246.2 196.5,243.2 196.5,243.6 196.6,243.3 196.7,244.7 196.8,247.4 196.9,244.1 196.9,243.6 197.0,245.0 197.1,242.7 197.2,244.5 197.3,243.5 197.3,243.3 197.4,243.6 197.5,244.1 197.6,242.6 197.7,243.3 197.7,247.0 197.8,244.5 197.9,247.9 198.0,242.0 198.1,241.2 198.1,246.1 198.2,244.8 198.3,244.5 198.4,243.7 198.5,245.3 198.5,244.5 198.6,246.1 198.7,242.3 198.8,242.4 198.9,246.1 198.9,244.5 199.0,244.2 199.1,243.0 199.2,242.8 199.3,245.2 199.3,242.8 199.4,244.0 199.5,243.2 199.6,245.6 199.7,245.4 199.7,247.6 199.8,245.2 199.9,242.8 200.0,245.1 200.0,247.1 200.1,245.2 200.2,241.3 200.3,246.4 200.4,243.1 200.4,244.7 200.5,244.1 200.6,242.1 200.7,241.5 200.8,247.6 200.8,241.3 200.9,244.6 201.0,245.7 201.1,243.5 201.2,246.5 201.2,246.2 201.3,244.1 201.4,246.0 201.5,245.7 201.6,245.8 201.6,246.7 201.7,246.0 201.8,245.0 201.9,243.0 202.0,247.0 202.0,245.5 202.1,244.4 202.2,245.3 202.3,249.1 202.4,245.8 202.4,246.1 202.5,244.4 202.6,244.0 202.7,245.6 202.8,246.0 202.8,247.5 202.9,246.8 203.0,244.3 203.1,246.5 203.2,244.5 203.2,243.4 203.3,249.1 203.4,246.5 203.5,247.3 203.6,244.5 203.6,244.9 203.7,244.8 203.8,243.6 203.9,246.8 204.0,245.1 204.0,245.3 204.1,245.4 204.2,245.7 204.3,244.1 204.4,244.6 204.4,243.4 204.5,244.8 204.6,244.8 204.7,246.2 204.8,244.6 204.8,246.4 204.9,244.0 205.0,246.1 205.1,245.2 205.1,246.7 205.2,246.2 205.3,244.7 205.4,243.4 205.5,244.1 205.5,243.6 205.6,242.2 205.7,243.5 205.8,246.7 205.9,246.5 205.9,245.4 206.0,244.7 206.1,244.2 206.2,244.7 206.3,246.7 206.3,244.4 206.4,246.5 206.5,250.0 206.6,248.9 206.7,243.8 206.7,248.4 206.8,245.2 206.9,246.7 207.0,245.8 207.1,248.9 207.1,243.9 207.2,244.0 207.3,245.8 207.4,243.0 207.5,240.8 207.5,245.1 207.6,247.9 207.7,246.5 207.8,248.1 207.9,240.5 207.9,247.2 208.0,245.6 208.1,243.6 208.2,249.5 208.3,244.2 208.3,247.9 208.4,244.3 208.5,243.1 208.6,241.3 208.7,246.6 208.7,247.9 208.8,246.5 208.9,248.5 209.0,247.9 209.1,244.5 209.1,249.3 209.2,246.4 209.3,244.9 209.4,247.9 209.5,247.0 209.5,242.5 209.6,246.4 209.7,242.5 209.8,246.6 209.9,245.1 209.9,245.6 210.0,245.9 210.1,243.5 210.2,245.9 210.2,247.1 210.3,247.1 210.4,244.7 210.5,247.3 210.6,244.4 210.6,246.0 210.7,246.0 210.8,246.2 210.9,247.3 211.0,243.9 211.0,246.2 211.1,245.2 211.2,244.5 211.3,243.9 211.4,244.2 211.4,250.0 211.5,247.8 211.6,247.1 211.7,249.0 211.8,245.2 211.8,246.5 211.9,248.8 212.0,247.6 212.1,248.0 212.2,243.3 212.2,246.5 212.3,244.0 212.4,246.2 212.5,246.2 212.6,248.2 212.6,246.5 212.7,245.6 212.8,244.5 212.9,245.6 213.0,250.4 213.0,247.2 213.1,244.0 213.2,245.5 213.3,246.7 213.4,245.3 213.4,249.5 213.5,246.1 213.6,248.7 213.7,244.0 213.8,244.1 213.8,243.4 213.9,242.8 214.0,246.5 214.1,245.3 214.2,250.6 214.2,244.9 214.3,244.8 214.4,245.9 214.5,248.1 214.6,245.6 214.6,247.7 214.7,244.9 214.8,245.6 214.9,244.1 215.0,243.5 215.0,244.7 215.1,246.2 215.2,243.0 215.3,249.5 215.3,244.1 215.4,244.2 215.5,246.1 215.6,247.3 215.7,248.1 215.7,244.1 215.8,247.5 215.9,246.9 216.0,244.1 216.1,246.9 216.1,251.4 216.2,246.0 216.3,250.1 216.4,245.4 216.5,249.4 216.5,246.2 216.6,242.4 216.7,245.3 216.8,248.8 216.9,250.1 216.9,244.4 217.0,247.8 217.1,248.0 217.2,248.0 217.3,248.2 217.3,248.0 217.4,248.2 217.5,248.2 217.6,245.1 217.7,246.0 217.7,246.7 217.8,247.8 217.9,248.0 218.0,246.3 218.1,248.2 218.1,246.2 218.2,250.0 218.3,243.7 218.4,245.1 218.5,243.4 218.5,248.8 218.6,247.8 218.7,246.3 218.8,244.8 218.9,244.8 218.9,249.2 219.0,247.2 219.1,248.9 219.2,247.8 219.3,246.3 219.3,245.9 219.4,245.8 219.5,244.1 219.6,247.4 219.7,244.9 219.7,243.0 219.8,245.1 219.9,245.2 220.0,247.2 220.1,249.3 220.1,253.7 220.2,244.6 220.3,247.7 220.4,246.8 220.4,243.9 220.5,246.1 220.6,247.0 220.7,247.0 220.8,244.4 220.8,246.2 220.9,248.9 221.0,243.6 221.1,246.1 221.2,246.4 221.2,247.1 221.3,247.3 221.4,246.8 221.5,245.7 221.6,245.7 221.6,249.3 221.7,246.6 221.8,246.2 221.9,242.4 222.0,246.2 222.0,248.3 222.1,247.1 222.2,248.1 222.3,246.4 222.4,245.7 222.4,249.9 222.5,247.7 222.6,249.9 222.7,247.3 222.8,246.0 222.8,245.7 222.9,247.3 223.0,247.6 223.1,246.4 223.2,245.5 223.2,244.3 223.3,244.6 223.4,248.6 223.5,249.4 223.6,248.2 223.6,245.1 223.7,247.1 223.8,245.6 223.9,248.8 224.0,247.6 224.0,246.5 224.1,250.1 224.2,245.8 224.3,249.4 224.4,246.1 224.4,247.0 224.5,248.6 224.6,246.0 224.7,249.2 224.8,245.1 224.8,246.5 224.9,246.3 225.0,248.8 225.1,248.6 225.2,246.8 225.2,253.3 225.3,245.8 225.4,251.6 225.5,248.6 225.5,246.3 225.6,245.2 225.7,250.2 225.8,245.1 225.9,247.2 225.9,242.7 226.0,246.8 226.1,245.4 226.2,248.9 226.3,247.4 226.3,249.8 226.4,248.3 226.5,248.3 226.6,248.7 226.7,247.9 226.7,245.4 226.8,247.2 226.9,249.1 227.0,249.7 227.1,246.1 227.1,245.4 227.2,244.9 227.3,247.0 227.4,251.1 227.5,247.5 227.5,248.3 227.6,248.3 227.7,246.0 227.8,247.5 227.9,251.1 227.9,249.7 228.0,250.4 228.1,245.5 228.2,247.9 228.3,245.8 228.3,247.3 228.4,246.9 228.5,246.6 228.6,248.1 228.7,246.9 228.7,251.0 228.8,248.3 228.9,246.5 229.0,247.1 229.1,247.7 229.1,246.9 229.2,247.7 229.3,243.7 229.4,248.4 229.5,248.0 229.5,247.3 229.6,246.2 229.7,251.5 229.8,248.0 229.9,253.4 229.9,247.6 230.0,248.8 230.1,251.0 230.2,248.0 230.3,249.2 230.3,250.1 230.4,248.2 230.5,248.6 230.6,248.2 230.6,252.6 230.7,247.4 230.8,245.8 230.9,248.4 231.0,247.4 231.0,249.0 231.1,250.3 231.2,250.5 231.3,250.9 231.4,249.8 231.4,253.7 231.5,245.9 231.6,248.8 231.7,246.6 231.8,247.4 231.8,247.6 231.9,249.4 232.0,253.1 232.1,248.4 232.2,249.2 232.2,254.4 232.3,248.1 232.4,248.3 232.5,247.0 232.6,248.1 232.6,245.5 232.7,248.9 232.8,251.8 232.9,245.2 233.0,250.7 233.0,251.4 233.1,247.0 233.2,247.5 233.3,249.8 233.4,247.5 233.4,248.5 233.5,250.2 233.6,247.3 233.7,247.7 233.8,249.3 233.8,247.3 233.9,248.9 234.0,247.9 234.1,246.9 234.2,251.6 234.2,251.1 234.3,244.3 234.4,249.3 234.5,250.4 234.6,248.7 234.6,249.7 234.7,249.1 234.8,248.1 234.9,249.7 235.0,250.4 235.0,249.1 235.1,247.9 235.2,247.1 235.3,245.3 235.4,249.1 235.4,244.9 235.5,250.8 235.6,247.3 235.7,251.8 235.8,249.7 235.8,246.7 235.9,250.8 236.0,248.8 236.1,251.5 236.1,245.6 236.2,253.0 236.3,247.1 236.4,247.8 236.5,249.2 236.5,246.9 236.6,250.3 236.7,251.5 236.8,247.8 236.9,247.6 236.9,246.1 237.0,251.0 237.1,248.2 237.2,249.7 237.3,248.2 237.3,249.4 237.4,250.1 237.5,248.8 237.6,247.2 237.7,247.6 237.7,249.9 237.8,244.9 237.9,246.1 238.0,247.4 238.1,249.6 238.1,247.2 238.2,248.2 238.3,247.8 238.4,248.4 238.5,246.1 238.5,253.7 238.6,246.2 238.7,249.0 238.8,247.4 238.9,249.2 238.9,247.5 239.0,249.4 239.1,250.3 239.2,245.7 239.3,247.2 239.3,250.0 239.4,249.4 239.5,248.3 239.6,253.4 239.7,251.6 239.7,251.6 239.8,250.7 239.9,247.5 240.0,246.6 240.1,249.1 240.1,248.3 240.2,246.6 240.3,250.9 240.4,251.4 240.5,250.2 240.5,252.1 240.6,252.6 240.7,247.3 240.8,252.3 240.8,248.7 240.9,246.0 241.0,246.7 241.1,251.3 241.2,248.7 241.2,250.0 241.3,249.7 241.4,248.1 241.5,250.2 241.6,248.9 241.6,249.5 241.7,246.1 241.8,246.5 241.9,250.9 242.0,249.9 242.0,249.3 242.1,249.9 242.2,248.4 242.3,250.8 242.4,248.0 242.4,248.0 242.5,250.8 242.6,249.3 242.7,246.7 242.8,244.7 242.8,253.0 242.9,247.8 243.0,249.9 243.1,249.0 243.2,247.6 243.2,249.9 243.3,249.0 243.4,252.0 243.5,248.0 243.6,246.8 243.6,251.5 243.7,249.9 243.8,250.6 243.9,246.6 244.0,249.4 244.0,251.7 244.1,249.0 244.2,249.0 244.3,246.8 244.4,249.6 244.4,248.0 244.5,252.2 244.6,249.9 244.7,247.4 244.8,249.0 244.8,249.4 244.9,247.8 245.0,248.6 245.1,253.5 245.2,245.9 245.2,249.4 245.3,249.8 245.4,249.2 245.5,246.2 245.6,247.7 245.6,247.7 245.7,249.0 245.8,250.3 245.9,251.4 245.9,249.4 246.0,248.3 246.1,248.1 246.2,250.7 246.3,248.5 246.3,252.2 246.4,251.7 246.5,249.4 246.6,250.0 246.7,250.7 246.7,248.9 246.8,250.0 246.9,250.5 247.0,251.2 247.1,249.8 247.1,247.3 247.2,250.2 247.3,248.5 247.4,250.9 247.5,246.7 247.5,251.4 247.6,250.4 247.7,248.1 247.8,242.9 247.9,252.4 247.9,250.2 248.0,248.3 248.1,249.8 248.2,249.3 248.3,250.7 248.3,252.9 248.4,251.4 248.5,249.1 248.6,251.1 248.7,252.1 248.7,250.9 248.8,246.1 248.9,249.5 249.0,250.6 249.1,247.0 249.1,250.4 249.2,250.2 249.3,249.9 249.4,249.3 249.5,246.8 249.5,248.2 249.6,250.2 249.7,247.8 249.8,252.3 249.9,249.3 249.9,249.3 250.0,250.4 250.1,248.4 250.2,248.2 250.3,252.0 250.3,249.5 250.4,247.6 250.5,250.4 250.6,252.3 250.7,250.6 250.7,249.0 250.8,250.8 250.9,253.1 251.0,250.3 251.0,246.6 251.1,253.0 251.2,248.2 251.3,249.4 251.4,247.2 251.4,248.8 251.5,245.1 251.6,250.3 251.7,250.1 251.8,249.9 251.8,251.0 251.9,253.6 252.0,248.6 252.1,254.4 252.2,251.0 252.2,247.3 252.3,252.0 252.4,248.5 252.5,246.9 252.6,252.2 252.6,250.8 252.7,249.6 252.8,247.1 252.9,251.0 253.0,250.7 253.0,250.3 253.1,249.2 253.2,248.3 253.3,245.6 253.4,251.4 253.4,249.8 253.5,249.6 253.6,252.4 253.7,251.4 253.8,249.1 253.8,250.2 253.9,250.7 254.0,251.4 254.1,250.9 254.2,247.9 254.2,250.0 254.3,252.2 254.4,246.9 254.5,248.7 254.6,251.7 254.6,249.1 254.7,249.3 254.8,249.5 254.9,250.0 255.0,250.9 255.0,252.4 255.1,251.1 255.2,249.8 255.3,251.6 255.4,249.3 255.4,250.2 255.5,250.2 255.6,256.4 255.7,247.8 255.8,255.7 255.8,249.5 255.9,248.6 256.0,255.1 256.1,250.2 256.1,252.1 256.2,249.9 256.3,248.6 256.4,249.9 256.5,251.6 256.5,251.1 256.6,249.0 256.7,254.2 256.8,247.4 256.9,251.8 256.9,251.8 257.0,255.1 257.1,250.4 257.2,249.9 257.3,249.9 257.3,249.7 257.4,253.7 257.5,251.3 257.6,250.1 257.7,251.1 257.7,250.1 257.8,252.6 257.9,248.0 258.0,252.6 258.1,251.8 258.1,252.3 258.2,251.8 258.3,249.2 258.4,248.6 258.5,253.1 258.5,251.5 258.6,249.4 258.7,256.6 258.8,251.0 258.9,255.0 258.9,249.9 259.0,250.1 259.1,256.9 259.2,249.2 259.3,251.0 259.3,252.8 259.4,252.8 259.5,247.7 259.6,249.2 259.7,252.5 259.7,250.1 259.8,249.6 259.9,251.7 260.0,250.8 260.1,250.1 260.1,252.5 260.2,255.0 260.3,249.1 260.4,251.0 260.5,253.6 260.5,250.3 260.6,250.3 260.7,249.8 260.8,248.9 260.9,249.8 260.9,250.7 261.0,256.2 261.1,248.1 261.2,250.0 261.2,253.0 261.3,253.0 261.4,248.9 261.5,250.9 261.6,251.7 261.6,249.5 261.7,252.4 261.8,250.2 261.9,252.7 262.0,250.5 262.0,249.8 262.1,253.2 262.2,249.8 262.3,256.5 262.4,251.4 262.4,250.9 262.5,248.9 262.6,254.6 262.7,253.8 262.8,251.4 262.8,251.1 262.9,250.4 263.0,253.5 263.1,250.9 263.2,254.6 263.2,250.2 263.3,252.4 263.4,247.6 263.5,253.8 263.6,251.4 263.6,254.3 263.7,252.4 263.8,249.5 263.9,251.4 264.0,252.4 264.0,248.2 264.1,250.9 264.2,247.0 264.3,252.4 264.4,251.1 264.4,254.3 264.5,252.1 264.6,251.9 264.7,251.4 264.8,250.2 264.8,252.6 264.9,251.6 265.0,251.4 265.1,248.4 265.2,253.7 265.2,248.2 265.3,251.8 265.4,249.0 265.5,252.4 265.6,249.9 265.6,252.4 265.7,256.1 265.8,250.6 265.9,253.7 266.0,249.9 266.0,253.7 266.1,251.3 266.2,252.9 266.3,250.4 266.4,254.3 266.4,247.9 266.5,252.1 266.6,252.1 266.7,251.1 266.7,252.6 266.8,250.8 266.9,249.7 267.0,249.9 267.1,248.3 267.1,247.1 267.2,254.8 267.3,253.1 267.4,250.8 267.5,251.6 267.5,252.8 267.6,249.4 267.7,253.7 267.8,248.1 267.9,251.0 267.9,252.8 268.0,251.5 268.1,253.7 268.2,251.3 268.3,253.1 268.3,253.4 268.4,252.3 268.5,252.6 268.6,251.0 268.7,252.6 268.7,250.5 268.8,248.9 268.9,248.3 269.0,248.5 269.1,248.1 269.1,252.8 269.2,251.3 269.3,250.8 269.4,251.0 269.5,252.5 269.5,252.8 269.6,253.1 269.7,246.7 269.8,248.3 269.9,252.8 269.9,253.3 270.0,253.1 270.1,248.5 270.2,251.3 270.3,252.8 270.3,253.1 270.4,249.8 270.5,250.0 270.6,251.0 270.7,250.3 270.7,253.1 270.8,253.9 270.9,250.7 271.0,254.2 271.1,252.8 271.1,253.3 271.2,251.5 271.3,252.0 271.4,251.5 271.4,250.3 271.5,252.2 271.6,249.1 271.7,252.0 271.8,250.0 271.8,249.3 271.9,249.8 272.0,250.7 272.1,248.9 272.2,255.3 272.2,252.0 272.3,249.3 272.4,249.1 272.5,252.8 272.6,252.5 272.6,249.5 272.7,248.7 272.8,252.5 272.9,249.3 273.0,253.3 273.0,252.5 273.1,249.3 273.2,250.0 273.3,251.9 273.4,253.0 273.4,250.5 273.5,255.3 273.6,252.5 273.7,250.7 273.8,253.8 273.8,252.5 273.9,256.3 274.0,253.5 274.1,253.0 274.2,253.8 274.2,249.7 274.3,248.2 274.4,250.9 274.5,248.4 274.6,251.4 274.6,253.8 274.7,255.6 274.8,251.4 274.9,254.4 275.0,253.8 275.0,251.4 275.1,254.4 275.2,254.1 275.3,252.7 275.4,249.0 275.4,252.2 275.5,249.0 275.6,247.5 275.7,250.4 275.8,254.4 275.8,250.2 275.9,249.9 276.0,254.4 276.1,253.8 276.2,255.0 276.2,249.7 276.3,250.6 276.4,254.7 276.5,251.4 276.5,251.6 276.6,247.3 276.7,252.7 276.8,254.4 276.9,248.6 276.9,247.3 277.0,254.3 277.1,255.2 277.2,252.9 277.3,251.6 277.3,253.5 277.4,257.9 277.5,253.5 277.6,253.8 277.7,251.9 277.7,252.6 277.8,254.6 277.9,254.9 278.0,251.1 278.1,253.2 278.1,252.6 278.2,255.5 278.3,249.4 278.4,251.8 278.5,251.3 278.5,253.2 278.6,258.2 278.7,254.3 278.8,252.6 278.9,254.9 278.9,249.6 279.0,249.6 279.1,251.6 279.2,254.0 279.3,251.3 279.3,253.4 279.4,254.9 279.5,249.6 279.6,252.6 279.7,250.8 279.7,250.1 279.8,250.6 279.9,250.8 280.0,250.6 280.1,257.1 280.1,252.1 280.2,256.5 280.3,250.8 280.4,253.4 280.5,248.7 280.5,251.8 280.6,253.7 280.7,255.5 280.8,256.1 280.9,250.3 280.9,250.3 281.0,255.5 281.1,254.6 281.2,254.9 281.3,252.0 281.3,254.3 281.4,252.8 281.5,252.3 281.6,250.1 281.6,251.0 281.7,250.5 281.8,255.2 281.9,257.8 282.0,250.3 282.0,252.3 282.1,247.6 282.2,249.8 282.3,249.1 282.4,251.5 282.4,254.5 282.5,249.1 282.6,251.8 282.7,252.8 282.8,250.5 282.8,250.0 282.9,253.9 283.0,252.5 283.1,253.6 283.2,254.5 283.2,251.8 283.3,251.5 283.4,249.6 283.5,253.9 283.6,251.7 283.6,255.4 283.7,252.0 283.8,247.8 283.9,251.5 284.0,248.2 284.0,252.5 284.1,252.8 284.2,252.8 284.3,252.5 284.4,255.4 284.4,259.2 284.5,254.5 284.6,255.4 284.7,251.2 284.8,252.0 284.8,251.0 284.9,254.2 285.0,253.9 285.1,253.6 285.2,249.3 285.2,254.5 285.3,252.0 285.4,250.5 285.5,251.5 285.6,251.4 285.6,253.6 285.7,250.7 285.8,251.7 285.9,250.7 286.0,254.5 286.0,251.7 286.1,255.1 286.2,248.2 286.3,256.0 286.4,248.8 286.4,253.3 286.5,249.7 286.6,250.2 286.7,248.4 286.8,251.7 286.8,255.4 286.9,253.0 287.0,251.4 287.1,252.2 287.1,248.4 287.2,253.0 287.3,252.2 287.4,251.2 287.5,248.4 287.5,258.4 287.6,254.4 287.7,253.3 287.8,249.5 287.9,253.0 287.9,252.7 288.0,252.2 288.1,251.9 288.2,249.7 288.3,254.1 288.3,259.1 288.4,252.7 288.5,251.9 288.6,252.7 288.7,259.1 288.7,257.3 288.8,256.6 288.9,250.9 289.0,250.6 289.1,251.9 289.1,251.9 289.2,252.7 289.3,256.3 289.4,252.4 289.5,255.3 289.5,255.6 289.6,254.4 289.7,253.2 289.8,255.0 289.9,255.3 289.9,250.6 290.0,254.4 290.1,249.7 290.2,256.9 290.3,252.9 290.3,252.9 290.4,254.1 290.5,249.6 290.6,251.9 290.7,255.0 290.7,250.4 290.8,252.7 290.9,251.1 291.0,251.9 291.1,251.9 291.1,257.3 291.2,254.1 291.3,255.3 291.4,251.3 291.5,250.8 291.5,252.4 291.6,255.9 291.7,253.5 291.8,252.1 291.9,251.3 291.9,255.3 292.0,251.1 292.1,255.3 292.2,247.8 292.2,253.8 292.3,253.5 292.4,248.3 292.5,253.2 292.6,254.0 292.6,250.6 292.7,249.6 292.8,253.2 292.9,251.1 293.0,254.9 293.0,251.6 293.1,252.3 293.2,254.6 293.3,251.3 293.4,254.0 293.4,250.5 293.5,257.6 293.6,254.3 293.7,254.6 293.8,248.9 293.8,251.0 293.9,250.8 294.0,250.3 294.1,251.3 294.2,253.1 294.2,254.9 294.3,249.8 294.4,254.3 294.5,256.5 294.6,251.3 294.6,253.1 294.7,253.1 294.8,252.9 294.9,252.0 295.0,255.2 295.0,253.1 295.1,256.5 295.2,255.2 295.3,253.4 295.4,254.0 295.4,253.1 295.5,254.6 295.6,253.4 295.7,254.0 295.8,254.6 295.8,251.2 295.9,257.2 296.0,254.9 296.1,255.2 296.2,252.8 296.2,252.6 296.3,251.5 296.4,257.1 296.5,251.0 296.6,250.5 296.6,259.3 296.7,252.8 296.8,248.6 296.9,251.0 296.9,252.3 297.0,250.2 297.1,254.2 297.2,253.9 297.3,252.5 297.3,248.2 297.4,257.1 297.5,253.9 297.6,252.5 297.7,254.2 297.7,254.2 297.8,253.1 297.9,254.5 298.0,246.7 298.1,253.9 298.1,258.2 298.2,255.1 298.3,251.7 298.4,254.8 298.5,249.5 298.5,253.9 298.6,253.1 298.7,253.1 298.8,250.7 298.9,255.8 298.9,252.2 299.0,249.9 299.1,250.7 299.2,257.8 299.3,252.0 299.3,256.4 299.4,251.2 299.5,251.9" stroke="#9cbe44" stroke-width="0.95" opacity="1.00"/>
<line x1="60.1" y1="177.5" x2="60.1" y2="310" stroke="#b8d07c" stroke-width="0.8"/>
</g>
<ellipse cx="83.5" cy="217.5" rx="6.5" ry="3.2" stroke="#3a3030" stroke-width="0.7" stroke-dasharray="2,1.5" fill="none"/>
<line x1="77" y1="217.6" x2="59.5" y2="217.6" stroke="#3a3030" stroke-width="0.7" stroke-dasharray="2,1.5" fill="none"/>
<path d="M56.2,217.6 L60,216 L60,219.2 Z" fill="#3a3030"/>
<ellipse cx="74.6" cy="233.3" rx="6" ry="3.2" stroke="#3a3030" stroke-width="0.7" stroke-dasharray="2,1.5" fill="none"/>
<line x1="80.6" y1="233.3" x2="98.5" y2="233.3" stroke="#3a3030" stroke-width="0.7" stroke-dasharray="2,1.5" fill="none"/>
<path d="M102,233.3 L98.2,231.7 L98.2,234.9 Z" fill="#3a3030"/>
<ellipse cx="67.2" cy="257.6" rx="3.2" ry="6.5" stroke="#3a3030" stroke-width="0.7" stroke-dasharray="2,1.5" fill="none"/>
<line x1="64" y1="258.7" x2="56" y2="258.7" stroke="#3a3030" stroke-width="0.7" stroke-dasharray="2,1.5" fill="none"/>
<path d="M52.5,258.7 L56.3,257.1 L56.3,260.3 Z" fill="#3a3030"/>
<line x1="105" y1="261.8" x2="153.5" y2="223.8" stroke="#9dbd48" stroke-width="0.8"/>
<path d="M156.5,221.3 L150.8,223.2 L153.4,226.5 Z" fill="#9dbd48"/>
<line x1="67.5" y1="276" x2="63.8" y2="278.5" stroke="#2aa878" stroke-width="0.9"/>
<path d="M61.3,280.5 L63.2,276.4 L65.6,279.7 Z" fill="#2aa878"/>
<rect x="44.5" y="174.5" width="255" height="148" fill="none" stroke="#4d4d4d" stroke-width="1"/>
<path d="M44.50,322.00 L44.50,319.00 M76.38,322.00 L76.38,320.00 M108.25,322.00 L108.25,319.00 M140.12,322.00 L140.12,320.00 M172.00,322.00 L172.00,319.00 M203.88,322.00 L203.88,320.00 M235.75,322.00 L235.75,319.00 M267.62,322.00 L267.62,320.00 M299.50,322.00 L299.50,319.00 M44.50,322.30 L47.50,322.30 M299.50,322.30 L296.50,322.30 M44.50,309.08 L46.30,309.08 M299.50,309.08 L297.70,309.08 M44.50,301.35 L46.30,301.35 M299.50,301.35 L297.70,301.35 M44.50,295.87 L46.30,295.87 M299.50,295.87 L297.70,295.87 M44.50,291.62 L46.30,291.62 M299.50,291.62 L297.70,291.62 M44.50,288.14 L46.30,288.14 M299.50,288.14 L297.70,288.14 M44.50,285.20 L46.30,285.20 M299.50,285.20 L297.70,285.20 M44.50,282.65 L46.30,282.65 M299.50,282.65 L297.70,282.65 M44.50,280.41 L46.30,280.41 M299.50,280.41 L297.70,280.41 M44.50,278.40 L47.50,278.40 M299.50,278.40 L296.50,278.40 M44.50,265.18 L46.30,265.18 M299.50,265.18 L297.70,265.18 M44.50,257.45 L46.30,257.45 M299.50,257.45 L297.70,257.45 M44.50,251.97 L46.30,251.97 M299.50,251.97 L297.70,251.97 M44.50,247.72 L46.30,247.72 M299.50,247.72 L297.70,247.72 M44.50,244.24 L46.30,244.24 M299.50,244.24 L297.70,244.24 M44.50,241.30 L46.30,241.30 M299.50,241.30 L297.70,241.30 M44.50,238.75 L46.30,238.75 M299.50,238.75 L297.70,238.75 M44.50,236.51 L46.30,236.51 M299.50,236.51 L297.70,236.51 M44.50,234.50 L47.50,234.50 M299.50,234.50 L296.50,234.50 M44.50,221.28 L46.30,221.28 M299.50,221.28 L297.70,221.28 M44.50,213.55 L46.30,213.55 M299.50,213.55 L297.70,213.55 M44.50,208.07 L46.30,208.07 M299.50,208.07 L297.70,208.07 M44.50,203.82 L46.30,203.82 M299.50,203.82 L297.70,203.82 M44.50,200.34 L46.30,200.34 M299.50,200.34 L297.70,200.34 M44.50,197.40 L46.30,197.40 M299.50,197.40 L297.70,197.40 M44.50,194.85 L46.30,194.85 M299.50,194.85 L297.70,194.85 M44.50,192.61 L46.30,192.61 M299.50,192.61 L297.70,192.61 M44.50,190.60 L47.50,190.60 M299.50,190.60 L296.50,190.60 M44.50,177.38 L46.30,177.38 M299.50,177.38 L297.70,177.38" stroke="#4d4d4d" stroke-width="0.8" fill="none"/>
<text x="44.50" y="333.40" font-size="9.20" fill="#231f20" stroke="#231f20" stroke-width="0.12" text-anchor="middle" >0</text>
<text x="108.60" y="333.40" font-size="9.20" fill="#231f20" stroke="#231f20" stroke-width="0.12" text-anchor="middle" >200</text>
<text x="172.40" y="333.40" font-size="9.20" fill="#231f20" stroke="#231f20" stroke-width="0.12" text-anchor="middle" >400</text>
<text x="236.20" y="333.40" font-size="9.20" fill="#231f20" stroke="#231f20" stroke-width="0.12" text-anchor="middle" >600</text>
<text x="297.50" y="333.40" font-size="9.20" fill="#231f20" stroke="#231f20" stroke-width="0.12" text-anchor="middle" >800</text>
<text x="177.20" y="345.50" font-size="10.00" fill="#231f20" stroke="#231f20" stroke-width="0.12" text-anchor="middle" >Time (<tspan font-style="italic">&#956;</tspan>s)</text>
<text x="37.40" y="325.70" font-size="9.20" fill="#231f20" stroke="#231f20" stroke-width="0.12" text-anchor="end" >10</text>
<text x="37.50" y="321.70" font-size="6.20" fill="#231f20" stroke="#231f20" stroke-width="0.12" text-anchor="start" >0</text>
<text x="303.00" y="325.70" font-size="9.20" fill="#231f20" stroke="#231f20" stroke-width="0.12" text-anchor="start" >10</text>
<text x="312.60" y="321.70" font-size="6.20" fill="#231f20" stroke="#231f20" stroke-width="0.12" text-anchor="start" >0</text>
<text x="37.40" y="281.80" font-size="9.20" fill="#231f20" stroke="#231f20" stroke-width="0.12" text-anchor="end" >10</text>
<text x="37.50" y="277.80" font-size="6.20" fill="#231f20" stroke="#231f20" stroke-width="0.12" text-anchor="start" >1</text>
<text x="303.00" y="281.80" font-size="9.20" fill="#231f20" stroke="#231f20" stroke-width="0.12" text-anchor="start" >10</text>
<text x="312.60" y="277.80" font-size="6.20" fill="#231f20" stroke="#231f20" stroke-width="0.12" text-anchor="start" >1</text>
<text x="37.40" y="237.90" font-size="9.20" fill="#231f20" stroke="#231f20" stroke-width="0.12" text-anchor="end" >10</text>
<text x="37.50" y="233.90" font-size="6.20" fill="#231f20" stroke="#231f20" stroke-width="0.12" text-anchor="start" >2</text>
<text x="303.00" y="237.90" font-size="9.20" fill="#231f20" stroke="#231f20" stroke-width="0.12" text-anchor="start" >10</text>
<text x="312.60" y="233.90" font-size="6.20" fill="#231f20" stroke="#231f20" stroke-width="0.12" text-anchor="start" >2</text>
<text x="37.40" y="194.00" font-size="9.20" fill="#231f20" stroke="#231f20" stroke-width="0.12" text-anchor="end" >10</text>
<text x="37.50" y="190.00" font-size="6.20" fill="#231f20" stroke="#231f20" stroke-width="0.12" text-anchor="start" >3</text>
<text x="303.00" y="194.00" font-size="9.20" fill="#231f20" stroke="#231f20" stroke-width="0.12" text-anchor="start" >10</text>
<text x="312.60" y="190.00" font-size="6.20" fill="#231f20" stroke="#231f20" stroke-width="0.12" text-anchor="start" >3</text>
<text x="0.00" y="0.00" font-size="9.95" fill="#231f20" stroke="#231f20" stroke-width="0.12" text-anchor="middle" transform="translate(21.0,251.0) rotate(-90)">EL int. (count)</text>
<text x="0.00" y="0.00" font-size="10.00" fill="#231f20" stroke="#231f20" stroke-width="0.12" text-anchor="middle" transform="translate(328.1,249.6) rotate(-90)">PL int. (count)</text>
<text x="240.60" y="189.10" font-size="9.00" fill="#231f20" stroke="#231f20" stroke-width="0.12" text-anchor="end" >Ar =</text>
<line x1="242.8" y1="185.8" x2="259.7" y2="185.8" stroke="#7ccdb0" stroke-width="1.1"/>
<text x="261.40" y="189.10" font-size="9.00" fill="#231f20" stroke="#231f20" stroke-width="0.12" text-anchor="start" >PXZ</text>
<line x1="242.8" y1="198.7" x2="259.7" y2="198.7" stroke="#b8cc80" stroke-width="1.1"/>
<text x="261.40" y="201.40" font-size="9.00" fill="#231f20" stroke="#231f20" stroke-width="0.12" text-anchor="start" >PhPXZ</text>
<defs>
<filter id="cm" x="0" y="0" width="1" height="1" color-interpolation-filters="sRGB"><feTurbulence type="fractalNoise" baseFrequency="0.9" numOctaves="2" seed="7" result="n"/><feColorMatrix in="n" type="matrix" values="1 0 0 0 0 1 0 0 0 0 1 0 0 0 0 0 0 0 0 1" result="ng"/><feComponentTransfer in="SourceGraphic" result="w"><feFuncR type="table" tableValues="0.0 0.55 0.6 0.55 0.45 0.3 0.15 0.08 0.05 0.03 0.0"/><feFuncG type="table" tableValues="0.0 0.55 0.6 0.55 0.45 0.3 0.15 0.08 0.05 0.03 0.0"/><feFuncB type="table" tableValues="0.0 0.55 0.6 0.55 0.45 0.3 0.15 0.08 0.05 0.03 0.0"/><feFuncA type="linear" slope="0" intercept="1"/></feComponentTransfer><feComposite in="ng" in2="w" operator="arithmetic" k1="0.900" k2="0" k3="-0.450" k4="0.5" result="r1"/><feComposite in="SourceGraphic" in2="r1" operator="arithmetic" k1="0" k2="1" k3="1" k4="-0.5" result="mx"/><feComponentTransfer in="mx"><feFuncR type="table" tableValues="0.137 0.122 0.125 0.165 0.235 0.533 0.784 0.957 0.949 0.878 0.690"/><feFuncG type="table" tableValues="0.216 0.290 0.400 0.565 0.737 0.847 0.894 0.863 0.549 0.188 0.094"/><feFuncB type="table" tableValues="0.412 0.627 0.753 0.878 0.925 0.690 0.376 0.251 0.212 0.149 0.165"/><feFuncA type="linear" slope="0" intercept="1"/></feComponentTransfer></filter>
<filter id="cmB" x="0" y="0" width="1" height="1" color-interpolation-filters="sRGB"><feTurbulence type="fractalNoise" baseFrequency="0.9" numOctaves="2" seed="3" result="n"/><feColorMatrix in="n" type="matrix" values="1 0 0 0 0 1 0 0 0 0 1 0 0 0 0 0 0 0 0 1" result="ng"/><feComponentTransfer in="SourceGraphic" result="w"><feFuncR type="table" tableValues="0.0 0.0 0.05 0.13 0.16 0.14 0.11 0.09 0.07 0.05 0.0"/><feFuncG type="table" tableValues="0.0 0.0 0.05 0.13 0.16 0.14 0.11 0.09 0.07 0.05 0.0"/><feFuncB type="table" tableValues="0.0 0.0 0.05 0.13 0.16 0.14 0.11 0.09 0.07 0.05 0.0"/><feFuncA type="linear" slope="0" intercept="1"/></feComponentTransfer><feComposite in="ng" in2="w" operator="arithmetic" k1="0.900" k2="0" k3="-0.450" k4="0.5" result="r1"/><feComposite in="SourceGraphic" in2="r1" operator="arithmetic" k1="0" k2="1" k3="1" k4="-0.5" result="mx"/><feComponentTransfer in="mx"><feFuncR type="table" tableValues="0.137 0.122 0.125 0.165 0.235 0.533 0.784 0.957 0.949 0.878 0.690"/><feFuncG type="table" tableValues="0.216 0.290 0.400 0.565 0.737 0.847 0.894 0.863 0.549 0.188 0.094"/><feFuncB type="table" tableValues="0.412 0.627 0.753 0.878 0.925 0.690 0.376 0.251 0.212 0.149 0.165"/><feFuncA type="linear" slope="0" intercept="1"/></feComponentTransfer></filter>
<filter id="cmG" x="0" y="0" width="1" height="1" color-interpolation-filters="sRGB"><feComponentTransfer><feFuncR type="table" tableValues="0.1373 0.1333 0.1294 0.1255 0.1216 0.1225 0.1235 0.1245 0.1255 0.1353 0.1451"/><feFuncG type="table" tableValues="0.2157 0.2343 0.2529 0.2716 0.2902 0.3176 0.3451 0.3725 0.4000 0.4412 0.4824"/><feFuncB type="table" tableValues="0.4118 0.4657 0.5196 0.5735 0.6275 0.6588 0.6902 0.7216 0.7529 0.7843 0.8157"/><feFuncA type="linear" slope="0" intercept="1"/></feComponentTransfer></filter>
<filter id="cmNA" x="0" y="0" width="1" height="1" color-interpolation-filters="sRGB"><feComponentTransfer in="SourceGraphic" result="col"><feFuncR type="table" tableValues="0.137 0.122 0.125 0.165 0.235 0.533 0.784 0.957 0.949 0.878 0.690"/><feFuncG type="table" tableValues="0.216 0.290 0.400 0.565 0.737 0.847 0.894 0.863 0.549 0.188 0.094"/><feFuncB type="table" tableValues="0.412 0.627 0.753 0.878 0.925 0.690 0.376 0.251 0.212 0.149 0.165"/><feFuncA type="linear" slope="0" intercept="1"/></feComponentTransfer><feColorMatrix in="SourceGraphic" type="matrix" values="0 0 0 0 0 0 0 0 0 0 0 0 0 0 0 10.00 0 0 0 -1.700" result="am"/><feComposite in="col" in2="am" operator="in"/></filter>
<filter id="cmBA" x="0" y="0" width="1" height="1" color-interpolation-filters="sRGB"><feTurbulence type="fractalNoise" baseFrequency="0.9" numOctaves="2" seed="3" result="n"/><feColorMatrix in="n" type="matrix" values="1 0 0 0 0 1 0 0 0 0 1 0 0 0 0 0 0 0 0 1" result="ng"/><feComponentTransfer in="SourceGraphic" result="w"><feFuncR type="table" tableValues="0.0 0.0 0.05 0.13 0.16 0.14 0.11 0.09 0.07 0.05 0.0"/><feFuncG type="table" tableValues="0.0 0.0 0.05 0.13 0.16 0.14 0.11 0.09 0.07 0.05 0.0"/><feFuncB type="table" tableValues="0.0 0.0 0.05 0.13 0.16 0.14 0.11 0.09 0.07 0.05 0.0"/><feFuncA type="linear" slope="0" intercept="1"/></feComponentTransfer><feComposite in="ng" in2="w" operator="arithmetic" k1="0.900" k2="0" k3="-0.450" k4="0.5" result="r1"/><feComposite in="SourceGraphic" in2="r1" operator="arithmetic" k1="0" k2="1" k3="1" k4="-0.5" result="mx"/><feComponentTransfer in="mx" result="col"><feFuncR type="table" tableValues="0.137 0.122 0.125 0.165 0.235 0.533 0.784 0.957 0.949 0.878 0.690"/><feFuncG type="table" tableValues="0.216 0.290 0.400 0.565 0.737 0.847 0.894 0.863 0.549 0.188 0.094"/><feFuncB type="table" tableValues="0.412 0.627 0.753 0.878 0.925 0.690 0.376 0.251 0.212 0.149 0.165"/><feFuncA type="linear" slope="0" intercept="1"/></feComponentTransfer><feColorMatrix in="mx" type="matrix" values="0 0 0 0 0 0 0 0 0 0 0 0 0 0 0 10.00 0 0 0 -1.700" result="am"/><feComposite in="col" in2="am" operator="in"/></filter>
<filter id="cmN" x="0" y="0" width="1" height="1" color-interpolation-filters="sRGB"><feComponentTransfer><feFuncR type="table" tableValues="0.137 0.122 0.125 0.165 0.235 0.533 0.784 0.957 0.949 0.878 0.690"/><feFuncG type="table" tableValues="0.216 0.290 0.400 0.565 0.737 0.847 0.894 0.863 0.549 0.188 0.094"/><feFuncB type="table" tableValues="0.412 0.627 0.753 0.878 0.925 0.690 0.376 0.251 0.212 0.149 0.165"/><feFuncA type="linear" slope="0" intercept="1"/></feComponentTransfer></filter>
<filter id="b6" filterUnits="userSpaceOnUse" x="380" y="0" width="305" height="348"><feGaussianBlur stdDeviation="0.60"/></filter>
<filter id="b10" filterUnits="userSpaceOnUse" x="380" y="0" width="305" height="348"><feGaussianBlur stdDeviation="1.00"/></filter>
<filter id="b15" filterUnits="userSpaceOnUse" x="380" y="0" width="305" height="348"><feGaussianBlur stdDeviation="1.50"/></filter>
<filter id="b20" filterUnits="userSpaceOnUse" x="380" y="0" width="305" height="348"><feGaussianBlur stdDeviation="2.00"/></filter>
<filter id="b30" filterUnits="userSpaceOnUse" x="380" y="0" width="305" height="348"><feGaussianBlur stdDeviation="3.00"/></filter>
<filter id="b40" filterUnits="userSpaceOnUse" x="380" y="0" width="305" height="348"><feGaussianBlur stdDeviation="4.00"/></filter>
<filter id="b60" filterUnits="userSpaceOnUse" x="380" y="0" width="305" height="348"><feGaussianBlur stdDeviation="6.00"/></filter>
<filter id="b80" filterUnits="userSpaceOnUse" x="380" y="0" width="305" height="348"><feGaussianBlur stdDeviation="8.00"/></filter>
<filter id="b120" filterUnits="userSpaceOnUse" x="380" y="0" width="305" height="348"><feGaussianBlur stdDeviation="12.00"/></filter>
<linearGradient id="cbar" x1="0" y1="1" x2="0" y2="0"><stop offset="0.000" stop-color="#1a3a80"/><stop offset="0.075" stop-color="#1a4a98"/><stop offset="0.140" stop-color="#1c5aa8"/><stop offset="0.210" stop-color="#2068b8"/><stop offset="0.310" stop-color="#2890d0"/><stop offset="0.350" stop-color="#30a8d8"/><stop offset="0.420" stop-color="#50a8b0"/><stop offset="0.475" stop-color="#70b090"/><stop offset="0.520" stop-color="#90b870"/><stop offset="0.570" stop-color="#a0c060"/><stop offset="0.610" stop-color="#c0d050"/><stop offset="0.640" stop-color="#e0d840"/><stop offset="0.690" stop-color="#e8c040"/><stop offset="0.740" stop-color="#f09040"/><stop offset="0.790" stop-color="#e84030"/><stop offset="0.860" stop-color="#d02030"/><stop offset="0.930" stop-color="#c01a28"/><stop offset="0.980" stop-color="#8a1a2a"/><stop offset="1.000" stop-color="#801828"/></linearGradient>
<linearGradient id="tailU" x1="0" y1="0" x2="1" y2="0"><stop offset="0" stop-color="#fff" stop-opacity="1"/><stop offset="1" stop-color="#fff" stop-opacity="0"/></linearGradient>
<linearGradient id="pinkA" x1="0" y1="0" x2="0" y2="1"><stop offset="0" stop-color="#f6d6dc"/><stop offset="1" stop-color="#fbeef0"/></linearGradient>
<clipPath id="cpT"><rect x="396" y="25" width="253.5" height="145"/></clipPath>
<clipPath id="cpB"><rect x="396" y="176" width="253.5" height="72"/></clipPath>
<clipPath id="cpP"><rect x="396" y="248" width="253.5" height="72.6"/></clipPath>
<clipPath id="cpBB"><rect x="396" y="176" width="253.5" height="144.6"/></clipPath>
</defs>
<rect x="387.6" y="24.4" width="2.9" height="147.6" fill="url(#cbar)" stroke="#7d7070" stroke-width="0.7"/>
<g filter="url(#cm)" clip-path="url(#cpT)">
<rect x="396" y="25" width="253.5" height="145" fill="#000"/>
<g filter="url(#b30)"><path d="M410,64 L452,72 L452,91 L410,91 Z" fill="url(#tailU)" opacity="0.12"/></g>
<path d="M394.0,45.5 L404.0,45.5 Q410.0,45.5 410.8,51.5 L416.5,92.0 L394.0,92.0 Z" fill="rgb(51,51,51)" filter="url(#b20)"/>
<path d="M394.0,49.0 L404.0,49.0 Q410.0,49.0 410.9,55.0 L416.0,90.5 L394.0,90.5 Z" fill="rgb(82,82,82)" filter="url(#b15)"/>
<path d="M394.0,54.0 L404.5,54.0 Q410.5,54.0 411.3,60.0 L415.5,89.5 L394.0,89.5 Z" fill="rgb(112,112,112)" filter="url(#b15)"/>
<path d="M394.0,58.0 L406.0,58.0 Q411.0,58.0 411.7,63.0 L415.0,88.5 L394.0,88.5 Z" fill="rgb(143,143,143)" filter="url(#b15)"/>
<path d="M394.0,62.0 L407.0,62.0 Q411.0,62.0 411.5,66.0 L414.5,87.5 L394.0,87.5 Z" fill="rgb(173,173,173)" filter="url(#b10)"/>
<path d="M394.0,66.0 L408.5,66.0 Q411.5,66.0 411.9,69.0 L414.0,86.5 L394.0,86.5 Z" fill="rgb(204,204,204)" filter="url(#b10)"/>
<path d="M394.0,69.0 L408.5,69.0 Q411.5,69.0 411.9,72.0 L413.5,85.5 L394.0,85.5 Z" fill="rgb(224,224,224)" filter="url(#b10)"/>
<path d="M397.0,73.0 L409.0,73.0 Q411.0,73.0 411.3,75.0 L412.5,83.0 L397.0,83.0 Z" fill="rgb(255,255,255)" filter="url(#b20)"/>
<g filter="url(#b30)"><path d="M410,144 L650,147.5 L650,158 L410,161 Z" fill="url(#tailL)" /></g>
<linearGradient id="tailL" x1="0" y1="0" x2="1" y2="0"><stop offset="0" stop-color="rgb(130,130,130)"/><stop offset="0.1" stop-color="rgb(84,84,84)"/><stop offset="0.4" stop-color="rgb(56,56,56)"/><stop offset="1" stop-color="rgb(30,30,30)"/></linearGradient>
<rect x="394.0" y="113.0" width="20.0" height="55.0" fill="rgb(56,56,56)" filter="url(#b30)"/>
<rect x="394.0" y="116.0" width="19.0" height="50.5" fill="rgb(87,87,87)" filter="url(#b20)"/>
<rect x="394.0" y="120.0" width="18.5" height="44.5" fill="rgb(117,117,117)" filter="url(#b15)"/>
<rect x="394.0" y="126.0" width="18.5" height="36.0" fill="rgb(148,148,148)" filter="url(#b15)"/>
<rect x="394.0" y="131.0" width="18.5" height="29.0" fill="rgb(173,173,173)" filter="url(#b15)"/>
<rect x="394.0" y="136.0" width="18.5" height="22.5" fill="rgb(199,199,199)" filter="url(#b10)"/>
<rect x="394.0" y="140.0" width="18.5" height="17.5" fill="rgb(222,222,222)" filter="url(#b10)"/>
<rect x="397.0" y="144.0" width="14.5" height="11.0" fill="rgb(255,255,255)" filter="url(#b20)"/>
<path d="M411,144 L432,147 L432,159 L411,161 Z" fill="rgb(150,150,150)" filter="url(#b30)" opacity="0.8"/>
</g>
<rect x="396" y="24.8" width="253.5" height="1.1" fill="#5d79b0"/>
<rect x="396" y="169.8" width="253.5" height="2.1" fill="#dfe2ec"/>
<rect x="395.6" y="24.4" width="254.2" height="147.9" fill="none" stroke="#7d7070" stroke-width="0.9"/>
<g filter="url(#cmG)" clip-path="url(#cpBB)">
<rect x="396" y="176" width="253.5" height="145" fill="#000"/>
<rect x="396" y="208.5" width="124" height="38.5" fill="rgb(24,24,24)" filter="url(#b10)"/>
<ellipse cx="452" cy="226" rx="40" ry="20" fill="rgb(96,96,96)" filter="url(#b80)"/>
<ellipse cx="442" cy="204" rx="24" ry="10" fill="rgb(64,64,64)" filter="url(#b80)"/>
<linearGradient id="bandPh" x1="0" y1="0" x2="1" y2="0"><stop offset="0" stop-color="rgb(36,36,36)"/><stop offset="0.05" stop-color="rgb(68,68,68)"/><stop offset="1" stop-color="rgb(76,76,76)"/></linearGradient>
<rect x="519" y="211.2" width="132" height="35" fill="url(#bandPh)" filter="url(#b06)"/>
<linearGradient id="haloPh" x1="0" y1="0" x2="1" y2="0"><stop offset="0" stop-color="#000" stop-opacity="0"/><stop offset="1" stop-color="rgb(208,208,208)"/></linearGradient>
<rect x="527" y="211.2" width="19" height="35" fill="url(#haloPh)" filter="url(#b10)"/>
<linearGradient id="colG" x1="0" y1="1" x2="0" y2="0"><stop offset="0" stop-color="rgb(160,160,160)"/><stop offset="0.4" stop-color="rgb(100,100,100)"/><stop offset="1" stop-color="rgb(32,32,32)"/></linearGradient>
<rect x="548" y="168" width="42" height="46" fill="url(#colG)" filter="url(#b80)"/>
<rect x="552" y="196" width="34" height="18" fill="rgb(56,56,56)" filter="url(#b60)"/>
<path d="M414.5,206 L470,207.5 L470,236 Q470,248.5 456,248.5 L428,248.5 Q414.5,248.5 414.5,236 Z" fill="rgb(208,208,208)" filter="url(#b30)"/>
<path d="M416,208 L468.5,209 L468.5,236 Q468.5,247.8 456,247.8 L428,247.8 Q416,247.8 416,236 Z" fill="rgb(248,248,248)" filter="url(#b15)"/>
<rect x="544.5" y="211.2" width="71" height="35" fill="rgb(176,176,176)" filter="url(#b10)"/>
<path d="M437,248 L500,309 L398,309 Z" fill="rgb(56,56,56)" filter="url(#b120)"/>
<path d="M438,262 L482,309 L408,309 Z" fill="rgb(96,96,96)" filter="url(#b80)"/>
<path d="M438.5,276 L470,309 L412,309 Z" fill="rgb(136,136,136)" filter="url(#b60)"/>
<linearGradient id="plband" x1="0" y1="0" x2="1" y2="0"><stop offset="0" stop-color="rgb(40,40,40)"/><stop offset="0.3" stop-color="rgb(112,112,112)"/><stop offset="0.6" stop-color="rgb(48,48,48)"/><stop offset="1" stop-color="rgb(16,16,16)"/></linearGradient>
<rect x="396" y="306.2" width="126" height="4.0" fill="url(#plband)" filter="url(#b06)"/>
<path d="M567,256 L605,308 L535,308 Z" fill="rgb(96,96,96)" filter="url(#b80)"/>
<linearGradient id="plTail" x1="0" y1="0" x2="1" y2="0"><stop offset="0" stop-color="rgb(240,240,240)"/><stop offset="0.35" stop-color="rgb(168,168,168)"/><stop offset="0.7" stop-color="rgb(80,80,80)"/><stop offset="1" stop-color="#000" stop-opacity="0"/></linearGradient>
<rect x="580" y="306.3" width="62" height="3.3" fill="url(#plTail)" filter="url(#b06)"/>
</g>
<g filter="url(#cmBA)" clip-path="url(#cpB)">
<rect x="396" y="176" width="253.5" height="72" fill="#000"/>
<path d="M417.0,212.3 Q417.0,208.3 421.0,208.3 L468.0,210.5 L468.0,236.0 C468.0,247.5 453.2,247.5 438.5,247.5 C427.8,247.5 417.0,247.5 417.0,236.0 Z" fill="rgb(56,56,56)" filter="url(#b10)"/>
<path d="M419.0,212.8 Q419.0,208.8 423.0,208.8 L465.5,211.0 L465.5,236.0 C465.5,246.8 452.0,246.8 438.5,246.8 C428.8,246.8 419.0,246.8 419.0,236.0 Z" fill="rgb(82,82,82)" filter="url(#b10)"/>
<path d="M421.5,213.2 Q421.5,209.2 425.5,209.2 L462.5,211.2 L462.5,235.0 C462.5,246.0 450.5,246.0 438.5,246.0 C430.0,246.0 421.5,246.0 421.5,235.0 Z" fill="rgb(107,107,107)" filter="url(#b10)"/>
<path d="M424.5,213.5 Q424.5,209.5 428.5,209.5 L459.0,211.3 L459.0,234.0 C459.0,245.0 448.8,245.0 438.5,245.0 C431.5,245.0 424.5,245.0 424.5,234.0 Z" fill="rgb(133,133,133)" filter="url(#b10)"/>
<path d="M427.0,213.6 Q427.0,209.6 431.0,209.6 L456.0,211.3 L456.0,233.0 C456.0,243.8 447.2,243.8 438.5,243.8 C432.8,243.8 427.0,243.8 427.0,233.0 Z" fill="rgb(153,153,153)" filter="url(#b10)"/>
<path d="M428.8,213.7 Q428.8,209.7 432.8,209.7 L453.2,211.2 L453.2,232.0 C453.2,242.5 445.9,242.5 438.5,242.5 C433.6,242.5 428.8,242.5 428.8,232.0 Z" fill="rgb(173,173,173)" filter="url(#b10)"/>
<path d="M430.3,213.8 Q430.3,209.8 434.3,209.8 L450.8,211.0 L450.8,231.0 C450.8,241.2 444.6,241.2 438.5,241.2 C434.4,241.2 430.3,241.2 430.3,231.0 Z" fill="rgb(194,194,194)" filter="url(#b10)"/>
<path d="M431.5,213.9 Q431.5,209.9 435.5,209.9 L449.2,210.8 L449.2,229.0 C449.2,240.0 443.9,240.0 438.5,240.0 C435.0,240.0 431.5,240.0 431.5,229.0 Z" fill="rgb(214,214,214)" filter="url(#b10)"/>
<path d="M432.5,214.0 Q432.5,210.0 436.5,210.0 L448.0,210.6 L448.0,226.0 C448.0,238.5 443.2,238.5 438.5,238.5 C435.5,238.5 432.5,238.5 432.5,226.0 Z" fill="rgb(230,230,230)" filter="url(#b10)"/>
<path d="M435.0,214.2 Q435.0,210.2 439.0,210.2 L445.5,210.4 L445.5,220.0 C445.5,228.0 442.0,228.0 438.5,228.0 C436.8,228.0 435.0,228.0 435.0,220.0 Z" fill="rgb(255,255,255)" filter="url(#b15)"/>
<rect x="544.5" y="211.4" width="68.5" height="34.6" fill="rgb(61,61,61)" filter="url(#b10)"/>
<rect x="545.5" y="211.4" width="58.5" height="34.6" fill="rgb(97,97,97)" filter="url(#b10)"/>
<rect x="547.0" y="211.4" width="51.0" height="34.6" fill="rgb(128,128,128)" filter="url(#b15)"/>
<rect x="549.0" y="211.4" width="42.0" height="34.6" fill="rgb(153,153,153)" filter="url(#b15)"/>
<rect x="551.5" y="211.4" width="32.5" height="34.6" fill="rgb(173,173,173)" filter="url(#b15)"/>
<rect x="555.0" y="211.4" width="23.0" height="33.6" fill="rgb(194,194,194)" filter="url(#b15)"/>
<rect x="557.5" y="211.4" width="17.5" height="29.6" fill="rgb(217,217,217)" filter="url(#b15)"/>
<rect x="560.0" y="211.8" width="12.0" height="16.2" fill="rgb(245,245,245)" filter="url(#b20)"/>
</g>
<g filter="url(#cmNA)" clip-path="url(#cpP)">
<rect x="396" y="248" width="253.5" height="73" fill="#000"/>
<path d="M418.0,308.6 418.1,307.5 418.4,306.4 418.8,305.3 419.2,304.2 419.7,303.1 420.3,302.0 420.9,300.9 421.5,299.8 422.3,298.7 423.1,297.6 423.9,296.4 424.8,295.3 425.8,294.2 426.9,293.1 428.1,292.0 429.4,290.9 430.9,289.8 432.6,288.7 434.7,287.6 438.5,286.5 438.5,286.5 443.7,287.6 446.7,288.7 449.0,289.8 451.1,290.9 452.9,292.0 454.6,293.1 456.1,294.2 457.5,295.3 458.8,296.4 460.0,297.6 461.1,298.7 462.1,299.8 463.0,300.9 463.9,302.0 464.6,303.1 465.3,304.2 465.9,305.3 466.4,306.4 466.8,307.5 467.0,308.6 Z" fill="rgb(76,76,76)" filter="url(#b06)"/>
<path d="M420.0,308.6 420.1,307.6 420.4,306.6 420.7,305.6 421.1,304.6 421.5,303.6 422.0,302.5 422.6,301.5 423.2,300.5 423.9,299.5 424.6,298.5 425.3,297.5 426.2,296.5 427.1,295.5 428.1,294.5 429.1,293.4 430.3,292.4 431.7,291.4 433.2,290.4 435.1,289.4 438.5,288.4 438.5,288.4 443.4,289.4 446.1,290.4 448.3,291.4 450.2,292.4 451.9,293.4 453.4,294.5 454.9,295.5 456.2,296.5 457.3,297.5 458.5,298.5 459.5,299.5 460.4,300.5 461.3,301.5 462.1,302.5 462.8,303.6 463.4,304.6 464.0,305.6 464.5,306.6 464.8,307.6 465.0,308.6 Z" fill="rgb(107,107,107)" filter="url(#b06)"/>
<path d="M421.5,308.6 421.6,307.7 421.9,306.7 422.1,305.8 422.5,304.8 422.9,303.9 423.4,303.0 423.9,302.0 424.4,301.1 425.0,300.1 425.7,299.2 426.4,298.3 427.2,297.3 428.0,296.4 428.9,295.4 429.9,294.5 431.0,293.6 432.2,292.6 433.6,291.7 435.4,290.7 438.5,289.8 438.5,289.8 443.0,290.7 445.5,291.7 447.6,292.6 449.3,293.6 450.9,294.5 452.3,295.4 453.6,296.4 454.8,297.3 455.9,298.3 457.0,299.2 457.9,300.1 458.8,301.1 459.6,302.0 460.3,303.0 461.0,303.9 461.6,304.8 462.1,305.8 462.5,306.7 462.8,307.7 463.0,308.6 Z" fill="rgb(133,133,133)" filter="url(#b06)"/>
<path d="M422.8,308.6 422.9,307.7 423.1,306.8 423.4,306.0 423.7,305.1 424.1,304.2 424.5,303.3 425.0,302.4 425.5,301.6 426.1,300.7 426.7,299.8 427.3,298.9 428.0,298.0 428.8,297.2 429.6,296.3 430.6,295.4 431.6,294.5 432.7,293.6 434.0,292.8 435.6,291.9 438.5,291.0 438.5,291.0 442.7,291.9 445.0,292.8 446.9,293.6 448.5,294.5 450.0,295.4 451.3,296.3 452.5,297.2 453.6,298.0 454.6,298.9 455.6,299.8 456.5,300.7 457.3,301.6 458.0,302.4 458.7,303.3 459.3,304.2 459.9,305.1 460.3,306.0 460.7,306.8 461.0,307.7 461.2,308.6 Z" fill="rgb(158,158,158)" filter="url(#b06)"/>
<path d="M424.0,308.6 424.1,307.8 424.3,307.0 424.6,306.1 424.9,305.3 425.2,304.5 425.6,303.7 426.0,302.9 426.5,302.0 427.0,301.2 427.6,300.4 428.2,299.6 428.8,298.8 429.6,297.9 430.3,297.1 431.2,296.3 432.1,295.5 433.1,294.7 434.3,293.8 435.8,293.0 438.5,292.2 438.5,292.2 442.4,293.0 444.5,293.8 446.3,294.7 447.8,295.5 449.1,296.3 450.3,297.1 451.5,297.9 452.5,298.8 453.4,299.6 454.3,300.4 455.1,301.2 455.9,302.0 456.6,302.9 457.2,303.7 457.8,304.5 458.3,305.3 458.7,306.1 459.1,307.0 459.3,307.8 459.5,308.6 Z" fill="rgb(178,178,178)" filter="url(#b06)"/>
<path d="M425.2,308.6 425.3,307.9 425.5,307.1 425.7,306.4 426.0,305.6 426.3,304.9 426.7,304.1 427.1,303.4 427.6,302.6 428.1,301.9 428.6,301.1 429.2,300.4 429.8,299.6 430.5,298.9 431.2,298.1 432.0,297.4 432.9,296.6 433.9,295.9 435.0,295.1 436.5,294.4 439.0,293.6 439.0,293.6 442.4,294.4 444.3,295.1 445.8,295.9 447.2,296.6 448.4,297.4 449.4,298.1 450.4,298.9 451.3,299.6 452.2,300.4 452.9,301.1 453.6,301.9 454.3,302.6 454.9,303.4 455.5,304.1 456.0,304.9 456.4,305.6 456.8,306.4 457.1,307.1 457.4,307.9 457.5,308.6 Z" fill="rgb(199,199,199)" filter="url(#b06)"/>
<path d="M426.5,308.6 426.6,307.9 426.8,307.3 427.0,306.6 427.2,306.0 427.5,305.3 427.9,304.7 428.2,304.0 428.7,303.4 429.1,302.7 429.6,302.1 430.1,301.4 430.7,300.7 431.3,300.1 431.9,299.4 432.7,298.8 433.5,298.1 434.4,297.5 435.4,296.8 436.7,296.2 439.0,295.5 439.0,295.5 441.9,296.2 443.6,296.8 444.9,297.5 446.1,298.1 447.1,298.8 448.0,299.4 448.9,300.1 449.7,300.7 450.4,301.4 451.0,302.1 451.7,302.7 452.2,303.4 452.8,304.0 453.2,304.7 453.7,305.3 454.1,306.0 454.4,306.6 454.7,307.3 454.9,307.9 455.0,308.6 Z" fill="rgb(219,219,219)" filter="url(#b06)"/>
<path d="M428.5,308.6 428.6,308.1 428.7,307.6 428.9,307.1 429.1,306.6 429.4,306.1 429.7,305.6 430.0,305.1 430.3,304.6 430.7,304.1 431.1,303.6 431.5,303.0 432.0,302.5 432.5,302.0 433.1,301.5 433.7,301.0 434.4,300.5 435.1,300.0 436.0,299.5 437.1,299.0 439.0,298.5 439.0,298.5 441.4,299.0 442.7,299.5 443.8,300.0 444.7,300.5 445.6,301.0 446.3,301.5 447.0,302.0 447.7,302.5 448.2,303.0 448.8,303.6 449.3,304.1 449.8,304.6 450.2,305.1 450.6,305.6 450.9,306.1 451.2,306.6 451.5,307.1 451.7,307.6 451.9,308.1 452.0,308.6 Z" fill="rgb(237,237,237)" filter="url(#b06)"/>
<path d="M431.0,308.6 431.1,308.3 431.2,308.0 431.3,307.7 431.5,307.4 431.7,307.1 431.9,306.8 432.1,306.5 432.4,306.2 432.7,305.9 433.0,305.6 433.3,305.2 433.7,304.9 434.1,304.6 434.5,304.3 435.0,304.0 435.5,303.7 436.0,303.4 436.7,303.1 437.5,302.8 439.0,302.5 439.0,302.5 440.7,302.8 441.6,303.1 442.3,303.4 443.0,303.7 443.6,304.0 444.1,304.3 444.6,304.6 445.0,304.9 445.4,305.2 445.8,305.6 446.1,305.9 446.4,306.2 446.7,306.5 447.0,306.8 447.3,307.1 447.5,307.4 447.7,307.7 447.8,308.0 447.9,308.3 448.0,308.6 Z" fill="rgb(255,255,255)" filter="url(#b06)"/>
<linearGradient id="plL" x1="0" y1="0" x2="1" y2="0"><stop offset="0.000" stop-color="rgb(247,247,247)"/><stop offset="0.133" stop-color="rgb(230,230,230)"/><stop offset="0.183" stop-color="rgb(204,204,204)"/><stop offset="0.242" stop-color="rgb(181,181,181)"/><stop offset="0.317" stop-color="rgb(163,163,163)"/><stop offset="0.400" stop-color="rgb(140,140,140)"/><stop offset="0.467" stop-color="rgb(115,115,115)"/><stop offset="0.525" stop-color="rgb(97,97,97)"/><stop offset="0.608" stop-color="rgb(71,71,71)"/><stop offset="0.692" stop-color="rgb(51,51,51)"/><stop offset="0.775" stop-color="rgb(31,31,31)"/><stop offset="0.883" stop-color="rgb(15,15,15)"/><stop offset="1.000" stop-color="rgb(0,0,0)"/></linearGradient>
<rect x="522" y="306.2" width="120" height="3.4" fill="url(#plL)" filter="url(#b06)"/>
</g>
<rect x="396" y="174.8" width="253.5" height="1.3" fill="#c8cce0"/>
<rect x="396" y="320.6" width="253.5" height="1.5" fill="#d8dcea"/>
<rect x="395.6" y="174.4" width="254.2" height="147.9" fill="none" stroke="#7d7070" stroke-width="0.9"/>
<line x1="438" y1="176" x2="438" y2="320.5" stroke="#dfe4f0" stroke-width="0.6" stroke-dasharray="1.6,1.6" fill="none"/>
<line x1="564.6" y1="176" x2="564.6" y2="320.5" stroke="#dfe4f0" stroke-width="0.6" stroke-dasharray="1.6,1.6" fill="none"/>
<path d="M582.4,212.2 L619,212.2 Q627,212.2 627,220.2 L627,237 Q627,245 619,245 L582.4,245 Z" stroke="#dfe4f0" stroke-width="0.6" stroke-dasharray="1.6,1.6" fill="none"/>
<line x1="425.40" y1="226.40" x2="462.50" y2="226.40" stroke="#f0f2f8" stroke-width="0.9"/>
<path d="M423.40,226.40 L426.60,224.80 L426.60,228.00 Z" fill="#f0f2f8"/>
<path d="M464.50,226.40 L461.30,224.80 L461.30,228.00 Z" fill="#f0f2f8"/>
<line x1="550.00" y1="226.40" x2="596.20" y2="226.40" stroke="#f0f2f8" stroke-width="0.9"/>
<path d="M548.00,226.40 L551.20,224.80 L551.20,228.00 Z" fill="#f0f2f8"/>
<path d="M598.20,226.40 L595.00,224.80 L595.00,228.00 Z" fill="#f0f2f8"/>
<line x1="421.80" y1="306.80" x2="463.40" y2="306.80" stroke="#f0f2f8" stroke-width="0.9"/>
<path d="M419.80,306.80 L423.00,305.20 L423.00,308.40 Z" fill="#f0f2f8"/>
<path d="M465.40,306.80 L462.20,305.20 L462.20,308.40 Z" fill="#f0f2f8"/>
<line x1="546.30" y1="307.30" x2="581.00" y2="307.30" stroke="#f0f2f8" stroke-width="0.9"/>
<path d="M544.30,307.30 L547.50,305.70 L547.50,308.90 Z" fill="#f0f2f8"/>
<path d="M583.00,307.30 L579.80,305.70 L579.80,308.90 Z" fill="#f0f2f8"/>
<text x="444.50" y="224.00" font-size="9.50" fill="#eef0f6" stroke="#eef0f6" stroke-width="0.12" text-anchor="middle" >93 nm</text>
<text x="573.50" y="224.00" font-size="9.50" fill="#eef0f6" stroke="#eef0f6" stroke-width="0.12" text-anchor="middle" >141 nm</text>
<text x="442.20" y="305.50" font-size="9.50" fill="#eef0f6" stroke="#eef0f6" stroke-width="0.12" text-anchor="middle" >94 nm</text>
<text x="564.50" y="305.50" font-size="9.50" fill="#eef0f6" stroke="#eef0f6" stroke-width="0.12" text-anchor="middle" >93 nm</text>
<text x="402.60" y="189.30" font-size="8.80" fill="#eef0f6" stroke="#eef0f6" stroke-width="0.12" text-anchor="start" >EL</text>
<text x="402.60" y="259.50" font-size="8.80" fill="#eef0f6" stroke="#eef0f6" stroke-width="0.12" text-anchor="start" >PL</text>
<text x="513.20" y="190.00" font-size="8.80" fill="#eef0f6" stroke="#eef0f6" stroke-width="0.12" text-anchor="end" >Ar = PXZ</text>
<text x="640.30" y="190.00" font-size="8.80" fill="#eef0f6" stroke="#eef0f6" stroke-width="0.12" text-anchor="end" >Ar = PhPXZ</text>
<text x="629.20" y="62.80" font-size="8.80" fill="#eef0f6" stroke="#eef0f6" stroke-width="0.12" text-anchor="end" >Ar = PXZ</text>
<text x="640.20" y="130.90" font-size="8.80" fill="#eef0f6" stroke="#eef0f6" stroke-width="0.12" text-anchor="end" >Ar = PhPXZ</text>
<text x="463.80" y="40.20" font-size="9.10" fill="#eef0f6" stroke="#eef0f6" stroke-width="0.12" text-anchor="start" >BCPO:20% [ArDBFDP]<tspan font-size="5.4" dy="1.3">2</tspan><tspan dy="-1.3">Cu</tspan><tspan font-size="5.4" dy="1.3">4</tspan><tspan dy="-1.3">I</tspan><tspan font-size="5.4" dy="1.3">4</tspan></text>
<text x="603.00" y="278.20" font-size="8.80" fill="#eef0f6" stroke="#eef0f6" stroke-width="0.12" text-anchor="start" ><tspan font-size="5.5" dy="-3">3</tspan><tspan dy="3">CC</tspan></text>
<path d="M596.3,250.8 L601.6,260.2 L598.5,260.2 L596.5,297.8 L596.1,297.8 L594.1,260.2 L591,260.2 Z" fill="url(#pinkA)"/>
<line x1="416.5" y1="87.5" x2="415.0" y2="146" stroke="#e8ecf4" stroke-width="0.8"/>
<path d="M414.6,152 L412.6,144.5 L416.8,144.8 Z" fill="#eef0f6"/>
<path d="M427.2,81.5 C432,98 442,110 470,124 C500,137 540,146 580,150.3 C600,151.8 615,152.3 630,152.3" stroke="#e8ecf4" stroke-width="0.8" fill="none"/>
<path d="M636,152.4 L629.5,149.8 L629.5,154.8 Z" fill="#eef0f6"/>
<path d="M396.00,24.80 L396.00,27.80 M459.12,24.80 L459.12,27.80 M522.24,24.80 L522.24,27.80 M585.36,24.80 L585.36,27.80 M648.48,24.80 L648.48,27.80 M650.00,26.30 L653.00,26.30 M650.00,43.90 L652.00,43.90 M650.00,61.60 L653.00,61.60 M650.00,80.50 L652.00,80.50 M650.00,94.70 L653.00,94.70 M650.00,102.60 L653.00,102.60 M650.00,116.50 L652.00,116.50 M650.00,134.10 L653.00,134.10 M650.00,152.70 L652.00,152.70 M650.00,169.80 L653.00,169.80 M387.30,36.50 L385.30,36.50 M387.30,58.90 L385.30,58.90 M387.30,81.30 L385.30,81.30 M387.30,103.80 L385.30,103.80 M387.30,126.50 L385.30,126.50 M387.30,148.90 L385.30,148.90 M387.30,171.30 L385.30,171.30 M396.30,322.30 L396.30,319.30 M416.98,322.30 L416.98,320.30 M543.03,322.30 L543.03,320.30 M437.65,322.30 L437.65,319.30 M564.17,322.30 L564.17,319.30 M458.32,322.30 L458.32,320.30 M585.30,322.30 L585.30,320.30 M479.00,322.30 L479.00,319.30 M606.44,322.30 L606.44,319.30 M499.68,322.30 L499.68,320.30 M627.58,322.30 L627.58,320.30 M520.35,322.30 L520.35,319.30 M648.71,322.30 L648.71,319.30 M650.00,175.40 L653.00,175.40 M650.00,193.50 L652.00,193.50 M650.00,211.70 L653.00,211.70 M650.00,229.90 L652.00,229.90 M650.00,248.00 L653.00,248.00 M650.00,266.50 L652.00,266.50 M650.00,285.00 L653.00,285.00 M650.00,303.50 L652.00,303.50 M650.00,321.80 L653.00,321.80" stroke="#5a5050" stroke-width="0.8" fill="none"/>
<text x="395.70" y="20.90" font-size="9.00" fill="#231f20" stroke="#231f20" stroke-width="0.12" text-anchor="middle" >0</text>
<text x="458.70" y="20.90" font-size="9.00" fill="#231f20" stroke="#231f20" stroke-width="0.12" text-anchor="middle" >200</text>
<text x="522.60" y="20.90" font-size="9.00" fill="#231f20" stroke="#231f20" stroke-width="0.12" text-anchor="middle" >400</text>
<text x="585.50" y="20.90" font-size="9.00" fill="#231f20" stroke="#231f20" stroke-width="0.12" text-anchor="middle" >600</text>
<text x="647.80" y="20.90" font-size="9.00" fill="#231f20" stroke="#231f20" stroke-width="0.12" text-anchor="middle" >800</text>
<text x="521.50" y="7.30" font-size="10.30" fill="#231f20" stroke="#231f20" stroke-width="0.12" text-anchor="middle" >Time (<tspan font-style="italic">&#956;</tspan>s)</text>
<text x="654.40" y="29.90" font-size="9.00" fill="#231f20" stroke="#231f20" stroke-width="0.12" text-anchor="start" >800</text>
<text x="654.40" y="65.10" font-size="9.00" fill="#231f20" stroke="#231f20" stroke-width="0.12" text-anchor="start" >600</text>
<text x="654.40" y="97.70" font-size="9.00" fill="#231f20" stroke="#231f20" stroke-width="0.12" text-anchor="start" >400</text>
<text x="654.40" y="105.70" font-size="9.00" fill="#231f20" stroke="#231f20" stroke-width="0.12" text-anchor="start" >800</text>
<text x="654.40" y="137.70" font-size="9.00" fill="#231f20" stroke="#231f20" stroke-width="0.12" text-anchor="start" >600</text>
<text x="654.40" y="173.70" font-size="9.00" fill="#231f20" stroke="#231f20" stroke-width="0.12" text-anchor="start" >400</text>
<text x="381.70" y="174.60" font-size="9.20" fill="#231f20" stroke="#231f20" stroke-width="0.12" text-anchor="end" >0.0</text>
<text x="381.70" y="152.20" font-size="9.20" fill="#231f20" stroke="#231f20" stroke-width="0.12" text-anchor="end" >0.5</text>
<text x="381.70" y="129.80" font-size="9.20" fill="#231f20" stroke="#231f20" stroke-width="0.12" text-anchor="end" >1.0</text>
<text x="381.70" y="107.10" font-size="9.20" fill="#231f20" stroke="#231f20" stroke-width="0.12" text-anchor="end" >1.5</text>
<text x="381.70" y="84.60" font-size="9.20" fill="#231f20" stroke="#231f20" stroke-width="0.12" text-anchor="end" >2.0</text>
<text x="381.70" y="62.20" font-size="9.20" fill="#231f20" stroke="#231f20" stroke-width="0.12" text-anchor="end" >2.5</text>
<text x="381.70" y="39.80" font-size="9.20" fill="#231f20" stroke="#231f20" stroke-width="0.12" text-anchor="end" >3.0</text>
<text x="0.00" y="0.00" font-size="10.30" fill="#231f20" stroke="#231f20" stroke-width="0.12" text-anchor="middle" transform="translate(360.6,98.6) rotate(-90)">Log count (10<tspan font-size="6.5" dy="-3.8">0</tspan><tspan dy="3.8">)</tspan></text>
<text x="0.00" y="0.00" font-size="10.30" fill="#231f20" stroke="#231f20" stroke-width="0.12" text-anchor="middle" transform="translate(683.7,92.3) rotate(-90)">Wavelength (nm)</text>
<text x="0.00" y="0.00" font-size="10.00" fill="#231f20" stroke="#231f20" stroke-width="0.12" text-anchor="middle" transform="translate(683.3,247.3) rotate(-90)">Time (<tspan font-style="italic">&#956;</tspan>s)</text>
<text x="397.00" y="333.20" font-size="9.20" fill="#231f20" stroke="#231f20" stroke-width="0.12" text-anchor="middle" >400</text>
<text x="437.50" y="333.20" font-size="9.20" fill="#231f20" stroke="#231f20" stroke-width="0.12" text-anchor="middle" >500</text>
<text x="479.00" y="333.20" font-size="9.20" fill="#231f20" stroke="#231f20" stroke-width="0.12" text-anchor="middle" >600</text>
<text x="521.50" y="333.20" font-size="9.20" fill="#231f20" stroke="#231f20" stroke-width="0.12" text-anchor="middle" >700</text>
<text x="564.20" y="333.20" font-size="9.20" fill="#231f20" stroke="#231f20" stroke-width="0.12" text-anchor="middle" >500</text>
<text x="606.40" y="333.20" font-size="9.20" fill="#231f20" stroke="#231f20" stroke-width="0.12" text-anchor="middle" >600</text>
<text x="648.70" y="333.20" font-size="9.20" fill="#231f20" stroke="#231f20" stroke-width="0.12" text-anchor="middle" >700</text>
<text x="529.50" y="345.00" font-size="10.30" fill="#231f20" stroke="#231f20" stroke-width="0.12" text-anchor="middle" >Wavelength(nm)</text>
<text x="655.30" y="182.00" font-size="9.00" fill="#231f20" stroke="#231f20" stroke-width="0.12" text-anchor="start" >100</text>
<text x="655.30" y="215.70" font-size="9.00" fill="#231f20" stroke="#231f20" stroke-width="0.12" text-anchor="start" >50</text>
<text x="655.30" y="247.00" font-size="9.00" fill="#231f20" stroke="#231f20" stroke-width="0.12" text-anchor="start" >0</text>
<text x="655.30" y="256.60" font-size="9.00" fill="#231f20" stroke="#231f20" stroke-width="0.12" text-anchor="start" >100</text>
<text x="655.30" y="288.50" font-size="9.00" fill="#231f20" stroke="#231f20" stroke-width="0.12" text-anchor="start" >50</text>
<text x="655.30" y="322.30" font-size="9.00" fill="#231f20" stroke="#231f20" stroke-width="0.12" text-anchor="start" >0</text>
</svg></body></html>
